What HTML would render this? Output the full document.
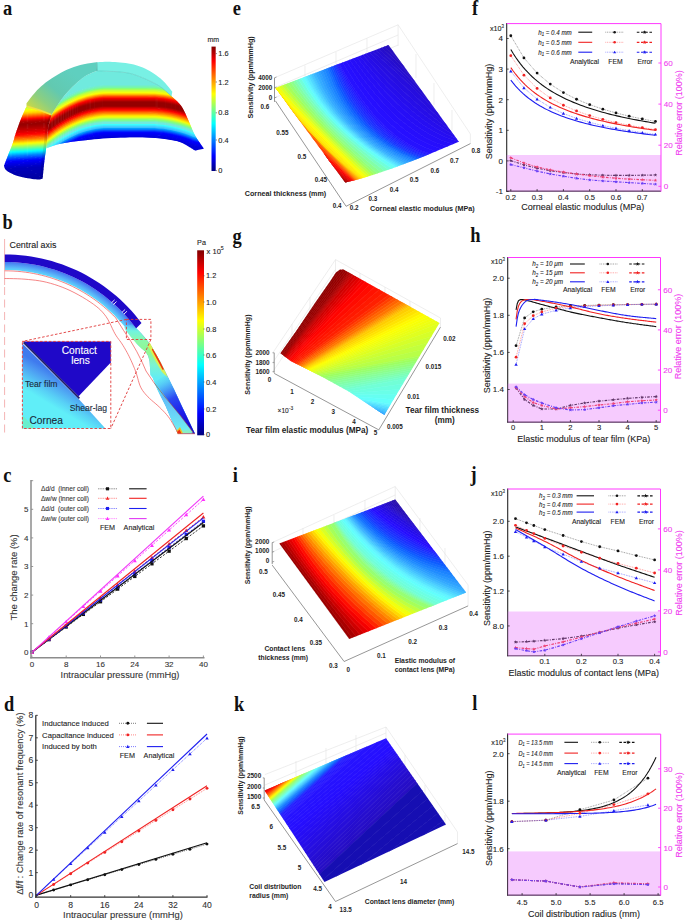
<!DOCTYPE html><html><head><meta charset="utf-8"><title>Figure</title><style>html,body{margin:0;padding:0;background:#fff;width:685px;height:922px;overflow:hidden;}svg{display:block;font-family:"Liberation Sans",sans-serif;}</style></head><body><svg width="685" height="922" viewBox="0 0 685 922" font-family='"Liberation Sans", sans-serif'><defs><linearGradient id="lg1" gradientUnits="userSpaceOnUse" x1="0" y1="46.6" x2="0" y2="171"><stop offset="0" stop-color="#800000"/><stop offset="0.12" stop-color="#ff0000"/><stop offset="0.38" stop-color="#ffff00"/><stop offset="0.62" stop-color="#00ffff"/><stop offset="0.88" stop-color="#0000ff"/><stop offset="1" stop-color="#000080"/></linearGradient><clipPath id="c2"><polygon points="51.4,115.2 52.68,113.1 54.47,110.1 56.58,106.64 58.82,103.14 61,100 63.13,97.24 65.33,94.57 67.59,92 69.92,89.51 72.3,87.1 74.78,84.72 77.36,82.37 79.97,80.14 82.57,78.09 85.1,76.3 87.73,74.77 90.5,73.45 93.14,72.35 95.4,71.46 97,70.8 100.97,70.97 106.68,71.18 113.2,71.48 119.62,71.9 125,72.5 129.19,73.28 132.8,74.2 136.07,75.26 139.26,76.46 142.6,77.8 146.19,79.31 149.86,80.99 153.47,82.78 156.9,84.64 160,86.5 162.86,88.53 165.58,90.77 168.01,92.97 170.03,94.86 171.5,96.2 172.85,97.44 174.77,99.14 176.99,101.18 179.19,103.44 181.1,105.8 182.67,108.29 184.09,111 185.42,113.86 186.74,116.81 188.1,119.8 189.47,122.89 190.81,126.12 192.17,129.39 193.58,132.58 195.1,135.6 196.89,138.6 198.91,141.66 200.93,144.53 202.67,146.96 203.9,148.7 195.1,150.5 193.45,149.47 191.07,147.98 188.44,146.38 186,145 184.07,143.93 182.33,142.99 180.33,142.13 177.6,141.3 173.84,140.48 169.36,139.69 164.6,138.98 160,138.4 155.64,137.97 151.3,137.66 146.96,137.45 142.6,137.3 138.21,137.22 133.81,137.23 129.4,137.3 125,137.4 120.62,137.53 116.24,137.71 111.87,137.93 107.5,138.2 103.14,138.53 98.78,138.92 94.41,139.35 90,139.8 85.39,140.27 80.66,140.78 76.09,141.29 72,141.8 68.61,142.25 65.71,142.66 62.96,143.14 60,143.8 56.43,144.81 52.55,146.08 49.04,147.27 46.6,148.1 48.2,127.3"/></clipPath><clipPath id="c3"><polygon points="26.5,106.4 25.74,108.11 24.65,110.5 23.39,113.32 22.1,116.31 20.9,119.2 19.76,122.12 18.6,125.24 17.46,128.38 16.4,131.36 15.5,134 14.85,136.1 14.4,137.79 14.02,139.35 13.53,141.09 12.8,143.3 11.69,146.24 10.31,149.72 8.85,153.33 7.48,156.69 6.4,159.4 5.63,161.4 5.04,162.97 4.6,164.17 4.26,165.08 4,165.8 4.23,166.44 4.48,167.33 4.88,168.38 5.51,169.47 6.5,170.5 7.88,171.49 9.58,172.53 11.54,173.55 13.7,174.53 16,175.4 18.6,176.19 21.54,176.91 24.58,177.57 27.48,178.13 30,178.6 32.12,178.95 34.01,179.21 35.68,179.37 37.17,179.47 38.5,179.5 39.67,179.44 40.65,179.26 41.47,179.04 42.11,178.84 42.6,178.7 42.86,176.1 43.21,172.39 43.63,168.11 44.08,163.8 44.5,160 44.92,156.81 45.35,153.86 45.79,151.02 46.21,148.11 46.6,145 46.93,141.54 47.2,137.85 47.47,134.11 47.79,130.52 48.2,127.3 48.79,124.33 49.52,121.48 50.27,118.9 50.94,116.76 51.4,115.2 49.88,114.52 47.76,113.54 45.26,112.42 42.6,111.29 40,110.3 37.22,109.39 34.1,108.48 31.03,107.63 28.37,106.91 26.5,106.4"/></clipPath><linearGradient id="lg4" gradientUnits="userSpaceOnUse" x1="70" y1="70" x2="35" y2="112"><stop offset="0" stop-color="#5fcfbf"/><stop offset="0.45" stop-color="#62c9b0"/><stop offset="0.75" stop-color="#8ccf80"/><stop offset="1" stop-color="#c8d848"/></linearGradient><linearGradient id="lg5" gradientUnits="userSpaceOnUse" x1="0" y1="250.3" x2="0" y2="435.3"><stop offset="0" stop-color="#800000"/><stop offset="0.12" stop-color="#ff0000"/><stop offset="0.38" stop-color="#ffff00"/><stop offset="0.62" stop-color="#00ffff"/><stop offset="0.88" stop-color="#0000ff"/><stop offset="1" stop-color="#000080"/></linearGradient><radialGradient id="rg6" gradientUnits="userSpaceOnUse" cx="4.8" cy="425" r="163.5"><stop offset="0" stop-color="#5af0ff"/><stop offset="0.94" stop-color="#5ae8fa"/><stop offset="0.96" stop-color="#5cc0fa"/><stop offset="0.99" stop-color="#4a84f2"/><stop offset="1" stop-color="#3e70ee"/></radialGradient><linearGradient id="lg7" gradientUnits="userSpaceOnUse" x1="0" y1="322" x2="0" y2="434"><stop offset="0" stop-color="#5ae8fa" stop-opacity="0"/><stop offset="0.08" stop-color="#70f4e0"/><stop offset="0.17" stop-color="#8cf8a8"/><stop offset="0.27" stop-color="#90f890"/><stop offset="0.38" stop-color="#7cf4d0"/><stop offset="0.5" stop-color="#62ecf4"/><stop offset="1" stop-color="#5ae4f8"/></linearGradient><linearGradient id="lg8" gradientUnits="userSpaceOnUse" x1="158" y1="376" x2="186" y2="428"><stop offset="0" stop-color="#5ad8f8" stop-opacity="0"/><stop offset="0.22" stop-color="#4aa8f8" stop-opacity="0.85"/><stop offset="0.45" stop-color="#2a48f2"/><stop offset="0.75" stop-color="#1c1ce8"/><stop offset="1" stop-color="#1808d0"/></linearGradient><linearGradient id="lg9" gradientUnits="userSpaceOnUse" x1="0" y1="382" x2="0" y2="434"><stop offset="0" stop-color="#5ae8fa" stop-opacity="0"/><stop offset="0.3" stop-color="#62b8f8" stop-opacity="0.9"/><stop offset="0.6" stop-color="#6ad0f8" stop-opacity="0.9"/><stop offset="0.9" stop-color="#70ecf0"/><stop offset="1" stop-color="#a0f0a0"/></linearGradient><linearGradient id="lg10" gradientUnits="userSpaceOnUse" x1="40" y1="360" x2="25" y2="385"><stop offset="0" stop-color="#4a80f0"/><stop offset="1" stop-color="#5ee8f8"/></linearGradient><linearGradient id="lg11" gradientUnits="userSpaceOnUse" x1="51" y1="371" x2="36" y2="396"><stop offset="0" stop-color="#3f7aee"/><stop offset="0.25" stop-color="#4c98f2"/><stop offset="0.7" stop-color="#58d0f6"/><stop offset="1" stop-color="#60eef8"/></linearGradient><clipPath id="c12"><polygon points="275.4,88.1 388.5,45.1 458.8,141.7 458.8,141.7 447.45,146.48 436.1,151.22 424.75,155.88 413.4,160.41 402.05,164.77 390.7,168.93 379.35,172.83 368,176.44 356.65,179.71 345.3,182.6"/></clipPath><clipPath id="c13"><polygon points="280.5,353.3 296.3,330.9 314.7,303.4 330.4,281 336,272.5 339.6,269.8 343.5,269.6 347,271.5 439.5,323.1 384.3,415 348.8,391.4 322.5,376.9 304.2,367.7 291,361.2"/></clipPath><clipPath id="c14"><polygon points="279.3,543.6 395.2,499.6 466.2,592.5 349.3,639"/></clipPath><clipPath id="c15"><polygon points="264.6,790.5 386,738.2 446,824.6 324.5,881.9"/></clipPath></defs><rect x="211.5" y="46.6" width="4.2" height="124.4" fill="url(#lg1)"/><text x="213.3" y="42" font-size="7" text-anchor="middle" fill="#222" stroke="#222" stroke-width="0.1">mm</text><line x1="215.7" y1="53.6" x2="217" y2="53.6" stroke="#444" stroke-width="0.6"/><text x="218.3" y="56.2" font-size="7.4" text-anchor="start" fill="#222" stroke="#222" stroke-width="0.1">1.6</text><line x1="215.7" y1="82" x2="217" y2="82" stroke="#444" stroke-width="0.6"/><text x="218.3" y="84.6" font-size="7.4" text-anchor="start" fill="#222" stroke="#222" stroke-width="0.1">1.2</text><line x1="215.7" y1="112.8" x2="217" y2="112.8" stroke="#444" stroke-width="0.6"/><text x="218.3" y="115.4" font-size="7.4" text-anchor="start" fill="#222" stroke="#222" stroke-width="0.1">0.8</text><line x1="215.7" y1="140" x2="217" y2="140" stroke="#444" stroke-width="0.6"/><text x="218.3" y="142.6" font-size="7.4" text-anchor="start" fill="#222" stroke="#222" stroke-width="0.1">0.4</text><line x1="215.7" y1="170.6" x2="217" y2="170.6" stroke="#444" stroke-width="0.6"/><text x="218.3" y="173.2" font-size="7.4" text-anchor="start" fill="#222" stroke="#222" stroke-width="0.1">0</text><g clip-path="url(#c2)"><polygon points="40,70.52 44.25,66.82 48.5,63.37 52.75,60.15 57,57.17 61.25,54.42 65.5,51.92 69.75,49.66 74,47.63 78.25,45.84 82.5,44.29 86.75,42.98 91,41.91 95.25,41.07 99.5,40.48 103.75,40.12 108,40 112.25,40 116.5,40 120.75,40 125,40 129.25,40 133.5,40 137.75,40 142,40 146.25,40 150.5,40 154.75,40.11 159,40.38 163.25,40.83 167.5,41.44 171.75,42.22 176,43.18 180.25,44.3 184.5,45.59 188.75,47.06 193,48.69 197.25,50 201.5,50 205.75,50 210,50 210,61.7 205.75,61.7 201.5,61.7 197.25,61.7 193,60.39 188.75,58.76 184.5,57.29 180.25,56 176,54.88 171.75,53.92 167.5,53.14 163.25,52.53 159,52.08 154.75,51.81 150.5,51.7 146.25,51.7 142,51.7 137.75,51.7 133.5,51.7 129.25,51.7 125,51.7 120.75,51.7 116.5,51.7 112.25,51.7 108,51.7 103.75,51.82 99.5,52.18 95.25,52.77 91,53.61 86.75,54.68 82.5,55.99 78.25,57.54 74,59.33 69.75,61.36 65.5,63.62 61.25,66.12 57,68.87 52.75,71.85 48.5,75.07 44.25,78.52 40,82.22" fill="#70eade"/><polygon points="40,81.52 44.25,77.82 48.5,74.37 52.75,71.15 57,68.17 61.25,65.42 65.5,62.92 69.75,60.66 74,58.63 78.25,56.84 82.5,55.29 86.75,53.98 91,52.91 95.25,52.07 99.5,51.48 103.75,51.12 108,51 112.25,51 116.5,51 120.75,51 125,51 129.25,51 133.5,51 137.75,51 142,51 146.25,51 150.5,51 154.75,51.11 159,51.38 163.25,51.83 167.5,52.44 171.75,53.22 176,54.18 180.25,55.3 184.5,56.59 188.75,58.06 193,59.69 197.25,61 201.5,61 205.75,61 210,61 210,72.7 205.75,72.7 201.5,72.7 197.25,72.7 193,71.39 188.75,69.76 184.5,68.29 180.25,67 176,65.88 171.75,64.92 167.5,64.14 163.25,63.53 159,63.08 154.75,62.81 150.5,62.7 146.25,62.7 142,62.7 137.75,62.7 133.5,62.7 129.25,62.7 125,62.7 120.75,62.7 116.5,62.7 112.25,62.7 108,62.7 103.75,62.82 99.5,63.18 95.25,63.77 91,64.61 86.75,65.68 82.5,66.99 78.25,68.54 74,70.33 69.75,72.36 65.5,74.62 61.25,77.12 57,79.87 52.75,82.85 48.5,86.07 44.25,89.52 40,93.22" fill="#70eade"/><polygon points="40,92.52 44.25,88.82 48.5,85.37 52.75,82.15 57,79.17 61.25,76.42 65.5,73.92 69.75,71.66 74,69.63 78.25,67.84 82.5,66.29 86.75,64.98 91,63.91 95.25,63.07 99.5,62.48 103.75,62.12 108,62 112.25,62 116.5,62 120.75,62 125,62 129.25,62 133.5,62 137.75,62 142,62 146.25,62 150.5,62 154.75,62.11 159,62.38 163.25,62.83 167.5,63.44 171.75,64.22 176,65.18 180.25,66.3 184.5,67.59 188.75,69.06 193,70.69 197.25,72 201.5,72 205.75,72 210,72 210,83.7 205.75,83.7 201.5,83.7 197.25,83.7 193,82.39 188.75,80.76 184.5,79.29 180.25,78 176,76.88 171.75,75.92 167.5,75.14 163.25,74.53 159,74.08 154.75,73.81 150.5,73.7 146.25,73.7 142,73.7 137.75,73.7 133.5,73.7 129.25,73.7 125,73.7 120.75,73.7 116.5,73.7 112.25,73.7 108,73.7 103.75,73.82 99.5,74.18 95.25,74.77 91,75.61 86.75,76.68 82.5,77.99 78.25,79.54 74,81.33 69.75,83.36 65.5,85.62 61.25,88.12 57,90.87 52.75,93.85 48.5,97.07 44.25,100.52 40,104.22" fill="#70eade"/><polygon points="40,103.52 44.25,99.82 48.5,96.37 52.75,93.15 57,90.17 61.25,87.42 65.5,84.92 69.75,82.66 74,80.63 78.25,78.84 82.5,77.29 86.75,75.98 91,74.91 95.25,74.07 99.5,73.48 103.75,73.12 108,73 112.25,73 116.5,73 120.75,73 125,73 129.25,73 133.5,73 137.75,73 142,73 146.25,73 150.5,73 154.75,73.11 159,73.38 163.25,73.83 167.5,74.44 171.75,75.22 176,76.18 180.25,77.3 184.5,78.59 188.75,80.06 193,81.69 197.25,83 201.5,83 205.75,83 210,83 210,94.7 205.75,94.7 201.5,94.7 197.25,94.7 193,93.39 188.75,91.76 184.5,90.29 180.25,89 176,87.88 171.75,86.92 167.5,86.14 163.25,85.53 159,85.08 154.75,84.81 150.5,84.7 146.25,84.7 142,84.7 137.75,84.7 133.5,84.7 129.25,84.7 125,84.7 120.75,84.7 116.5,84.7 112.25,84.7 108,84.7 103.75,84.82 99.5,85.18 95.25,85.77 91,86.61 86.75,87.68 82.5,88.99 78.25,90.54 74,92.33 69.75,94.36 65.5,96.62 61.25,99.12 57,101.87 52.75,104.85 48.5,108.07 44.25,111.52 40,115.22" fill="#70eade"/><polygon points="40,114.52 44.25,110.82 48.5,107.37 52.75,104.15 57,101.17 61.25,98.42 65.5,95.92 69.75,93.66 74,91.63 78.25,89.84 82.5,88.29 86.75,86.98 91,85.91 95.25,85.07 99.5,84.48 103.75,84.12 108,84 112.25,84 116.5,84 120.75,84 125,84 129.25,84 133.5,84 137.75,84 142,84 146.25,84 150.5,84 154.75,84.11 159,84.38 163.25,84.83 167.5,85.44 171.75,86.22 176,87.18 180.25,88.3 184.5,89.59 188.75,91.06 193,92.69 197.25,94 201.5,94 205.75,94 210,94 210,95.58 205.75,95.58 201.5,95.58 197.25,95.58 193,94.27 188.75,92.63 184.5,91.17 180.25,89.88 176,88.75 171.75,87.8 167.5,87.01 163.25,86.4 159,85.96 154.75,85.68 150.5,85.58 146.25,85.58 142,85.58 137.75,85.58 133.5,85.58 129.25,85.58 125,85.58 120.75,85.58 116.5,85.58 112.25,85.58 108,85.58 103.75,85.69 99.5,86.05 95.25,86.65 91,87.48 86.75,88.56 82.5,89.87 78.25,91.42 74,93.2 69.75,95.23 65.5,97.5 61.25,100 57,102.74 52.75,105.72 48.5,108.94 44.25,112.4 40,116.09" fill="#70eade"/><polygon points="40,115.39 44.25,111.7 48.5,108.24 52.75,105.02 57,102.04 61.25,99.3 65.5,96.8 69.75,94.53 74,92.5 78.25,90.72 82.5,89.17 86.75,87.86 91,86.78 95.25,85.95 99.5,85.35 103.75,84.99 108,84.88 112.25,84.88 116.5,84.88 120.75,84.88 125,84.88 129.25,84.88 133.5,84.88 137.75,84.88 142,84.88 146.25,84.88 150.5,84.88 154.75,84.98 159,85.26 163.25,85.7 167.5,86.31 171.75,87.1 176,88.05 180.25,89.18 184.5,90.47 188.75,91.93 193,93.57 197.25,94.88 201.5,94.88 205.75,94.88 210,94.88 210,96.45 205.75,96.45 201.5,96.45 197.25,96.45 193,95.14 188.75,93.51 184.5,92.04 180.25,90.75 176,89.63 171.75,88.67 167.5,87.89 163.25,87.28 159,86.83 154.75,86.56 150.5,86.45 146.25,86.45 142,86.45 137.75,86.45 133.5,86.45 129.25,86.45 125,86.45 120.75,86.45 116.5,86.45 112.25,86.45 108,86.45 103.75,86.57 99.5,86.93 95.25,87.52 91,88.36 86.75,89.43 82.5,90.74 78.25,92.29 74,94.08 69.75,96.11 65.5,98.37 61.25,100.87 57,103.62 52.75,106.6 48.5,109.82 44.25,113.27 40,116.97" fill="#72edd2"/><polygon points="40,116.27 44.25,112.57 48.5,109.12 52.75,105.9 57,102.92 61.25,100.17 65.5,97.67 69.75,95.41 74,93.38 78.25,91.59 82.5,90.04 86.75,88.73 91,87.66 95.25,86.82 99.5,86.23 103.75,85.87 108,85.75 112.25,85.75 116.5,85.75 120.75,85.75 125,85.75 129.25,85.75 133.5,85.75 137.75,85.75 142,85.75 146.25,85.75 150.5,85.75 154.75,85.86 159,86.13 163.25,86.58 167.5,87.19 171.75,87.97 176,88.93 180.25,90.05 184.5,91.34 188.75,92.81 193,94.44 197.25,95.75 201.5,95.75 205.75,95.75 210,95.75 210,97.33 205.75,97.33 201.5,97.33 197.25,97.33 193,96.02 188.75,94.38 184.5,92.92 180.25,91.63 176,90.5 171.75,89.55 167.5,88.76 163.25,88.15 159,87.71 154.75,87.43 150.5,87.33 146.25,87.33 142,87.33 137.75,87.33 133.5,87.33 129.25,87.33 125,87.33 120.75,87.33 116.5,87.33 112.25,87.33 108,87.33 103.75,87.44 99.5,87.8 95.25,88.4 91,89.23 86.75,90.31 82.5,91.62 78.25,93.17 74,94.95 69.75,96.98 65.5,99.25 61.25,101.75 57,104.49 52.75,107.47 48.5,110.69 44.25,114.15 40,117.84" fill="#75f0c1"/><polygon points="40,117.14 44.25,113.45 48.5,109.99 52.75,106.77 57,103.79 61.25,101.05 65.5,98.55 69.75,96.28 74,94.25 78.25,92.47 82.5,90.92 86.75,89.61 91,88.53 95.25,87.7 99.5,87.1 103.75,86.74 108,86.62 112.25,86.62 116.5,86.62 120.75,86.62 125,86.62 129.25,86.62 133.5,86.62 137.75,86.62 142,86.62 146.25,86.62 150.5,86.63 154.75,86.73 159,87.01 163.25,87.45 167.5,88.06 171.75,88.85 176,89.8 180.25,90.93 184.5,92.22 188.75,93.68 193,95.32 197.25,96.62 201.5,96.62 205.75,96.62 210,96.62 210,98.2 205.75,98.2 201.5,98.2 197.25,98.2 193,96.89 188.75,95.26 184.5,93.79 180.25,92.5 176,91.38 171.75,90.42 167.5,89.64 163.25,89.03 159,88.58 154.75,88.31 150.5,88.2 146.25,88.2 142,88.2 137.75,88.2 133.5,88.2 129.25,88.2 125,88.2 120.75,88.2 116.5,88.2 112.25,88.2 108,88.2 103.75,88.32 99.5,88.68 95.25,89.27 91,90.11 86.75,91.18 82.5,92.49 78.25,94.04 74,95.83 69.75,97.86 65.5,100.12 61.25,102.62 57,105.37 52.75,108.35 48.5,111.57 44.25,115.02 40,118.72" fill="#77f4b0"/><polygon points="40,118.02 44.25,114.32 48.5,110.87 52.75,107.65 57,104.67 61.25,101.92 65.5,99.42 69.75,97.16 74,95.13 78.25,93.34 82.5,91.79 86.75,90.48 91,89.41 95.25,88.57 99.5,87.98 103.75,87.62 108,87.5 112.25,87.5 116.5,87.5 120.75,87.5 125,87.5 129.25,87.5 133.5,87.5 137.75,87.5 142,87.5 146.25,87.5 150.5,87.5 154.75,87.61 159,87.88 163.25,88.33 167.5,88.94 171.75,89.72 176,90.68 180.25,91.8 184.5,93.09 188.75,94.56 193,96.19 197.25,97.5 201.5,97.5 205.75,97.5 210,97.5 210,98.83 205.75,98.83 201.5,98.83 197.25,98.83 193,97.52 188.75,95.88 184.5,94.42 180.25,93.13 176,92 171.75,91.05 167.5,90.26 163.25,89.65 159,89.21 154.75,88.93 150.5,88.83 146.25,88.83 142,88.83 137.75,88.83 133.5,88.83 129.25,88.83 125,88.83 120.75,88.83 116.5,88.83 112.25,88.83 108,88.83 103.75,88.94 99.5,89.3 95.25,89.9 91,90.73 86.75,91.81 82.5,93.12 78.25,94.67 74,96.45 69.75,98.48 65.5,100.75 61.25,103.25 57,105.99 52.75,108.97 48.5,112.19 44.25,115.65 40,119.34" fill="#7bf999"/><polygon points="40,118.64 44.25,114.95 48.5,111.49 52.75,108.27 57,105.29 61.25,102.55 65.5,100.05 69.75,97.78 74,95.75 78.25,93.97 82.5,92.42 86.75,91.11 91,90.03 95.25,89.2 99.5,88.6 103.75,88.24 108,88.12 112.25,88.12 116.5,88.12 120.75,88.12 125,88.12 129.25,88.12 133.5,88.12 137.75,88.12 142,88.12 146.25,88.12 150.5,88.13 154.75,88.23 159,88.51 163.25,88.95 167.5,89.56 171.75,90.35 176,91.3 180.25,92.43 184.5,93.72 188.75,95.18 193,96.82 197.25,98.12 201.5,98.12 205.75,98.12 210,98.12 210,99.45 205.75,99.45 201.5,99.45 197.25,99.45 193,98.14 188.75,96.51 184.5,95.04 180.25,93.75 176,92.63 171.75,91.67 167.5,90.89 163.25,90.28 159,89.83 154.75,89.56 150.5,89.45 146.25,89.45 142,89.45 137.75,89.45 133.5,89.45 129.25,89.45 125,89.45 120.75,89.45 116.5,89.45 112.25,89.45 108,89.45 103.75,89.57 99.5,89.93 95.25,90.52 91,91.36 86.75,92.43 82.5,93.74 78.25,95.29 74,97.08 69.75,99.11 65.5,101.37 61.25,103.87 57,106.62 52.75,109.6 48.5,112.82 44.25,116.27 40,119.97" fill="#83ff7c"/><polygon points="40,119.27 44.25,115.57 48.5,112.12 52.75,108.9 57,105.92 61.25,103.17 65.5,100.67 69.75,98.41 74,96.38 78.25,94.59 82.5,93.04 86.75,91.73 91,90.66 95.25,89.82 99.5,89.23 103.75,88.87 108,88.75 112.25,88.75 116.5,88.75 120.75,88.75 125,88.75 129.25,88.75 133.5,88.75 137.75,88.75 142,88.75 146.25,88.75 150.5,88.75 154.75,88.86 159,89.13 163.25,89.58 167.5,90.19 171.75,90.97 176,91.93 180.25,93.05 184.5,94.34 188.75,95.81 193,97.44 197.25,98.75 201.5,98.75 205.75,98.75 210,98.75 210,100.08 205.75,100.08 201.5,100.08 197.25,100.08 193,98.77 188.75,97.13 184.5,95.67 180.25,94.38 176,93.25 171.75,92.3 167.5,91.51 163.25,90.9 159,90.46 154.75,90.18 150.5,90.08 146.25,90.08 142,90.08 137.75,90.08 133.5,90.08 129.25,90.08 125,90.08 120.75,90.08 116.5,90.08 112.25,90.08 108,90.08 103.75,90.19 99.5,90.55 95.25,91.15 91,91.98 86.75,93.06 82.5,94.37 78.25,95.92 74,97.7 69.75,99.73 65.5,102 61.25,104.5 57,107.24 52.75,110.22 48.5,113.44 44.25,116.9 40,120.59" fill="#9aff65"/><polygon points="40,119.89 44.25,116.2 48.5,112.74 52.75,109.52 57,106.54 61.25,103.8 65.5,101.3 69.75,99.03 74,97 78.25,95.22 82.5,93.67 86.75,92.36 91,91.28 95.25,90.45 99.5,89.85 103.75,89.49 108,89.38 112.25,89.38 116.5,89.38 120.75,89.38 125,89.38 129.25,89.38 133.5,89.38 137.75,89.38 142,89.38 146.25,89.38 150.5,89.38 154.75,89.48 159,89.76 163.25,90.2 167.5,90.81 171.75,91.6 176,92.55 180.25,93.68 184.5,94.97 188.75,96.43 193,98.07 197.25,99.38 201.5,99.38 205.75,99.38 210,99.38 210,100.7 205.75,100.7 201.5,100.7 197.25,100.7 193,99.39 188.75,97.76 184.5,96.29 180.25,95 176,93.88 171.75,92.92 167.5,92.14 163.25,91.53 159,91.08 154.75,90.81 150.5,90.7 146.25,90.7 142,90.7 137.75,90.7 133.5,90.7 129.25,90.7 125,90.7 120.75,90.7 116.5,90.7 112.25,90.7 108,90.7 103.75,90.82 99.5,91.18 95.25,91.77 91,92.61 86.75,93.68 82.5,94.99 78.25,96.54 74,98.33 69.75,100.36 65.5,102.62 61.25,105.12 57,107.87 52.75,110.85 48.5,114.07 44.25,117.52 40,121.22" fill="#b1ff4e"/><polygon points="40,120.52 44.25,116.82 48.5,113.37 52.75,110.15 57,107.17 61.25,104.42 65.5,101.92 69.75,99.66 74,97.63 78.25,95.84 82.5,94.29 86.75,92.98 91,91.91 95.25,91.07 99.5,90.48 103.75,90.12 108,90 112.25,90 116.5,90 120.75,90 125,90 129.25,90 133.5,90 137.75,90 142,90 146.25,90 150.5,90 154.75,90.11 159,90.38 163.25,90.83 167.5,91.44 171.75,92.22 176,93.18 180.25,94.3 184.5,95.59 188.75,97.06 193,98.69 197.25,100 201.5,100 205.75,100 210,100 210,101.45 205.75,101.45 201.5,101.45 197.25,101.45 193,100.14 188.75,98.51 184.5,97.04 180.25,95.75 176,94.63 171.75,93.67 167.5,92.89 163.25,92.28 159,91.83 154.75,91.56 150.5,91.45 146.25,91.45 142,91.45 137.75,91.45 133.5,91.45 129.25,91.45 125,91.45 120.75,91.45 116.5,91.45 112.25,91.45 108,91.45 103.75,91.57 99.5,91.93 95.25,92.52 91,93.36 86.75,94.43 82.5,95.74 78.25,97.29 74,99.08 69.75,101.11 65.5,103.37 61.25,105.87 57,108.62 52.75,111.6 48.5,114.82 44.25,118.27 40,121.97" fill="#c5ff3a"/><polygon points="40,121.27 44.25,117.57 48.5,114.12 52.75,110.9 57,107.92 61.25,105.17 65.5,102.67 69.75,100.41 74,98.38 78.25,96.59 82.5,95.04 86.75,93.73 91,92.66 95.25,91.82 99.5,91.23 103.75,90.87 108,90.75 112.25,90.75 116.5,90.75 120.75,90.75 125,90.75 129.25,90.75 133.5,90.75 137.75,90.75 142,90.75 146.25,90.75 150.5,90.75 154.75,90.86 159,91.13 163.25,91.58 167.5,92.19 171.75,92.97 176,93.93 180.25,95.05 184.5,96.34 188.75,97.81 193,99.44 197.25,100.75 201.5,100.75 205.75,100.75 210,100.75 210,102.2 205.75,102.2 201.5,102.2 197.25,102.2 193,100.89 188.75,99.26 184.5,97.79 180.25,96.5 176,95.38 171.75,94.42 167.5,93.64 163.25,93.03 159,92.58 154.75,92.31 150.5,92.2 146.25,92.2 142,92.2 137.75,92.2 133.5,92.2 129.25,92.2 125,92.2 120.75,92.2 116.5,92.2 112.25,92.2 108,92.2 103.75,92.32 99.5,92.68 95.25,93.27 91,94.11 86.75,95.18 82.5,96.49 78.25,98.04 74,99.83 69.75,101.86 65.5,104.12 61.25,106.62 57,109.37 52.75,112.35 48.5,115.57 44.25,119.02 40,122.72" fill="#d6ff29"/><polygon points="40,122.02 44.25,118.32 48.5,114.87 52.75,111.65 57,108.67 61.25,105.92 65.5,103.42 69.75,101.16 74,99.13 78.25,97.34 82.5,95.79 86.75,94.48 91,93.41 95.25,92.57 99.5,91.98 103.75,91.62 108,91.5 112.25,91.5 116.5,91.5 120.75,91.5 125,91.5 129.25,91.5 133.5,91.5 137.75,91.5 142,91.5 146.25,91.5 150.5,91.5 154.75,91.61 159,91.88 163.25,92.33 167.5,92.94 171.75,93.72 176,94.68 180.25,95.8 184.5,97.09 188.75,98.56 193,100.19 197.25,101.5 201.5,101.5 205.75,101.5 210,101.5 210,102.95 205.75,102.95 201.5,102.95 197.25,102.95 193,101.64 188.75,100.01 184.5,98.54 180.25,97.25 176,96.13 171.75,95.17 167.5,94.39 163.25,93.78 159,93.33 154.75,93.06 150.5,92.95 146.25,92.95 142,92.95 137.75,92.95 133.5,92.95 129.25,92.95 125,92.95 120.75,92.95 116.5,92.95 112.25,92.95 108,92.95 103.75,93.07 99.5,93.43 95.25,94.02 91,94.86 86.75,95.93 82.5,97.24 78.25,98.79 74,100.58 69.75,102.61 65.5,104.87 61.25,107.37 57,110.12 52.75,113.1 48.5,116.32 44.25,119.77 40,123.47" fill="#e6ff19"/><polygon points="40,122.77 44.25,119.07 48.5,115.62 52.75,112.4 57,109.42 61.25,106.67 65.5,104.17 69.75,101.91 74,99.88 78.25,98.09 82.5,96.54 86.75,95.23 91,94.16 95.25,93.32 99.5,92.73 103.75,92.37 108,92.25 112.25,92.25 116.5,92.25 120.75,92.25 125,92.25 129.25,92.25 133.5,92.25 137.75,92.25 142,92.25 146.25,92.25 150.5,92.25 154.75,92.36 159,92.63 163.25,93.08 167.5,93.69 171.75,94.47 176,95.43 180.25,96.55 184.5,97.84 188.75,99.31 193,100.94 197.25,102.25 201.5,102.25 205.75,102.25 210,102.25 210,103.7 205.75,103.7 201.5,103.7 197.25,103.7 193,102.39 188.75,100.76 184.5,99.29 180.25,98 176,96.88 171.75,95.92 167.5,95.14 163.25,94.53 159,94.08 154.75,93.81 150.5,93.7 146.25,93.7 142,93.7 137.75,93.7 133.5,93.7 129.25,93.7 125,93.7 120.75,93.7 116.5,93.7 112.25,93.7 108,93.7 103.75,93.82 99.5,94.18 95.25,94.77 91,95.61 86.75,96.68 82.5,97.99 78.25,99.54 74,101.33 69.75,103.36 65.5,105.62 61.25,108.12 57,110.87 52.75,113.85 48.5,117.07 44.25,120.52 40,124.22" fill="#f7ff08"/><polygon points="40,123.52 44.25,119.82 48.5,116.37 52.75,113.15 57,110.17 61.25,107.42 65.5,104.92 69.75,102.66 74,100.63 78.25,98.84 82.5,97.29 86.75,95.98 91,94.91 95.25,94.07 99.5,93.48 103.75,93.12 108,93 112.25,93 116.5,93 120.75,93 125,93 129.25,93 133.5,93 137.75,93 142,93 146.25,93 150.5,93 154.75,93.11 159,93.38 163.25,93.83 167.5,94.44 171.75,95.22 176,96.18 180.25,97.3 184.5,98.59 188.75,100.06 193,101.69 197.25,103 201.5,103 205.75,103 210,103 210,104.33 205.75,104.33 201.5,104.33 197.25,104.33 193,103.02 188.75,101.38 184.5,99.92 180.25,98.63 176,97.5 171.75,96.55 167.5,95.76 163.25,95.15 159,94.71 154.75,94.43 150.5,94.33 146.25,94.33 142,94.33 137.75,94.33 133.5,94.33 129.25,94.33 125,94.33 120.75,94.33 116.5,94.33 112.25,94.33 108,94.33 103.75,94.44 99.5,94.8 95.25,95.4 91,96.23 86.75,97.31 82.5,98.62 78.25,100.17 74,101.95 69.75,103.98 65.5,106.25 61.25,108.75 57,111.49 52.75,114.47 48.5,117.69 44.25,121.15 40,124.84" fill="#ffef00"/><polygon points="40,124.14 44.25,120.45 48.5,116.99 52.75,113.77 57,110.79 61.25,108.05 65.5,105.55 69.75,103.28 74,101.25 78.25,99.47 82.5,97.92 86.75,96.61 91,95.53 95.25,94.7 99.5,94.1 103.75,93.74 108,93.62 112.25,93.62 116.5,93.62 120.75,93.62 125,93.62 129.25,93.62 133.5,93.62 137.75,93.62 142,93.62 146.25,93.62 150.5,93.63 154.75,93.73 159,94.01 163.25,94.45 167.5,95.06 171.75,95.85 176,96.8 180.25,97.93 184.5,99.22 188.75,100.68 193,102.32 197.25,103.62 201.5,103.62 205.75,103.62 210,103.62 210,104.95 205.75,104.95 201.5,104.95 197.25,104.95 193,103.64 188.75,102.01 184.5,100.54 180.25,99.25 176,98.13 171.75,97.17 167.5,96.39 163.25,95.78 159,95.33 154.75,95.06 150.5,94.95 146.25,94.95 142,94.95 137.75,94.95 133.5,94.95 129.25,94.95 125,94.95 120.75,94.95 116.5,94.95 112.25,94.95 108,94.95 103.75,95.07 99.5,95.43 95.25,96.02 91,96.86 86.75,97.93 82.5,99.24 78.25,100.79 74,102.58 69.75,104.61 65.5,106.87 61.25,109.37 57,112.12 52.75,115.1 48.5,118.32 44.25,121.77 40,125.47" fill="#ffcf00"/><polygon points="40,124.77 44.25,121.07 48.5,117.62 52.75,114.4 57,111.42 61.25,108.67 65.5,106.17 69.75,103.91 74,101.88 78.25,100.09 82.5,98.54 86.75,97.23 91,96.16 95.25,95.32 99.5,94.73 103.75,94.37 108,94.25 112.25,94.25 116.5,94.25 120.75,94.25 125,94.25 129.25,94.25 133.5,94.25 137.75,94.25 142,94.25 146.25,94.25 150.5,94.25 154.75,94.36 159,94.63 163.25,95.08 167.5,95.69 171.75,96.47 176,97.43 180.25,98.55 184.5,99.84 188.75,101.31 193,102.94 197.25,104.25 201.5,104.25 205.75,104.25 210,104.25 210,105.58 205.75,105.58 201.5,105.58 197.25,105.58 193,104.27 188.75,102.63 184.5,101.17 180.25,99.88 176,98.75 171.75,97.8 167.5,97.01 163.25,96.4 159,95.96 154.75,95.68 150.5,95.58 146.25,95.58 142,95.58 137.75,95.58 133.5,95.58 129.25,95.58 125,95.58 120.75,95.58 116.5,95.58 112.25,95.58 108,95.58 103.75,95.69 99.5,96.05 95.25,96.65 91,97.48 86.75,98.56 82.5,99.87 78.25,101.42 74,103.2 69.75,105.23 65.5,107.5 61.25,110 57,112.74 52.75,115.72 48.5,118.94 44.25,122.4 40,126.09" fill="#ffaf00"/><polygon points="40,125.39 44.25,121.7 48.5,118.24 52.75,115.02 57,112.04 61.25,109.3 65.5,106.8 69.75,104.53 74,102.5 78.25,100.72 82.5,99.17 86.75,97.86 91,96.78 95.25,95.95 99.5,95.35 103.75,94.99 108,94.88 112.25,94.88 116.5,94.88 120.75,94.88 125,94.88 129.25,94.88 133.5,94.88 137.75,94.88 142,94.88 146.25,94.88 150.5,94.88 154.75,94.98 159,95.26 163.25,95.7 167.5,96.31 171.75,97.1 176,98.05 180.25,99.18 184.5,100.47 188.75,101.93 193,103.57 197.25,104.88 201.5,104.88 205.75,104.88 210,104.88 210,106.2 205.75,106.2 201.5,106.2 197.25,106.2 193,104.89 188.75,103.26 184.5,101.79 180.25,100.5 176,99.38 171.75,98.42 167.5,97.64 163.25,97.03 159,96.58 154.75,96.31 150.5,96.2 146.25,96.2 142,96.2 137.75,96.2 133.5,96.2 129.25,96.2 125,96.2 120.75,96.2 116.5,96.2 112.25,96.2 108,96.2 103.75,96.32 99.5,96.68 95.25,97.27 91,98.11 86.75,99.18 82.5,100.49 78.25,102.04 74,103.83 69.75,105.86 65.5,108.12 61.25,110.62 57,113.37 52.75,116.35 48.5,119.57 44.25,123.02 40,126.72" fill="#ff8f00"/><polygon points="40,126.02 44.25,122.32 48.5,118.87 52.75,115.65 57,112.67 61.25,109.92 65.5,107.42 69.75,105.16 74,103.13 78.25,101.34 82.5,99.79 86.75,98.48 91,97.41 95.25,96.57 99.5,95.98 103.75,95.62 108,95.5 112.25,95.5 116.5,95.5 120.75,95.5 125,95.5 129.25,95.5 133.5,95.5 137.75,95.5 142,95.5 146.25,95.5 150.5,95.5 154.75,95.61 159,95.88 163.25,96.33 167.5,96.94 171.75,97.72 176,98.68 180.25,99.8 184.5,101.09 188.75,102.56 193,104.19 197.25,105.5 201.5,105.5 205.75,105.5 210,105.5 210,106.83 205.75,106.83 201.5,106.83 197.25,106.83 193,105.52 188.75,103.88 184.5,102.42 180.25,101.13 176,100 171.75,99.05 167.5,98.26 163.25,97.65 159,97.21 154.75,96.93 150.5,96.83 146.25,96.83 142,96.83 137.75,96.83 133.5,96.83 129.25,96.83 125,96.83 120.75,96.83 116.5,96.83 112.25,96.83 108,96.83 103.75,96.94 99.5,97.3 95.25,97.9 91,98.73 86.75,99.81 82.5,101.12 78.25,102.67 74,104.45 69.75,106.48 65.5,108.75 61.25,111.25 57,113.99 52.75,116.97 48.5,120.19 44.25,123.65 40,127.34" fill="#ff7000"/><polygon points="40,126.64 44.25,122.95 48.5,119.49 52.75,116.27 57,113.29 61.25,110.55 65.5,108.05 69.75,105.78 74,103.75 78.25,101.97 82.5,100.42 86.75,99.11 91,98.03 95.25,97.2 99.5,96.6 103.75,96.24 108,96.12 112.25,96.12 116.5,96.12 120.75,96.12 125,96.12 129.25,96.12 133.5,96.12 137.75,96.12 142,96.12 146.25,96.12 150.5,96.13 154.75,96.23 159,96.51 163.25,96.95 167.5,97.56 171.75,98.35 176,99.3 180.25,100.43 184.5,101.72 188.75,103.18 193,104.82 197.25,106.12 201.5,106.12 205.75,106.12 210,106.12 210,107.45 205.75,107.45 201.5,107.45 197.25,107.45 193,106.14 188.75,104.51 184.5,103.04 180.25,101.75 176,100.63 171.75,99.67 167.5,98.89 163.25,98.28 159,97.83 154.75,97.56 150.5,97.45 146.25,97.45 142,97.45 137.75,97.45 133.5,97.45 129.25,97.45 125,97.45 120.75,97.45 116.5,97.45 112.25,97.45 108,97.45 103.75,97.57 99.5,97.93 95.25,98.52 91,99.36 86.75,100.43 82.5,101.74 78.25,103.29 74,105.08 69.75,107.11 65.5,109.37 61.25,111.87 57,114.62 52.75,117.6 48.5,120.82 44.25,124.27 40,127.97" fill="#ff5000"/><polygon points="40,127.27 44.25,123.57 48.5,120.12 52.75,116.9 57,113.92 61.25,111.17 65.5,108.67 69.75,106.41 74,104.38 78.25,102.59 82.5,101.04 86.75,99.73 91,98.66 95.25,97.82 99.5,97.23 103.75,96.87 108,96.75 112.25,96.75 116.5,96.75 120.75,96.75 125,96.75 129.25,96.75 133.5,96.75 137.75,96.75 142,96.75 146.25,96.75 150.5,96.75 154.75,96.86 159,97.13 163.25,97.58 167.5,98.19 171.75,98.97 176,99.93 180.25,101.05 184.5,102.34 188.75,103.81 193,105.44 197.25,106.75 201.5,106.75 205.75,106.75 210,106.75 210,108.08 205.75,108.08 201.5,108.08 197.25,108.08 193,106.77 188.75,105.13 184.5,103.67 180.25,102.38 176,101.25 171.75,100.3 167.5,99.51 163.25,98.9 159,98.46 154.75,98.18 150.5,98.08 146.25,98.08 142,98.08 137.75,98.08 133.5,98.08 129.25,98.08 125,98.08 120.75,98.08 116.5,98.08 112.25,98.08 108,98.08 103.75,98.19 99.5,98.55 95.25,99.15 91,99.98 86.75,101.06 82.5,102.37 78.25,103.92 74,105.7 69.75,107.73 65.5,110 61.25,112.5 57,115.24 52.75,118.22 48.5,121.44 44.25,124.9 40,128.59" fill="#ff3000"/><polygon points="40,127.89 44.25,124.2 48.5,120.74 52.75,117.52 57,114.54 61.25,111.8 65.5,109.3 69.75,107.03 74,105 78.25,103.22 82.5,101.67 86.75,100.36 91,99.28 95.25,98.45 99.5,97.85 103.75,97.49 108,97.38 112.25,97.38 116.5,97.38 120.75,97.38 125,97.38 129.25,97.38 133.5,97.38 137.75,97.38 142,97.38 146.25,97.38 150.5,97.38 154.75,97.48 159,97.76 163.25,98.2 167.5,98.81 171.75,99.6 176,100.55 180.25,101.68 184.5,102.97 188.75,104.43 193,106.07 197.25,107.38 201.5,107.38 205.75,107.38 210,107.38 210,108.7 205.75,108.7 201.5,108.7 197.25,108.7 193,107.39 188.75,105.76 184.5,104.29 180.25,103 176,101.88 171.75,100.92 167.5,100.14 163.25,99.53 159,99.08 154.75,98.81 150.5,98.7 146.25,98.7 142,98.7 137.75,98.7 133.5,98.7 129.25,98.7 125,98.7 120.75,98.7 116.5,98.7 112.25,98.7 108,98.7 103.75,98.82 99.5,99.18 95.25,99.77 91,100.61 86.75,101.68 82.5,102.99 78.25,104.54 74,106.33 69.75,108.36 65.5,110.62 61.25,113.12 57,115.87 52.75,118.85 48.5,122.07 44.25,125.52 40,129.22" fill="#ff1000"/><polygon points="40,128.52 44.25,124.82 48.5,121.37 52.75,118.15 57,115.17 61.25,112.42 65.5,109.92 69.75,107.66 74,105.63 78.25,103.84 82.5,102.29 86.75,100.98 91,99.91 95.25,99.07 99.5,98.48 103.75,98.12 108,98 112.25,98 116.5,98 120.75,98 125,98 129.25,98 133.5,98 137.75,98 142,98 146.25,98 150.5,98 154.75,98.11 159,98.38 163.25,98.83 167.5,99.44 171.75,100.22 176,101.18 180.25,102.3 184.5,103.59 188.75,105.06 193,106.69 197.25,108 201.5,108 205.75,108 210,108 210,109.7 205.75,109.7 201.5,109.7 197.25,109.7 193,108.39 188.75,106.76 184.5,105.29 180.25,104 176,102.88 171.75,101.92 167.5,101.14 163.25,100.53 159,100.08 154.75,99.81 150.5,99.7 146.25,99.7 142,99.7 137.75,99.7 133.5,99.7 129.25,99.7 125,99.7 120.75,99.7 116.5,99.7 112.25,99.7 108,99.7 103.75,99.82 99.5,100.18 95.25,100.77 91,101.61 86.75,102.68 82.5,103.99 78.25,105.54 74,107.33 69.75,109.36 65.5,111.62 61.25,114.12 57,116.87 52.75,119.85 48.5,123.07 44.25,126.52 40,130.22" fill="#f20000"/><polygon points="40,129.52 44.25,125.82 48.5,122.37 52.75,119.15 57,116.17 61.25,113.42 65.5,110.92 69.75,108.66 74,106.63 78.25,104.84 82.5,103.29 86.75,101.98 91,100.91 95.25,100.07 99.5,99.48 103.75,99.12 108,99 112.25,99 116.5,99 120.75,99 125,99 129.25,99 133.5,99 137.75,99 142,99 146.25,99 150.5,99 154.75,99.11 159,99.38 163.25,99.83 167.5,100.44 171.75,101.22 176,102.18 180.25,103.3 184.5,104.59 188.75,106.06 193,107.69 197.25,109 201.5,109 205.75,109 210,109 210,110.7 205.75,110.7 201.5,110.7 197.25,110.7 193,109.39 188.75,107.76 184.5,106.29 180.25,105 176,103.88 171.75,102.92 167.5,102.14 163.25,101.53 159,101.08 154.75,100.81 150.5,100.7 146.25,100.7 142,100.7 137.75,100.7 133.5,100.7 129.25,100.7 125,100.7 120.75,100.7 116.5,100.7 112.25,100.7 108,100.7 103.75,100.82 99.5,101.18 95.25,101.77 91,102.61 86.75,103.68 82.5,104.99 78.25,106.54 74,108.33 69.75,110.36 65.5,112.62 61.25,115.12 57,117.87 52.75,120.85 48.5,124.07 44.25,127.52 40,131.22" fill="#d70000"/><polygon points="40,130.52 44.25,126.82 48.5,123.37 52.75,120.15 57,117.17 61.25,114.42 65.5,111.92 69.75,109.66 74,107.63 78.25,105.84 82.5,104.29 86.75,102.98 91,101.91 95.25,101.07 99.5,100.48 103.75,100.12 108,100 112.25,100 116.5,100 120.75,100 125,100 129.25,100 133.5,100 137.75,100 142,100 146.25,100 150.5,100 154.75,100.11 159,100.38 163.25,100.83 167.5,101.44 171.75,102.22 176,103.18 180.25,104.3 184.5,105.59 188.75,107.06 193,108.69 197.25,110 201.5,110 205.75,110 210,110 210,111.7 205.75,111.7 201.5,111.7 197.25,111.7 193,110.39 188.75,108.76 184.5,107.29 180.25,106 176,104.88 171.75,103.92 167.5,103.14 163.25,102.53 159,102.08 154.75,101.81 150.5,101.7 146.25,101.7 142,101.7 137.75,101.7 133.5,101.7 129.25,101.7 125,101.7 120.75,101.7 116.5,101.7 112.25,101.7 108,101.7 103.75,101.82 99.5,102.18 95.25,102.77 91,103.61 86.75,104.68 82.5,105.99 78.25,107.54 74,109.33 69.75,111.36 65.5,113.62 61.25,116.12 57,118.87 52.75,121.85 48.5,125.07 44.25,128.52 40,132.22" fill="#bc0000"/><polygon points="40,131.52 44.25,127.82 48.5,124.37 52.75,121.15 57,118.17 61.25,115.42 65.5,112.92 69.75,110.66 74,108.63 78.25,106.84 82.5,105.29 86.75,103.98 91,102.91 95.25,102.07 99.5,101.48 103.75,101.12 108,101 112.25,101 116.5,101 120.75,101 125,101 129.25,101 133.5,101 137.75,101 142,101 146.25,101 150.5,101 154.75,101.11 159,101.38 163.25,101.83 167.5,102.44 171.75,103.22 176,104.18 180.25,105.3 184.5,106.59 188.75,108.06 193,109.69 197.25,111 201.5,111 205.75,111 210,111 210,112.7 205.75,112.7 201.5,112.7 197.25,112.7 193,111.39 188.75,109.76 184.5,108.29 180.25,107 176,105.88 171.75,104.92 167.5,104.14 163.25,103.53 159,103.08 154.75,102.81 150.5,102.7 146.25,102.7 142,102.7 137.75,102.7 133.5,102.7 129.25,102.7 125,102.7 120.75,102.7 116.5,102.7 112.25,102.7 108,102.7 103.75,102.82 99.5,103.18 95.25,103.77 91,104.61 86.75,105.68 82.5,106.99 78.25,108.54 74,110.33 69.75,112.36 65.5,114.62 61.25,117.12 57,119.87 52.75,122.85 48.5,126.07 44.25,129.52 40,133.22" fill="#a10000"/><polygon points="40,132.52 44.25,128.82 48.5,125.37 52.75,122.15 57,119.17 61.25,116.42 65.5,113.92 69.75,111.66 74,109.63 78.25,107.84 82.5,106.29 86.75,104.98 91,103.91 95.25,103.07 99.5,102.48 103.75,102.12 108,102 112.25,102 116.5,102 120.75,102 125,102 129.25,102 133.5,102 137.75,102 142,102 146.25,102 150.5,102 154.75,102.11 159,102.38 163.25,102.83 167.5,103.44 171.75,104.22 176,105.18 180.25,106.3 184.5,107.59 188.75,109.06 193,110.69 197.25,112 201.5,112 205.75,112 210,112 210,113.7 205.75,113.7 201.5,113.7 197.25,113.7 193,112.39 188.75,110.76 184.5,109.29 180.25,108 176,106.88 171.75,105.92 167.5,105.14 163.25,104.53 159,104.08 154.75,103.81 150.5,103.7 146.25,103.7 142,103.7 137.75,103.7 133.5,103.7 129.25,103.7 125,103.7 120.75,103.7 116.5,103.7 112.25,103.7 108,103.7 103.75,103.82 99.5,104.18 95.25,104.77 91,105.61 86.75,106.68 82.5,107.99 78.25,109.54 74,111.33 69.75,113.36 65.5,115.62 61.25,118.12 57,120.87 52.75,123.85 48.5,127.07 44.25,130.52 40,134.22" fill="#940000"/><polygon points="40,133.52 44.25,129.82 48.5,126.37 52.75,123.15 57,120.17 61.25,117.42 65.5,114.92 69.75,112.66 74,110.63 78.25,108.84 82.5,107.29 86.75,105.98 91,104.91 95.25,104.07 99.5,103.48 103.75,103.12 108,103 112.25,103 116.5,103 120.75,103 125,103 129.25,103 133.5,103 137.75,103 142,103 146.25,103 150.5,103 154.75,103.11 159,103.38 163.25,103.83 167.5,104.44 171.75,105.22 176,106.18 180.25,107.3 184.5,108.59 188.75,110.06 193,111.69 197.25,113 201.5,113 205.75,113 210,113 210,114.7 205.75,114.7 201.5,114.7 197.25,114.7 193,113.39 188.75,111.76 184.5,110.29 180.25,109 176,107.88 171.75,106.92 167.5,106.14 163.25,105.53 159,105.08 154.75,104.81 150.5,104.7 146.25,104.7 142,104.7 137.75,104.7 133.5,104.7 129.25,104.7 125,104.7 120.75,104.7 116.5,104.7 112.25,104.7 108,104.7 103.75,104.82 99.5,105.18 95.25,105.77 91,106.61 86.75,107.68 82.5,108.99 78.25,110.54 74,112.33 69.75,114.36 65.5,116.62 61.25,119.12 57,121.87 52.75,124.85 48.5,128.07 44.25,131.52 40,135.22" fill="#940000"/><polygon points="40,134.52 44.25,130.82 48.5,127.37 52.75,124.15 57,121.17 61.25,118.42 65.5,115.92 69.75,113.66 74,111.63 78.25,109.84 82.5,108.29 86.75,106.98 91,105.91 95.25,105.07 99.5,104.48 103.75,104.12 108,104 112.25,104 116.5,104 120.75,104 125,104 129.25,104 133.5,104 137.75,104 142,104 146.25,104 150.5,104 154.75,104.11 159,104.38 163.25,104.83 167.5,105.44 171.75,106.22 176,107.18 180.25,108.3 184.5,109.59 188.75,111.06 193,112.69 197.25,114 201.5,114 205.75,114 210,114 210,115.7 205.75,115.7 201.5,115.7 197.25,115.7 193,114.39 188.75,112.76 184.5,111.29 180.25,110 176,108.88 171.75,107.92 167.5,107.14 163.25,106.53 159,106.08 154.75,105.81 150.5,105.7 146.25,105.7 142,105.7 137.75,105.7 133.5,105.7 129.25,105.7 125,105.7 120.75,105.7 116.5,105.7 112.25,105.7 108,105.7 103.75,105.82 99.5,106.18 95.25,106.77 91,107.61 86.75,108.68 82.5,109.99 78.25,111.54 74,113.33 69.75,115.36 65.5,117.62 61.25,120.12 57,122.87 52.75,125.85 48.5,129.07 44.25,132.52 40,136.22" fill="#940000"/><polygon points="40,135.52 44.25,131.82 48.5,128.37 52.75,125.15 57,122.17 61.25,119.42 65.5,116.92 69.75,114.66 74,112.63 78.25,110.84 82.5,109.29 86.75,107.98 91,106.91 95.25,106.07 99.5,105.48 103.75,105.12 108,105 112.25,105 116.5,105 120.75,105 125,105 129.25,105 133.5,105 137.75,105 142,105 146.25,105 150.5,105 154.75,105.11 159,105.38 163.25,105.83 167.5,106.44 171.75,107.22 176,108.18 180.25,109.3 184.5,110.59 188.75,112.06 193,113.69 197.25,115 201.5,115 205.75,115 210,115 210,116.7 205.75,116.7 201.5,116.7 197.25,116.7 193,115.39 188.75,113.76 184.5,112.29 180.25,111 176,109.88 171.75,108.92 167.5,108.14 163.25,107.53 159,107.08 154.75,106.81 150.5,106.7 146.25,106.7 142,106.7 137.75,106.7 133.5,106.7 129.25,106.7 125,106.7 120.75,106.7 116.5,106.7 112.25,106.7 108,106.7 103.75,106.82 99.5,107.18 95.25,107.77 91,108.61 86.75,109.68 82.5,110.99 78.25,112.54 74,114.33 69.75,116.36 65.5,118.62 61.25,121.12 57,123.87 52.75,126.85 48.5,130.07 44.25,133.52 40,137.22" fill="#940000"/><polygon points="40,136.52 44.25,132.82 48.5,129.37 52.75,126.15 57,123.17 61.25,120.42 65.5,117.92 69.75,115.66 74,113.63 78.25,111.84 82.5,110.29 86.75,108.98 91,107.91 95.25,107.07 99.5,106.48 103.75,106.12 108,106 112.25,106 116.5,106 120.75,106 125,106 129.25,106 133.5,106 137.75,106 142,106 146.25,106 150.5,106 154.75,106.11 159,106.38 163.25,106.83 167.5,107.44 171.75,108.22 176,109.18 180.25,110.3 184.5,111.59 188.75,113.06 193,114.69 197.25,116 201.5,116 205.75,116 210,116 210,117.58 205.75,117.58 201.5,117.58 197.25,117.58 193,116.27 188.75,114.63 184.5,113.17 180.25,111.88 176,110.75 171.75,109.8 167.5,109.01 163.25,108.4 159,107.96 154.75,107.68 150.5,107.58 146.25,107.58 142,107.58 137.75,107.58 133.5,107.58 129.25,107.58 125,107.58 120.75,107.58 116.5,107.58 112.25,107.58 108,107.58 103.75,107.69 99.5,108.05 95.25,108.65 91,109.48 86.75,110.56 82.5,111.87 78.25,113.42 74,115.2 69.75,117.23 65.5,119.5 61.25,122 57,124.74 52.75,127.72 48.5,130.94 44.25,134.4 40,138.09" fill="#a10000"/><polygon points="40,137.39 44.25,133.7 48.5,130.24 52.75,127.02 57,124.04 61.25,121.3 65.5,118.8 69.75,116.53 74,114.5 78.25,112.72 82.5,111.17 86.75,109.86 91,108.78 95.25,107.95 99.5,107.35 103.75,106.99 108,106.88 112.25,106.88 116.5,106.88 120.75,106.88 125,106.88 129.25,106.88 133.5,106.88 137.75,106.88 142,106.88 146.25,106.88 150.5,106.88 154.75,106.98 159,107.26 163.25,107.7 167.5,108.31 171.75,109.1 176,110.05 180.25,111.18 184.5,112.47 188.75,113.93 193,115.57 197.25,116.88 201.5,116.88 205.75,116.88 210,116.88 210,118.45 205.75,118.45 201.5,118.45 197.25,118.45 193,117.14 188.75,115.51 184.5,114.04 180.25,112.75 176,111.63 171.75,110.67 167.5,109.89 163.25,109.28 159,108.83 154.75,108.56 150.5,108.45 146.25,108.45 142,108.45 137.75,108.45 133.5,108.45 129.25,108.45 125,108.45 120.75,108.45 116.5,108.45 112.25,108.45 108,108.45 103.75,108.57 99.5,108.93 95.25,109.52 91,110.36 86.75,111.43 82.5,112.74 78.25,114.29 74,116.08 69.75,118.11 65.5,120.37 61.25,122.87 57,125.62 52.75,128.6 48.5,131.82 44.25,135.27 40,138.97" fill="#bc0000"/><polygon points="40,138.27 44.25,134.57 48.5,131.12 52.75,127.9 57,124.92 61.25,122.17 65.5,119.67 69.75,117.41 74,115.38 78.25,113.59 82.5,112.04 86.75,110.73 91,109.66 95.25,108.82 99.5,108.23 103.75,107.87 108,107.75 112.25,107.75 116.5,107.75 120.75,107.75 125,107.75 129.25,107.75 133.5,107.75 137.75,107.75 142,107.75 146.25,107.75 150.5,107.75 154.75,107.86 159,108.13 163.25,108.58 167.5,109.19 171.75,109.97 176,110.93 180.25,112.05 184.5,113.34 188.75,114.81 193,116.44 197.25,117.75 201.5,117.75 205.75,117.75 210,117.75 210,119.33 205.75,119.33 201.5,119.33 197.25,119.33 193,118.02 188.75,116.38 184.5,114.92 180.25,113.63 176,112.5 171.75,111.55 167.5,110.76 163.25,110.15 159,109.71 154.75,109.43 150.5,109.33 146.25,109.33 142,109.33 137.75,109.33 133.5,109.33 129.25,109.33 125,109.33 120.75,109.33 116.5,109.33 112.25,109.33 108,109.33 103.75,109.44 99.5,109.8 95.25,110.4 91,111.23 86.75,112.31 82.5,113.62 78.25,115.17 74,116.95 69.75,118.98 65.5,121.25 61.25,123.75 57,126.49 52.75,129.47 48.5,132.69 44.25,136.15 40,139.84" fill="#d70000"/><polygon points="40,139.14 44.25,135.45 48.5,131.99 52.75,128.77 57,125.79 61.25,123.05 65.5,120.55 69.75,118.28 74,116.25 78.25,114.47 82.5,112.92 86.75,111.61 91,110.53 95.25,109.7 99.5,109.1 103.75,108.74 108,108.62 112.25,108.62 116.5,108.62 120.75,108.62 125,108.62 129.25,108.62 133.5,108.62 137.75,108.62 142,108.62 146.25,108.62 150.5,108.63 154.75,108.73 159,109.01 163.25,109.45 167.5,110.06 171.75,110.85 176,111.8 180.25,112.93 184.5,114.22 188.75,115.68 193,117.32 197.25,118.62 201.5,118.62 205.75,118.62 210,118.62 210,120.2 205.75,120.2 201.5,120.2 197.25,120.2 193,118.89 188.75,117.26 184.5,115.79 180.25,114.5 176,113.38 171.75,112.42 167.5,111.64 163.25,111.03 159,110.58 154.75,110.31 150.5,110.2 146.25,110.2 142,110.2 137.75,110.2 133.5,110.2 129.25,110.2 125,110.2 120.75,110.2 116.5,110.2 112.25,110.2 108,110.2 103.75,110.32 99.5,110.68 95.25,111.27 91,112.11 86.75,113.18 82.5,114.49 78.25,116.04 74,117.83 69.75,119.86 65.5,122.12 61.25,124.62 57,127.37 52.75,130.35 48.5,133.57 44.25,137.02 40,140.72" fill="#f20000"/><polygon points="40,140.02 44.25,136.32 48.5,132.87 52.75,129.65 57,126.67 61.25,123.92 65.5,121.42 69.75,119.16 74,117.13 78.25,115.34 82.5,113.79 86.75,112.48 91,111.41 95.25,110.57 99.5,109.98 103.75,109.62 108,109.5 112.25,109.5 116.5,109.5 120.75,109.5 125,109.5 129.25,109.5 133.5,109.5 137.75,109.5 142,109.5 146.25,109.5 150.5,109.5 154.75,109.61 159,109.88 163.25,110.33 167.5,110.94 171.75,111.72 176,112.68 180.25,113.8 184.5,115.09 188.75,116.56 193,118.19 197.25,119.5 201.5,119.5 205.75,119.5 210,119.5 210,121.08 205.75,121.08 201.5,121.08 197.25,121.08 193,119.77 188.75,118.13 184.5,116.67 180.25,115.38 176,114.25 171.75,113.3 167.5,112.51 163.25,111.9 159,111.46 154.75,111.18 150.5,111.08 146.25,111.08 142,111.08 137.75,111.08 133.5,111.08 129.25,111.08 125,111.08 120.75,111.08 116.5,111.08 112.25,111.08 108,111.08 103.75,111.19 99.5,111.55 95.25,112.15 91,112.98 86.75,114.06 82.5,115.37 78.25,116.92 74,118.7 69.75,120.73 65.5,123 61.25,125.5 57,128.24 52.75,131.22 48.5,134.44 44.25,137.9 40,141.59" fill="#ff1000"/><polygon points="40,140.89 44.25,137.2 48.5,133.74 52.75,130.52 57,127.54 61.25,124.8 65.5,122.3 69.75,120.03 74,118 78.25,116.22 82.5,114.67 86.75,113.36 91,112.28 95.25,111.45 99.5,110.85 103.75,110.49 108,110.38 112.25,110.38 116.5,110.38 120.75,110.38 125,110.38 129.25,110.38 133.5,110.38 137.75,110.38 142,110.38 146.25,110.38 150.5,110.38 154.75,110.48 159,110.76 163.25,111.2 167.5,111.81 171.75,112.6 176,113.55 180.25,114.68 184.5,115.97 188.75,117.43 193,119.07 197.25,120.38 201.5,120.38 205.75,120.38 210,120.38 210,121.95 205.75,121.95 201.5,121.95 197.25,121.95 193,120.64 188.75,119.01 184.5,117.54 180.25,116.25 176,115.13 171.75,114.17 167.5,113.39 163.25,112.78 159,112.33 154.75,112.06 150.5,111.95 146.25,111.95 142,111.95 137.75,111.95 133.5,111.95 129.25,111.95 125,111.95 120.75,111.95 116.5,111.95 112.25,111.95 108,111.95 103.75,112.07 99.5,112.43 95.25,113.02 91,113.86 86.75,114.93 82.5,116.24 78.25,117.79 74,119.58 69.75,121.61 65.5,123.87 61.25,126.37 57,129.12 52.75,132.1 48.5,135.32 44.25,138.77 40,142.47" fill="#ff3000"/><polygon points="40,141.77 44.25,138.07 48.5,134.62 52.75,131.4 57,128.42 61.25,125.67 65.5,123.17 69.75,120.91 74,118.88 78.25,117.09 82.5,115.54 86.75,114.23 91,113.16 95.25,112.32 99.5,111.73 103.75,111.37 108,111.25 112.25,111.25 116.5,111.25 120.75,111.25 125,111.25 129.25,111.25 133.5,111.25 137.75,111.25 142,111.25 146.25,111.25 150.5,111.25 154.75,111.36 159,111.63 163.25,112.08 167.5,112.69 171.75,113.47 176,114.43 180.25,115.55 184.5,116.84 188.75,118.31 193,119.94 197.25,121.25 201.5,121.25 205.75,121.25 210,121.25 210,122.83 205.75,122.83 201.5,122.83 197.25,122.83 193,121.52 188.75,119.88 184.5,118.42 180.25,117.13 176,116 171.75,115.05 167.5,114.26 163.25,113.65 159,113.21 154.75,112.93 150.5,112.83 146.25,112.83 142,112.83 137.75,112.83 133.5,112.83 129.25,112.83 125,112.83 120.75,112.83 116.5,112.83 112.25,112.83 108,112.83 103.75,112.94 99.5,113.3 95.25,113.9 91,114.73 86.75,115.81 82.5,117.12 78.25,118.67 74,120.45 69.75,122.48 65.5,124.75 61.25,127.25 57,129.99 52.75,132.97 48.5,136.19 44.25,139.65 40,143.34" fill="#ff5000"/><polygon points="40,142.64 44.25,138.95 48.5,135.49 52.75,132.27 57,129.29 61.25,126.55 65.5,124.05 69.75,121.78 74,119.75 78.25,117.97 82.5,116.42 86.75,115.11 91,114.03 95.25,113.2 99.5,112.6 103.75,112.24 108,112.12 112.25,112.12 116.5,112.12 120.75,112.12 125,112.12 129.25,112.12 133.5,112.12 137.75,112.12 142,112.12 146.25,112.12 150.5,112.13 154.75,112.23 159,112.51 163.25,112.95 167.5,113.56 171.75,114.35 176,115.3 180.25,116.43 184.5,117.72 188.75,119.18 193,120.82 197.25,122.12 201.5,122.12 205.75,122.12 210,122.12 210,123.7 205.75,123.7 201.5,123.7 197.25,123.7 193,122.39 188.75,120.76 184.5,119.29 180.25,118 176,116.88 171.75,115.92 167.5,115.14 163.25,114.53 159,114.08 154.75,113.81 150.5,113.7 146.25,113.7 142,113.7 137.75,113.7 133.5,113.7 129.25,113.7 125,113.7 120.75,113.7 116.5,113.7 112.25,113.7 108,113.7 103.75,113.82 99.5,114.18 95.25,114.77 91,115.61 86.75,116.68 82.5,117.99 78.25,119.54 74,121.33 69.75,123.36 65.5,125.62 61.25,128.12 57,130.87 52.75,133.85 48.5,137.07 44.25,140.52 40,144.22" fill="#ff7000"/><polygon points="40,143.52 44.25,139.82 48.5,136.37 52.75,133.15 57,130.17 61.25,127.42 65.5,124.92 69.75,122.66 74,120.63 78.25,118.84 82.5,117.29 86.75,115.98 91,114.91 95.25,114.07 99.5,113.48 103.75,113.12 108,113 112.25,113 116.5,113 120.75,113 125,113 129.25,113 133.5,113 137.75,113 142,113 146.25,113 150.5,113 154.75,113.11 159,113.38 163.25,113.83 167.5,114.44 171.75,115.22 176,116.18 180.25,117.3 184.5,118.59 188.75,120.06 193,121.69 197.25,123 201.5,123 205.75,123 210,123 210,124.58 205.75,124.58 201.5,124.58 197.25,124.58 193,123.27 188.75,121.63 184.5,120.17 180.25,118.88 176,117.75 171.75,116.8 167.5,116.01 163.25,115.4 159,114.96 154.75,114.68 150.5,114.58 146.25,114.58 142,114.58 137.75,114.58 133.5,114.58 129.25,114.58 125,114.58 120.75,114.58 116.5,114.58 112.25,114.58 108,114.58 103.75,114.69 99.5,115.05 95.25,115.65 91,116.48 86.75,117.56 82.5,118.87 78.25,120.42 74,122.2 69.75,124.23 65.5,126.5 61.25,129 57,131.74 52.75,134.72 48.5,137.94 44.25,141.4 40,145.09" fill="#ff8f00"/><polygon points="40,144.39 44.25,140.7 48.5,137.24 52.75,134.02 57,131.04 61.25,128.3 65.5,125.8 69.75,123.53 74,121.5 78.25,119.72 82.5,118.17 86.75,116.86 91,115.78 95.25,114.95 99.5,114.35 103.75,113.99 108,113.88 112.25,113.88 116.5,113.88 120.75,113.88 125,113.88 129.25,113.88 133.5,113.88 137.75,113.88 142,113.88 146.25,113.88 150.5,113.88 154.75,113.98 159,114.26 163.25,114.7 167.5,115.31 171.75,116.1 176,117.05 180.25,118.18 184.5,119.47 188.75,120.93 193,122.57 197.25,123.88 201.5,123.88 205.75,123.88 210,123.88 210,125.45 205.75,125.45 201.5,125.45 197.25,125.45 193,124.14 188.75,122.51 184.5,121.04 180.25,119.75 176,118.63 171.75,117.67 167.5,116.89 163.25,116.28 159,115.83 154.75,115.56 150.5,115.45 146.25,115.45 142,115.45 137.75,115.45 133.5,115.45 129.25,115.45 125,115.45 120.75,115.45 116.5,115.45 112.25,115.45 108,115.45 103.75,115.57 99.5,115.93 95.25,116.52 91,117.36 86.75,118.43 82.5,119.74 78.25,121.29 74,123.08 69.75,125.11 65.5,127.37 61.25,129.87 57,132.62 52.75,135.6 48.5,138.82 44.25,142.27 40,145.97" fill="#ffaf00"/><polygon points="40,145.27 44.25,141.57 48.5,138.12 52.75,134.9 57,131.92 61.25,129.17 65.5,126.67 69.75,124.41 74,122.38 78.25,120.59 82.5,119.04 86.75,117.73 91,116.66 95.25,115.82 99.5,115.23 103.75,114.87 108,114.75 112.25,114.75 116.5,114.75 120.75,114.75 125,114.75 129.25,114.75 133.5,114.75 137.75,114.75 142,114.75 146.25,114.75 150.5,114.75 154.75,114.86 159,115.13 163.25,115.58 167.5,116.19 171.75,116.97 176,117.93 180.25,119.05 184.5,120.34 188.75,121.81 193,123.44 197.25,124.75 201.5,124.75 205.75,124.75 210,124.75 210,126.33 205.75,126.33 201.5,126.33 197.25,126.33 193,125.02 188.75,123.38 184.5,121.92 180.25,120.63 176,119.5 171.75,118.55 167.5,117.76 163.25,117.15 159,116.71 154.75,116.43 150.5,116.33 146.25,116.33 142,116.33 137.75,116.33 133.5,116.33 129.25,116.33 125,116.33 120.75,116.33 116.5,116.33 112.25,116.33 108,116.33 103.75,116.44 99.5,116.8 95.25,117.4 91,118.23 86.75,119.31 82.5,120.62 78.25,122.17 74,123.95 69.75,125.98 65.5,128.25 61.25,130.75 57,133.49 52.75,136.47 48.5,139.69 44.25,143.15 40,146.84" fill="#ffcf00"/><polygon points="40,146.14 44.25,142.45 48.5,138.99 52.75,135.77 57,132.79 61.25,130.05 65.5,127.55 69.75,125.28 74,123.25 78.25,121.47 82.5,119.92 86.75,118.61 91,117.53 95.25,116.7 99.5,116.1 103.75,115.74 108,115.62 112.25,115.62 116.5,115.62 120.75,115.62 125,115.62 129.25,115.62 133.5,115.62 137.75,115.62 142,115.62 146.25,115.62 150.5,115.63 154.75,115.73 159,116.01 163.25,116.45 167.5,117.06 171.75,117.85 176,118.8 180.25,119.93 184.5,121.22 188.75,122.68 193,124.32 197.25,125.62 201.5,125.62 205.75,125.62 210,125.62 210,127.2 205.75,127.2 201.5,127.2 197.25,127.2 193,125.89 188.75,124.26 184.5,122.79 180.25,121.5 176,120.38 171.75,119.42 167.5,118.64 163.25,118.03 159,117.58 154.75,117.31 150.5,117.2 146.25,117.2 142,117.2 137.75,117.2 133.5,117.2 129.25,117.2 125,117.2 120.75,117.2 116.5,117.2 112.25,117.2 108,117.2 103.75,117.32 99.5,117.68 95.25,118.27 91,119.11 86.75,120.18 82.5,121.49 78.25,123.04 74,124.83 69.75,126.86 65.5,129.12 61.25,131.62 57,134.37 52.75,137.35 48.5,140.57 44.25,144.02 40,147.72" fill="#ffef00"/><polygon points="40,147.02 44.25,143.32 48.5,139.87 52.75,136.65 57,133.67 61.25,130.92 65.5,128.42 69.75,126.16 74,124.13 78.25,122.34 82.5,120.79 86.75,119.48 91,118.41 95.25,117.57 99.5,116.98 103.75,116.62 108,116.5 112.25,116.5 116.5,116.5 120.75,116.5 125,116.5 129.25,116.5 133.5,116.5 137.75,116.5 142,116.5 146.25,116.5 150.5,116.5 154.75,116.61 159,116.88 163.25,117.33 167.5,117.94 171.75,118.72 176,119.68 180.25,120.8 184.5,122.09 188.75,123.56 193,125.19 197.25,126.5 201.5,126.5 205.75,126.5 210,126.5 210,128.07 205.75,128.07 201.5,128.07 197.25,128.07 193,126.77 188.75,125.13 184.5,123.67 180.25,122.38 176,121.25 171.75,120.3 167.5,119.51 163.25,118.9 159,118.46 154.75,118.18 150.5,118.08 146.25,118.08 142,118.08 137.75,118.08 133.5,118.08 129.25,118.08 125,118.08 120.75,118.08 116.5,118.08 112.25,118.08 108,118.08 103.75,118.19 99.5,118.55 95.25,119.15 91,119.98 86.75,121.06 82.5,122.37 78.25,123.92 74,125.7 69.75,127.73 65.5,130 61.25,132.5 57,135.24 52.75,138.22 48.5,141.44 44.25,144.9 40,148.59" fill="#efff10"/><polygon points="40,147.89 44.25,144.2 48.5,140.74 52.75,137.52 57,134.54 61.25,131.8 65.5,129.3 69.75,127.03 74,125 78.25,123.22 82.5,121.67 86.75,120.36 91,119.28 95.25,118.45 99.5,117.85 103.75,117.49 108,117.38 112.25,117.38 116.5,117.38 120.75,117.38 125,117.38 129.25,117.38 133.5,117.38 137.75,117.38 142,117.38 146.25,117.38 150.5,117.38 154.75,117.48 159,117.76 163.25,118.2 167.5,118.81 171.75,119.6 176,120.55 180.25,121.68 184.5,122.97 188.75,124.43 193,126.07 197.25,127.38 201.5,127.38 205.75,127.38 210,127.38 210,128.95 205.75,128.95 201.5,128.95 197.25,128.95 193,127.64 188.75,126.01 184.5,124.54 180.25,123.25 176,122.13 171.75,121.17 167.5,120.39 163.25,119.78 159,119.33 154.75,119.06 150.5,118.95 146.25,118.95 142,118.95 137.75,118.95 133.5,118.95 129.25,118.95 125,118.95 120.75,118.95 116.5,118.95 112.25,118.95 108,118.95 103.75,119.07 99.5,119.43 95.25,120.02 91,120.86 86.75,121.93 82.5,123.24 78.25,124.79 74,126.58 69.75,128.61 65.5,130.87 61.25,133.37 57,136.12 52.75,139.1 48.5,142.32 44.25,145.77 40,149.47" fill="#cfff30"/><polygon points="40,148.77 44.25,145.07 48.5,141.62 52.75,138.4 57,135.42 61.25,132.67 65.5,130.17 69.75,127.91 74,125.88 78.25,124.09 82.5,122.54 86.75,121.23 91,120.16 95.25,119.32 99.5,118.73 103.75,118.37 108,118.25 112.25,118.25 116.5,118.25 120.75,118.25 125,118.25 129.25,118.25 133.5,118.25 137.75,118.25 142,118.25 146.25,118.25 150.5,118.25 154.75,118.36 159,118.63 163.25,119.08 167.5,119.69 171.75,120.47 176,121.43 180.25,122.55 184.5,123.84 188.75,125.31 193,126.94 197.25,128.25 201.5,128.25 205.75,128.25 210,128.25 210,129.82 205.75,129.82 201.5,129.82 197.25,129.82 193,128.52 188.75,126.88 184.5,125.42 180.25,124.13 176,123 171.75,122.05 167.5,121.26 163.25,120.65 159,120.21 154.75,119.93 150.5,119.83 146.25,119.83 142,119.83 137.75,119.83 133.5,119.83 129.25,119.83 125,119.83 120.75,119.83 116.5,119.83 112.25,119.83 108,119.83 103.75,119.94 99.5,120.3 95.25,120.9 91,121.73 86.75,122.81 82.5,124.12 78.25,125.67 74,127.45 69.75,129.48 65.5,131.75 61.25,134.25 57,136.99 52.75,139.97 48.5,143.19 44.25,146.65 40,150.34" fill="#afff50"/><polygon points="40,149.64 44.25,145.95 48.5,142.49 52.75,139.27 57,136.29 61.25,133.55 65.5,131.05 69.75,128.78 74,126.75 78.25,124.97 82.5,123.42 86.75,122.11 91,121.03 95.25,120.2 99.5,119.6 103.75,119.24 108,119.12 112.25,119.12 116.5,119.12 120.75,119.12 125,119.12 129.25,119.12 133.5,119.12 137.75,119.12 142,119.12 146.25,119.12 150.5,119.13 154.75,119.23 159,119.51 163.25,119.95 167.5,120.56 171.75,121.35 176,122.3 180.25,123.43 184.5,124.72 188.75,126.18 193,127.82 197.25,129.12 201.5,129.12 205.75,129.12 210,129.12 210,130.7 205.75,130.7 201.5,130.7 197.25,130.7 193,129.39 188.75,127.76 184.5,126.29 180.25,125 176,123.88 171.75,122.92 167.5,122.14 163.25,121.53 159,121.08 154.75,120.81 150.5,120.7 146.25,120.7 142,120.7 137.75,120.7 133.5,120.7 129.25,120.7 125,120.7 120.75,120.7 116.5,120.7 112.25,120.7 108,120.7 103.75,120.82 99.5,121.18 95.25,121.77 91,122.61 86.75,123.68 82.5,124.99 78.25,126.54 74,128.33 69.75,130.36 65.5,132.62 61.25,135.12 57,137.87 52.75,140.85 48.5,144.07 44.25,147.52 40,151.22" fill="#8fff70"/><polygon points="40,150.52 44.25,146.82 48.5,143.37 52.75,140.15 57,137.17 61.25,134.42 65.5,131.92 69.75,129.66 74,127.63 78.25,125.84 82.5,124.29 86.75,122.98 91,121.91 95.25,121.07 99.5,120.48 103.75,120.12 108,120 112.25,120 116.5,120 120.75,120 125,120 129.25,120 133.5,120 137.75,120 142,120 146.25,120 150.5,120 154.75,120.11 159,120.38 163.25,120.83 167.5,121.44 171.75,122.22 176,123.18 180.25,124.3 184.5,125.59 188.75,127.06 193,128.69 197.25,130 201.5,130 205.75,130 210,130 210,131.7 205.75,131.7 201.5,131.7 197.25,131.7 193,130.39 188.75,128.76 184.5,127.29 180.25,126 176,124.88 171.75,123.92 167.5,123.14 163.25,122.53 159,122.08 154.75,121.81 150.5,121.7 146.25,121.7 142,121.7 137.75,121.7 133.5,121.7 129.25,121.7 125,121.7 120.75,121.7 116.5,121.7 112.25,121.7 108,121.7 103.75,121.82 99.5,122.18 95.25,122.77 91,123.61 86.75,124.68 82.5,125.99 78.25,127.54 74,129.33 69.75,131.36 65.5,133.62 61.25,136.12 57,138.87 52.75,141.85 48.5,145.07 44.25,148.52 40,152.22" fill="#7cfb93"/><polygon points="40,151.52 44.25,147.82 48.5,144.37 52.75,141.15 57,138.17 61.25,135.42 65.5,132.92 69.75,130.66 74,128.63 78.25,126.84 82.5,125.29 86.75,123.98 91,122.91 95.25,122.07 99.5,121.48 103.75,121.12 108,121 112.25,121 116.5,121 120.75,121 125,121 129.25,121 133.5,121 137.75,121 142,121 146.25,121 150.5,121 154.75,121.11 159,121.38 163.25,121.83 167.5,122.44 171.75,123.22 176,124.18 180.25,125.3 184.5,126.59 188.75,128.06 193,129.69 197.25,131 201.5,131 205.75,131 210,131 210,132.7 205.75,132.7 201.5,132.7 197.25,132.7 193,131.39 188.75,129.76 184.5,128.29 180.25,127 176,125.88 171.75,124.92 167.5,124.14 163.25,123.53 159,123.08 154.75,122.81 150.5,122.7 146.25,122.7 142,122.7 137.75,122.7 133.5,122.7 129.25,122.7 125,122.7 120.75,122.7 116.5,122.7 112.25,122.7 108,122.7 103.75,122.82 99.5,123.18 95.25,123.77 91,124.61 86.75,125.68 82.5,126.99 78.25,128.54 74,130.33 69.75,132.36 65.5,134.62 61.25,137.12 57,139.87 52.75,142.85 48.5,146.07 44.25,149.52 40,153.22" fill="#76f2ba"/><polygon points="40,152.52 44.25,148.82 48.5,145.37 52.75,142.15 57,139.17 61.25,136.42 65.5,133.92 69.75,131.66 74,129.63 78.25,127.84 82.5,126.29 86.75,124.98 91,123.91 95.25,123.07 99.5,122.48 103.75,122.12 108,122 112.25,122 116.5,122 120.75,122 125,122 129.25,122 133.5,122 137.75,122 142,122 146.25,122 150.5,122 154.75,122.11 159,122.38 163.25,122.83 167.5,123.44 171.75,124.22 176,125.18 180.25,126.3 184.5,127.59 188.75,129.06 193,130.69 197.25,132 201.5,132 205.75,132 210,132 210,133.7 205.75,133.7 201.5,133.7 197.25,133.7 193,132.39 188.75,130.76 184.5,129.29 180.25,128 176,126.88 171.75,125.92 167.5,125.14 163.25,124.53 159,124.08 154.75,123.81 150.5,123.7 146.25,123.7 142,123.7 137.75,123.7 133.5,123.7 129.25,123.7 125,123.7 120.75,123.7 116.5,123.7 112.25,123.7 108,123.7 103.75,123.82 99.5,124.18 95.25,124.77 91,125.61 86.75,126.68 82.5,127.99 78.25,129.54 74,131.33 69.75,133.36 65.5,135.62 61.25,138.12 57,140.87 52.75,143.85 48.5,147.07 44.25,150.52 40,154.22" fill="#70eade"/><polygon points="40,153.52 44.25,149.82 48.5,146.37 52.75,143.15 57,140.17 61.25,137.42 65.5,134.92 69.75,132.66 74,130.63 78.25,128.84 82.5,127.29 86.75,125.98 91,124.91 95.25,124.07 99.5,123.48 103.75,123.12 108,123 112.25,123 116.5,123 120.75,123 125,123 129.25,123 133.5,123 137.75,123 142,123 146.25,123 150.5,123 154.75,123.11 159,123.38 163.25,123.83 167.5,124.44 171.75,125.22 176,126.18 180.25,127.3 184.5,128.59 188.75,130.06 193,131.69 197.25,133 201.5,133 205.75,133 210,133 210,134.7 205.75,134.7 201.5,134.7 197.25,134.7 193,133.39 188.75,131.76 184.5,130.29 180.25,129 176,127.88 171.75,126.92 167.5,126.14 163.25,125.53 159,125.08 154.75,124.81 150.5,124.7 146.25,124.7 142,124.7 137.75,124.7 133.5,124.7 129.25,124.7 125,124.7 120.75,124.7 116.5,124.7 112.25,124.7 108,124.7 103.75,124.82 99.5,125.18 95.25,125.77 91,126.61 86.75,127.68 82.5,128.99 78.25,130.54 74,132.33 69.75,134.36 65.5,136.62 61.25,139.12 57,141.87 52.75,144.85 48.5,148.07 44.25,151.52 40,155.22" fill="#70eade"/><polygon points="40,154.52 44.25,150.82 48.5,147.37 52.75,144.15 57,141.17 61.25,138.42 65.5,135.92 69.75,133.66 74,131.63 78.25,129.84 82.5,128.29 86.75,126.98 91,125.91 95.25,125.07 99.5,124.48 103.75,124.12 108,124 112.25,124 116.5,124 120.75,124 125,124 129.25,124 133.5,124 137.75,124 142,124 146.25,124 150.5,124 154.75,124.11 159,124.38 163.25,124.83 167.5,125.44 171.75,126.22 176,127.18 180.25,128.3 184.5,129.59 188.75,131.06 193,132.69 197.25,134 201.5,134 205.75,134 210,134 210,135.7 205.75,135.7 201.5,135.7 197.25,135.7 193,134.39 188.75,132.76 184.5,131.29 180.25,130 176,128.88 171.75,127.92 167.5,127.14 163.25,126.53 159,126.08 154.75,125.81 150.5,125.7 146.25,125.7 142,125.7 137.75,125.7 133.5,125.7 129.25,125.7 125,125.7 120.75,125.7 116.5,125.7 112.25,125.7 108,125.7 103.75,125.82 99.5,126.18 95.25,126.77 91,127.61 86.75,128.68 82.5,129.99 78.25,131.54 74,133.33 69.75,135.36 65.5,137.62 61.25,140.12 57,142.87 52.75,145.85 48.5,149.07 44.25,152.52 40,156.22" fill="#3cfeff"/><polygon points="40,155.52 44.25,151.82 48.5,148.37 52.75,145.15 57,142.17 61.25,139.42 65.5,136.92 69.75,134.66 74,132.63 78.25,130.84 82.5,129.29 86.75,127.98 91,126.91 95.25,126.07 99.5,125.48 103.75,125.12 108,125 112.25,125 116.5,125 120.75,125 125,125 129.25,125 133.5,125 137.75,125 142,125 146.25,125 150.5,125 154.75,125.11 159,125.38 163.25,125.83 167.5,126.44 171.75,127.22 176,128.18 180.25,129.3 184.5,130.59 188.75,132.06 193,133.69 197.25,135 201.5,135 205.75,135 210,135 210,136.7 205.75,136.7 201.5,136.7 197.25,136.7 193,135.39 188.75,133.76 184.5,132.29 180.25,131 176,129.88 171.75,128.92 167.5,128.14 163.25,127.53 159,127.08 154.75,126.81 150.5,126.7 146.25,126.7 142,126.7 137.75,126.7 133.5,126.7 129.25,126.7 125,126.7 120.75,126.7 116.5,126.7 112.25,126.7 108,126.7 103.75,126.82 99.5,127.18 95.25,127.77 91,128.61 86.75,129.68 82.5,130.99 78.25,132.54 74,134.33 69.75,136.36 65.5,138.62 61.25,141.12 57,143.87 52.75,146.85 48.5,150.07 44.25,153.52 40,157.22" fill="#3ce9ff"/><polygon points="40,156.52 44.25,152.82 48.5,149.37 52.75,146.15 57,143.17 61.25,140.42 65.5,137.92 69.75,135.66 74,133.63 78.25,131.84 82.5,130.29 86.75,128.98 91,127.91 95.25,127.07 99.5,126.48 103.75,126.12 108,126 112.25,126 116.5,126 120.75,126 125,126 129.25,126 133.5,126 137.75,126 142,126 146.25,126 150.5,126 154.75,126.11 159,126.38 163.25,126.83 167.5,127.44 171.75,128.22 176,129.18 180.25,130.3 184.5,131.59 188.75,133.06 193,134.69 197.25,136 201.5,136 205.75,136 210,136 210,137.7 205.75,137.7 201.5,137.7 197.25,137.7 193,136.39 188.75,134.76 184.5,133.29 180.25,132 176,130.88 171.75,129.92 167.5,129.14 163.25,128.53 159,128.08 154.75,127.81 150.5,127.7 146.25,127.7 142,127.7 137.75,127.7 133.5,127.7 129.25,127.7 125,127.7 120.75,127.7 116.5,127.7 112.25,127.7 108,127.7 103.75,127.82 99.5,128.18 95.25,128.77 91,129.61 86.75,130.68 82.5,131.99 78.25,133.54 74,135.33 69.75,137.36 65.5,139.62 61.25,142.12 57,144.87 52.75,147.85 48.5,151.07 44.25,154.52 40,158.22" fill="#3cd3ff"/><polygon points="40,157.52 44.25,153.82 48.5,150.37 52.75,147.15 57,144.17 61.25,141.42 65.5,138.92 69.75,136.66 74,134.63 78.25,132.84 82.5,131.29 86.75,129.98 91,128.91 95.25,128.07 99.5,127.48 103.75,127.12 108,127 112.25,127 116.5,127 120.75,127 125,127 129.25,127 133.5,127 137.75,127 142,127 146.25,127 150.5,127 154.75,127.11 159,127.38 163.25,127.83 167.5,128.44 171.75,129.22 176,130.18 180.25,131.3 184.5,132.59 188.75,134.06 193,135.69 197.25,137 201.5,137 205.75,137 210,137 210,138.7 205.75,138.7 201.5,138.7 197.25,138.7 193,137.39 188.75,135.76 184.5,134.29 180.25,133 176,131.88 171.75,130.92 167.5,130.14 163.25,129.53 159,129.08 154.75,128.81 150.5,128.7 146.25,128.7 142,128.7 137.75,128.7 133.5,128.7 129.25,128.7 125,128.7 120.75,128.7 116.5,128.7 112.25,128.7 108,128.7 103.75,128.82 99.5,129.18 95.25,129.77 91,130.61 86.75,131.68 82.5,132.99 78.25,134.54 74,136.33 69.75,138.36 65.5,140.62 61.25,143.12 57,145.87 52.75,148.85 48.5,152.07 44.25,155.52 40,159.22" fill="#3cbdff"/><polygon points="40,158.52 44.25,154.82 48.5,151.37 52.75,148.15 57,145.17 61.25,142.42 65.5,139.92 69.75,137.66 74,135.63 78.25,133.84 82.5,132.29 86.75,130.98 91,129.91 95.25,129.07 99.5,128.48 103.75,128.12 108,128 112.25,128 116.5,128 120.75,128 125,128 129.25,128 133.5,128 137.75,128 142,128 146.25,128 150.5,128 154.75,128.11 159,128.38 163.25,128.83 167.5,129.44 171.75,130.22 176,131.18 180.25,132.3 184.5,133.59 188.75,135.06 193,136.69 197.25,138 201.5,138 205.75,138 210,138 210,139.32 205.75,139.32 201.5,139.32 197.25,139.32 193,138.02 188.75,136.38 184.5,134.92 180.25,133.63 176,132.5 171.75,131.55 167.5,130.76 163.25,130.15 159,129.71 154.75,129.43 150.5,129.33 146.25,129.32 142,129.32 137.75,129.32 133.5,129.32 129.25,129.32 125,129.32 120.75,129.32 116.5,129.32 112.25,129.32 108,129.32 103.75,129.44 99.5,129.8 95.25,130.4 91,131.23 86.75,132.31 82.5,133.62 78.25,135.17 74,136.95 69.75,138.98 65.5,141.25 61.25,143.75 57,146.49 52.75,149.47 48.5,152.69 44.25,156.15 40,159.84" fill="#00a6ff"/><polygon points="40,159.14 44.25,155.45 48.5,151.99 52.75,148.77 57,145.79 61.25,143.05 65.5,140.55 69.75,138.28 74,136.25 78.25,134.47 82.5,132.92 86.75,131.61 91,130.53 95.25,129.7 99.5,129.1 103.75,128.74 108,128.62 112.25,128.62 116.5,128.62 120.75,128.62 125,128.62 129.25,128.62 133.5,128.62 137.75,128.62 142,128.62 146.25,128.62 150.5,128.63 154.75,128.73 159,129.01 163.25,129.45 167.5,130.06 171.75,130.85 176,131.8 180.25,132.93 184.5,134.22 188.75,135.68 193,137.32 197.25,138.62 201.5,138.62 205.75,138.62 210,138.62 210,139.95 205.75,139.95 201.5,139.95 197.25,139.95 193,138.64 188.75,137.01 184.5,135.54 180.25,134.25 176,133.13 171.75,132.17 167.5,131.39 163.25,130.78 159,130.33 154.75,130.06 150.5,129.95 146.25,129.95 142,129.95 137.75,129.95 133.5,129.95 129.25,129.95 125,129.95 120.75,129.95 116.5,129.95 112.25,129.95 108,129.95 103.75,130.07 99.5,130.43 95.25,131.02 91,131.86 86.75,132.93 82.5,134.24 78.25,135.79 74,137.58 69.75,139.61 65.5,141.87 61.25,144.37 57,147.12 52.75,150.1 48.5,153.32 44.25,156.77 40,160.47" fill="#008cff"/><polygon points="40,159.77 44.25,156.07 48.5,152.62 52.75,149.4 57,146.42 61.25,143.67 65.5,141.17 69.75,138.91 74,136.88 78.25,135.09 82.5,133.54 86.75,132.23 91,131.16 95.25,130.32 99.5,129.73 103.75,129.37 108,129.25 112.25,129.25 116.5,129.25 120.75,129.25 125,129.25 129.25,129.25 133.5,129.25 137.75,129.25 142,129.25 146.25,129.25 150.5,129.25 154.75,129.36 159,129.63 163.25,130.08 167.5,130.69 171.75,131.47 176,132.43 180.25,133.55 184.5,134.84 188.75,136.31 193,137.94 197.25,139.25 201.5,139.25 205.75,139.25 210,139.25 210,140.57 205.75,140.57 201.5,140.57 197.25,140.57 193,139.27 188.75,137.63 184.5,136.17 180.25,134.88 176,133.75 171.75,132.8 167.5,132.01 163.25,131.4 159,130.96 154.75,130.68 150.5,130.58 146.25,130.57 142,130.57 137.75,130.57 133.5,130.57 129.25,130.57 125,130.57 120.75,130.57 116.5,130.57 112.25,130.57 108,130.57 103.75,130.69 99.5,131.05 95.25,131.65 91,132.48 86.75,133.56 82.5,134.87 78.25,136.42 74,138.2 69.75,140.23 65.5,142.5 61.25,145 57,147.74 52.75,150.72 48.5,153.94 44.25,157.4 40,161.09" fill="#0073ff"/><polygon points="40,160.39 44.25,156.7 48.5,153.24 52.75,150.02 57,147.04 61.25,144.3 65.5,141.8 69.75,139.53 74,137.5 78.25,135.72 82.5,134.17 86.75,132.86 91,131.78 95.25,130.95 99.5,130.35 103.75,129.99 108,129.88 112.25,129.88 116.5,129.88 120.75,129.88 125,129.88 129.25,129.88 133.5,129.88 137.75,129.88 142,129.88 146.25,129.88 150.5,129.88 154.75,129.98 159,130.26 163.25,130.7 167.5,131.31 171.75,132.1 176,133.05 180.25,134.18 184.5,135.47 188.75,136.93 193,138.57 197.25,139.88 201.5,139.88 205.75,139.88 210,139.88 210,141.2 205.75,141.2 201.5,141.2 197.25,141.2 193,139.89 188.75,138.26 184.5,136.79 180.25,135.5 176,134.38 171.75,133.42 167.5,132.64 163.25,132.03 159,131.58 154.75,131.31 150.5,131.2 146.25,131.2 142,131.2 137.75,131.2 133.5,131.2 129.25,131.2 125,131.2 120.75,131.2 116.5,131.2 112.25,131.2 108,131.2 103.75,131.32 99.5,131.68 95.25,132.27 91,133.11 86.75,134.18 82.5,135.49 78.25,137.04 74,138.83 69.75,140.86 65.5,143.12 61.25,145.62 57,148.37 52.75,151.35 48.5,154.57 44.25,158.02 40,161.72" fill="#0059ff"/><polygon points="40,161.02 44.25,157.32 48.5,153.87 52.75,150.65 57,147.67 61.25,144.92 65.5,142.42 69.75,140.16 74,138.13 78.25,136.34 82.5,134.79 86.75,133.48 91,132.41 95.25,131.57 99.5,130.98 103.75,130.62 108,130.5 112.25,130.5 116.5,130.5 120.75,130.5 125,130.5 129.25,130.5 133.5,130.5 137.75,130.5 142,130.5 146.25,130.5 150.5,130.5 154.75,130.61 159,130.88 163.25,131.33 167.5,131.94 171.75,132.72 176,133.68 180.25,134.8 184.5,136.09 188.75,137.56 193,139.19 197.25,140.5 201.5,140.5 205.75,140.5 210,140.5 210,141.7 205.75,141.7 201.5,141.7 197.25,141.7 193,140.39 188.75,138.76 184.5,137.29 180.25,136 176,134.88 171.75,133.92 167.5,133.14 163.25,132.53 159,132.08 154.75,131.81 150.5,131.7 146.25,131.7 142,131.7 137.75,131.7 133.5,131.7 129.25,131.7 125,131.7 120.75,131.7 116.5,131.7 112.25,131.7 108,131.7 103.75,131.82 99.5,132.18 95.25,132.77 91,133.61 86.75,134.68 82.5,135.99 78.25,137.54 74,139.33 69.75,141.36 65.5,143.62 61.25,146.12 57,148.87 52.75,151.85 48.5,155.07 44.25,158.52 40,162.22" fill="#0043ff"/><polygon points="40,161.52 44.25,157.82 48.5,154.37 52.75,151.15 57,148.17 61.25,145.42 65.5,142.92 69.75,140.66 74,138.63 78.25,136.84 82.5,135.29 86.75,133.98 91,132.91 95.25,132.07 99.5,131.48 103.75,131.12 108,131 112.25,131 116.5,131 120.75,131 125,131 129.25,131 133.5,131 137.75,131 142,131 146.25,131 150.5,131 154.75,131.11 159,131.38 163.25,131.83 167.5,132.44 171.75,133.22 176,134.18 180.25,135.3 184.5,136.59 188.75,138.06 193,139.69 197.25,141 201.5,141 205.75,141 210,141 210,142.2 205.75,142.2 201.5,142.2 197.25,142.2 193,140.89 188.75,139.26 184.5,137.79 180.25,136.5 176,135.38 171.75,134.42 167.5,133.64 163.25,133.03 159,132.58 154.75,132.31 150.5,132.2 146.25,132.2 142,132.2 137.75,132.2 133.5,132.2 129.25,132.2 125,132.2 120.75,132.2 116.5,132.2 112.25,132.2 108,132.2 103.75,132.32 99.5,132.68 95.25,133.27 91,134.11 86.75,135.18 82.5,136.49 78.25,138.04 74,139.83 69.75,141.86 65.5,144.12 61.25,146.62 57,149.37 52.75,152.35 48.5,155.57 44.25,159.02 40,162.72" fill="#0030ff"/><polygon points="40,162.02 44.25,158.32 48.5,154.87 52.75,151.65 57,148.67 61.25,145.92 65.5,143.42 69.75,141.16 74,139.13 78.25,137.34 82.5,135.79 86.75,134.48 91,133.41 95.25,132.57 99.5,131.98 103.75,131.62 108,131.5 112.25,131.5 116.5,131.5 120.75,131.5 125,131.5 129.25,131.5 133.5,131.5 137.75,131.5 142,131.5 146.25,131.5 150.5,131.5 154.75,131.61 159,131.88 163.25,132.33 167.5,132.94 171.75,133.72 176,134.68 180.25,135.8 184.5,137.09 188.75,138.56 193,140.19 197.25,141.5 201.5,141.5 205.75,141.5 210,141.5 210,142.7 205.75,142.7 201.5,142.7 197.25,142.7 193,141.39 188.75,139.76 184.5,138.29 180.25,137 176,135.88 171.75,134.92 167.5,134.14 163.25,133.53 159,133.08 154.75,132.81 150.5,132.7 146.25,132.7 142,132.7 137.75,132.7 133.5,132.7 129.25,132.7 125,132.7 120.75,132.7 116.5,132.7 112.25,132.7 108,132.7 103.75,132.82 99.5,133.18 95.25,133.77 91,134.61 86.75,135.68 82.5,136.99 78.25,138.54 74,140.33 69.75,142.36 65.5,144.62 61.25,147.12 57,149.87 52.75,152.85 48.5,156.07 44.25,159.52 40,163.22" fill="#001dff"/><polygon points="40,162.52 44.25,158.82 48.5,155.37 52.75,152.15 57,149.17 61.25,146.42 65.5,143.92 69.75,141.66 74,139.63 78.25,137.84 82.5,136.29 86.75,134.98 91,133.91 95.25,133.07 99.5,132.48 103.75,132.12 108,132 112.25,132 116.5,132 120.75,132 125,132 129.25,132 133.5,132 137.75,132 142,132 146.25,132 150.5,132 154.75,132.11 159,132.38 163.25,132.83 167.5,133.44 171.75,134.22 176,135.18 180.25,136.3 184.5,137.59 188.75,139.06 193,140.69 197.25,142 201.5,142 205.75,142 210,142 210,143.2 205.75,143.2 201.5,143.2 197.25,143.2 193,141.89 188.75,140.26 184.5,138.79 180.25,137.5 176,136.38 171.75,135.42 167.5,134.64 163.25,134.03 159,133.58 154.75,133.31 150.5,133.2 146.25,133.2 142,133.2 137.75,133.2 133.5,133.2 129.25,133.2 125,133.2 120.75,133.2 116.5,133.2 112.25,133.2 108,133.2 103.75,133.32 99.5,133.68 95.25,134.27 91,135.11 86.75,136.18 82.5,137.49 78.25,139.04 74,140.83 69.75,142.86 65.5,145.12 61.25,147.62 57,150.37 52.75,153.35 48.5,156.57 44.25,160.02 40,163.72" fill="#000aff"/><polygon points="40,163.02 44.25,159.32 48.5,155.87 52.75,152.65 57,149.67 61.25,146.92 65.5,144.42 69.75,142.16 74,140.13 78.25,138.34 82.5,136.79 86.75,135.48 91,134.41 95.25,133.57 99.5,132.98 103.75,132.62 108,132.5 112.25,132.5 116.5,132.5 120.75,132.5 125,132.5 129.25,132.5 133.5,132.5 137.75,132.5 142,132.5 146.25,132.5 150.5,132.5 154.75,132.61 159,132.88 163.25,133.33 167.5,133.94 171.75,134.72 176,135.68 180.25,136.8 184.5,138.09 188.75,139.56 193,141.19 197.25,142.5 201.5,142.5 205.75,142.5 210,142.5 210,144.32 205.75,144.32 201.5,144.32 197.25,144.32 193,143.02 188.75,141.38 184.5,139.92 180.25,138.63 176,137.5 171.75,136.55 167.5,135.76 163.25,135.15 159,134.71 154.75,134.43 150.5,134.33 146.25,134.32 142,134.32 137.75,134.32 133.5,134.32 129.25,134.32 125,134.32 120.75,134.32 116.5,134.32 112.25,134.32 108,134.32 103.75,134.44 99.5,134.8 95.25,135.4 91,136.23 86.75,137.31 82.5,138.62 78.25,140.17 74,141.95 69.75,143.98 65.5,146.25 61.25,148.75 57,151.49 52.75,154.47 48.5,157.69 44.25,161.15 40,164.84" fill="#0000fb"/><polygon points="40,164.14 44.25,160.45 48.5,156.99 52.75,153.77 57,150.79 61.25,148.05 65.5,145.55 69.75,143.28 74,141.25 78.25,139.47 82.5,137.92 86.75,136.61 91,135.53 95.25,134.7 99.5,134.1 103.75,133.74 108,133.62 112.25,133.62 116.5,133.62 120.75,133.62 125,133.62 129.25,133.62 133.5,133.62 137.75,133.62 142,133.62 146.25,133.62 150.5,133.63 154.75,133.73 159,134.01 163.25,134.45 167.5,135.06 171.75,135.85 176,136.8 180.25,137.93 184.5,139.22 188.75,140.68 193,142.32 197.25,143.62 201.5,143.62 205.75,143.62 210,143.62 210,145.45 205.75,145.45 201.5,145.45 197.25,145.45 193,144.14 188.75,142.51 184.5,141.04 180.25,139.75 176,138.63 171.75,137.67 167.5,136.89 163.25,136.28 159,135.83 154.75,135.56 150.5,135.45 146.25,135.45 142,135.45 137.75,135.45 133.5,135.45 129.25,135.45 125,135.45 120.75,135.45 116.5,135.45 112.25,135.45 108,135.45 103.75,135.57 99.5,135.93 95.25,136.52 91,137.36 86.75,138.43 82.5,139.74 78.25,141.29 74,143.08 69.75,145.11 65.5,147.37 61.25,149.87 57,152.62 52.75,155.6 48.5,158.82 44.25,162.27 40,165.97" fill="#0000f2"/><polygon points="40,165.27 44.25,161.57 48.5,158.12 52.75,154.9 57,151.92 61.25,149.17 65.5,146.67 69.75,144.41 74,142.38 78.25,140.59 82.5,139.04 86.75,137.73 91,136.66 95.25,135.82 99.5,135.23 103.75,134.87 108,134.75 112.25,134.75 116.5,134.75 120.75,134.75 125,134.75 129.25,134.75 133.5,134.75 137.75,134.75 142,134.75 146.25,134.75 150.5,134.75 154.75,134.86 159,135.13 163.25,135.58 167.5,136.19 171.75,136.97 176,137.93 180.25,139.05 184.5,140.34 188.75,141.81 193,143.44 197.25,144.75 201.5,144.75 205.75,144.75 210,144.75 210,146.57 205.75,146.57 201.5,146.57 197.25,146.57 193,145.27 188.75,143.63 184.5,142.17 180.25,140.88 176,139.75 171.75,138.8 167.5,138.01 163.25,137.4 159,136.96 154.75,136.68 150.5,136.58 146.25,136.57 142,136.57 137.75,136.57 133.5,136.57 129.25,136.57 125,136.57 120.75,136.57 116.5,136.57 112.25,136.57 108,136.57 103.75,136.69 99.5,137.05 95.25,137.65 91,138.48 86.75,139.56 82.5,140.87 78.25,142.42 74,144.2 69.75,146.23 65.5,148.5 61.25,151 57,153.74 52.75,156.72 48.5,159.94 44.25,163.4 40,167.09" fill="#0000e9"/><polygon points="40,166.39 44.25,162.7 48.5,159.24 52.75,156.02 57,153.04 61.25,150.3 65.5,147.8 69.75,145.53 74,143.5 78.25,141.72 82.5,140.17 86.75,138.86 91,137.78 95.25,136.95 99.5,136.35 103.75,135.99 108,135.88 112.25,135.88 116.5,135.88 120.75,135.88 125,135.88 129.25,135.88 133.5,135.88 137.75,135.88 142,135.88 146.25,135.88 150.5,135.88 154.75,135.98 159,136.26 163.25,136.7 167.5,137.31 171.75,138.1 176,139.05 180.25,140.18 184.5,141.47 188.75,142.93 193,144.57 197.25,145.88 201.5,145.88 205.75,145.88 210,145.88 210,147.7 205.75,147.7 201.5,147.7 197.25,147.7 193,146.39 188.75,144.76 184.5,143.29 180.25,142 176,140.88 171.75,139.92 167.5,139.14 163.25,138.53 159,138.08 154.75,137.81 150.5,137.7 146.25,137.7 142,137.7 137.75,137.7 133.5,137.7 129.25,137.7 125,137.7 120.75,137.7 116.5,137.7 112.25,137.7 108,137.7 103.75,137.82 99.5,138.18 95.25,138.77 91,139.61 86.75,140.68 82.5,141.99 78.25,143.54 74,145.33 69.75,147.36 65.5,149.62 61.25,152.12 57,154.87 52.75,157.85 48.5,161.07 44.25,164.52 40,168.22" fill="#0000e0"/><polygon points="40,167.52 44.25,163.82 48.5,160.37 52.75,157.15 57,154.17 61.25,151.42 65.5,148.92 69.75,146.66 74,144.63 78.25,142.84 82.5,141.29 86.75,139.98 91,138.91 95.25,138.07 99.5,137.48 103.75,137.12 108,137 112.25,137 116.5,137 120.75,137 125,137 129.25,137 133.5,137 137.75,137 142,137 146.25,137 150.5,137 154.75,137.11 159,137.38 163.25,137.83 167.5,138.44 171.75,139.22 176,140.18 180.25,141.3 184.5,142.59 188.75,144.06 193,145.69 197.25,147 201.5,147 205.75,147 210,147 210,150.95 205.75,150.95 201.5,150.95 197.25,150.95 193,149.64 188.75,148.01 184.5,146.54 180.25,145.25 176,144.13 171.75,143.17 167.5,142.39 163.25,141.78 159,141.33 154.75,141.06 150.5,140.95 146.25,140.95 142,140.95 137.75,140.95 133.5,140.95 129.25,140.95 125,140.95 120.75,140.95 116.5,140.95 112.25,140.95 108,140.95 103.75,141.07 99.5,141.43 95.25,142.02 91,142.86 86.75,143.93 82.5,145.24 78.25,146.79 74,148.58 69.75,150.61 65.5,152.87 61.25,155.37 57,158.12 52.75,161.1 48.5,164.32 44.25,167.77 40,171.47" fill="#0000d7"/><polygon points="40,170.77 44.25,167.07 48.5,163.62 52.75,160.4 57,157.42 61.25,154.67 65.5,152.17 69.75,149.91 74,147.88 78.25,146.09 82.5,144.54 86.75,143.23 91,142.16 95.25,141.32 99.5,140.73 103.75,140.37 108,140.25 112.25,140.25 116.5,140.25 120.75,140.25 125,140.25 129.25,140.25 133.5,140.25 137.75,140.25 142,140.25 146.25,140.25 150.5,140.25 154.75,140.36 159,140.63 163.25,141.08 167.5,141.69 171.75,142.47 176,143.43 180.25,144.55 184.5,145.84 188.75,147.31 193,148.94 197.25,150.25 201.5,150.25 205.75,150.25 210,150.25 210,154.2 205.75,154.2 201.5,154.2 197.25,154.2 193,152.89 188.75,151.26 184.5,149.79 180.25,148.5 176,147.38 171.75,146.42 167.5,145.64 163.25,145.03 159,144.58 154.75,144.31 150.5,144.2 146.25,144.2 142,144.2 137.75,144.2 133.5,144.2 129.25,144.2 125,144.2 120.75,144.2 116.5,144.2 112.25,144.2 108,144.2 103.75,144.32 99.5,144.68 95.25,145.27 91,146.11 86.75,147.18 82.5,148.49 78.25,150.04 74,151.83 69.75,153.86 65.5,156.12 61.25,158.62 57,161.37 52.75,164.35 48.5,167.57 44.25,171.02 40,174.72" fill="#0000d0"/><polygon points="40,174.02 44.25,170.32 48.5,166.87 52.75,163.65 57,160.67 61.25,157.92 65.5,155.42 69.75,153.16 74,151.13 78.25,149.34 82.5,147.79 86.75,146.48 91,145.41 95.25,144.57 99.5,143.98 103.75,143.62 108,143.5 112.25,143.5 116.5,143.5 120.75,143.5 125,143.5 129.25,143.5 133.5,143.5 137.75,143.5 142,143.5 146.25,143.5 150.5,143.5 154.75,143.61 159,143.88 163.25,144.33 167.5,144.94 171.75,145.72 176,146.68 180.25,147.8 184.5,149.09 188.75,150.56 193,152.19 197.25,153.5 201.5,153.5 205.75,153.5 210,153.5 210,157.45 205.75,157.45 201.5,157.45 197.25,157.45 193,156.14 188.75,154.51 184.5,153.04 180.25,151.75 176,150.63 171.75,149.67 167.5,148.89 163.25,148.28 159,147.83 154.75,147.56 150.5,147.45 146.25,147.45 142,147.45 137.75,147.45 133.5,147.45 129.25,147.45 125,147.45 120.75,147.45 116.5,147.45 112.25,147.45 108,147.45 103.75,147.57 99.5,147.93 95.25,148.52 91,149.36 86.75,150.43 82.5,151.74 78.25,153.29 74,155.08 69.75,157.11 65.5,159.37 61.25,161.87 57,164.62 52.75,167.6 48.5,170.82 44.25,174.27 40,177.97" fill="#0000c8"/><polygon points="40,177.27 44.25,173.57 48.5,170.12 52.75,166.9 57,163.92 61.25,161.17 65.5,158.67 69.75,156.41 74,154.38 78.25,152.59 82.5,151.04 86.75,149.73 91,148.66 95.25,147.82 99.5,147.23 103.75,146.87 108,146.75 112.25,146.75 116.5,146.75 120.75,146.75 125,146.75 129.25,146.75 133.5,146.75 137.75,146.75 142,146.75 146.25,146.75 150.5,146.75 154.75,146.86 159,147.13 163.25,147.58 167.5,148.19 171.75,148.97 176,149.93 180.25,151.05 184.5,152.34 188.75,153.81 193,155.44 197.25,156.75 201.5,156.75 205.75,156.75 210,156.75 210,160.7 205.75,160.7 201.5,160.7 197.25,160.7 193,159.39 188.75,157.76 184.5,156.29 180.25,155 176,153.88 171.75,152.92 167.5,152.14 163.25,151.53 159,151.08 154.75,150.81 150.5,150.7 146.25,150.7 142,150.7 137.75,150.7 133.5,150.7 129.25,150.7 125,150.7 120.75,150.7 116.5,150.7 112.25,150.7 108,150.7 103.75,150.82 99.5,151.18 95.25,151.77 91,152.61 86.75,153.68 82.5,154.99 78.25,156.54 74,158.33 69.75,160.36 65.5,162.62 61.25,165.12 57,167.87 52.75,170.85 48.5,174.07 44.25,177.52 40,181.22" fill="#0000c1"/></g><g clip-path="url(#c3)"><polygon points="0,96.8 1.38,96.72 2.75,96.64 4.12,96.55 5.5,96.47 6.88,96.39 8.25,96.31 9.62,96.22 11,96.14 12.38,96.06 13.75,95.97 15.12,95.89 16.5,95.81 17.88,95.73 19.25,95.64 20.62,95.56 22,95.48 23.38,95.4 24.75,95.31 26.12,95.23 27.5,95.15 28.88,95.07 30.25,94.98 31.62,94.9 33,94.82 34.38,94.74 35.75,94.66 37.12,94.57 38.5,94.49 39.88,94.41 41.25,94.33 42.62,94.24 44,94.16 45.38,94.08 46.75,94 48.12,93.91 49.5,93.83 50.88,93.75 52.25,93.67 53.62,93.58 55,93.5 55,97.45 53.62,97.53 52.25,97.62 50.88,97.7 49.5,97.78 48.12,97.86 46.75,97.95 45.38,98.03 44,98.11 42.62,98.19 41.25,98.28 39.88,98.36 38.5,98.44 37.12,98.52 35.75,98.61 34.38,98.69 33,98.77 31.62,98.85 30.25,98.94 28.88,99.02 27.5,99.1 26.12,99.18 24.75,99.27 23.38,99.35 22,99.43 20.62,99.51 19.25,99.59 17.88,99.68 16.5,99.76 15.12,99.84 13.75,99.92 12.38,100.01 11,100.09 9.62,100.17 8.25,100.26 6.88,100.34 5.5,100.42 4.12,100.5 2.75,100.59 1.38,100.67 0,100.75" fill="#b6ff49"/><polygon points="0,100.05 1.38,99.97 2.75,99.89 4.12,99.8 5.5,99.72 6.88,99.64 8.25,99.56 9.62,99.47 11,99.39 12.38,99.31 13.75,99.22 15.12,99.14 16.5,99.06 17.88,98.98 19.25,98.89 20.62,98.81 22,98.73 23.38,98.65 24.75,98.56 26.12,98.48 27.5,98.4 28.88,98.32 30.25,98.23 31.62,98.15 33,98.07 34.38,97.99 35.75,97.91 37.12,97.82 38.5,97.74 39.88,97.66 41.25,97.58 42.62,97.49 44,97.41 45.38,97.33 46.75,97.25 48.12,97.16 49.5,97.08 50.88,97 52.25,96.92 53.62,96.83 55,96.75 55,100.7 53.62,100.78 52.25,100.87 50.88,100.95 49.5,101.03 48.12,101.11 46.75,101.2 45.38,101.28 44,101.36 42.62,101.44 41.25,101.53 39.88,101.61 38.5,101.69 37.12,101.77 35.75,101.86 34.38,101.94 33,102.02 31.62,102.1 30.25,102.19 28.88,102.27 27.5,102.35 26.12,102.43 24.75,102.52 23.38,102.6 22,102.68 20.62,102.76 19.25,102.84 17.88,102.93 16.5,103.01 15.12,103.09 13.75,103.17 12.38,103.26 11,103.34 9.62,103.42 8.25,103.51 6.88,103.59 5.5,103.67 4.12,103.75 2.75,103.84 1.38,103.92 0,104" fill="#beff41"/><polygon points="0,103.3 1.38,103.22 2.75,103.14 4.12,103.05 5.5,102.97 6.88,102.89 8.25,102.81 9.62,102.72 11,102.64 12.38,102.56 13.75,102.47 15.12,102.39 16.5,102.31 17.88,102.23 19.25,102.14 20.62,102.06 22,101.98 23.38,101.9 24.75,101.81 26.12,101.73 27.5,101.65 28.88,101.57 30.25,101.48 31.62,101.4 33,101.32 34.38,101.24 35.75,101.16 37.12,101.07 38.5,100.99 39.88,100.91 41.25,100.83 42.62,100.74 44,100.66 45.38,100.58 46.75,100.5 48.12,100.41 49.5,100.33 50.88,100.25 52.25,100.17 53.62,100.08 55,100 55,103.95 53.62,104.03 52.25,104.12 50.88,104.2 49.5,104.28 48.12,104.36 46.75,104.45 45.38,104.53 44,104.61 42.62,104.69 41.25,104.78 39.88,104.86 38.5,104.94 37.12,105.02 35.75,105.11 34.38,105.19 33,105.27 31.62,105.35 30.25,105.44 28.88,105.52 27.5,105.6 26.12,105.68 24.75,105.77 23.38,105.85 22,105.93 20.62,106.01 19.25,106.09 17.88,106.18 16.5,106.26 15.12,106.34 13.75,106.42 12.38,106.51 11,106.59 9.62,106.67 8.25,106.76 6.88,106.84 5.5,106.92 4.12,107 2.75,107.09 1.38,107.17 0,107.25" fill="#c6ff39"/><polygon points="0,106.55 1.38,106.47 2.75,106.39 4.12,106.3 5.5,106.22 6.88,106.14 8.25,106.06 9.62,105.97 11,105.89 12.38,105.81 13.75,105.72 15.12,105.64 16.5,105.56 17.88,105.48 19.25,105.39 20.62,105.31 22,105.23 23.38,105.15 24.75,105.06 26.12,104.98 27.5,104.9 28.88,104.82 30.25,104.73 31.62,104.65 33,104.57 34.38,104.49 35.75,104.41 37.12,104.32 38.5,104.24 39.88,104.16 41.25,104.08 42.62,103.99 44,103.91 45.38,103.83 46.75,103.75 48.12,103.66 49.5,103.58 50.88,103.5 52.25,103.42 53.62,103.33 55,103.25 55,107.2 53.62,107.28 52.25,107.37 50.88,107.45 49.5,107.53 48.12,107.61 46.75,107.7 45.38,107.78 44,107.86 42.62,107.94 41.25,108.03 39.88,108.11 38.5,108.19 37.12,108.27 35.75,108.36 34.38,108.44 33,108.52 31.62,108.6 30.25,108.69 28.88,108.77 27.5,108.85 26.12,108.93 24.75,109.02 23.38,109.1 22,109.18 20.62,109.26 19.25,109.34 17.88,109.43 16.5,109.51 15.12,109.59 13.75,109.67 12.38,109.76 11,109.84 9.62,109.92 8.25,110.01 6.88,110.09 5.5,110.17 4.12,110.25 2.75,110.34 1.38,110.42 0,110.5" fill="#cdff32"/><polygon points="0,109.8 1.38,109.72 2.75,109.64 4.12,109.55 5.5,109.47 6.88,109.39 8.25,109.31 9.62,109.22 11,109.14 12.38,109.06 13.75,108.97 15.12,108.89 16.5,108.81 17.88,108.73 19.25,108.64 20.62,108.56 22,108.48 23.38,108.4 24.75,108.31 26.12,108.23 27.5,108.15 28.88,108.07 30.25,107.98 31.62,107.9 33,107.82 34.38,107.74 35.75,107.66 37.12,107.57 38.5,107.49 39.88,107.41 41.25,107.33 42.62,107.24 44,107.16 45.38,107.08 46.75,107 48.12,106.91 49.5,106.83 50.88,106.75 52.25,106.67 53.62,106.58 55,106.5 55,108.45 53.62,108.53 52.25,108.62 50.88,108.7 49.5,108.78 48.12,108.86 46.75,108.95 45.38,109.03 44,109.11 42.62,109.19 41.25,109.28 39.88,109.36 38.5,109.44 37.12,109.52 35.75,109.61 34.38,109.69 33,109.77 31.62,109.85 30.25,109.94 28.88,110.02 27.5,110.1 26.12,110.18 24.75,110.27 23.38,110.35 22,110.43 20.62,110.51 19.25,110.59 17.88,110.68 16.5,110.76 15.12,110.84 13.75,110.92 12.38,111.01 11,111.09 9.62,111.17 8.25,111.26 6.88,111.34 5.5,111.42 4.12,111.5 2.75,111.59 1.38,111.67 0,111.75" fill="#deff21"/><polygon points="0,111.05 1.38,110.97 2.75,110.89 4.12,110.8 5.5,110.72 6.88,110.64 8.25,110.56 9.62,110.47 11,110.39 12.38,110.31 13.75,110.22 15.12,110.14 16.5,110.06 17.88,109.98 19.25,109.89 20.62,109.81 22,109.73 23.38,109.65 24.75,109.56 26.12,109.48 27.5,109.4 28.88,109.32 30.25,109.23 31.62,109.15 33,109.07 34.38,108.99 35.75,108.91 37.12,108.82 38.5,108.74 39.88,108.66 41.25,108.58 42.62,108.49 44,108.41 45.38,108.33 46.75,108.25 48.12,108.16 49.5,108.08 50.88,108 52.25,107.92 53.62,107.83 55,107.75 55,109.7 53.62,109.78 52.25,109.87 50.88,109.95 49.5,110.03 48.12,110.11 46.75,110.2 45.38,110.28 44,110.36 42.62,110.44 41.25,110.53 39.88,110.61 38.5,110.69 37.12,110.77 35.75,110.86 34.38,110.94 33,111.02 31.62,111.1 30.25,111.19 28.88,111.27 27.5,111.35 26.12,111.43 24.75,111.52 23.38,111.6 22,111.68 20.62,111.76 19.25,111.84 17.88,111.93 16.5,112.01 15.12,112.09 13.75,112.17 12.38,112.26 11,112.34 9.62,112.42 8.25,112.51 6.88,112.59 5.5,112.67 4.12,112.75 2.75,112.84 1.38,112.92 0,113" fill="#f7ff08"/><polygon points="0,112.3 1.38,112.22 2.75,112.14 4.12,112.05 5.5,111.97 6.88,111.89 8.25,111.81 9.62,111.72 11,111.64 12.38,111.56 13.75,111.47 15.12,111.39 16.5,111.31 17.88,111.23 19.25,111.14 20.62,111.06 22,110.98 23.38,110.9 24.75,110.81 26.12,110.73 27.5,110.65 28.88,110.57 30.25,110.48 31.62,110.4 33,110.32 34.38,110.24 35.75,110.16 37.12,110.07 38.5,109.99 39.88,109.91 41.25,109.83 42.62,109.74 44,109.66 45.38,109.58 46.75,109.5 48.12,109.41 49.5,109.33 50.88,109.25 52.25,109.17 53.62,109.08 55,109 55,110.95 53.62,111.03 52.25,111.12 50.88,111.2 49.5,111.28 48.12,111.36 46.75,111.45 45.38,111.53 44,111.61 42.62,111.69 41.25,111.78 39.88,111.86 38.5,111.94 37.12,112.02 35.75,112.11 34.38,112.19 33,112.27 31.62,112.35 30.25,112.44 28.88,112.52 27.5,112.6 26.12,112.68 24.75,112.77 23.38,112.85 22,112.93 20.62,113.01 19.25,113.09 17.88,113.18 16.5,113.26 15.12,113.34 13.75,113.42 12.38,113.51 11,113.59 9.62,113.67 8.25,113.76 6.88,113.84 5.5,113.92 4.12,114 2.75,114.09 1.38,114.17 0,114.25" fill="#ffed00"/><polygon points="0,113.55 1.38,113.47 2.75,113.39 4.12,113.3 5.5,113.22 6.88,113.14 8.25,113.06 9.62,112.97 11,112.89 12.38,112.81 13.75,112.72 15.12,112.64 16.5,112.56 17.88,112.48 19.25,112.39 20.62,112.31 22,112.23 23.38,112.15 24.75,112.06 26.12,111.98 27.5,111.9 28.88,111.82 30.25,111.73 31.62,111.65 33,111.57 34.38,111.49 35.75,111.41 37.12,111.32 38.5,111.24 39.88,111.16 41.25,111.08 42.62,110.99 44,110.91 45.38,110.83 46.75,110.75 48.12,110.66 49.5,110.58 50.88,110.5 52.25,110.42 53.62,110.33 55,110.25 55,112.2 53.62,112.28 52.25,112.37 50.88,112.45 49.5,112.53 48.12,112.61 46.75,112.7 45.38,112.78 44,112.86 42.62,112.94 41.25,113.03 39.88,113.11 38.5,113.19 37.12,113.27 35.75,113.36 34.38,113.44 33,113.52 31.62,113.6 30.25,113.69 28.88,113.77 27.5,113.85 26.12,113.93 24.75,114.02 23.38,114.1 22,114.18 20.62,114.26 19.25,114.34 17.88,114.43 16.5,114.51 15.12,114.59 13.75,114.67 12.38,114.76 11,114.84 9.62,114.92 8.25,115.01 6.88,115.09 5.5,115.17 4.12,115.25 2.75,115.34 1.38,115.42 0,115.5" fill="#ffd400"/><polygon points="0,114.8 1.38,114.72 2.75,114.64 4.12,114.55 5.5,114.47 6.88,114.39 8.25,114.31 9.62,114.22 11,114.14 12.38,114.06 13.75,113.97 15.12,113.89 16.5,113.81 17.88,113.73 19.25,113.64 20.62,113.56 22,113.48 23.38,113.4 24.75,113.31 26.12,113.23 27.5,113.15 28.88,113.07 30.25,112.98 31.62,112.9 33,112.82 34.38,112.74 35.75,112.66 37.12,112.57 38.5,112.49 39.88,112.41 41.25,112.33 42.62,112.24 44,112.16 45.38,112.08 46.75,112 48.12,111.91 49.5,111.83 50.88,111.75 52.25,111.67 53.62,111.58 55,111.5 55,113.2 53.62,113.28 52.25,113.37 50.88,113.45 49.5,113.53 48.12,113.61 46.75,113.7 45.38,113.78 44,113.86 42.62,113.94 41.25,114.03 39.88,114.11 38.5,114.19 37.12,114.27 35.75,114.36 34.38,114.44 33,114.52 31.62,114.6 30.25,114.69 28.88,114.77 27.5,114.85 26.12,114.93 24.75,115.02 23.38,115.1 22,115.18 20.62,115.26 19.25,115.34 17.88,115.43 16.5,115.51 15.12,115.59 13.75,115.67 12.38,115.76 11,115.84 9.62,115.92 8.25,116.01 6.88,116.09 5.5,116.17 4.12,116.25 2.75,116.34 1.38,116.42 0,116.5" fill="#ffb500"/><polygon points="0,115.8 1.38,115.72 2.75,115.64 4.12,115.55 5.5,115.47 6.88,115.39 8.25,115.31 9.62,115.22 11,115.14 12.38,115.06 13.75,114.97 15.12,114.89 16.5,114.81 17.88,114.73 19.25,114.64 20.62,114.56 22,114.48 23.38,114.4 24.75,114.31 26.12,114.23 27.5,114.15 28.88,114.07 30.25,113.98 31.62,113.9 33,113.82 34.38,113.74 35.75,113.66 37.12,113.57 38.5,113.49 39.88,113.41 41.25,113.33 42.62,113.24 44,113.16 45.38,113.08 46.75,113 48.12,112.91 49.5,112.83 50.88,112.75 52.25,112.67 53.62,112.58 55,112.5 55,114.2 53.62,114.28 52.25,114.37 50.88,114.45 49.5,114.53 48.12,114.61 46.75,114.7 45.38,114.78 44,114.86 42.62,114.94 41.25,115.03 39.88,115.11 38.5,115.19 37.12,115.27 35.75,115.36 34.38,115.44 33,115.52 31.62,115.6 30.25,115.69 28.88,115.77 27.5,115.85 26.12,115.93 24.75,116.02 23.38,116.1 22,116.18 20.62,116.26 19.25,116.34 17.88,116.43 16.5,116.51 15.12,116.59 13.75,116.67 12.38,116.76 11,116.84 9.62,116.92 8.25,117.01 6.88,117.09 5.5,117.17 4.12,117.25 2.75,117.34 1.38,117.42 0,117.5" fill="#ff9100"/><polygon points="0,116.8 1.38,116.72 2.75,116.64 4.12,116.55 5.5,116.47 6.88,116.39 8.25,116.31 9.62,116.22 11,116.14 12.38,116.06 13.75,115.97 15.12,115.89 16.5,115.81 17.88,115.73 19.25,115.64 20.62,115.56 22,115.48 23.38,115.4 24.75,115.31 26.12,115.23 27.5,115.15 28.88,115.07 30.25,114.98 31.62,114.9 33,114.82 34.38,114.74 35.75,114.66 37.12,114.57 38.5,114.49 39.88,114.41 41.25,114.33 42.62,114.24 44,114.16 45.38,114.08 46.75,114 48.12,113.91 49.5,113.83 50.88,113.75 52.25,113.67 53.62,113.58 55,113.5 55,115.2 53.62,115.28 52.25,115.37 50.88,115.45 49.5,115.53 48.12,115.61 46.75,115.7 45.38,115.78 44,115.86 42.62,115.94 41.25,116.03 39.88,116.11 38.5,116.19 37.12,116.27 35.75,116.36 34.38,116.44 33,116.52 31.62,116.6 30.25,116.69 28.88,116.77 27.5,116.85 26.12,116.93 24.75,117.02 23.38,117.1 22,117.18 20.62,117.26 19.25,117.34 17.88,117.43 16.5,117.51 15.12,117.59 13.75,117.67 12.38,117.76 11,117.84 9.62,117.92 8.25,118.01 6.88,118.09 5.5,118.17 4.12,118.25 2.75,118.34 1.38,118.42 0,118.5" fill="#ff6e00"/><polygon points="0,117.8 1.38,117.72 2.75,117.64 4.12,117.55 5.5,117.47 6.88,117.39 8.25,117.31 9.62,117.22 11,117.14 12.38,117.06 13.75,116.97 15.12,116.89 16.5,116.81 17.88,116.73 19.25,116.64 20.62,116.56 22,116.48 23.38,116.4 24.75,116.31 26.12,116.23 27.5,116.15 28.88,116.07 30.25,115.98 31.62,115.9 33,115.82 34.38,115.74 35.75,115.66 37.12,115.57 38.5,115.49 39.88,115.41 41.25,115.33 42.62,115.24 44,115.16 45.38,115.08 46.75,115 48.12,114.91 49.5,114.83 50.88,114.75 52.25,114.67 53.62,114.58 55,114.5 55,116.2 53.62,116.28 52.25,116.37 50.88,116.45 49.5,116.53 48.12,116.61 46.75,116.7 45.38,116.78 44,116.86 42.62,116.94 41.25,117.03 39.88,117.11 38.5,117.19 37.12,117.27 35.75,117.36 34.38,117.44 33,117.52 31.62,117.6 30.25,117.69 28.88,117.77 27.5,117.85 26.12,117.93 24.75,118.02 23.38,118.1 22,118.18 20.62,118.26 19.25,118.34 17.88,118.43 16.5,118.51 15.12,118.59 13.75,118.67 12.38,118.76 11,118.84 9.62,118.92 8.25,119.01 6.88,119.09 5.5,119.17 4.12,119.25 2.75,119.34 1.38,119.42 0,119.5" fill="#ff4a00"/><polygon points="0,118.8 1.38,118.72 2.75,118.64 4.12,118.55 5.5,118.47 6.88,118.39 8.25,118.31 9.62,118.22 11,118.14 12.38,118.06 13.75,117.97 15.12,117.89 16.5,117.81 17.88,117.73 19.25,117.64 20.62,117.56 22,117.48 23.38,117.4 24.75,117.31 26.12,117.23 27.5,117.15 28.88,117.07 30.25,116.98 31.62,116.9 33,116.82 34.38,116.74 35.75,116.66 37.12,116.57 38.5,116.49 39.88,116.41 41.25,116.33 42.62,116.24 44,116.16 45.38,116.08 46.75,116 48.12,115.91 49.5,115.83 50.88,115.75 52.25,115.67 53.62,115.58 55,115.5 55,117.2 53.62,117.28 52.25,117.37 50.88,117.45 49.5,117.53 48.12,117.61 46.75,117.7 45.38,117.78 44,117.86 42.62,117.94 41.25,118.03 39.88,118.11 38.5,118.19 37.12,118.27 35.75,118.36 34.38,118.44 33,118.52 31.62,118.6 30.25,118.69 28.88,118.77 27.5,118.85 26.12,118.93 24.75,119.02 23.38,119.1 22,119.18 20.62,119.26 19.25,119.34 17.88,119.43 16.5,119.51 15.12,119.59 13.75,119.67 12.38,119.76 11,119.84 9.62,119.92 8.25,120.01 6.88,120.09 5.5,120.17 4.12,120.25 2.75,120.34 1.38,120.42 0,120.5" fill="#ff2800"/><polygon points="0,119.8 1.38,119.72 2.75,119.64 4.12,119.55 5.5,119.47 6.88,119.39 8.25,119.31 9.62,119.22 11,119.14 12.38,119.06 13.75,118.97 15.12,118.89 16.5,118.81 17.88,118.73 19.25,118.64 20.62,118.56 22,118.48 23.38,118.4 24.75,118.31 26.12,118.23 27.5,118.15 28.88,118.07 30.25,117.98 31.62,117.9 33,117.82 34.38,117.74 35.75,117.66 37.12,117.57 38.5,117.49 39.88,117.41 41.25,117.33 42.62,117.24 44,117.16 45.38,117.08 46.75,117 48.12,116.91 49.5,116.83 50.88,116.75 52.25,116.67 53.62,116.58 55,116.5 55,118.2 53.62,118.28 52.25,118.37 50.88,118.45 49.5,118.53 48.12,118.61 46.75,118.7 45.38,118.78 44,118.86 42.62,118.94 41.25,119.03 39.88,119.11 38.5,119.19 37.12,119.27 35.75,119.36 34.38,119.44 33,119.52 31.62,119.6 30.25,119.69 28.88,119.77 27.5,119.85 26.12,119.93 24.75,120.02 23.38,120.1 22,120.18 20.62,120.26 19.25,120.34 17.88,120.43 16.5,120.51 15.12,120.59 13.75,120.67 12.38,120.76 11,120.84 9.62,120.92 8.25,121.01 6.88,121.09 5.5,121.17 4.12,121.25 2.75,121.34 1.38,121.42 0,121.5" fill="#ff0600"/><polygon points="0,120.8 1.38,120.72 2.75,120.64 4.12,120.55 5.5,120.47 6.88,120.39 8.25,120.31 9.62,120.22 11,120.14 12.38,120.06 13.75,119.97 15.12,119.89 16.5,119.81 17.88,119.73 19.25,119.64 20.62,119.56 22,119.48 23.38,119.4 24.75,119.31 26.12,119.23 27.5,119.15 28.88,119.07 30.25,118.98 31.62,118.9 33,118.82 34.38,118.74 35.75,118.66 37.12,118.57 38.5,118.49 39.88,118.41 41.25,118.33 42.62,118.24 44,118.16 45.38,118.08 46.75,118 48.12,117.91 49.5,117.83 50.88,117.75 52.25,117.67 53.62,117.58 55,117.5 55,119.2 53.62,119.28 52.25,119.37 50.88,119.45 49.5,119.53 48.12,119.61 46.75,119.7 45.38,119.78 44,119.86 42.62,119.94 41.25,120.03 39.88,120.11 38.5,120.19 37.12,120.27 35.75,120.36 34.38,120.44 33,120.52 31.62,120.6 30.25,120.69 28.88,120.77 27.5,120.85 26.12,120.93 24.75,121.02 23.38,121.1 22,121.18 20.62,121.26 19.25,121.34 17.88,121.43 16.5,121.51 15.12,121.59 13.75,121.67 12.38,121.76 11,121.84 9.62,121.92 8.25,122.01 6.88,122.09 5.5,122.17 4.12,122.25 2.75,122.34 1.38,122.42 0,122.5" fill="#e40000"/><polygon points="0,121.8 1.38,121.72 2.75,121.64 4.12,121.55 5.5,121.47 6.88,121.39 8.25,121.31 9.62,121.22 11,121.14 12.38,121.06 13.75,120.97 15.12,120.89 16.5,120.81 17.88,120.73 19.25,120.64 20.62,120.56 22,120.48 23.38,120.4 24.75,120.31 26.12,120.23 27.5,120.15 28.88,120.07 30.25,119.98 31.62,119.9 33,119.82 34.38,119.74 35.75,119.66 37.12,119.57 38.5,119.49 39.88,119.41 41.25,119.33 42.62,119.24 44,119.16 45.38,119.08 46.75,119 48.12,118.91 49.5,118.83 50.88,118.75 52.25,118.67 53.62,118.58 55,118.5 55,120.2 53.62,120.28 52.25,120.37 50.88,120.45 49.5,120.53 48.12,120.61 46.75,120.7 45.38,120.78 44,120.86 42.62,120.94 41.25,121.03 39.88,121.11 38.5,121.19 37.12,121.27 35.75,121.36 34.38,121.44 33,121.52 31.62,121.6 30.25,121.69 28.88,121.77 27.5,121.85 26.12,121.93 24.75,122.02 23.38,122.1 22,122.18 20.62,122.26 19.25,122.34 17.88,122.43 16.5,122.51 15.12,122.59 13.75,122.67 12.38,122.76 11,122.84 9.62,122.92 8.25,123.01 6.88,123.09 5.5,123.17 4.12,123.25 2.75,123.34 1.38,123.42 0,123.5" fill="#c30000"/><polygon points="0,122.8 1.38,122.72 2.75,122.64 4.12,122.55 5.5,122.47 6.88,122.39 8.25,122.31 9.62,122.22 11,122.14 12.38,122.06 13.75,121.97 15.12,121.89 16.5,121.81 17.88,121.73 19.25,121.64 20.62,121.56 22,121.48 23.38,121.4 24.75,121.31 26.12,121.23 27.5,121.15 28.88,121.07 30.25,120.98 31.62,120.9 33,120.82 34.38,120.74 35.75,120.66 37.12,120.57 38.5,120.49 39.88,120.41 41.25,120.33 42.62,120.24 44,120.16 45.38,120.08 46.75,120 48.12,119.91 49.5,119.83 50.88,119.75 52.25,119.67 53.62,119.58 55,119.5 55,120.95 53.62,121.03 52.25,121.12 50.88,121.2 49.5,121.28 48.12,121.36 46.75,121.45 45.38,121.53 44,121.61 42.62,121.69 41.25,121.78 39.88,121.86 38.5,121.94 37.12,122.02 35.75,122.11 34.38,122.19 33,122.27 31.62,122.35 30.25,122.44 28.88,122.52 27.5,122.6 26.12,122.68 24.75,122.77 23.38,122.85 22,122.93 20.62,123.01 19.25,123.09 17.88,123.18 16.5,123.26 15.12,123.34 13.75,123.42 12.38,123.51 11,123.59 9.62,123.67 8.25,123.76 6.88,123.84 5.5,123.92 4.12,124 2.75,124.09 1.38,124.17 0,124.25" fill="#af0000"/><polygon points="0,123.55 1.38,123.47 2.75,123.39 4.12,123.3 5.5,123.22 6.88,123.14 8.25,123.06 9.62,122.97 11,122.89 12.38,122.81 13.75,122.72 15.12,122.64 16.5,122.56 17.88,122.48 19.25,122.39 20.62,122.31 22,122.23 23.38,122.15 24.75,122.06 26.12,121.98 27.5,121.9 28.88,121.82 30.25,121.73 31.62,121.65 33,121.57 34.38,121.49 35.75,121.41 37.12,121.32 38.5,121.24 39.88,121.16 41.25,121.08 42.62,120.99 44,120.91 45.38,120.83 46.75,120.75 48.12,120.66 49.5,120.58 50.88,120.5 52.25,120.42 53.62,120.33 55,120.25 55,121.7 53.62,121.78 52.25,121.87 50.88,121.95 49.5,122.03 48.12,122.11 46.75,122.2 45.38,122.28 44,122.36 42.62,122.44 41.25,122.53 39.88,122.61 38.5,122.69 37.12,122.77 35.75,122.86 34.38,122.94 33,123.02 31.62,123.1 30.25,123.19 28.88,123.27 27.5,123.35 26.12,123.43 24.75,123.52 23.38,123.6 22,123.68 20.62,123.76 19.25,123.84 17.88,123.93 16.5,124.01 15.12,124.09 13.75,124.17 12.38,124.26 11,124.34 9.62,124.42 8.25,124.51 6.88,124.59 5.5,124.67 4.12,124.75 2.75,124.84 1.38,124.92 0,125" fill="#a70000"/><polygon points="0,124.3 1.38,124.22 2.75,124.14 4.12,124.05 5.5,123.97 6.88,123.89 8.25,123.81 9.62,123.72 11,123.64 12.38,123.56 13.75,123.47 15.12,123.39 16.5,123.31 17.88,123.23 19.25,123.14 20.62,123.06 22,122.98 23.38,122.9 24.75,122.81 26.12,122.73 27.5,122.65 28.88,122.57 30.25,122.48 31.62,122.4 33,122.32 34.38,122.24 35.75,122.16 37.12,122.07 38.5,121.99 39.88,121.91 41.25,121.83 42.62,121.74 44,121.66 45.38,121.58 46.75,121.5 48.12,121.41 49.5,121.33 50.88,121.25 52.25,121.17 53.62,121.08 55,121 55,122.45 53.62,122.53 52.25,122.62 50.88,122.7 49.5,122.78 48.12,122.86 46.75,122.95 45.38,123.03 44,123.11 42.62,123.19 41.25,123.28 39.88,123.36 38.5,123.44 37.12,123.52 35.75,123.61 34.38,123.69 33,123.77 31.62,123.85 30.25,123.94 28.88,124.02 27.5,124.1 26.12,124.18 24.75,124.27 23.38,124.35 22,124.43 20.62,124.51 19.25,124.59 17.88,124.68 16.5,124.76 15.12,124.84 13.75,124.92 12.38,125.01 11,125.09 9.62,125.17 8.25,125.26 6.88,125.34 5.5,125.42 4.12,125.5 2.75,125.59 1.38,125.67 0,125.75" fill="#9f0000"/><polygon points="0,125.05 1.38,124.97 2.75,124.89 4.12,124.8 5.5,124.72 6.88,124.64 8.25,124.56 9.62,124.47 11,124.39 12.38,124.31 13.75,124.22 15.12,124.14 16.5,124.06 17.88,123.98 19.25,123.89 20.62,123.81 22,123.73 23.38,123.65 24.75,123.56 26.12,123.48 27.5,123.4 28.88,123.32 30.25,123.23 31.62,123.15 33,123.07 34.38,122.99 35.75,122.91 37.12,122.82 38.5,122.74 39.88,122.66 41.25,122.58 42.62,122.49 44,122.41 45.38,122.33 46.75,122.25 48.12,122.16 49.5,122.08 50.88,122 52.25,121.92 53.62,121.83 55,121.75 55,123.2 53.62,123.28 52.25,123.37 50.88,123.45 49.5,123.53 48.12,123.61 46.75,123.7 45.38,123.78 44,123.86 42.62,123.94 41.25,124.03 39.88,124.11 38.5,124.19 37.12,124.27 35.75,124.36 34.38,124.44 33,124.52 31.62,124.6 30.25,124.69 28.88,124.77 27.5,124.85 26.12,124.93 24.75,125.02 23.38,125.1 22,125.18 20.62,125.26 19.25,125.34 17.88,125.43 16.5,125.51 15.12,125.59 13.75,125.67 12.38,125.76 11,125.84 9.62,125.92 8.25,126.01 6.88,126.09 5.5,126.17 4.12,126.25 2.75,126.34 1.38,126.42 0,126.5" fill="#980000"/><polygon points="0,125.8 1.38,125.72 2.75,125.64 4.12,125.55 5.5,125.47 6.88,125.39 8.25,125.31 9.62,125.22 11,125.14 12.38,125.06 13.75,124.97 15.12,124.89 16.5,124.81 17.88,124.73 19.25,124.64 20.62,124.56 22,124.48 23.38,124.4 24.75,124.31 26.12,124.23 27.5,124.15 28.88,124.07 30.25,123.98 31.62,123.9 33,123.82 34.38,123.74 35.75,123.66 37.12,123.57 38.5,123.49 39.88,123.41 41.25,123.33 42.62,123.24 44,123.16 45.38,123.08 46.75,123 48.12,122.91 49.5,122.83 50.88,122.75 52.25,122.67 53.62,122.58 55,122.5 55,124.2 53.62,124.28 52.25,124.37 50.88,124.45 49.5,124.53 48.12,124.61 46.75,124.7 45.38,124.78 44,124.86 42.62,124.94 41.25,125.03 39.88,125.11 38.5,125.19 37.12,125.27 35.75,125.36 34.38,125.44 33,125.52 31.62,125.6 30.25,125.69 28.88,125.77 27.5,125.85 26.12,125.93 24.75,126.02 23.38,126.1 22,126.18 20.62,126.26 19.25,126.34 17.88,126.43 16.5,126.51 15.12,126.59 13.75,126.67 12.38,126.76 11,126.84 9.62,126.92 8.25,127.01 6.88,127.09 5.5,127.17 4.12,127.25 2.75,127.34 1.38,127.42 0,127.5" fill="#980000"/><polygon points="0,126.8 1.38,126.72 2.75,126.64 4.12,126.55 5.5,126.47 6.88,126.39 8.25,126.31 9.62,126.22 11,126.14 12.38,126.06 13.75,125.97 15.12,125.89 16.5,125.81 17.88,125.73 19.25,125.64 20.62,125.56 22,125.48 23.38,125.4 24.75,125.31 26.12,125.23 27.5,125.15 28.88,125.07 30.25,124.98 31.62,124.9 33,124.82 34.38,124.74 35.75,124.66 37.12,124.57 38.5,124.49 39.88,124.41 41.25,124.33 42.62,124.24 44,124.16 45.38,124.08 46.75,124 48.12,123.91 49.5,123.83 50.88,123.75 52.25,123.67 53.62,123.58 55,123.5 55,125.2 53.62,125.28 52.25,125.37 50.88,125.45 49.5,125.53 48.12,125.61 46.75,125.7 45.38,125.78 44,125.86 42.62,125.94 41.25,126.03 39.88,126.11 38.5,126.19 37.12,126.27 35.75,126.36 34.38,126.44 33,126.52 31.62,126.6 30.25,126.69 28.88,126.77 27.5,126.85 26.12,126.93 24.75,127.02 23.38,127.1 22,127.18 20.62,127.26 19.25,127.34 17.88,127.43 16.5,127.51 15.12,127.59 13.75,127.67 12.38,127.76 11,127.84 9.62,127.92 8.25,128 6.88,128.09 5.5,128.17 4.12,128.25 2.75,128.34 1.38,128.42 0,128.5" fill="#9f0000"/><polygon points="0,127.8 1.38,127.72 2.75,127.64 4.12,127.55 5.5,127.47 6.88,127.39 8.25,127.31 9.62,127.22 11,127.14 12.38,127.06 13.75,126.97 15.12,126.89 16.5,126.81 17.88,126.73 19.25,126.64 20.62,126.56 22,126.48 23.38,126.4 24.75,126.31 26.12,126.23 27.5,126.15 28.88,126.07 30.25,125.98 31.62,125.9 33,125.82 34.38,125.74 35.75,125.66 37.12,125.57 38.5,125.49 39.88,125.41 41.25,125.33 42.62,125.24 44,125.16 45.38,125.08 46.75,125 48.12,124.91 49.5,124.83 50.88,124.75 52.25,124.67 53.62,124.58 55,124.5 55,126.2 53.62,126.28 52.25,126.37 50.88,126.45 49.5,126.53 48.12,126.61 46.75,126.7 45.38,126.78 44,126.86 42.62,126.94 41.25,127.03 39.88,127.11 38.5,127.19 37.12,127.27 35.75,127.36 34.38,127.44 33,127.52 31.62,127.6 30.25,127.69 28.88,127.77 27.5,127.85 26.12,127.93 24.75,128.01 23.38,128.1 22,128.18 20.62,128.26 19.25,128.34 17.88,128.43 16.5,128.51 15.12,128.59 13.75,128.67 12.38,128.76 11,128.84 9.62,128.92 8.25,129 6.88,129.09 5.5,129.17 4.12,129.25 2.75,129.33 1.38,129.42 0,129.5" fill="#a70000"/><polygon points="0,128.8 1.38,128.72 2.75,128.63 4.12,128.55 5.5,128.47 6.88,128.39 8.25,128.31 9.62,128.22 11,128.14 12.38,128.06 13.75,127.97 15.12,127.89 16.5,127.81 17.88,127.73 19.25,127.64 20.62,127.56 22,127.48 23.38,127.4 24.75,127.31 26.12,127.23 27.5,127.15 28.88,127.07 30.25,126.98 31.62,126.9 33,126.82 34.38,126.74 35.75,126.66 37.12,126.57 38.5,126.49 39.88,126.41 41.25,126.33 42.62,126.24 44,126.16 45.38,126.08 46.75,126 48.12,125.91 49.5,125.83 50.88,125.75 52.25,125.67 53.62,125.58 55,125.5 55,127.2 53.62,127.28 52.25,127.37 50.88,127.45 49.5,127.53 48.12,127.61 46.75,127.7 45.38,127.78 44,127.86 42.62,127.94 41.25,128.03 39.88,128.11 38.5,128.19 37.12,128.27 35.75,128.35 34.38,128.44 33,128.52 31.62,128.6 30.25,128.69 28.88,128.77 27.5,128.85 26.12,128.93 24.75,129.01 23.38,129.1 22,129.18 20.62,129.26 19.25,129.34 17.88,129.43 16.5,129.51 15.12,129.59 13.75,129.67 12.38,129.76 11,129.84 9.62,129.92 8.25,130 6.88,130.09 5.5,130.17 4.12,130.25 2.75,130.33 1.38,130.42 0,130.5" fill="#af0000"/><polygon points="0,129.8 1.38,129.72 2.75,129.63 4.12,129.55 5.5,129.47 6.88,129.39 8.25,129.31 9.62,129.22 11,129.14 12.38,129.06 13.75,128.97 15.12,128.89 16.5,128.81 17.88,128.73 19.25,128.65 20.62,128.56 22,128.48 23.38,128.4 24.75,128.31 26.12,128.23 27.5,128.15 28.88,128.07 30.25,127.98 31.62,127.9 33,127.82 34.38,127.74 35.75,127.66 37.12,127.57 38.5,127.49 39.88,127.41 41.25,127.33 42.62,127.24 44,127.16 45.38,127.08 46.75,127 48.12,126.91 49.5,126.83 50.88,126.75 52.25,126.67 53.62,126.58 55,126.5 55,128.7 53.62,128.78 52.25,128.86 50.88,128.95 49.5,129.03 48.12,129.11 46.75,129.19 45.38,129.28 44,129.36 42.62,129.44 41.25,129.52 39.88,129.61 38.5,129.69 37.12,129.77 35.75,129.85 34.38,129.94 33,130.02 31.62,130.1 30.25,130.19 28.88,130.27 27.5,130.35 26.12,130.43 24.75,130.51 23.38,130.6 22,130.68 20.62,130.76 19.25,130.84 17.88,130.93 16.5,131.01 15.12,131.09 13.75,131.17 12.38,131.26 11,131.34 9.62,131.42 8.25,131.5 6.88,131.59 5.5,131.67 4.12,131.75 2.75,131.83 1.38,131.92 0,132" fill="#bc0000"/><polygon points="0,131.3 1.38,131.22 2.75,131.13 4.12,131.05 5.5,130.97 6.88,130.89 8.25,130.81 9.62,130.72 11,130.64 12.38,130.56 13.75,130.47 15.12,130.39 16.5,130.31 17.88,130.23 19.25,130.15 20.62,130.06 22,129.98 23.38,129.9 24.75,129.81 26.12,129.73 27.5,129.65 28.88,129.57 30.25,129.49 31.62,129.4 33,129.32 34.38,129.24 35.75,129.16 37.12,129.07 38.5,128.99 39.88,128.91 41.25,128.82 42.62,128.74 44,128.66 45.38,128.58 46.75,128.5 48.12,128.41 49.5,128.33 50.88,128.25 52.25,128.16 53.62,128.08 55,128 55,130.2 53.62,130.28 52.25,130.36 50.88,130.45 49.5,130.53 48.12,130.61 46.75,130.69 45.38,130.78 44,130.86 42.62,130.94 41.25,131.02 39.88,131.11 38.5,131.19 37.12,131.27 35.75,131.35 34.38,131.44 33,131.52 31.62,131.6 30.25,131.69 28.88,131.77 27.5,131.85 26.12,131.93 24.75,132.01 23.38,132.1 22,132.18 20.62,132.26 19.25,132.34 17.88,132.43 16.5,132.51 15.12,132.59 13.75,132.67 12.38,132.76 11,132.84 9.62,132.92 8.25,133 6.88,133.09 5.5,133.17 4.12,133.25 2.75,133.33 1.38,133.42 0,133.5" fill="#cf0000"/><polygon points="0,132.8 1.38,132.72 2.75,132.63 4.12,132.55 5.5,132.47 6.88,132.39 8.25,132.31 9.62,132.22 11,132.14 12.38,132.06 13.75,131.97 15.12,131.89 16.5,131.81 17.88,131.73 19.25,131.65 20.62,131.56 22,131.48 23.38,131.4 24.75,131.31 26.12,131.23 27.5,131.15 28.88,131.07 30.25,130.99 31.62,130.9 33,130.82 34.38,130.74 35.75,130.66 37.12,130.57 38.5,130.49 39.88,130.41 41.25,130.32 42.62,130.24 44,130.16 45.38,130.08 46.75,130 48.12,129.91 49.5,129.83 50.88,129.75 52.25,129.66 53.62,129.58 55,129.5 55,131.7 53.62,131.78 52.25,131.86 50.88,131.95 49.5,132.03 48.12,132.11 46.75,132.19 45.38,132.28 44,132.36 42.62,132.44 41.25,132.52 39.88,132.61 38.5,132.69 37.12,132.77 35.75,132.85 34.38,132.94 33,133.02 31.62,133.1 30.25,133.19 28.88,133.27 27.5,133.35 26.12,133.43 24.75,133.51 23.38,133.6 22,133.68 20.62,133.76 19.25,133.84 17.88,133.93 16.5,134.01 15.12,134.09 13.75,134.17 12.38,134.26 11,134.34 9.62,134.42 8.25,134.5 6.88,134.59 5.5,134.67 4.12,134.75 2.75,134.83 1.38,134.92 0,135" fill="#e20000"/><polygon points="0,134.3 1.38,134.22 2.75,134.13 4.12,134.05 5.5,133.97 6.88,133.89 8.25,133.81 9.62,133.72 11,133.64 12.38,133.56 13.75,133.47 15.12,133.39 16.5,133.31 17.88,133.23 19.25,133.15 20.62,133.06 22,132.98 23.38,132.9 24.75,132.81 26.12,132.73 27.5,132.65 28.88,132.57 30.25,132.49 31.62,132.4 33,132.32 34.38,132.24 35.75,132.16 37.12,132.07 38.5,131.99 39.88,131.91 41.25,131.82 42.62,131.74 44,131.66 45.38,131.58 46.75,131.5 48.12,131.41 49.5,131.33 50.88,131.25 52.25,131.16 53.62,131.08 55,131 55,133.2 53.62,133.28 52.25,133.36 50.88,133.45 49.5,133.53 48.12,133.61 46.75,133.69 45.38,133.78 44,133.86 42.62,133.94 41.25,134.02 39.88,134.11 38.5,134.19 37.12,134.27 35.75,134.35 34.38,134.44 33,134.52 31.62,134.6 30.25,134.69 28.88,134.77 27.5,134.85 26.12,134.93 24.75,135.01 23.38,135.1 22,135.18 20.62,135.26 19.25,135.34 17.88,135.43 16.5,135.51 15.12,135.59 13.75,135.67 12.38,135.76 11,135.84 9.62,135.92 8.25,136 6.88,136.09 5.5,136.17 4.12,136.25 2.75,136.33 1.38,136.42 0,136.5" fill="#f50000"/><polygon points="0,135.8 1.38,135.72 2.75,135.63 4.12,135.55 5.5,135.47 6.88,135.39 8.25,135.31 9.62,135.22 11,135.14 12.38,135.06 13.75,134.97 15.12,134.89 16.5,134.81 17.88,134.73 19.25,134.65 20.62,134.56 22,134.48 23.38,134.4 24.75,134.31 26.12,134.23 27.5,134.15 28.88,134.07 30.25,133.99 31.62,133.9 33,133.82 34.38,133.74 35.75,133.66 37.12,133.57 38.5,133.49 39.88,133.41 41.25,133.32 42.62,133.24 44,133.16 45.38,133.08 46.75,133 48.12,132.91 49.5,132.83 50.88,132.75 52.25,132.66 53.62,132.58 55,132.5 55,134.45 53.62,134.53 52.25,134.61 50.88,134.7 49.5,134.78 48.12,134.86 46.75,134.94 45.38,135.03 44,135.11 42.62,135.19 41.25,135.27 39.88,135.36 38.5,135.44 37.12,135.52 35.75,135.6 34.38,135.69 33,135.77 31.62,135.85 30.25,135.94 28.88,136.02 27.5,136.1 26.12,136.18 24.75,136.26 23.38,136.35 22,136.43 20.62,136.51 19.25,136.59 17.88,136.68 16.5,136.76 15.12,136.84 13.75,136.92 12.38,137.01 11,137.09 9.62,137.17 8.25,137.25 6.88,137.34 5.5,137.42 4.12,137.5 2.75,137.58 1.38,137.67 0,137.75" fill="#ff1000"/><polygon points="0,137.05 1.38,136.97 2.75,136.88 4.12,136.8 5.5,136.72 6.88,136.64 8.25,136.56 9.62,136.47 11,136.39 12.38,136.31 13.75,136.22 15.12,136.14 16.5,136.06 17.88,135.98 19.25,135.9 20.62,135.81 22,135.73 23.38,135.65 24.75,135.56 26.12,135.48 27.5,135.4 28.88,135.32 30.25,135.24 31.62,135.15 33,135.07 34.38,134.99 35.75,134.91 37.12,134.82 38.5,134.74 39.88,134.66 41.25,134.57 42.62,134.49 44,134.41 45.38,134.33 46.75,134.25 48.12,134.16 49.5,134.08 50.88,134 52.25,133.91 53.62,133.83 55,133.75 55,135.7 53.62,135.78 52.25,135.86 50.88,135.95 49.5,136.03 48.12,136.11 46.75,136.19 45.38,136.28 44,136.36 42.62,136.44 41.25,136.52 39.88,136.61 38.5,136.69 37.12,136.77 35.75,136.85 34.38,136.94 33,137.02 31.62,137.1 30.25,137.19 28.88,137.27 27.5,137.35 26.12,137.43 24.75,137.51 23.38,137.6 22,137.68 20.62,137.76 19.25,137.84 17.88,137.93 16.5,138.01 15.12,138.09 13.75,138.17 12.38,138.26 11,138.34 9.62,138.42 8.25,138.5 6.88,138.59 5.5,138.67 4.12,138.75 2.75,138.83 1.38,138.92 0,139" fill="#ff3000"/><polygon points="0,138.3 1.38,138.22 2.75,138.13 4.12,138.05 5.5,137.97 6.88,137.89 8.25,137.81 9.62,137.72 11,137.64 12.38,137.56 13.75,137.47 15.12,137.39 16.5,137.31 17.88,137.23 19.25,137.15 20.62,137.06 22,136.98 23.38,136.9 24.75,136.81 26.12,136.73 27.5,136.65 28.88,136.57 30.25,136.49 31.62,136.4 33,136.32 34.38,136.24 35.75,136.16 37.12,136.07 38.5,135.99 39.88,135.91 41.25,135.82 42.62,135.74 44,135.66 45.38,135.58 46.75,135.5 48.12,135.41 49.5,135.33 50.88,135.25 52.25,135.16 53.62,135.08 55,135 55,136.95 53.62,137.03 52.25,137.11 50.88,137.2 49.5,137.28 48.12,137.36 46.75,137.44 45.38,137.53 44,137.61 42.62,137.69 41.25,137.77 39.88,137.86 38.5,137.94 37.12,138.02 35.75,138.1 34.38,138.19 33,138.27 31.62,138.35 30.25,138.44 28.88,138.52 27.5,138.6 26.12,138.68 24.75,138.76 23.38,138.85 22,138.93 20.62,139.01 19.25,139.09 17.88,139.18 16.5,139.26 15.12,139.34 13.75,139.42 12.38,139.51 11,139.59 9.62,139.67 8.25,139.75 6.88,139.84 5.5,139.92 4.12,140 2.75,140.08 1.38,140.17 0,140.25" fill="#ff5000"/><polygon points="0,139.55 1.38,139.47 2.75,139.38 4.12,139.3 5.5,139.22 6.88,139.14 8.25,139.06 9.62,138.97 11,138.89 12.38,138.81 13.75,138.72 15.12,138.64 16.5,138.56 17.88,138.48 19.25,138.4 20.62,138.31 22,138.23 23.38,138.15 24.75,138.06 26.12,137.98 27.5,137.9 28.88,137.82 30.25,137.74 31.62,137.65 33,137.57 34.38,137.49 35.75,137.41 37.12,137.32 38.5,137.24 39.88,137.16 41.25,137.07 42.62,136.99 44,136.91 45.38,136.83 46.75,136.75 48.12,136.66 49.5,136.58 50.88,136.5 52.25,136.41 53.62,136.33 55,136.25 55,138.2 53.62,138.28 52.25,138.36 50.88,138.45 49.5,138.53 48.12,138.61 46.75,138.69 45.38,138.78 44,138.86 42.62,138.94 41.25,139.02 39.88,139.11 38.5,139.19 37.12,139.27 35.75,139.35 34.38,139.44 33,139.52 31.62,139.6 30.25,139.69 28.88,139.77 27.5,139.85 26.12,139.93 24.75,140.01 23.38,140.1 22,140.18 20.62,140.26 19.25,140.34 17.88,140.43 16.5,140.51 15.12,140.59 13.75,140.67 12.38,140.76 11,140.84 9.62,140.92 8.25,141 6.88,141.09 5.5,141.17 4.12,141.25 2.75,141.33 1.38,141.42 0,141.5" fill="#ff7000"/><polygon points="0,140.8 1.38,140.72 2.75,140.63 4.12,140.55 5.5,140.47 6.88,140.39 8.25,140.31 9.62,140.22 11,140.14 12.38,140.06 13.75,139.97 15.12,139.89 16.5,139.81 17.88,139.73 19.25,139.65 20.62,139.56 22,139.48 23.38,139.4 24.75,139.31 26.12,139.23 27.5,139.15 28.88,139.07 30.25,138.99 31.62,138.9 33,138.82 34.38,138.74 35.75,138.66 37.12,138.57 38.5,138.49 39.88,138.41 41.25,138.32 42.62,138.24 44,138.16 45.38,138.08 46.75,138 48.12,137.91 49.5,137.83 50.88,137.75 52.25,137.66 53.62,137.58 55,137.5 55,139.2 53.62,139.28 52.25,139.36 50.88,139.45 49.5,139.53 48.12,139.61 46.75,139.69 45.38,139.78 44,139.86 42.62,139.94 41.25,140.02 39.88,140.11 38.5,140.19 37.12,140.27 35.75,140.35 34.38,140.44 33,140.52 31.62,140.6 30.25,140.69 28.88,140.77 27.5,140.85 26.12,140.93 24.75,141.01 23.38,141.1 22,141.18 20.62,141.26 19.25,141.34 17.88,141.43 16.5,141.51 15.12,141.59 13.75,141.67 12.38,141.76 11,141.84 9.62,141.92 8.25,142 6.88,142.09 5.5,142.17 4.12,142.25 2.75,142.33 1.38,142.42 0,142.5" fill="#ff8f00"/><polygon points="0,141.8 1.38,141.72 2.75,141.63 4.12,141.55 5.5,141.47 6.88,141.39 8.25,141.31 9.62,141.22 11,141.14 12.38,141.06 13.75,140.97 15.12,140.89 16.5,140.81 17.88,140.73 19.25,140.65 20.62,140.56 22,140.48 23.38,140.4 24.75,140.31 26.12,140.23 27.5,140.15 28.88,140.07 30.25,139.99 31.62,139.9 33,139.82 34.38,139.74 35.75,139.66 37.12,139.57 38.5,139.49 39.88,139.41 41.25,139.32 42.62,139.24 44,139.16 45.38,139.08 46.75,139 48.12,138.91 49.5,138.83 50.88,138.75 52.25,138.66 53.62,138.58 55,138.5 55,140.2 53.62,140.28 52.25,140.36 50.88,140.45 49.5,140.53 48.12,140.61 46.75,140.69 45.38,140.78 44,140.86 42.62,140.94 41.25,141.02 39.88,141.11 38.5,141.19 37.12,141.27 35.75,141.35 34.38,141.44 33,141.52 31.62,141.6 30.25,141.69 28.88,141.77 27.5,141.85 26.12,141.93 24.75,142.01 23.38,142.1 22,142.18 20.62,142.26 19.25,142.34 17.88,142.43 16.5,142.51 15.12,142.59 13.75,142.67 12.38,142.76 11,142.84 9.62,142.92 8.25,143 6.88,143.09 5.5,143.17 4.12,143.25 2.75,143.33 1.38,143.42 0,143.5" fill="#ffaf00"/><polygon points="0,142.8 1.38,142.72 2.75,142.63 4.12,142.55 5.5,142.47 6.88,142.39 8.25,142.31 9.62,142.22 11,142.14 12.38,142.06 13.75,141.97 15.12,141.89 16.5,141.81 17.88,141.73 19.25,141.65 20.62,141.56 22,141.48 23.38,141.4 24.75,141.31 26.12,141.23 27.5,141.15 28.88,141.07 30.25,140.99 31.62,140.9 33,140.82 34.38,140.74 35.75,140.66 37.12,140.57 38.5,140.49 39.88,140.41 41.25,140.32 42.62,140.24 44,140.16 45.38,140.08 46.75,140 48.12,139.91 49.5,139.83 50.88,139.75 52.25,139.66 53.62,139.58 55,139.5 55,141.2 53.62,141.28 52.25,141.36 50.88,141.45 49.5,141.53 48.12,141.61 46.75,141.69 45.38,141.78 44,141.86 42.62,141.94 41.25,142.02 39.88,142.11 38.5,142.19 37.12,142.27 35.75,142.35 34.38,142.44 33,142.52 31.62,142.6 30.25,142.69 28.88,142.77 27.5,142.85 26.12,142.93 24.75,143.01 23.38,143.1 22,143.18 20.62,143.26 19.25,143.34 17.88,143.43 16.5,143.51 15.12,143.59 13.75,143.67 12.38,143.76 11,143.84 9.62,143.92 8.25,144 6.88,144.09 5.5,144.17 4.12,144.25 2.75,144.33 1.38,144.42 0,144.5" fill="#ffcf00"/><polygon points="0,143.8 1.38,143.72 2.75,143.63 4.12,143.55 5.5,143.47 6.88,143.39 8.25,143.31 9.62,143.22 11,143.14 12.38,143.06 13.75,142.97 15.12,142.89 16.5,142.81 17.88,142.73 19.25,142.65 20.62,142.56 22,142.48 23.38,142.4 24.75,142.31 26.12,142.23 27.5,142.15 28.88,142.07 30.25,141.99 31.62,141.9 33,141.82 34.38,141.74 35.75,141.66 37.12,141.57 38.5,141.49 39.88,141.41 41.25,141.32 42.62,141.24 44,141.16 45.38,141.08 46.75,141 48.12,140.91 49.5,140.83 50.88,140.75 52.25,140.66 53.62,140.58 55,140.5 55,142.2 53.62,142.28 52.25,142.36 50.88,142.45 49.5,142.53 48.12,142.61 46.75,142.69 45.38,142.78 44,142.86 42.62,142.94 41.25,143.02 39.88,143.11 38.5,143.19 37.12,143.27 35.75,143.35 34.38,143.44 33,143.52 31.62,143.6 30.25,143.69 28.88,143.77 27.5,143.85 26.12,143.93 24.75,144.01 23.38,144.1 22,144.18 20.62,144.26 19.25,144.34 17.88,144.43 16.5,144.51 15.12,144.59 13.75,144.67 12.38,144.76 11,144.84 9.62,144.92 8.25,145 6.88,145.09 5.5,145.17 4.12,145.25 2.75,145.33 1.38,145.42 0,145.5" fill="#ffef00"/><polygon points="0,144.8 1.38,144.72 2.75,144.63 4.12,144.55 5.5,144.47 6.88,144.39 8.25,144.31 9.62,144.22 11,144.14 12.38,144.06 13.75,143.97 15.12,143.89 16.5,143.81 17.88,143.73 19.25,143.65 20.62,143.56 22,143.48 23.38,143.4 24.75,143.31 26.12,143.23 27.5,143.15 28.88,143.07 30.25,142.99 31.62,142.9 33,142.82 34.38,142.74 35.75,142.66 37.12,142.57 38.5,142.49 39.88,142.41 41.25,142.32 42.62,142.24 44,142.16 45.38,142.08 46.75,142 48.12,141.91 49.5,141.83 50.88,141.75 52.25,141.66 53.62,141.58 55,141.5 55,143.2 53.62,143.28 52.25,143.36 50.88,143.45 49.5,143.53 48.12,143.61 46.75,143.69 45.38,143.78 44,143.86 42.62,143.94 41.25,144.02 39.88,144.11 38.5,144.19 37.12,144.27 35.75,144.35 34.38,144.44 33,144.52 31.62,144.6 30.25,144.69 28.88,144.77 27.5,144.85 26.12,144.93 24.75,145.01 23.38,145.1 22,145.18 20.62,145.26 19.25,145.34 17.88,145.43 16.5,145.51 15.12,145.59 13.75,145.67 12.38,145.76 11,145.84 9.62,145.92 8.25,146 6.88,146.09 5.5,146.17 4.12,146.25 2.75,146.33 1.38,146.42 0,146.5" fill="#efff10"/><polygon points="0,145.8 1.38,145.72 2.75,145.63 4.12,145.55 5.5,145.47 6.88,145.39 8.25,145.31 9.62,145.22 11,145.14 12.38,145.06 13.75,144.97 15.12,144.89 16.5,144.81 17.88,144.73 19.25,144.65 20.62,144.56 22,144.48 23.38,144.4 24.75,144.31 26.12,144.23 27.5,144.15 28.88,144.07 30.25,143.99 31.62,143.9 33,143.82 34.38,143.74 35.75,143.66 37.12,143.57 38.5,143.49 39.88,143.41 41.25,143.32 42.62,143.24 44,143.16 45.38,143.08 46.75,143 48.12,142.91 49.5,142.83 50.88,142.75 52.25,142.66 53.62,142.58 55,142.5 55,144.2 53.62,144.28 52.25,144.36 50.88,144.45 49.5,144.53 48.12,144.61 46.75,144.69 45.38,144.78 44,144.86 42.62,144.94 41.25,145.02 39.88,145.11 38.5,145.19 37.12,145.27 35.75,145.35 34.38,145.44 33,145.52 31.62,145.6 30.25,145.69 28.88,145.77 27.5,145.85 26.12,145.93 24.75,146.01 23.38,146.1 22,146.18 20.62,146.26 19.25,146.34 17.88,146.43 16.5,146.51 15.12,146.59 13.75,146.67 12.38,146.76 11,146.84 9.62,146.92 8.25,147 6.88,147.09 5.5,147.17 4.12,147.25 2.75,147.33 1.38,147.42 0,147.5" fill="#cfff30"/><polygon points="0,146.8 1.38,146.72 2.75,146.63 4.12,146.55 5.5,146.47 6.88,146.39 8.25,146.31 9.62,146.22 11,146.14 12.38,146.06 13.75,145.97 15.12,145.89 16.5,145.81 17.88,145.73 19.25,145.65 20.62,145.56 22,145.48 23.38,145.4 24.75,145.31 26.12,145.23 27.5,145.15 28.88,145.07 30.25,144.99 31.62,144.9 33,144.82 34.38,144.74 35.75,144.66 37.12,144.57 38.5,144.49 39.88,144.41 41.25,144.32 42.62,144.24 44,144.16 45.38,144.08 46.75,144 48.12,143.91 49.5,143.83 50.88,143.75 52.25,143.66 53.62,143.58 55,143.5 55,145.2 53.62,145.28 52.25,145.36 50.88,145.45 49.5,145.53 48.12,145.61 46.75,145.69 45.38,145.78 44,145.86 42.62,145.94 41.25,146.02 39.88,146.11 38.5,146.19 37.12,146.27 35.75,146.35 34.38,146.44 33,146.52 31.62,146.6 30.25,146.69 28.88,146.77 27.5,146.85 26.12,146.93 24.75,147.01 23.38,147.1 22,147.18 20.62,147.26 19.25,147.34 17.88,147.43 16.5,147.51 15.12,147.59 13.75,147.67 12.38,147.76 11,147.84 9.62,147.92 8.25,148 6.88,148.09 5.5,148.17 4.12,148.25 2.75,148.33 1.38,148.42 0,148.5" fill="#afff50"/><polygon points="0,147.8 1.38,147.72 2.75,147.63 4.12,147.55 5.5,147.47 6.88,147.39 8.25,147.31 9.62,147.22 11,147.14 12.38,147.06 13.75,146.97 15.12,146.89 16.5,146.81 17.88,146.73 19.25,146.65 20.62,146.56 22,146.48 23.38,146.4 24.75,146.31 26.12,146.23 27.5,146.15 28.88,146.07 30.25,145.99 31.62,145.9 33,145.82 34.38,145.74 35.75,145.66 37.12,145.57 38.5,145.49 39.88,145.41 41.25,145.32 42.62,145.24 44,145.16 45.38,145.08 46.75,145 48.12,144.91 49.5,144.83 50.88,144.75 52.25,144.66 53.62,144.58 55,144.5 55,146.2 53.62,146.28 52.25,146.36 50.88,146.45 49.5,146.53 48.12,146.61 46.75,146.69 45.38,146.78 44,146.86 42.62,146.94 41.25,147.02 39.88,147.11 38.5,147.19 37.12,147.27 35.75,147.35 34.38,147.44 33,147.52 31.62,147.6 30.25,147.69 28.88,147.77 27.5,147.85 26.12,147.93 24.75,148.01 23.38,148.1 22,148.18 20.62,148.26 19.25,148.34 17.88,148.43 16.5,148.51 15.12,148.59 13.75,148.67 12.38,148.76 11,148.84 9.62,148.92 8.25,149 6.88,149.09 5.5,149.17 4.12,149.25 2.75,149.33 1.38,149.42 0,149.5" fill="#8fff70"/><polygon points="0,148.8 1.38,148.72 2.75,148.63 4.12,148.55 5.5,148.47 6.88,148.39 8.25,148.31 9.62,148.22 11,148.14 12.38,148.06 13.75,147.97 15.12,147.89 16.5,147.81 17.88,147.73 19.25,147.65 20.62,147.56 22,147.48 23.38,147.4 24.75,147.31 26.12,147.23 27.5,147.15 28.88,147.07 30.25,146.99 31.62,146.9 33,146.82 34.38,146.74 35.75,146.66 37.12,146.57 38.5,146.49 39.88,146.41 41.25,146.32 42.62,146.24 44,146.16 45.38,146.08 46.75,146 48.12,145.91 49.5,145.83 50.88,145.75 52.25,145.66 53.62,145.58 55,145.5 55,147.2 53.62,147.28 52.25,147.36 50.88,147.45 49.5,147.53 48.12,147.61 46.75,147.69 45.38,147.78 44,147.86 42.62,147.94 41.25,148.02 39.88,148.11 38.5,148.19 37.12,148.27 35.75,148.35 34.38,148.44 33,148.52 31.62,148.6 30.25,148.69 28.88,148.77 27.5,148.85 26.12,148.93 24.75,149.01 23.38,149.1 22,149.18 20.62,149.26 19.25,149.34 17.88,149.43 16.5,149.51 15.12,149.59 13.75,149.67 12.38,149.76 11,149.84 9.62,149.92 8.25,150 6.88,150.09 5.5,150.17 4.12,150.25 2.75,150.33 1.38,150.42 0,150.5" fill="#70ff8f"/><polygon points="0,149.8 1.38,149.72 2.75,149.63 4.12,149.55 5.5,149.47 6.88,149.39 8.25,149.31 9.62,149.22 11,149.14 12.38,149.06 13.75,148.97 15.12,148.89 16.5,148.81 17.88,148.73 19.25,148.65 20.62,148.56 22,148.48 23.38,148.4 24.75,148.31 26.12,148.23 27.5,148.15 28.88,148.07 30.25,147.99 31.62,147.9 33,147.82 34.38,147.74 35.75,147.66 37.12,147.57 38.5,147.49 39.88,147.41 41.25,147.32 42.62,147.24 44,147.16 45.38,147.08 46.75,147 48.12,146.91 49.5,146.83 50.88,146.75 52.25,146.66 53.62,146.58 55,146.5 55,148.2 53.62,148.28 52.25,148.36 50.88,148.45 49.5,148.53 48.12,148.61 46.75,148.69 45.38,148.78 44,148.86 42.62,148.94 41.25,149.02 39.88,149.11 38.5,149.19 37.12,149.27 35.75,149.35 34.38,149.44 33,149.52 31.62,149.6 30.25,149.69 28.88,149.77 27.5,149.85 26.12,149.93 24.75,150.01 23.38,150.1 22,150.18 20.62,150.26 19.25,150.34 17.88,150.43 16.5,150.51 15.12,150.59 13.75,150.67 12.38,150.76 11,150.84 9.62,150.92 8.25,151 6.88,151.09 5.5,151.17 4.12,151.25 2.75,151.33 1.38,151.42 0,151.5" fill="#50ffaf"/><polygon points="0,150.8 1.38,150.72 2.75,150.63 4.12,150.55 5.5,150.47 6.88,150.39 8.25,150.31 9.62,150.22 11,150.14 12.38,150.06 13.75,149.97 15.12,149.89 16.5,149.81 17.88,149.73 19.25,149.65 20.62,149.56 22,149.48 23.38,149.4 24.75,149.31 26.12,149.23 27.5,149.15 28.88,149.07 30.25,148.99 31.62,148.9 33,148.82 34.38,148.74 35.75,148.66 37.12,148.57 38.5,148.49 39.88,148.41 41.25,148.32 42.62,148.24 44,148.16 45.38,148.08 46.75,148 48.12,147.91 49.5,147.83 50.88,147.75 52.25,147.66 53.62,147.58 55,147.5 55,149.2 53.62,149.28 52.25,149.36 50.88,149.45 49.5,149.53 48.12,149.61 46.75,149.69 45.38,149.78 44,149.86 42.62,149.94 41.25,150.02 39.88,150.11 38.5,150.19 37.12,150.27 35.75,150.35 34.38,150.44 33,150.52 31.62,150.6 30.25,150.69 28.88,150.77 27.5,150.85 26.12,150.93 24.75,151.01 23.38,151.1 22,151.18 20.62,151.26 19.25,151.34 17.88,151.43 16.5,151.51 15.12,151.59 13.75,151.67 12.38,151.76 11,151.84 9.62,151.92 8.25,152 6.88,152.09 5.5,152.17 4.12,152.25 2.75,152.33 1.38,152.42 0,152.5" fill="#30ffcf"/><polygon points="0,151.8 1.38,151.72 2.75,151.63 4.12,151.55 5.5,151.47 6.88,151.39 8.25,151.31 9.62,151.22 11,151.14 12.38,151.06 13.75,150.97 15.12,150.89 16.5,150.81 17.88,150.73 19.25,150.65 20.62,150.56 22,150.48 23.38,150.4 24.75,150.31 26.12,150.23 27.5,150.15 28.88,150.07 30.25,149.99 31.62,149.9 33,149.82 34.38,149.74 35.75,149.66 37.12,149.57 38.5,149.49 39.88,149.41 41.25,149.32 42.62,149.24 44,149.16 45.38,149.08 46.75,149 48.12,148.91 49.5,148.83 50.88,148.75 52.25,148.66 53.62,148.58 55,148.5 55,150.2 53.62,150.28 52.25,150.36 50.88,150.45 49.5,150.53 48.12,150.61 46.75,150.69 45.38,150.78 44,150.86 42.62,150.94 41.25,151.02 39.88,151.11 38.5,151.19 37.12,151.27 35.75,151.35 34.38,151.44 33,151.52 31.62,151.6 30.25,151.69 28.88,151.77 27.5,151.85 26.12,151.93 24.75,152.01 23.38,152.1 22,152.18 20.62,152.26 19.25,152.34 17.88,152.43 16.5,152.51 15.12,152.59 13.75,152.67 12.38,152.76 11,152.84 9.62,152.92 8.25,153 6.88,153.09 5.5,153.17 4.12,153.25 2.75,153.33 1.38,153.42 0,153.5" fill="#10ffef"/><polygon points="0,152.8 1.38,152.72 2.75,152.63 4.12,152.55 5.5,152.47 6.88,152.39 8.25,152.31 9.62,152.22 11,152.14 12.38,152.06 13.75,151.97 15.12,151.89 16.5,151.81 17.88,151.73 19.25,151.65 20.62,151.56 22,151.48 23.38,151.4 24.75,151.31 26.12,151.23 27.5,151.15 28.88,151.07 30.25,150.99 31.62,150.9 33,150.82 34.38,150.74 35.75,150.66 37.12,150.57 38.5,150.49 39.88,150.41 41.25,150.32 42.62,150.24 44,150.16 45.38,150.08 46.75,150 48.12,149.91 49.5,149.83 50.88,149.75 52.25,149.66 53.62,149.58 55,149.5 55,151.2 53.62,151.28 52.25,151.36 50.88,151.45 49.5,151.53 48.12,151.61 46.75,151.69 45.38,151.78 44,151.86 42.62,151.94 41.25,152.02 39.88,152.11 38.5,152.19 37.12,152.27 35.75,152.35 34.38,152.44 33,152.52 31.62,152.6 30.25,152.69 28.88,152.77 27.5,152.85 26.12,152.93 24.75,153.01 23.38,153.1 22,153.18 20.62,153.26 19.25,153.34 17.88,153.43 16.5,153.51 15.12,153.59 13.75,153.67 12.38,153.76 11,153.84 9.62,153.92 8.25,154 6.88,154.09 5.5,154.17 4.12,154.25 2.75,154.33 1.38,154.42 0,154.5" fill="#00efff"/><polygon points="0,153.8 1.38,153.72 2.75,153.63 4.12,153.55 5.5,153.47 6.88,153.39 8.25,153.31 9.62,153.22 11,153.14 12.38,153.06 13.75,152.97 15.12,152.89 16.5,152.81 17.88,152.73 19.25,152.65 20.62,152.56 22,152.48 23.38,152.4 24.75,152.31 26.12,152.23 27.5,152.15 28.88,152.07 30.25,151.99 31.62,151.9 33,151.82 34.38,151.74 35.75,151.66 37.12,151.57 38.5,151.49 39.88,151.41 41.25,151.32 42.62,151.24 44,151.16 45.38,151.08 46.75,151 48.12,150.91 49.5,150.83 50.88,150.75 52.25,150.66 53.62,150.58 55,150.5 55,152.2 53.62,152.28 52.25,152.36 50.88,152.45 49.5,152.53 48.12,152.61 46.75,152.69 45.38,152.78 44,152.86 42.62,152.94 41.25,153.02 39.88,153.11 38.5,153.19 37.12,153.27 35.75,153.35 34.38,153.44 33,153.52 31.62,153.6 30.25,153.69 28.88,153.77 27.5,153.85 26.12,153.93 24.75,154.01 23.38,154.1 22,154.18 20.62,154.26 19.25,154.34 17.88,154.43 16.5,154.51 15.12,154.59 13.75,154.67 12.38,154.76 11,154.84 9.62,154.92 8.25,155 6.88,155.09 5.5,155.17 4.12,155.25 2.75,155.33 1.38,155.42 0,155.5" fill="#00cfff"/><polygon points="0,154.8 1.38,154.72 2.75,154.63 4.12,154.55 5.5,154.47 6.88,154.39 8.25,154.31 9.62,154.22 11,154.14 12.38,154.06 13.75,153.97 15.12,153.89 16.5,153.81 17.88,153.73 19.25,153.65 20.62,153.56 22,153.48 23.38,153.4 24.75,153.31 26.12,153.23 27.5,153.15 28.88,153.07 30.25,152.99 31.62,152.9 33,152.82 34.38,152.74 35.75,152.66 37.12,152.57 38.5,152.49 39.88,152.41 41.25,152.32 42.62,152.24 44,152.16 45.38,152.08 46.75,152 48.12,151.91 49.5,151.83 50.88,151.75 52.25,151.66 53.62,151.58 55,151.5 55,153.2 53.62,153.28 52.25,153.36 50.88,153.45 49.5,153.53 48.12,153.61 46.75,153.69 45.38,153.78 44,153.86 42.62,153.94 41.25,154.02 39.88,154.11 38.5,154.19 37.12,154.27 35.75,154.35 34.38,154.44 33,154.52 31.62,154.6 30.25,154.69 28.88,154.77 27.5,154.85 26.12,154.93 24.75,155.01 23.38,155.1 22,155.18 20.62,155.26 19.25,155.34 17.88,155.43 16.5,155.51 15.12,155.59 13.75,155.67 12.38,155.76 11,155.84 9.62,155.92 8.25,156 6.88,156.09 5.5,156.17 4.12,156.25 2.75,156.33 1.38,156.42 0,156.5" fill="#00afff"/><polygon points="0,155.8 1.38,155.72 2.75,155.63 4.12,155.55 5.5,155.47 6.88,155.39 8.25,155.31 9.62,155.22 11,155.14 12.38,155.06 13.75,154.97 15.12,154.89 16.5,154.81 17.88,154.73 19.25,154.65 20.62,154.56 22,154.48 23.38,154.4 24.75,154.31 26.12,154.23 27.5,154.15 28.88,154.07 30.25,153.99 31.62,153.9 33,153.82 34.38,153.74 35.75,153.66 37.12,153.57 38.5,153.49 39.88,153.41 41.25,153.32 42.62,153.24 44,153.16 45.38,153.08 46.75,153 48.12,152.91 49.5,152.83 50.88,152.75 52.25,152.66 53.62,152.58 55,152.5 55,154.2 53.62,154.28 52.25,154.36 50.88,154.45 49.5,154.53 48.12,154.61 46.75,154.69 45.38,154.78 44,154.86 42.62,154.94 41.25,155.02 39.88,155.11 38.5,155.19 37.12,155.27 35.75,155.35 34.38,155.44 33,155.52 31.62,155.6 30.25,155.69 28.88,155.77 27.5,155.85 26.12,155.93 24.75,156.01 23.38,156.1 22,156.18 20.62,156.26 19.25,156.34 17.88,156.43 16.5,156.51 15.12,156.59 13.75,156.67 12.38,156.76 11,156.84 9.62,156.92 8.25,157 6.88,157.09 5.5,157.17 4.12,157.25 2.75,157.33 1.38,157.42 0,157.5" fill="#008fff"/><polygon points="0,156.8 1.38,156.72 2.75,156.63 4.12,156.55 5.5,156.47 6.88,156.39 8.25,156.31 9.62,156.22 11,156.14 12.38,156.06 13.75,155.97 15.12,155.89 16.5,155.81 17.88,155.73 19.25,155.65 20.62,155.56 22,155.48 23.38,155.4 24.75,155.31 26.12,155.23 27.5,155.15 28.88,155.07 30.25,154.99 31.62,154.9 33,154.82 34.38,154.74 35.75,154.66 37.12,154.57 38.5,154.49 39.88,154.41 41.25,154.32 42.62,154.24 44,154.16 45.38,154.08 46.75,154 48.12,153.91 49.5,153.83 50.88,153.75 52.25,153.66 53.62,153.58 55,153.5 55,155.45 53.62,155.53 52.25,155.61 50.88,155.7 49.5,155.78 48.12,155.86 46.75,155.94 45.38,156.03 44,156.11 42.62,156.19 41.25,156.27 39.88,156.36 38.5,156.44 37.12,156.52 35.75,156.6 34.38,156.69 33,156.77 31.62,156.85 30.25,156.94 28.88,157.02 27.5,157.1 26.12,157.18 24.75,157.26 23.38,157.35 22,157.43 20.62,157.51 19.25,157.59 17.88,157.68 16.5,157.76 15.12,157.84 13.75,157.92 12.38,158.01 11,158.09 9.62,158.17 8.25,158.25 6.88,158.34 5.5,158.42 4.12,158.5 2.75,158.58 1.38,158.67 0,158.75" fill="#0070ff"/><polygon points="0,158.05 1.38,157.97 2.75,157.88 4.12,157.8 5.5,157.72 6.88,157.64 8.25,157.56 9.62,157.47 11,157.39 12.38,157.31 13.75,157.22 15.12,157.14 16.5,157.06 17.88,156.98 19.25,156.9 20.62,156.81 22,156.73 23.38,156.65 24.75,156.56 26.12,156.48 27.5,156.4 28.88,156.32 30.25,156.24 31.62,156.15 33,156.07 34.38,155.99 35.75,155.91 37.12,155.82 38.5,155.74 39.88,155.66 41.25,155.57 42.62,155.49 44,155.41 45.38,155.33 46.75,155.25 48.12,155.16 49.5,155.08 50.88,155 52.25,154.91 53.62,154.83 55,154.75 55,156.7 53.62,156.78 52.25,156.86 50.88,156.95 49.5,157.03 48.12,157.11 46.75,157.19 45.38,157.28 44,157.36 42.62,157.44 41.25,157.52 39.88,157.61 38.5,157.69 37.12,157.77 35.75,157.85 34.38,157.94 33,158.02 31.62,158.1 30.25,158.19 28.88,158.27 27.5,158.35 26.12,158.43 24.75,158.51 23.38,158.6 22,158.68 20.62,158.76 19.25,158.84 17.88,158.93 16.5,159.01 15.12,159.09 13.75,159.17 12.38,159.26 11,159.34 9.62,159.42 8.25,159.5 6.88,159.59 5.5,159.67 4.12,159.75 2.75,159.83 1.38,159.92 0,160" fill="#0050ff"/><polygon points="0,159.3 1.38,159.22 2.75,159.13 4.12,159.05 5.5,158.97 6.88,158.89 8.25,158.81 9.62,158.72 11,158.64 12.38,158.56 13.75,158.47 15.12,158.39 16.5,158.31 17.88,158.23 19.25,158.15 20.62,158.06 22,157.98 23.38,157.9 24.75,157.81 26.12,157.73 27.5,157.65 28.88,157.57 30.25,157.49 31.62,157.4 33,157.32 34.38,157.24 35.75,157.16 37.12,157.07 38.5,156.99 39.88,156.91 41.25,156.82 42.62,156.74 44,156.66 45.38,156.58 46.75,156.5 48.12,156.41 49.5,156.33 50.88,156.25 52.25,156.16 53.62,156.08 55,156 55,157.95 53.62,158.03 52.25,158.11 50.88,158.2 49.5,158.28 48.12,158.36 46.75,158.44 45.38,158.53 44,158.61 42.62,158.69 41.25,158.77 39.88,158.86 38.5,158.94 37.12,159.02 35.75,159.1 34.38,159.19 33,159.27 31.62,159.35 30.25,159.44 28.88,159.52 27.5,159.6 26.12,159.68 24.75,159.76 23.38,159.85 22,159.93 20.62,160.01 19.25,160.09 17.88,160.18 16.5,160.26 15.12,160.34 13.75,160.42 12.38,160.51 11,160.59 9.62,160.67 8.25,160.75 6.88,160.84 5.5,160.92 4.12,161 2.75,161.08 1.38,161.17 0,161.25" fill="#0030ff"/><polygon points="0,160.55 1.38,160.47 2.75,160.38 4.12,160.3 5.5,160.22 6.88,160.14 8.25,160.06 9.62,159.97 11,159.89 12.38,159.81 13.75,159.72 15.12,159.64 16.5,159.56 17.88,159.48 19.25,159.4 20.62,159.31 22,159.23 23.38,159.15 24.75,159.06 26.12,158.98 27.5,158.9 28.88,158.82 30.25,158.74 31.62,158.65 33,158.57 34.38,158.49 35.75,158.41 37.12,158.32 38.5,158.24 39.88,158.16 41.25,158.07 42.62,157.99 44,157.91 45.38,157.83 46.75,157.75 48.12,157.66 49.5,157.58 50.88,157.5 52.25,157.41 53.62,157.33 55,157.25 55,159.2 53.62,159.28 52.25,159.36 50.88,159.45 49.5,159.53 48.12,159.61 46.75,159.69 45.38,159.78 44,159.86 42.62,159.94 41.25,160.02 39.88,160.11 38.5,160.19 37.12,160.27 35.75,160.35 34.38,160.44 33,160.52 31.62,160.6 30.25,160.69 28.88,160.77 27.5,160.85 26.12,160.93 24.75,161.01 23.38,161.1 22,161.18 20.62,161.26 19.25,161.34 17.88,161.43 16.5,161.51 15.12,161.59 13.75,161.67 12.38,161.76 11,161.84 9.62,161.92 8.25,162 6.88,162.09 5.5,162.17 4.12,162.25 2.75,162.33 1.38,162.42 0,162.5" fill="#0010ff"/><polygon points="0,161.8 1.38,161.72 2.75,161.63 4.12,161.55 5.5,161.47 6.88,161.39 8.25,161.31 9.62,161.22 11,161.14 12.38,161.06 13.75,160.97 15.12,160.89 16.5,160.81 17.88,160.73 19.25,160.65 20.62,160.56 22,160.48 23.38,160.4 24.75,160.31 26.12,160.23 27.5,160.15 28.88,160.07 30.25,159.99 31.62,159.9 33,159.82 34.38,159.74 35.75,159.66 37.12,159.57 38.5,159.49 39.88,159.41 41.25,159.32 42.62,159.24 44,159.16 45.38,159.08 46.75,159 48.12,158.91 49.5,158.83 50.88,158.75 52.25,158.66 53.62,158.58 55,158.5 55,160.95 53.62,161.03 52.25,161.11 50.88,161.2 49.5,161.28 48.12,161.36 46.75,161.44 45.38,161.53 44,161.61 42.62,161.69 41.25,161.77 39.88,161.86 38.5,161.94 37.12,162.02 35.75,162.1 34.38,162.19 33,162.27 31.62,162.35 30.25,162.44 28.88,162.52 27.5,162.6 26.12,162.68 24.75,162.76 23.38,162.85 22,162.93 20.62,163.01 19.25,163.09 17.88,163.18 16.5,163.26 15.12,163.34 13.75,163.42 12.38,163.51 11,163.59 9.62,163.67 8.25,163.75 6.88,163.84 5.5,163.92 4.12,164 2.75,164.08 1.38,164.17 0,164.25" fill="#0000f7"/><polygon points="0,163.55 1.38,163.47 2.75,163.38 4.12,163.3 5.5,163.22 6.88,163.14 8.25,163.06 9.62,162.97 11,162.89 12.38,162.81 13.75,162.72 15.12,162.64 16.5,162.56 17.88,162.48 19.25,162.4 20.62,162.31 22,162.23 23.38,162.15 24.75,162.06 26.12,161.98 27.5,161.9 28.88,161.82 30.25,161.74 31.62,161.65 33,161.57 34.38,161.49 35.75,161.41 37.12,161.32 38.5,161.24 39.88,161.16 41.25,161.07 42.62,160.99 44,160.91 45.38,160.83 46.75,160.75 48.12,160.66 49.5,160.58 50.88,160.5 52.25,160.41 53.62,160.33 55,160.25 55,162.7 53.62,162.78 52.25,162.86 50.88,162.95 49.5,163.03 48.12,163.11 46.75,163.19 45.38,163.28 44,163.36 42.62,163.44 41.25,163.52 39.88,163.61 38.5,163.69 37.12,163.77 35.75,163.85 34.38,163.94 33,164.02 31.62,164.1 30.25,164.19 28.88,164.27 27.5,164.35 26.12,164.43 24.75,164.51 23.38,164.6 22,164.68 20.62,164.76 19.25,164.84 17.88,164.93 16.5,165.01 15.12,165.09 13.75,165.17 12.38,165.26 11,165.34 9.62,165.42 8.25,165.5 6.88,165.59 5.5,165.67 4.12,165.75 2.75,165.83 1.38,165.92 0,166" fill="#0000e6"/><polygon points="0,165.3 1.38,165.22 2.75,165.13 4.12,165.05 5.5,164.97 6.88,164.89 8.25,164.81 9.62,164.72 11,164.64 12.38,164.56 13.75,164.47 15.12,164.39 16.5,164.31 17.88,164.23 19.25,164.15 20.62,164.06 22,163.98 23.38,163.9 24.75,163.81 26.12,163.73 27.5,163.65 28.88,163.57 30.25,163.49 31.62,163.4 33,163.32 34.38,163.24 35.75,163.16 37.12,163.07 38.5,162.99 39.88,162.91 41.25,162.82 42.62,162.74 44,162.66 45.38,162.58 46.75,162.5 48.12,162.41 49.5,162.33 50.88,162.25 52.25,162.16 53.62,162.08 55,162 55,164.45 53.62,164.53 52.25,164.61 50.88,164.7 49.5,164.78 48.12,164.86 46.75,164.94 45.38,165.03 44,165.11 42.62,165.19 41.25,165.27 39.88,165.36 38.5,165.44 37.12,165.52 35.75,165.6 34.38,165.69 33,165.77 31.62,165.85 30.25,165.94 28.88,166.02 27.5,166.1 26.12,166.18 24.75,166.26 23.38,166.35 22,166.43 20.62,166.51 19.25,166.59 17.88,166.68 16.5,166.76 15.12,166.84 13.75,166.92 12.38,167.01 11,167.09 9.62,167.17 8.25,167.25 6.88,167.34 5.5,167.42 4.12,167.5 2.75,167.58 1.38,167.67 0,167.75" fill="#0000d6"/><polygon points="0,167.05 1.38,166.97 2.75,166.88 4.12,166.8 5.5,166.72 6.88,166.64 8.25,166.56 9.62,166.47 11,166.39 12.38,166.31 13.75,166.22 15.12,166.14 16.5,166.06 17.88,165.98 19.25,165.9 20.62,165.81 22,165.73 23.38,165.65 24.75,165.56 26.12,165.48 27.5,165.4 28.88,165.32 30.25,165.24 31.62,165.15 33,165.07 34.38,164.99 35.75,164.91 37.12,164.82 38.5,164.74 39.88,164.66 41.25,164.57 42.62,164.49 44,164.41 45.38,164.33 46.75,164.25 48.12,164.16 49.5,164.08 50.88,164 52.25,163.91 53.62,163.83 55,163.75 55,166.2 53.62,166.28 52.25,166.36 50.88,166.45 49.5,166.53 48.12,166.61 46.75,166.69 45.38,166.78 44,166.86 42.62,166.94 41.25,167.02 39.88,167.11 38.5,167.19 37.12,167.27 35.75,167.35 34.38,167.44 33,167.52 31.62,167.6 30.25,167.69 28.88,167.77 27.5,167.85 26.12,167.93 24.75,168.01 23.38,168.1 22,168.18 20.62,168.26 19.25,168.34 17.88,168.43 16.5,168.51 15.12,168.59 13.75,168.67 12.38,168.76 11,168.84 9.62,168.92 8.25,169 6.88,169.09 5.5,169.17 4.12,169.25 2.75,169.33 1.38,169.42 0,169.5" fill="#0000c5"/><polygon points="0,168.8 1.38,168.72 2.75,168.63 4.12,168.55 5.5,168.47 6.88,168.39 8.25,168.31 9.62,168.22 11,168.14 12.38,168.06 13.75,167.97 15.12,167.89 16.5,167.81 17.88,167.73 19.25,167.65 20.62,167.56 22,167.48 23.38,167.4 24.75,167.31 26.12,167.23 27.5,167.15 28.88,167.07 30.25,166.99 31.62,166.9 33,166.82 34.38,166.74 35.75,166.66 37.12,166.57 38.5,166.49 39.88,166.41 41.25,166.32 42.62,166.24 44,166.16 45.38,166.08 46.75,166 48.12,165.91 49.5,165.83 50.88,165.75 52.25,165.66 53.62,165.58 55,165.5 55,169.45 53.62,169.53 52.25,169.61 50.88,169.7 49.5,169.78 48.12,169.86 46.75,169.94 45.38,170.03 44,170.11 42.62,170.19 41.25,170.27 39.88,170.36 38.5,170.44 37.12,170.52 35.75,170.6 34.38,170.69 33,170.77 31.62,170.85 30.25,170.94 28.88,171.02 27.5,171.1 26.12,171.18 24.75,171.26 23.38,171.35 22,171.43 20.62,171.51 19.25,171.59 17.88,171.68 16.5,171.76 15.12,171.84 13.75,171.92 12.38,172.01 11,172.09 9.62,172.17 8.25,172.25 6.88,172.34 5.5,172.42 4.12,172.5 2.75,172.58 1.38,172.67 0,172.75" fill="#0000b9"/><polygon points="0,172.05 1.38,171.97 2.75,171.88 4.12,171.8 5.5,171.72 6.88,171.64 8.25,171.56 9.62,171.47 11,171.39 12.38,171.31 13.75,171.22 15.12,171.14 16.5,171.06 17.88,170.98 19.25,170.9 20.62,170.81 22,170.73 23.38,170.65 24.75,170.56 26.12,170.48 27.5,170.4 28.88,170.32 30.25,170.24 31.62,170.15 33,170.07 34.38,169.99 35.75,169.91 37.12,169.82 38.5,169.74 39.88,169.66 41.25,169.57 42.62,169.49 44,169.41 45.38,169.33 46.75,169.25 48.12,169.16 49.5,169.08 50.88,169 52.25,168.91 53.62,168.83 55,168.75 55,172.7 53.62,172.78 52.25,172.86 50.88,172.95 49.5,173.03 48.12,173.11 46.75,173.19 45.38,173.28 44,173.36 42.62,173.44 41.25,173.52 39.88,173.61 38.5,173.69 37.12,173.77 35.75,173.85 34.38,173.94 33,174.02 31.62,174.1 30.25,174.19 28.88,174.27 27.5,174.35 26.12,174.43 24.75,174.51 23.38,174.6 22,174.68 20.62,174.76 19.25,174.84 17.88,174.93 16.5,175.01 15.12,175.09 13.75,175.17 12.38,175.26 11,175.34 9.62,175.42 8.25,175.5 6.88,175.59 5.5,175.67 4.12,175.75 2.75,175.83 1.38,175.92 0,176" fill="#0000b1"/><polygon points="0,175.3 1.38,175.22 2.75,175.13 4.12,175.05 5.5,174.97 6.88,174.89 8.25,174.81 9.62,174.72 11,174.64 12.38,174.56 13.75,174.47 15.12,174.39 16.5,174.31 17.88,174.23 19.25,174.15 20.62,174.06 22,173.98 23.38,173.9 24.75,173.81 26.12,173.73 27.5,173.65 28.88,173.57 30.25,173.49 31.62,173.4 33,173.32 34.38,173.24 35.75,173.16 37.12,173.07 38.5,172.99 39.88,172.91 41.25,172.82 42.62,172.74 44,172.66 45.38,172.58 46.75,172.5 48.12,172.41 49.5,172.33 50.88,172.25 52.25,172.16 53.62,172.08 55,172 55,175.95 53.62,176.03 52.25,176.11 50.88,176.2 49.5,176.28 48.12,176.36 46.75,176.44 45.38,176.53 44,176.61 42.62,176.69 41.25,176.77 39.88,176.86 38.5,176.94 37.12,177.02 35.75,177.1 34.38,177.19 33,177.27 31.62,177.35 30.25,177.44 28.88,177.52 27.5,177.6 26.12,177.68 24.75,177.76 23.38,177.85 22,177.93 20.62,178.01 19.25,178.09 17.88,178.18 16.5,178.26 15.12,178.34 13.75,178.42 12.38,178.51 11,178.59 9.62,178.67 8.25,178.75 6.88,178.84 5.5,178.92 4.12,179 2.75,179.08 1.38,179.17 0,179.25" fill="#0000aa"/><polygon points="0,178.55 1.38,178.47 2.75,178.38 4.12,178.3 5.5,178.22 6.88,178.14 8.25,178.06 9.62,177.97 11,177.89 12.38,177.81 13.75,177.72 15.12,177.64 16.5,177.56 17.88,177.48 19.25,177.4 20.62,177.31 22,177.23 23.38,177.15 24.75,177.06 26.12,176.98 27.5,176.9 28.88,176.82 30.25,176.74 31.62,176.65 33,176.57 34.38,176.49 35.75,176.41 37.12,176.32 38.5,176.24 39.88,176.16 41.25,176.07 42.62,175.99 44,175.91 45.38,175.83 46.75,175.75 48.12,175.66 49.5,175.58 50.88,175.5 52.25,175.41 53.62,175.33 55,175.25 55,179.2 53.62,179.28 52.25,179.36 50.88,179.45 49.5,179.53 48.12,179.61 46.75,179.69 45.38,179.78 44,179.86 42.62,179.94 41.25,180.02 39.88,180.11 38.5,180.19 37.12,180.27 35.75,180.35 34.38,180.44 33,180.52 31.62,180.6 30.25,180.69 28.88,180.77 27.5,180.85 26.12,180.93 24.75,181.01 23.38,181.1 22,181.18 20.62,181.26 19.25,181.34 17.88,181.43 16.5,181.51 15.12,181.59 13.75,181.67 12.38,181.76 11,181.84 9.62,181.92 8.25,182 6.88,182.09 5.5,182.17 4.12,182.25 2.75,182.33 1.38,182.42 0,182.5" fill="#0000a2"/></g><polygon points="42.6,178.7 44.5,160 46.6,145 48.2,127.3 51.4,115.2 49,116 45.5,128 43.5,146 41.5,162 40,178.8" fill="#000" fill-opacity="0.12"/><polygon points="26.5,103.2 27.92,101.39 29.91,98.81 32.25,95.84 34.69,92.88 37,90.3 39.12,88.17 41.2,86.22 43.34,84.38 45.64,82.57 48.2,80.7 51.09,78.72 54.25,76.69 57.56,74.69 60.92,72.8 64.2,71.1 67.41,69.6 70.63,68.25 73.86,67.03 77.08,65.95 80.3,65 83.78,64.18 87.51,63.51 91.12,62.96 94.21,62.53 96.4,62.2 97,70.8 95.4,71.46 93.14,72.35 90.5,73.45 87.73,74.77 85.1,76.3 82.57,78.09 79.97,80.14 77.36,82.37 74.78,84.72 72.3,87.1 69.92,89.51 67.59,92 65.33,94.57 63.13,97.24 61,100 58.82,103.14 56.58,106.64 54.47,110.1 52.68,113.1 51.4,115.2 49.88,114.52 47.76,113.54 45.26,112.42 42.6,111.29 40,110.3 37.22,109.39 34.1,108.48 31.03,107.63 28.37,106.91 26.5,106.4" fill="url(#lg4)"/><polyline points="27,106.2 40,110.3 51,114.6" fill="none" stroke="#f0e040" stroke-width="1.6"/><polygon points="96.4,62.2 97.89,62.13 99.97,62.02 102.43,61.91 105.01,61.82 107.5,61.8 109.89,61.83 112.34,61.89 114.84,62 117.39,62.16 120,62.4 122.72,62.71 125.55,63.08 128.4,63.52 131.19,64.03 133.8,64.6 136.2,65.22 138.45,65.89 140.62,66.64 142.78,67.49 145,68.5 147.35,69.7 149.76,71.06 152.17,72.53 154.48,74.03 156.6,75.5 158.5,76.91 160.24,78.32 161.87,79.74 163.44,81.23 165,82.8 166.65,84.64 168.35,86.71 169.96,88.77 171.32,90.55 172.3,91.8 171.5,96.2 170.03,94.86 168.01,92.97 165.58,90.77 162.86,88.53 160,86.5 156.9,84.64 153.47,82.78 149.86,80.99 146.19,79.31 142.6,77.8 139.26,76.46 136.07,75.26 132.8,74.2 129.19,73.28 125,72.5 119.62,71.9 113.2,71.48 106.68,71.18 100.97,70.97 97,70.8" fill="#78f0e4"/><polyline points="97,70.8 100.97,70.97 106.68,71.18 113.2,71.48 119.62,71.9 125,72.5 129.19,73.28 132.8,74.2 136.07,75.26 139.26,76.46 142.6,77.8 146.19,79.31 149.86,80.99 153.47,82.78 156.9,84.64 160,86.5 162.86,88.53 165.58,90.77 168.01,92.97 170.03,94.86 171.5,96.2" fill="none" stroke="#5cc8be" stroke-width="0.6"/><line x1="96.8" y1="62.3" x2="97" y2="70.8" stroke="#4aa89c" stroke-width="0.8"/><rect x="197.2" y="250.3" width="6.8" height="185" fill="url(#lg5)"/><text x="201.5" y="244.5" font-size="7.2" text-anchor="middle" fill="#222" stroke="#222" stroke-width="0.1">Pa</text><text x="206.5" y="253.8" font-size="7.6" text-anchor="start" fill="#222" stroke="#222" stroke-width="0.1">x 10<tspan font-size="5.2" dy="-3.4">5</tspan></text><line x1="203.4" y1="275.8" x2="204.6" y2="275.8" stroke="#444" stroke-width="0.6"/><text x="206" y="278.4" font-size="7.4" text-anchor="start" fill="#222" stroke="#222" stroke-width="0.1">1.2</text><line x1="203.4" y1="302" x2="204.6" y2="302" stroke="#444" stroke-width="0.6"/><text x="206" y="304.6" font-size="7.4" text-anchor="start" fill="#222" stroke="#222" stroke-width="0.1">1.0</text><line x1="203.4" y1="329" x2="204.6" y2="329" stroke="#444" stroke-width="0.6"/><text x="206" y="331.6" font-size="7.4" text-anchor="start" fill="#222" stroke="#222" stroke-width="0.1">0.8</text><line x1="203.4" y1="355" x2="204.6" y2="355" stroke="#444" stroke-width="0.6"/><text x="206" y="357.6" font-size="7.4" text-anchor="start" fill="#222" stroke="#222" stroke-width="0.1">0.6</text><line x1="203.4" y1="382" x2="204.6" y2="382" stroke="#444" stroke-width="0.6"/><text x="206" y="384.6" font-size="7.4" text-anchor="start" fill="#222" stroke="#222" stroke-width="0.1">0.4</text><line x1="203.4" y1="409" x2="204.6" y2="409" stroke="#444" stroke-width="0.6"/><text x="206" y="411.6" font-size="7.4" text-anchor="start" fill="#222" stroke="#222" stroke-width="0.1">0.2</text><line x1="203.4" y1="434.6" x2="204.6" y2="434.6" stroke="#444" stroke-width="0.6"/><text x="206" y="437.2" font-size="7.4" text-anchor="start" fill="#222" stroke="#222" stroke-width="0.1">0</text><line x1="4.6" y1="239" x2="4.6" y2="285" stroke="#f0a0a0" stroke-width="0.8"/><line x1="4.6" y1="287" x2="4.6" y2="436" stroke="#f0a0a0" stroke-width="0.8" stroke-dasharray="8,4.5"/><text x="9.5" y="247.6" font-size="8.9" text-anchor="start" fill="#222" stroke="#222" stroke-width="0.1">Central axis</text><polygon points="4.8,262 9.88,262.08 14.96,262.32 20.03,262.71 25.08,263.27 30.11,263.98 35.12,264.84 40.1,265.87 45.04,267.05 49.95,268.38 54.81,269.86 59.62,271.5 64.38,273.28 69.08,275.21 73.72,277.29 78.29,279.51 82.79,281.87 87.22,284.37 91.56,287.01 95.82,289.78 99.99,292.69 104.07,295.72 108.06,298.88 111.94,302.16 115.72,305.56 119.39,309.07 122.94,312.7 126.39,316.44 129.71,320.28 132.92,324.23 136,328.27 141.3,333.4 145.7,338.6 150,343.9 152.7,348.3 156.2,354.4 160.5,362.3 165.8,372.8 174.1,389.6 182.5,407.5 195,433.7 177.7,433.5 165.8,406.3 157.4,389.6 152.7,377.7 150.5,375 150,367.6 149.6,361.4 148.3,356.2 145.7,351.8 141.3,348.3 136.96,344.01 134.13,339.56 131.14,335.21 128.02,330.96 124.75,326.83 121.34,322.8 117.79,318.9 114.11,315.11 110.31,311.46 106.39,307.93 102.34,304.54 98.19,301.29 93.93,298.19 89.56,295.23 85.09,292.42 80.54,289.76 75.89,287.26 71.16,284.93 66.36,282.75 61.48,280.74 56.54,278.89 51.54,277.21 46.48,275.71 41.38,274.38 36.23,273.22 31.05,272.24 25.84,271.43 20.6,270.81 15.34,270.36 10.07,270.09 4.8,270" fill="url(#rg6)"/><polygon points="132,324 136.5,328.1 141.3,333.4 145.7,338.6 150,343.9 152.7,348.3 156.2,354.4 160.5,362.3 165.8,372.8 174.1,389.6 182.5,407.5 195,433.7 177.7,433.5 165.8,406.3 157.4,389.6 152.7,377.7 150.5,375 150,367.6 149.6,361.4 148.3,356.2 145.7,351.8 141.3,348.3 136,343 130.8,336.9 125.5,329.9 124,327" fill="url(#lg7)"/><polygon points="149.5,342 152.7,348.3 156.2,354.4 160.5,362.3 165.8,372.8 168,378 162,372 156,362 151.5,353 148,346" fill="#e8f040" fill-opacity="0.85"/><polygon points="152.5,348.5 156.2,354.4 160.5,362.3 164,369.5 162.5,369.8 158.2,361.6 154.4,354.6 151.8,349.5" fill="#f03010"/><polygon points="154.5,382 160,378.5 166.5,374.5 170,381.5 174.1,389.6 182.5,407.5 195,433.7 192.5,433.6" fill="url(#lg8)"/><polygon points="153.8,382.5 165,397 180,415 193.2,432.6 177.7,433.5 171,419 165.8,406.3 160,395 157.4,389.6" fill="url(#lg9)"/><polygon points="176.5,431 180,427 183,433.6 177.7,433.6" fill="#f0c020"/><polygon points="177,432 179.5,429.5 181.5,433.6 177.7,433.6" fill="#f03010"/><polyline points="153.8,382.5 165,397 180,415 193.2,432.6" fill="none" stroke="#a03838" stroke-width="0.6"/><polygon points="4.8,254.5 10.09,254.58 15.37,254.83 20.64,255.24 25.89,255.81 31.13,256.55 36.34,257.44 41.52,258.5 46.66,259.72 51.77,261.1 56.83,262.63 61.84,264.32 66.79,266.17 71.68,268.17 76.51,270.32 81.28,272.61 85.96,275.06 90.57,277.65 95.1,280.38 99.54,283.25 103.89,286.25 108.14,289.39 112.3,292.66 116.35,296.06 120.29,299.58 124.13,303.22 127.85,306.98 131.45,310.85 134.92,314.83 138.28,318.92 141.5,323.1 136.5,328.1 136,328.27 132.92,324.23 129.71,320.28 126.39,316.44 122.94,312.7 119.39,309.07 115.72,305.56 111.94,302.16 108.06,298.88 104.07,295.72 99.99,292.69 95.82,289.78 91.56,287.01 87.22,284.37 82.79,281.87 78.29,279.51 73.72,277.29 69.08,275.21 64.38,273.28 59.62,271.5 54.81,269.86 49.95,268.38 45.04,267.05 40.1,265.87 35.12,264.84 30.11,263.98 25.08,263.27 20.03,262.71 14.96,262.32 9.88,262.08 4.8,262" fill="#1f08c8"/><line x1="111.44" y1="302.83" x2="114.64" y2="299.83" stroke="#ffffff" stroke-width="0.9"/><line x1="113.36" y1="304.57" x2="116.56" y2="301.57" stroke="#ffffff" stroke-width="0.9"/><line x1="121.94" y1="312.43" x2="125.14" y2="309.43" stroke="#ffffff" stroke-width="0.9"/><line x1="123.86" y1="314.17" x2="127.06" y2="311.17" stroke="#ffffff" stroke-width="0.9"/><polyline points="4.8,270.8 8.93,270.86 13.05,271.02 17.17,271.3 21.28,271.68 25.37,272.18 29.45,272.78 33.52,273.5 37.56,274.32 41.58,275.25 45.58,276.29 49.54,277.43 53.47,278.68 57.37,280.04 61.23,281.5 65.05,283.06 68.83,284.72 72.56,286.48 76.24,288.35 79.87,290.31 83.45,292.37 86.97,294.52 90.43,296.76 93.83,299.1 97.17,301.53 100.44,304.04 103.64,306.65 106.77,309.33 109.83,312.1 112.82,314.95 115.72,317.88 123.8,330.8 130.8,341.3 136.9,351.8 142.2,362.3 146,371 153.8,382.5" fill="none" stroke="#f05050" stroke-width="0.7"/><polyline points="4.6,278.5 6.8,278.55 9.84,278.59 13.44,278.66 17.35,278.76 21.29,278.94 25,279.2 28.52,279.52 32.08,279.87 35.67,280.28 39.3,280.8 42.98,281.46 46.7,282.3 50.49,283.31 54.34,284.45 58.24,285.74 62.17,287.17 66.09,288.76 70,290.5 74.02,292.48 78.19,294.71 82.37,297.09 86.4,299.53 90.12,301.93 93.4,304.2 96.17,306.27 98.53,308.22 100.6,310.12 102.47,312.08 104.23,314.18 106,316.5 107.73,319.18 109.34,322.16 110.85,325.29 112.28,328.38 113.66,331.28 115,333.8 116.29,335.9 117.51,337.69 118.68,339.27 119.81,340.77 120.91,342.28 122,343.9 123.08,345.62 124.13,347.34 125.16,349.07 126.16,350.82 127.14,352.59 128.1,354.4 129.06,356.28 130.01,358.25 130.94,360.24 131.83,362.2 132.65,364.07 133.4,365.8 134.03,367.29 134.56,368.59 135.02,369.79 135.47,371.01 135.95,372.38 136.5,374 137.1,375.95 137.71,378.16 138.34,380.51 139.04,382.88 139.81,385.15 140.7,387.2 141.67,389 142.7,390.63 143.82,392.16 145.04,393.65 146.39,395.18 147.9,396.8 149.64,398.52 151.6,400.29 153.7,402.08 155.83,403.89 157.9,405.7 159.8,407.5 161.55,409.24 163.22,410.93 164.83,412.62 166.38,414.37 167.9,416.21 169.4,418.2 170.95,420.54 172.57,423.23 174.15,426.02 175.6,428.66 176.81,430.9 177.7,432.5" fill="none" stroke="#f05050" stroke-width="0.7"/><line x1="177.7" y1="433.7" x2="195" y2="433.7" stroke="#e04040" stroke-width="0.7"/><polygon points="126.4,319.4 150.9,319.4 150.9,339.5 126.4,339.5" fill="none" stroke="#e03838" stroke-width="0.9" stroke-dasharray="2.6,1.8"/><line x1="126.4" y1="319.4" x2="22.4" y2="341.4" stroke="#e03838" stroke-width="0.9" stroke-dasharray="2.6,1.8"/><line x1="150.9" y1="339.5" x2="110.8" y2="428.5" stroke="#e03838" stroke-width="0.9" stroke-dasharray="2.6,1.8"/><polygon points="22.4,343.5 79.4,399.8 105.4,428.5 22.4,428.5" fill="url(#lg11)"/><polygon points="22.4,415 35,428.5 22.4,428.5" fill="#70f0b0" fill-opacity="0.6"/><polygon points="23.4,341.4 110.8,341.4 110.8,362.6 78.6,396.3 23.4,341.4" fill="#1f08c8"/><line x1="23.6" y1="342.3" x2="79.4" y2="398.4" stroke="#1c1c70" stroke-width="1.8"/><polygon points="22.4,341.4 110.8,341.4 110.8,428.5 22.4,428.5" fill="none" stroke="#e03838" stroke-width="0.9" stroke-dasharray="2.6,1.8"/><text x="79.3" y="354.4" font-size="10.2" text-anchor="middle" fill="#ffffff" stroke="#ffffff" stroke-width="0.1">Contact</text><text x="80.5" y="364.4" font-size="10.2" text-anchor="middle" fill="#ffffff" stroke="#ffffff" stroke-width="0.1">lens</text><text x="25" y="387.2" font-size="8.6" text-anchor="start" fill="#1a2a3a" stroke="#1a2a3a" stroke-width="0.1">Tear film</text><text x="69.8" y="410.5" font-size="8.6" text-anchor="start" fill="#1a2a3a" stroke="#1a2a3a" stroke-width="0.1">Shear-lag</text><text x="29.5" y="423.8" font-size="10.2" text-anchor="start" fill="#1a2a3a" stroke="#1a2a3a" stroke-width="0.1">Cornea</text><line x1="274.5" y1="77.8" x2="398.1" y2="24.8" stroke="#e2e2e2" stroke-width="0.6"/><line x1="398.1" y1="24.8" x2="398.1" y2="46" stroke="#e2e2e2" stroke-width="0.6"/><line x1="398.1" y1="24.8" x2="470.4" y2="134" stroke="#e2e2e2" stroke-width="0.6"/><line x1="470.4" y1="134" x2="470.4" y2="143.6" stroke="#e2e2e2" stroke-width="0.6"/><line x1="274.5" y1="87.8" x2="398.1" y2="35" stroke="#e2e2e2" stroke-width="0.6"/><line x1="274.5" y1="97.9" x2="398.1" y2="45" stroke="#e2e2e2" stroke-width="0.6"/><line x1="305" y1="65.5" x2="305" y2="91" stroke="#e2e2e2" stroke-width="0.6"/><line x1="336" y1="52" x2="336" y2="78" stroke="#e2e2e2" stroke-width="0.6"/><line x1="367" y1="38.5" x2="367" y2="64" stroke="#e2e2e2" stroke-width="0.6"/><line x1="416" y1="54" x2="416" y2="78" stroke="#e2e2e2" stroke-width="0.6"/><line x1="434" y1="83" x2="434" y2="105" stroke="#e2e2e2" stroke-width="0.6"/><line x1="452" y1="110" x2="452" y2="130" stroke="#e2e2e2" stroke-width="0.6"/><g clip-path="url(#c12)"><polygon points="327.81,165.44 337,176 338.25,177.44 339.5,178.75 340.75,179.94 342,181 343.25,181.94 344.5,182.75 345.75,183.44 347,184 359.77,189.75 359.98,189.52 347.3,183.6 345.85,182.91 344.41,182.07 343,181.11 341.6,180 340.22,178.76 338.86,177.38 337.52,175.86 336.2,174.2 327.35,163.39" fill="#8e0000" stroke="#8e0000" stroke-width="0.6"/><polygon points="327.35,163.39 336.2,174.2 337.52,175.86 338.86,177.38 340.22,178.76 341.6,180 343,181.11 344.41,182.07 345.85,182.91 347.3,183.6 359.98,189.52 360.19,189.3 347.6,183.2 345.94,182.38 344.32,181.4 342.74,180.28 341.2,179 339.69,177.57 338.23,176 336.79,174.28 335.4,172.4 326.88,161.34" fill="#960000" stroke="#960000" stroke-width="0.6"/><polygon points="326.88,161.34 335.4,172.4 336.79,174.28 338.23,176 339.69,177.57 341.2,179 342.74,180.28 344.32,181.4 345.94,182.38 347.6,183.2 360.19,189.3 360.4,189.08 347.9,182.8 346.04,181.84 344.24,180.72 342.49,179.44 340.8,178 339.17,176.39 337.59,174.62 336.07,172.69 334.6,170.6 326.42,159.29" fill="#9e0000" stroke="#9e0000" stroke-width="0.6"/><polygon points="326.42,159.29 334.6,170.6 336.07,172.69 337.59,174.62 339.17,176.39 340.8,178 342.49,179.44 344.24,180.72 346.04,181.84 347.9,182.8 360.4,189.08 360.62,188.85 348.2,182.4 346.14,181.31 344.15,180.05 342.24,178.61 340.4,177 338.64,175.21 336.95,173.25 335.34,171.11 333.8,168.8 325.95,157.24" fill="#a60000" stroke="#a60000" stroke-width="0.6"/><polygon points="325.95,157.24 333.8,168.8 335.34,171.11 336.95,173.25 338.64,175.21 340.4,177 342.24,178.61 344.15,180.05 346.14,181.31 348.2,182.4 360.62,188.85 360.83,188.63 348.5,182 346.23,180.78 344.06,179.38 341.98,177.78 340,176 338.11,174.03 336.31,171.88 334.61,169.53 333,167 325.49,155.19" fill="#ae0000" stroke="#ae0000" stroke-width="0.6"/><polygon points="325.49,155.19 333,167 334.61,169.53 336.31,171.88 338.11,174.03 340,176 341.98,177.78 344.06,179.38 346.23,180.78 348.5,182 360.83,188.63 361.32,188.81 349.32,181.7 346.88,180.2 344.52,178.55 342.23,176.75 340,174.8 337.85,172.7 335.76,170.46 333.75,168.06 331.8,165.52 323.59,154.34" fill="#ba0000" stroke="#ba0000" stroke-width="0.6"/><polygon points="323.59,154.34 331.8,165.52 333.75,168.06 335.76,170.46 337.85,172.7 340,174.8 342.23,176.75 344.52,178.55 346.88,180.2 349.32,181.7 361.32,188.81 361.81,189 350.14,181.4 347.54,179.62 344.98,177.72 342.47,175.72 340,173.6 337.58,171.38 335.21,169.04 332.88,166.59 330.6,164.04 321.69,153.49" fill="#c90000" stroke="#c90000" stroke-width="0.6"/><polygon points="321.69,153.49 330.6,164.04 332.88,166.59 335.21,169.04 337.58,171.38 340,173.6 342.47,175.72 344.98,177.72 347.54,179.62 350.14,181.4 361.81,189 362.3,189.18 350.96,181.1 348.19,179.03 345.44,176.89 342.71,174.68 340,172.4 337.32,170.05 334.66,167.62 332.02,165.13 329.4,162.56 319.8,152.64" fill="#d90000" stroke="#d90000" stroke-width="0.6"/><polygon points="319.8,152.64 329.4,162.56 332.02,165.13 334.66,167.62 337.32,170.05 340,172.4 342.71,174.68 345.44,176.89 348.19,179.03 350.96,181.1 362.3,189.18 362.79,189.36 351.78,180.8 348.84,178.45 345.89,176.06 342.95,173.65 340,171.2 337.05,168.72 334.1,166.2 331.15,163.66 328.2,161.08 317.9,151.78" fill="#e80000" stroke="#e80000" stroke-width="0.6"/><polygon points="317.9,151.78 328.2,161.08 331.15,163.66 334.1,166.2 337.05,168.72 340,171.2 342.95,173.65 345.89,176.06 348.84,178.45 351.78,180.8 362.79,189.36 363.29,189.54 352.6,180.5 349.49,177.87 346.35,175.24 343.19,172.62 340,170 336.79,167.39 333.55,164.79 330.29,162.19 327,159.6 316,150.93" fill="#f70000" stroke="#f70000" stroke-width="0.6"/><polygon points="316,150.93 327,159.6 330.29,162.19 333.55,164.79 336.79,167.39 340,170 343.19,172.62 346.35,175.24 349.49,177.87 352.6,180.5 363.29,189.54 363.81,189.52 353.28,180.3 349.49,176.89 345.68,173.47 341.85,170.04 338,166.6 334.13,163.15 330.24,159.7 326.33,156.23 322.4,152.76 311.7,143.78" fill="#ff0d00" stroke="#ff0d00" stroke-width="0.6"/><polygon points="311.7,143.78 322.4,152.76 326.33,156.23 330.24,159.7 334.13,163.15 338,166.6 341.85,170.04 345.68,173.47 349.49,176.89 353.28,180.3 363.81,189.52 364.32,189.49 353.96,180.1 349.49,175.91 345.01,171.7 340.51,167.46 336,163.2 331.47,158.92 326.93,154.61 322.37,150.28 317.8,145.92 307.39,136.62" fill="#ff2600" stroke="#ff2600" stroke-width="0.6"/><polygon points="307.39,136.62 317.8,145.92 322.37,150.28 326.93,154.61 331.47,158.92 336,163.2 340.51,167.46 345.01,171.7 349.49,175.91 353.96,180.1 364.32,189.49 364.84,189.47 354.64,179.9 349.5,174.93 344.34,169.93 339.18,164.88 334,159.8 328.81,154.68 323.62,149.52 318.41,144.32 313.2,139.08 303.09,129.46" fill="#ff4000" stroke="#ff4000" stroke-width="0.6"/><polygon points="303.09,129.46 313.2,139.08 318.41,144.32 323.62,149.52 328.81,154.68 334,159.8 339.18,164.88 344.34,169.93 349.5,174.93 354.64,179.9 364.84,189.47 365.36,189.44 355.32,179.7 349.5,173.96 343.67,168.16 337.84,162.31 332,156.4 326.16,150.44 320.31,144.43 314.46,138.36 308.6,132.24 298.78,122.3" fill="#ff5900" stroke="#ff5900" stroke-width="0.6"/><polygon points="298.78,122.3 308.6,132.24 314.46,138.36 320.31,144.43 326.16,150.44 332,156.4 337.84,162.31 343.67,168.16 349.5,173.96 355.32,179.7 365.36,189.44 365.88,189.42 356,179.5 349.5,172.98 343,166.39 336.5,159.73 330,153 323.5,146.2 317,139.34 310.5,132.4 304,125.4 294.48,115.14" fill="#ff7300" stroke="#ff7300" stroke-width="0.6"/><polygon points="294.48,115.14 304,125.4 310.5,132.4 317,139.34 323.5,146.2 330,153 336.5,159.73 343,166.39 349.5,172.98 356,179.5 365.88,189.42 367.08,188.96 357,179.26 349.43,172.1 342,164.91 334.73,157.67 327.6,150.4 320.62,143.09 313.8,135.74 307.12,128.35 300.6,120.92 291.34,110.44" fill="#ff8900" stroke="#ff8900" stroke-width="0.6"/><polygon points="291.34,110.44 300.6,120.92 307.12,128.35 313.8,135.74 320.62,143.09 327.6,150.4 334.73,157.67 342,164.91 349.43,172.1 357,179.26 367.08,188.96 368.27,188.51 358,179.02 349.35,171.23 341,163.43 332.95,155.62 325.2,147.8 317.75,139.97 310.6,132.14 303.75,124.29 297.2,116.44 288.2,105.75" fill="#ff9b00" stroke="#ff9b00" stroke-width="0.6"/><polygon points="288.2,105.75 297.2,116.44 303.75,124.29 310.6,132.14 317.75,139.97 325.2,147.8 332.95,155.62 341,163.43 349.35,171.23 358,179.02 368.27,188.51 369.46,188.06 359,178.78 349.27,170.35 340,161.95 331.18,153.56 322.8,145.2 314.88,136.86 307.4,128.54 300.38,120.24 293.8,111.96 285.06,101.06" fill="#ffad00" stroke="#ffad00" stroke-width="0.6"/><polygon points="285.06,101.06 293.8,111.96 300.38,120.24 307.4,128.54 314.88,136.86 322.8,145.2 331.18,153.56 340,161.95 349.27,170.35 359,178.78 369.46,188.06 370.65,187.61 360,178.54 349.2,169.48 339,160.47 329.4,151.51 320.4,142.6 312,133.74 304.2,124.94 297,116.18 290.4,107.48 281.92,96.36" fill="#ffc000" stroke="#ffc000" stroke-width="0.6"/><polygon points="281.92,96.36 290.4,107.48 297,116.18 304.2,124.94 312,133.74 320.4,142.6 329.4,151.51 339,160.47 349.2,169.48 360,178.54 370.65,187.61 371.84,187.15 361,178.3 349.12,168.6 338,158.99 327.62,149.45 318,140 309.12,130.63 301,121.34 293.62,112.13 287,103 278.78,91.67" fill="#ffd200" stroke="#ffd200" stroke-width="0.6"/><polygon points="278.78,91.67 287,103 293.62,112.13 301,121.34 309.12,130.63 318,140 327.62,149.45 338,158.99 349.12,168.6 361,178.3 371.84,187.15 372.49,187.17 361.8,178.14 349.33,167.51 337.68,157.12 326.83,146.98 316.8,137.08 307.58,127.43 299.18,118.03 291.58,108.87 284.8,99.96 276.32,88.84" fill="#ffdf00" stroke="#ffdf00" stroke-width="0.6"/><polygon points="276.32,88.84 284.8,99.96 291.58,108.87 299.18,118.03 307.58,127.43 316.8,137.08 326.83,146.98 337.68,157.12 349.33,167.51 361.8,178.14 372.49,187.17 373.13,187.19 362.6,177.98 349.54,166.41 337.35,155.25 326.04,144.5 315.6,134.16 306.04,124.23 297.35,114.72 289.54,105.61 282.6,96.92 273.87,86" fill="#ffe600" stroke="#ffe600" stroke-width="0.6"/><polygon points="273.87,86 282.6,96.92 289.54,105.61 297.35,114.72 306.04,124.23 315.6,134.16 326.04,144.5 337.35,155.25 349.54,166.41 362.6,177.98 373.13,187.19 373.77,187.21 363.4,177.82 349.74,165.31 337.02,153.38 325.24,142.02 314.4,131.24 304.49,121.04 295.52,111.41 287.49,102.36 280.4,93.88 271.42,83.17" fill="#ffed00" stroke="#ffed00" stroke-width="0.6"/><polygon points="271.42,83.17 280.4,93.88 287.49,102.36 295.52,111.41 304.49,121.04 314.4,131.24 325.24,142.02 337.02,153.38 349.74,165.31 363.4,177.82 373.77,187.21 374.41,187.23 364.2,177.66 349.95,164.21 336.7,151.51 324.45,139.54 313.2,128.32 302.95,117.84 293.7,108.1 285.45,99.1 278.2,90.84 268.97,80.34" fill="#fff400" stroke="#fff400" stroke-width="0.6"/><polygon points="268.97,80.34 278.2,90.84 285.45,99.1 293.7,108.1 302.95,117.84 313.2,128.32 324.45,139.54 336.7,151.51 349.95,164.21 364.2,177.66 374.41,187.23 375.05,187.24 365,177.5 350.16,163.12 336.38,149.64 323.66,137.07 312,125.4 301.41,114.64 291.88,104.79 283.41,95.84 276,87.8 266.52,77.5" fill="#fffb00" stroke="#fffb00" stroke-width="0.6"/><polygon points="266.52,77.5 276,87.8 283.41,95.84 291.88,104.79 301.41,114.64 312,125.4 323.66,137.07 336.38,149.64 350.16,163.12 365,177.5 375.05,187.24 377.76,186.43 367.6,176.8 352.82,162.78 339.1,149.54 326.43,137.08 314.8,125.4 304.23,114.5 294.7,104.39 286.23,95.05 278.8,86.5 269.6,75.98" fill="#f2ff0d" stroke="#f2ff0d" stroke-width="0.6"/><polygon points="269.6,75.98 278.8,86.5 286.23,95.05 294.7,104.39 304.23,114.5 314.8,125.4 326.43,137.08 339.1,149.54 352.82,162.78 367.6,176.8 377.76,186.43 380.46,185.61 370.2,176.1 355.49,162.44 341.82,149.44 329.19,137.09 317.6,125.4 307.04,114.37 297.52,103.99 289.04,94.27 281.6,85.2 272.68,74.45" fill="#d9ff26" stroke="#d9ff26" stroke-width="0.6"/><polygon points="272.68,74.45 281.6,85.2 289.04,94.27 297.52,103.99 307.04,114.37 317.6,125.4 329.19,137.09 341.82,149.44 355.49,162.44 370.2,176.1 380.46,185.61 383.17,184.8 372.8,175.4 358.16,162.1 344.55,149.34 331.96,137.1 320.4,125.4 309.86,114.23 300.35,103.59 291.86,93.48 284.4,83.9 275.76,72.92" fill="#bfff40" stroke="#bfff40" stroke-width="0.6"/><polygon points="275.76,72.92 284.4,83.9 291.86,93.48 300.35,103.59 309.86,114.23 320.4,125.4 331.96,137.1 344.55,149.34 358.16,162.1 372.8,175.4 383.17,184.8 385.87,183.99 375.4,174.7 360.83,161.77 347.27,149.24 334.73,137.12 323.2,125.4 312.68,114.09 303.18,103.19 294.68,92.69 287.2,82.6 278.84,71.4" fill="#a6ff59" stroke="#a6ff59" stroke-width="0.6"/><polygon points="278.84,71.4 287.2,82.6 294.68,92.69 303.18,103.19 312.68,114.09 323.2,125.4 334.73,137.12 347.27,149.24 360.83,161.77 375.4,174.7 385.87,183.99 388.58,183.17 378,174 363.5,161.43 350,149.14 337.5,137.13 326,125.4 315.5,113.95 306,102.79 297.5,91.9 290,81.3 281.92,69.87" fill="#97ff73" stroke="#97ff73" stroke-width="0.6"/><polygon points="281.92,69.87 290,81.3 297.5,91.9 306,102.79 315.5,113.95 326,125.4 337.5,137.13 350,149.14 363.5,161.43 378,174 388.58,183.17 392.43,181.53 381.6,172.7 366.82,160.64 353.1,148.74 340.43,136.99 328.8,125.4 318.23,113.97 308.7,102.69 300.23,91.57 292.8,80.6 284.94,69.03" fill="#8dff8c" stroke="#8dff8c" stroke-width="0.6"/><polygon points="284.94,69.03 292.8,80.6 300.23,91.57 308.7,102.69 318.23,113.97 328.8,125.4 340.43,136.99 353.1,148.74 366.82,160.64 381.6,172.7 392.43,181.53 396.28,179.89 385.2,171.4 370.15,159.85 356.2,148.34 343.35,136.85 331.6,125.4 320.95,113.98 311.4,102.59 302.95,91.23 295.6,79.9 287.96,68.19" fill="#83ffa6" stroke="#83ffa6" stroke-width="0.6"/><polygon points="287.96,68.19 295.6,79.9 302.95,91.23 311.4,102.59 320.95,113.98 331.6,125.4 343.35,136.85 356.2,148.34 370.15,159.85 385.2,171.4 396.28,179.89 400.14,178.25 388.8,170.1 373.48,159.07 359.3,147.94 346.27,136.72 334.4,125.4 323.68,113.99 314.1,102.49 305.68,90.89 298.4,79.2 290.99,67.34" fill="#7affbf" stroke="#7affbf" stroke-width="0.6"/><polygon points="290.99,67.34 298.4,79.2 305.68,90.89 314.1,102.49 323.68,113.99 334.4,125.4 346.27,136.72 359.3,147.94 373.48,159.07 388.8,170.1 400.14,178.25 403.99,176.61 392.4,168.8 376.8,158.28 362.4,147.54 349.2,136.58 337.2,125.4 326.4,114 316.8,102.39 308.4,90.55 301.2,78.5 294.01,66.5" fill="#70ffd9" stroke="#70ffd9" stroke-width="0.6"/><polygon points="294.01,66.5 301.2,78.5 308.4,90.55 316.8,102.39 326.4,114 337.2,125.4 349.2,136.58 362.4,147.54 376.8,158.28 392.4,168.8 403.99,176.61 407.84,174.97 396,167.5 380.12,157.49 365.5,147.14 352.12,136.44 340,125.4 329.12,114.02 319.5,102.29 311.12,90.22 304,77.8 297.03,65.66" fill="#66fff2" stroke="#66fff2" stroke-width="0.6"/><polygon points="297.03,65.66 304,77.8 311.12,90.22 319.5,102.29 329.12,114.02 340,125.4 352.12,136.44 365.5,147.14 380.12,157.49 396,167.5 407.84,174.97 409.95,174.08 398,166.8 382.09,157.09 367.45,146.96 354.09,136.39 342,125.4 331.19,113.98 321.65,102.13 313.39,89.85 306.4,77.14 299.65,64.89" fill="#62f7ff" stroke="#62f7ff" stroke-width="0.6"/><polygon points="299.65,64.89 306.4,77.14 313.39,89.85 321.65,102.13 331.19,113.98 342,125.4 354.09,136.39 367.45,146.96 382.09,157.09 398,166.8 409.95,174.08 412.06,173.2 400,166.1 384.05,156.7 369.4,146.78 356.05,136.35 344,125.4 333.25,113.94 323.8,101.97 315.65,89.48 308.8,76.48 302.26,64.11" fill="#59e8ff" stroke="#59e8ff" stroke-width="0.6"/><polygon points="302.26,64.11 308.8,76.48 315.65,89.48 323.8,101.97 333.25,113.94 344,125.4 356.05,136.35 369.4,146.78 384.05,156.7 400,166.1 412.06,173.2 414.16,172.31 402,165.4 386.01,156.3 371.35,146.6 358.01,136.3 346,125.4 335.31,113.9 325.95,101.81 317.91,89.11 311.2,75.82 304.88,63.34" fill="#50d9ff" stroke="#50d9ff" stroke-width="0.6"/><polygon points="304.88,63.34 311.2,75.82 317.91,89.11 325.95,101.81 335.31,113.9 346,125.4 358.01,136.3 371.35,146.6 386.01,156.3 402,165.4 414.16,172.31 416.27,171.43 404,164.7 387.98,155.9 373.3,146.42 359.98,136.25 348,125.4 337.38,113.87 328.1,101.65 320.18,88.75 313.6,75.16 307.49,62.57" fill="#46c9ff" stroke="#46c9ff" stroke-width="0.6"/><polygon points="307.49,62.57 313.6,75.16 320.18,88.75 328.1,101.65 337.38,113.87 348,125.4 359.98,136.25 373.3,146.42 387.98,155.9 404,164.7 416.27,171.43 418.38,170.55 406,164 389.94,155.5 375.25,146.24 361.94,136.2 350,125.4 339.44,113.83 330.25,101.49 322.44,88.38 316,74.5 310.11,61.8" fill="#3dbaff" stroke="#3dbaff" stroke-width="0.6"/><polygon points="310.11,61.8 316,74.5 322.44,88.38 330.25,101.49 339.44,113.83 350,125.4 361.94,136.2 375.25,146.24 389.94,155.5 406,164 418.38,170.55 420.47,169.64 408,163.3 391.9,155.1 377.2,146.06 363.9,136.15 352,125.4 341.5,113.79 332.4,101.34 324.7,88.02 318.4,73.86 312.7,61.08" fill="#35adff" stroke="#35adff" stroke-width="0.6"/><polygon points="312.7,61.08 318.4,73.86 324.7,88.02 332.4,101.34 341.5,113.79 352,125.4 363.9,136.15 377.2,146.06 391.9,155.1 408,163.3 420.47,169.64 422.57,168.74 410,162.6 393.86,154.7 379.15,145.87 365.86,136.1 354,125.4 343.56,113.76 334.55,101.18 326.96,87.67 320.8,73.22 315.3,60.36" fill="#2fa3ff" stroke="#2fa3ff" stroke-width="0.6"/><polygon points="315.3,60.36 320.8,73.22 326.96,87.67 334.55,101.18 343.56,113.76 354,125.4 365.86,136.1 379.15,145.87 393.86,154.7 410,162.6 422.57,168.74 424.67,167.84 412,161.9 395.82,154.31 381.1,145.69 367.82,136.06 356,125.4 345.62,113.72 336.7,101.03 329.23,87.32 323.2,72.58 317.89,59.64" fill="#2999ff" stroke="#2999ff" stroke-width="0.6"/><polygon points="317.89,59.64 323.2,72.58 329.23,87.32 336.7,101.03 345.62,113.72 356,125.4 367.82,136.06 381.1,145.69 395.82,154.31 412,161.9 424.67,167.84 426.76,166.94 414,161.2 397.79,153.91 383.05,145.51 369.79,136.01 358,125.4 347.69,113.69 338.85,100.88 331.49,86.96 325.6,71.94 320.48,58.92" fill="#228fff" stroke="#228fff" stroke-width="0.6"/><polygon points="320.48,58.92 325.6,71.94 331.49,86.96 338.85,100.88 347.69,113.69 358,125.4 369.79,136.01 383.05,145.51 397.79,153.91 414,161.2 426.76,166.94 428.86,166.03 416,160.5 399.75,153.51 385,145.32 371.75,135.96 360,125.4 349.75,113.66 341,100.72 333.75,86.61 328,71.3 323.08,58.19" fill="#1c85ff" stroke="#1c85ff" stroke-width="0.6"/><polygon points="323.08,58.19 328,71.3 333.75,86.61 341,100.72 349.75,113.66 360,125.4 371.75,135.96 385,145.32 399.75,153.51 416,160.5 428.86,166.03 430.49,165.35 417.6,159.9 401.7,153.16 387.2,145.17 374.1,135.92 362.4,125.4 352.1,113.62 343.2,100.59 335.7,86.3 329.6,70.74 324.51,57.71" fill="#1778ff" stroke="#1778ff" stroke-width="0.6"/><polygon points="324.51,57.71 329.6,70.74 335.7,86.3 343.2,100.59 352.1,113.62 362.4,125.4 374.1,135.92 387.2,145.17 401.7,153.16 417.6,159.9 430.49,165.35 432.13,164.67 419.2,159.3 403.65,152.82 389.4,145.01 376.45,135.87 364.8,125.4 354.45,113.59 345.4,100.45 337.65,85.98 331.2,70.18 325.93,57.22" fill="#126aff" stroke="#126aff" stroke-width="0.6"/><polygon points="325.93,57.22 331.2,70.18 337.65,85.98 345.4,100.45 354.45,113.59 364.8,125.4 376.45,135.87 389.4,145.01 403.65,152.82 419.2,159.3 432.13,164.67 433.76,163.99 420.8,158.7 405.6,152.48 391.6,144.86 378.8,135.83 367.2,125.4 356.8,113.56 347.6,100.32 339.6,85.67 332.8,69.62 327.36,56.73" fill="#0d5bff" stroke="#0d5bff" stroke-width="0.6"/><polygon points="327.36,56.73 332.8,69.62 339.6,85.67 347.6,100.32 356.8,113.56 367.2,125.4 378.8,135.83 391.6,144.86 405.6,152.48 420.8,158.7 433.76,163.99 435.4,163.3 422.4,158.1 407.55,152.14 393.8,144.71 381.15,135.79 369.6,125.4 359.15,113.53 349.8,100.19 341.55,85.36 334.4,69.06 328.79,56.24" fill="#124dff" stroke="#124dff" stroke-width="0.6"/><polygon points="328.79,56.24 334.4,69.06 341.55,85.36 349.8,100.19 359.15,113.53 369.6,125.4 381.15,135.79 393.8,144.71 407.55,152.14 422.4,158.1 435.4,163.3 437.03,162.62 424,157.5 409.5,151.8 396,144.55 383.5,135.75 372,125.4 361.5,113.5 352,100.05 343.5,85.05 336,68.5 330.22,55.75" fill="#173eff" stroke="#173eff" stroke-width="0.6"/><polygon points="330.22,55.75 336,68.5 343.5,85.05 352,100.05 361.5,113.5 372,125.4 383.5,135.75 396,144.55 409.5,151.8 424,157.5 437.03,162.62 438.66,161.95 425.6,156.9 411.51,151.43 398.27,144.36 385.91,135.68 374.4,125.4 363.76,113.51 353.98,100.01 345.06,84.91 337,68.2 330.95,55.59" fill="#1b34ff" stroke="#1b34ff" stroke-width="0.6"/><polygon points="330.95,55.59 337,68.2 345.06,84.91 353.98,100.01 363.76,113.51 374.4,125.4 385.91,135.68 398.27,144.36 411.51,151.43 425.6,156.9 438.66,161.95 440.28,161.28 427.2,156.3 413.51,151.07 400.55,144.18 388.31,135.62 376.8,125.4 366.01,113.52 355.95,99.98 346.61,84.77 338,67.9 331.68,55.43" fill="#1d2cff" stroke="#1d2cff" stroke-width="0.6"/><polygon points="331.68,55.43 338,67.9 346.61,84.77 355.95,99.98 366.01,113.52 376.8,125.4 388.31,135.62 400.55,144.18 413.51,151.07 427.2,156.3 440.28,161.28 441.91,160.62 428.8,155.7 415.52,150.7 402.82,143.99 390.72,135.55 379.2,125.4 368.27,113.53 357.93,99.94 348.17,84.63 339,67.6 332.41,55.27" fill="#2025ff" stroke="#2025ff" stroke-width="0.6"/><polygon points="332.41,55.27 339,67.6 348.17,84.63 357.93,99.94 368.27,113.53 379.2,125.4 390.72,135.55 402.82,143.99 415.52,150.7 428.8,155.7 441.91,160.62 443.53,159.95 430.4,155.1 417.52,150.34 405.1,143.8 393.12,135.49 381.6,125.4 370.52,113.54 359.9,99.9 349.73,84.49 340,67.3 333.13,55.11" fill="#221eff" stroke="#221eff" stroke-width="0.6"/><polygon points="333.13,55.11 340,67.3 349.73,84.49 359.9,99.9 370.52,113.54 381.6,125.4 393.12,135.49 405.1,143.8 417.52,150.34 430.4,155.1 443.53,159.95 445.16,159.28 432,154.5 419.53,149.97 407.38,143.61 395.53,135.42 384,125.4 372.78,113.55 361.88,99.86 351.28,84.35 341,67 333.86,54.96" fill="#2517ff" stroke="#2517ff" stroke-width="0.6"/><polygon points="333.86,54.96 341,67 351.28,84.35 361.88,99.86 372.78,113.55 384,125.4 395.53,135.42 407.38,143.61 419.53,149.97 432,154.5 445.16,159.28 450.55,156.64 437.36,151.94 425,147.53 412.86,141.29 400.93,133.22 389.2,123.32 377.69,111.59 366.38,98.02 355.29,82.63 344.4,65.4 336.95,53.57" fill="#2612ff" stroke="#2612ff" stroke-width="0.6"/><polygon points="336.95,53.57 344.4,65.4 355.29,82.63 366.38,98.02 377.69,111.59 389.2,123.32 400.93,133.22 412.86,141.29 425,147.53 437.36,151.94 450.55,156.64 455.93,154 442.72,149.38 430.48,145.09 418.35,138.97 406.32,131.02 394.4,121.24 382.59,109.63 370.88,96.18 359.29,80.91 347.8,63.8 340.03,52.19" fill="#260fff" stroke="#260fff" stroke-width="0.6"/><polygon points="340.03,52.19 347.8,63.8 359.29,80.91 370.88,96.18 382.59,109.63 394.4,121.24 406.32,131.02 418.35,138.97 430.48,145.09 442.72,149.38 455.93,154 461.32,151.36 448.08,146.82 435.95,142.65 423.83,136.65 411.71,128.82 399.6,119.16 387.49,107.67 375.39,94.34 363.29,79.19 351.2,62.2 343.12,50.8" fill="#260efc" stroke="#260efc" stroke-width="0.6"/><polygon points="343.12,50.8 351.2,62.2 363.29,79.19 375.39,94.34 387.49,107.67 399.6,119.16 411.71,128.82 423.83,136.65 435.95,142.65 448.08,146.82 461.32,151.36 466.71,148.73 453.44,144.26 441.43,140.21 429.31,134.33 417.11,126.62 404.8,117.08 392.4,105.71 379.9,92.5 367.3,77.47 354.6,60.6 346.21,49.42" fill="#260ef9" stroke="#260ef9" stroke-width="0.6"/><polygon points="346.21,49.42 354.6,60.6 367.3,77.47 379.9,92.5 392.4,105.71 404.8,117.08 417.11,126.62 429.31,134.33 441.43,140.21 453.44,144.26 466.71,148.73 472.09,146.09 458.8,141.7 446.9,137.77 434.8,132.01 422.5,124.42 410,115 397.3,103.75 384.4,90.66 371.3,75.75 358,59 349.29,48.04" fill="#260ef6" stroke="#260ef6" stroke-width="0.6"/><polygon points="349.29,48.04 358,59 371.3,75.75 384.4,90.66 397.3,103.75 410,115 422.5,124.42 434.8,132.01 446.9,137.77 458.8,141.7 472.09,146.09 469.98,144.53 457.44,138.96 446.18,133.94 434.69,127.43 422.96,119.46 411,110 398.8,99.07 386.37,86.66 373.7,72.77 360.8,57.4 351.72,46.79" fill="#260ef2" stroke="#260ef2" stroke-width="0.6"/><polygon points="351.72,46.79 360.8,57.4 373.7,72.77 386.37,86.66 398.8,99.07 411,110 422.96,119.46 434.69,127.43 446.18,133.94 457.44,138.96 469.98,144.53 467.86,142.97 456.08,136.22 445.47,130.1 434.58,122.86 423.43,114.49 412,105 400.31,94.39 388.34,82.65 376.11,69.79 363.6,55.8 354.15,45.55" fill="#260eed" stroke="#260eed" stroke-width="0.6"/><polygon points="354.15,45.55 363.6,55.8 376.11,69.79 388.34,82.65 400.31,94.39 412,105 423.43,114.49 434.58,122.86 445.47,130.1 456.08,136.22 467.86,142.97 465.74,141.41 454.72,133.48 444.75,126.27 434.47,118.28 423.89,109.53 413,100 401.81,89.7 390.31,78.64 378.51,66.81 366.4,54.2 356.58,44.3" fill="#260ee8" stroke="#260ee8" stroke-width="0.6"/><polygon points="356.58,44.3 366.4,54.2 378.51,66.81 390.31,78.64 401.81,89.7 413,100 423.89,109.53 434.47,118.28 444.75,126.27 454.72,133.48 465.74,141.41 463.62,139.85 453.36,130.74 444.03,122.43 434.36,113.7 424.35,104.56 414,95 403.31,85.02 392.28,74.63 380.91,63.82 369.2,52.6 359.01,43.06" fill="#260ee3" stroke="#260ee3" stroke-width="0.6"/><polygon points="359.01,43.06 369.2,52.6 380.91,63.82 392.28,74.63 403.31,85.02 414,95 424.35,104.56 434.36,113.7 444.03,122.43 453.36,130.74 463.62,139.85 461.5,138.28 452,128 443.31,118.59 434.25,109.12 424.81,99.59 415,90 404.81,80.34 394.25,70.62 383.31,60.84 372,51 361.44,41.81" fill="#260ede" stroke="#260ede" stroke-width="0.6"/><polygon points="361.44,41.81 372,51 383.31,60.84 394.25,70.62 404.81,80.34 415,90 424.81,99.59 434.25,109.12 443.31,118.59 452,128 461.5,138.28 456.92,131.84 447.6,121.4 439.29,112.12 430.75,102.92 421.99,93.82 413,84.8 403.79,75.87 394.35,67.03 384.69,58.27 374.8,49.6 364.32,40.32" fill="#260ed8" stroke="#260ed8" stroke-width="0.6"/><polygon points="364.32,40.32 374.8,49.6 384.69,58.27 394.35,67.03 403.79,75.87 413,84.8 421.99,93.82 430.75,102.92 439.29,112.12 447.6,121.4 456.92,131.84 452.33,125.4 443.2,114.8 435.26,105.64 427.25,96.72 419.16,88.04 411,79.6 402.76,71.39 394.45,63.42 386.06,55.69 377.6,48.2 367.2,38.83" fill="#260ed2" stroke="#260ed2" stroke-width="0.6"/><polygon points="367.2,38.83 377.6,48.2 386.06,55.69 394.45,63.42 402.76,71.39 411,79.6 419.16,88.04 427.25,96.72 435.26,105.64 443.2,114.8 452.33,125.4 447.75,118.95 438.8,108.2 431.24,99.17 423.75,90.53 416.34,82.27 409,74.4 401.74,66.92 394.55,59.83 387.44,53.12 380.4,46.8 370.08,37.35" fill="#260ecc" stroke="#260ecc" stroke-width="0.6"/><polygon points="370.08,37.35 380.4,46.8 387.44,53.12 394.55,59.83 401.74,66.92 409,74.4 416.34,82.27 423.75,90.53 431.24,99.17 438.8,108.2 447.75,118.95 443.16,112.51 434.4,101.6 427.21,92.69 420.25,84.33 413.51,76.49 407,69.2 400.71,62.44 394.65,56.23 388.81,50.54 383.2,45.4 372.96,35.86" fill="#260ec6" stroke="#260ec6" stroke-width="0.6"/><polygon points="372.96,35.86 383.2,45.4 388.81,50.54 394.65,56.23 400.71,62.44 407,69.2 413.51,76.49 420.25,84.33 427.21,92.69 434.4,101.6 443.16,112.51 438.58,106.06 430,95 423.19,86.22 416.75,78.12 410.69,70.72 405,64 399.69,57.97 394.75,52.62 390.19,47.97 386,44 375.84,34.37" fill="#260ec0" stroke="#260ec0" stroke-width="0.6"/><polygon points="375.84,34.37 386,44 390.19,47.97 394.75,52.62 399.69,57.97 405,64 410.69,70.72 416.75,78.12 423.19,86.22 430,95 438.58,106.06 437.57,101.07 429,90 422.8,82 416.9,74.6 411.3,67.8 406,61.6 401,56 396.3,51 391.9,46.6 387.8,42.8 377.52,33.3" fill="#260ebb" stroke="#260ebb" stroke-width="0.6"/><polygon points="377.52,33.3 387.8,42.8 391.9,46.6 396.3,51 401,56 406,61.6 411.3,67.8 416.9,74.6 422.8,82 429,90 437.57,101.07 436.56,96.08 428,85 422.41,77.78 417.05,71.08 411.91,64.88 407,59.2 402.31,54.03 397.85,49.38 393.61,45.23 389.6,41.6 379.2,32.24" fill="#260eb7" stroke="#260eb7" stroke-width="0.6"/><polygon points="379.2,32.24 389.6,41.6 393.61,45.23 397.85,49.38 402.31,54.03 407,59.2 411.91,64.88 417.05,71.08 422.41,77.78 428,85 436.56,96.08 435.55,91.08 427,80 422.02,73.56 417.2,67.55 412.52,61.96 408,56.8 403.62,52.06 399.4,47.75 395.32,43.86 391.4,40.4 380.88,31.17" fill="#260eb2" stroke="#260eb2" stroke-width="0.6"/><polygon points="380.88,31.17 391.4,40.4 395.32,43.86 399.4,47.75 403.62,52.06 408,56.8 412.52,61.96 417.2,67.55 422.02,73.56 427,80 435.55,91.08 434.55,86.09 426,75 421.64,69.34 417.35,64.03 413.14,59.04 409,54.4 404.94,50.09 400.95,46.12 397.04,42.49 393.2,39.2 382.56,30.1" fill="#260eae" stroke="#260eae" stroke-width="0.6"/><polygon points="382.56,30.1 393.2,39.2 397.04,42.49 400.95,46.12 404.94,50.09 409,54.4 413.14,59.04 417.35,64.03 421.64,69.34 426,75 434.55,86.09 433.54,81.1 425,70 421.25,65.12 417.5,60.5 413.75,56.12 410,52 406.25,48.12 402.5,44.5 398.75,41.12 395,38 384.24,29.04" fill="#260eaa" stroke="#260eaa" stroke-width="0.6"/></g><line x1="274.5" y1="77.8" x2="274.5" y2="101.9" stroke="#6a6a6a" stroke-width="0.7"/><line x1="274.5" y1="77.8" x2="276.5" y2="77" stroke="#6a6a6a" stroke-width="0.6"/><line x1="274.5" y1="87.8" x2="276.5" y2="87" stroke="#6a6a6a" stroke-width="0.6"/><line x1="274.5" y1="97.9" x2="276.5" y2="97.1" stroke="#6a6a6a" stroke-width="0.6"/><line x1="275.4" y1="100.8" x2="346.1" y2="206.3" stroke="#6a6a6a" stroke-width="0.7"/><line x1="346.1" y1="206.3" x2="470.4" y2="143.6" stroke="#6a6a6a" stroke-width="0.7"/><text x="272.3" y="79.6" font-size="6.3" text-anchor="end" fill="#1e1e1e" font-weight="bold">4000</text><text x="272.3" y="90" font-size="6.3" text-anchor="end" fill="#1e1e1e" font-weight="bold">2000</text><text x="272.3" y="100.1" font-size="6.3" text-anchor="end" fill="#1e1e1e" font-weight="bold">0</text><text x="264.8" y="108.9" font-size="6.3" text-anchor="middle" fill="#1e1e1e" font-weight="bold">0.6</text><text x="282.5" y="134.6" font-size="6.3" text-anchor="middle" fill="#1e1e1e" font-weight="bold">0.55</text><text x="301.8" y="159.3" font-size="6.3" text-anchor="middle" fill="#1e1e1e" font-weight="bold">0.5</text><text x="321" y="181.8" font-size="6.3" text-anchor="middle" fill="#1e1e1e" font-weight="bold">0.45</text><text x="337.1" y="207.8" font-size="6.3" text-anchor="middle" fill="#1e1e1e" font-weight="bold">0.4</text><text x="354.1" y="210.1" font-size="6.3" text-anchor="middle" fill="#1e1e1e" font-weight="bold">0.2</text><text x="373" y="201.1" font-size="6.3" text-anchor="middle" fill="#1e1e1e" font-weight="bold">0.3</text><text x="394.2" y="191.5" font-size="6.3" text-anchor="middle" fill="#1e1e1e" font-weight="bold">0.4</text><text x="414.2" y="181.8" font-size="6.3" text-anchor="middle" fill="#1e1e1e" font-weight="bold">0.5</text><text x="435" y="172.5" font-size="6.3" text-anchor="middle" fill="#1e1e1e" font-weight="bold">0.6</text><text x="454.3" y="162.6" font-size="6.3" text-anchor="middle" fill="#1e1e1e" font-weight="bold">0.7</text><text x="475.8" y="152.9" font-size="6.3" text-anchor="middle" fill="#1e1e1e" font-weight="bold">0.8</text><text x="285.5" y="196" font-size="7.2" text-anchor="middle" fill="#1e1e1e" font-weight="bold">Corneal thickness (mm)</text><text x="370" y="210.5" font-size="7.2" text-anchor="start" fill="#1e1e1e" font-weight="bold">Corneal elastic modulus (MPa)</text><text x="253.2" y="77.4" font-size="7.2" text-anchor="middle" fill="#1e1e1e" font-weight="bold" transform="rotate(-90 253.2 77.4)">Sensitivity (ppm/mmHg)</text><line x1="272.8" y1="352.8" x2="335.5" y2="259.6" stroke="#e2e2e2" stroke-width="0.6"/><line x1="335.5" y1="259.6" x2="440.5" y2="318" stroke="#e2e2e2" stroke-width="0.6"/><line x1="440.5" y1="318" x2="440.5" y2="327" stroke="#e2e2e2" stroke-width="0.6"/><line x1="272.8" y1="362.6" x2="335.5" y2="269.4" stroke="#e2e2e2" stroke-width="0.6"/><line x1="272.8" y1="371.7" x2="335.5" y2="279" stroke="#e2e2e2" stroke-width="0.6"/><line x1="335.5" y1="259.6" x2="335.5" y2="272" stroke="#e2e2e2" stroke-width="0.6"/><line x1="360" y1="273" x2="360" y2="285" stroke="#e2e2e2" stroke-width="0.6"/><line x1="385" y1="287" x2="385" y2="300" stroke="#e2e2e2" stroke-width="0.6"/><line x1="410" y1="301" x2="410" y2="314" stroke="#e2e2e2" stroke-width="0.6"/><line x1="292" y1="324" x2="292" y2="340" stroke="#e2e2e2" stroke-width="0.6"/><line x1="310" y1="297" x2="310" y2="313" stroke="#e2e2e2" stroke-width="0.6"/><g clip-path="url(#c13)"><polygon points="254.26,376.66 342.74,243.34 343.6,245.98 257.5,374.42" fill="#8a0000" stroke="#8a0000" stroke-width="0.6"/><polygon points="257.5,374.42 343.6,245.98 344.47,248.62 260.73,372.18" fill="#8a0000" stroke="#8a0000" stroke-width="0.6"/><polygon points="260.73,372.18 344.47,248.62 345.33,251.26 263.97,369.94" fill="#8a0000" stroke="#8a0000" stroke-width="0.6"/><polygon points="263.97,369.94 345.33,251.26 346.19,253.91 267.21,367.69" fill="#8a0000" stroke="#8a0000" stroke-width="0.6"/><polygon points="267.21,367.69 346.19,253.91 347.06,256.55 270.44,365.45" fill="#8a0000" stroke="#8a0000" stroke-width="0.6"/><polygon points="270.44,365.45 347.06,256.55 349.16,257.22 271.24,365.88" fill="#8c0000" stroke="#8c0000" stroke-width="0.6"/><polygon points="271.24,365.88 349.16,257.22 351.26,257.9 272.04,366.3" fill="#900000" stroke="#900000" stroke-width="0.6"/><polygon points="272.04,366.3 351.26,257.9 353.35,258.57 272.85,366.73" fill="#940000" stroke="#940000" stroke-width="0.6"/><polygon points="272.85,366.73 353.35,258.57 355.45,259.24 273.65,367.16" fill="#980000" stroke="#980000" stroke-width="0.6"/><polygon points="273.65,367.16 355.45,259.24 357.55,259.92 274.45,367.58" fill="#9c0000" stroke="#9c0000" stroke-width="0.6"/><polygon points="274.45,367.58 357.55,259.92 358.62,260.57 274.78,367.83" fill="#a20000" stroke="#a20000" stroke-width="0.6"/><polygon points="274.78,367.83 358.62,260.57 359.69,261.22 275.11,368.08" fill="#aa0000" stroke="#aa0000" stroke-width="0.6"/><polygon points="275.11,368.08 359.69,261.22 360.75,261.88 275.45,368.32" fill="#b30000" stroke="#b30000" stroke-width="0.6"/><polygon points="275.45,368.32 360.75,261.88 361.82,262.53 275.78,368.57" fill="#bb0000" stroke="#bb0000" stroke-width="0.6"/><polygon points="275.78,368.57 361.82,262.53 362.89,263.18 276.11,368.82" fill="#c30000" stroke="#c30000" stroke-width="0.6"/><polygon points="276.11,368.82 362.89,263.18 365.45,264.73 276.75,369.31" fill="#cd0000" stroke="#cd0000" stroke-width="0.6"/><polygon points="276.75,369.31 365.45,264.73 368.01,266.27 277.39,369.81" fill="#d80000" stroke="#d80000" stroke-width="0.6"/><polygon points="277.39,369.81 368.01,266.27 370.57,267.81 278.03,370.31" fill="#e30000" stroke="#e30000" stroke-width="0.6"/><polygon points="278.03,370.31 370.57,267.81 373.13,269.36 278.67,370.8" fill="#ee0000" stroke="#ee0000" stroke-width="0.6"/><polygon points="278.67,370.8 373.13,269.36 375.7,270.9 279.3,371.3" fill="#f90000" stroke="#f90000" stroke-width="0.6"/><polygon points="279.3,371.3 375.7,270.9 380.81,273.86 279.99,371.6" fill="#ff0400" stroke="#ff0400" stroke-width="0.6"/><polygon points="279.99,371.6 380.81,273.86 385.93,276.83 280.67,371.89" fill="#ff0b00" stroke="#ff0b00" stroke-width="0.6"/><polygon points="280.67,371.89 385.93,276.83 391.05,279.79 281.35,372.19" fill="#ff1200" stroke="#ff1200" stroke-width="0.6"/><polygon points="281.35,372.19 391.05,279.79 396.17,282.75 282.03,372.49" fill="#ff1900" stroke="#ff1900" stroke-width="0.6"/><polygon points="282.03,372.49 396.17,282.75 401.28,285.71 282.72,372.79" fill="#ff2000" stroke="#ff2000" stroke-width="0.6"/><polygon points="282.72,372.79 401.28,285.71 404.2,287.48 283.7,373.22" fill="#ff2d00" stroke="#ff2d00" stroke-width="0.6"/><polygon points="283.7,373.22 404.2,287.48 407.12,289.25 284.68,373.65" fill="#ff3f00" stroke="#ff3f00" stroke-width="0.6"/><polygon points="284.68,373.65 407.12,289.25 410.03,291.02 285.67,374.08" fill="#ff5200" stroke="#ff5200" stroke-width="0.6"/><polygon points="285.67,374.08 410.03,291.02 412.95,292.79 286.65,374.51" fill="#ff6400" stroke="#ff6400" stroke-width="0.6"/><polygon points="286.65,374.51 412.95,292.79 415.86,294.56 287.64,374.94" fill="#ff7600" stroke="#ff7600" stroke-width="0.6"/><polygon points="287.64,374.94 415.86,294.56 417.34,295.35 288.3,375.27" fill="#ff8700" stroke="#ff8700" stroke-width="0.6"/><polygon points="288.3,375.27 417.34,295.35 418.82,296.13 288.96,375.61" fill="#ff9500" stroke="#ff9500" stroke-width="0.6"/><polygon points="288.96,375.61 418.82,296.13 420.3,296.91 289.62,375.95" fill="#ffa300" stroke="#ffa300" stroke-width="0.6"/><polygon points="289.62,375.95 420.3,296.91 421.78,297.7 290.28,376.28" fill="#ffb100" stroke="#ffb100" stroke-width="0.6"/><polygon points="290.28,376.28 421.78,297.7 423.25,298.48 290.95,376.62" fill="#ffc000" stroke="#ffc000" stroke-width="0.6"/><polygon points="290.95,376.62 423.25,298.48 426.3,300.53 291.52,376.69" fill="#ffcd00" stroke="#ffcd00" stroke-width="0.6"/><polygon points="291.52,376.69 426.3,300.53 429.34,302.58 292.1,376.76" fill="#ffd800" stroke="#ffd800" stroke-width="0.6"/><polygon points="292.1,376.76 429.34,302.58 432.38,304.63 292.68,376.83" fill="#ffe300" stroke="#ffe300" stroke-width="0.6"/><polygon points="292.68,376.83 432.38,304.63 435.42,306.68 293.26,376.9" fill="#ffee00" stroke="#ffee00" stroke-width="0.6"/><polygon points="293.26,376.9 435.42,306.68 438.46,308.73 293.84,376.97" fill="#fff900" stroke="#fff900" stroke-width="0.6"/><polygon points="293.84,376.97 438.46,308.73 441.28,310.6 294.46,377.08" fill="#fcff03" stroke="#fcff03" stroke-width="0.6"/><polygon points="294.46,377.08 441.28,310.6 444.11,312.48 295.07,377.18" fill="#f7ff08" stroke="#f7ff08" stroke-width="0.6"/><polygon points="295.07,377.18 444.11,312.48 446.93,314.36 295.69,377.28" fill="#f2ff0d" stroke="#f2ff0d" stroke-width="0.6"/><polygon points="295.69,377.28 446.93,314.36 449.76,316.23 296.3,377.39" fill="#edff12" stroke="#edff12" stroke-width="0.6"/><polygon points="296.3,377.39 449.76,316.23 452.58,318.11 296.92,377.49" fill="#e8ff17" stroke="#e8ff17" stroke-width="0.6"/><polygon points="296.92,377.49 452.58,318.11 448.76,325.17 298.12,377.61" fill="#e0ff1f" stroke="#e0ff1f" stroke-width="0.6"/><polygon points="298.12,377.61 448.76,325.17 444.93,332.22 299.33,377.74" fill="#d6ff29" stroke="#d6ff29" stroke-width="0.6"/><polygon points="299.33,377.74 444.93,332.22 441.11,339.28 300.53,377.86" fill="#ccff33" stroke="#ccff33" stroke-width="0.6"/><polygon points="300.53,377.86 441.11,339.28 437.28,346.34 301.74,377.98" fill="#c2ff3d" stroke="#c2ff3d" stroke-width="0.6"/><polygon points="301.74,377.98 437.28,346.34 433.46,353.4 302.94,378.1" fill="#b8ff47" stroke="#b8ff47" stroke-width="0.6"/><polygon points="302.94,378.1 433.46,353.4 431.92,355.85 305.6,379.35" fill="#abff54" stroke="#abff54" stroke-width="0.6"/><polygon points="305.6,379.35 431.92,355.85 430.39,358.3 308.25,380.6" fill="#9eff62" stroke="#9eff62" stroke-width="0.6"/><polygon points="308.25,380.6 430.39,358.3 428.86,360.74 310.9,381.86" fill="#98ff70" stroke="#98ff70" stroke-width="0.6"/><polygon points="310.9,381.86 428.86,360.74 427.33,363.19 313.55,383.11" fill="#93ff7e" stroke="#93ff7e" stroke-width="0.6"/><polygon points="313.55,383.11 427.33,363.19 425.8,365.64 316.2,384.36" fill="#8dff8d" stroke="#8dff8d" stroke-width="0.6"/><polygon points="316.2,384.36 425.8,365.64 424.63,367.7 319.21,386" fill="#88ff9a" stroke="#88ff9a" stroke-width="0.6"/><polygon points="319.21,386 424.63,367.7 423.46,369.75 322.22,387.65" fill="#83ffa6" stroke="#83ffa6" stroke-width="0.6"/><polygon points="322.22,387.65 423.46,369.75 422.3,371.81 325.22,389.29" fill="#7effb3" stroke="#7effb3" stroke-width="0.6"/><polygon points="325.22,389.29 422.3,371.81 421.13,373.86 328.23,390.94" fill="#7affbf" stroke="#7affbf" stroke-width="0.6"/><polygon points="328.23,390.94 421.13,373.86 419.96,375.91 331.24,392.59" fill="#75ffcb" stroke="#75ffcb" stroke-width="0.6"/><polygon points="331.24,392.59 419.96,375.91 416.89,382.04 334.23,393.4" fill="#71ffd6" stroke="#71ffd6" stroke-width="0.6"/><polygon points="334.23,393.4 416.89,382.04 413.82,388.16 337.22,394.22" fill="#6dffdf" stroke="#6dffdf" stroke-width="0.6"/><polygon points="337.22,394.22 413.82,388.16 410.75,394.28 340.21,395.04" fill="#6affe8" stroke="#6affe8" stroke-width="0.6"/><polygon points="340.21,395.04 410.75,394.28 407.68,400.41 343.2,395.85" fill="#66fff1" stroke="#66fff1" stroke-width="0.6"/><polygon points="343.2,395.85 407.68,400.41 404.6,406.53 346.2,396.67" fill="#63fffa" stroke="#63fffa" stroke-width="0.6"/><polygon points="346.2,396.67 404.6,406.53 403.68,408.17 348.66,397.99" fill="#64f9ff" stroke="#64f9ff" stroke-width="0.6"/><polygon points="348.66,397.99 403.68,408.17 402.76,409.81 351.12,399.31" fill="#5deeff" stroke="#5deeff" stroke-width="0.6"/><polygon points="351.12,399.31 402.76,409.81 401.84,411.45 353.58,400.63" fill="#56e3ff" stroke="#56e3ff" stroke-width="0.6"/><polygon points="353.58,400.63 401.84,411.45 400.92,413.08 356.04,401.96" fill="#4fd8ff" stroke="#4fd8ff" stroke-width="0.6"/><polygon points="356.04,401.96 400.92,413.08 400,414.72 358.5,403.28" fill="#48cdff" stroke="#48cdff" stroke-width="0.6"/><polygon points="358.5,403.28 400,414.72 400.47,416.68 361.19,404.32" fill="#42c3ff" stroke="#42c3ff" stroke-width="0.6"/><polygon points="361.19,404.32 400.47,416.68 400.95,418.64 363.87,405.36" fill="#3dbbff" stroke="#3dbbff" stroke-width="0.6"/><polygon points="363.87,405.36 400.95,418.64 401.43,420.6 366.55,406.4" fill="#38b3ff" stroke="#38b3ff" stroke-width="0.6"/><polygon points="366.55,406.4 401.43,420.6 401.91,422.56 369.23,407.44" fill="#33aaff" stroke="#33aaff" stroke-width="0.6"/><polygon points="369.23,407.44 401.91,422.56 402.39,424.52 371.91,408.48" fill="#2ea2ff" stroke="#2ea2ff" stroke-width="0.6"/></g><line x1="274.2" y1="352.8" x2="274.2" y2="372.8" stroke="#6a6a6a" stroke-width="0.7"/><line x1="274.2" y1="352.8" x2="272.6" y2="352.8" stroke="#6a6a6a" stroke-width="0.6"/><line x1="274.2" y1="362.6" x2="272.6" y2="362.6" stroke="#6a6a6a" stroke-width="0.6"/><line x1="274.2" y1="371.7" x2="272.6" y2="371.7" stroke="#6a6a6a" stroke-width="0.6"/><line x1="274.2" y1="373.4" x2="378.8" y2="429.9" stroke="#6a6a6a" stroke-width="0.7"/><line x1="378.8" y1="429.9" x2="440.5" y2="327.1" stroke="#6a6a6a" stroke-width="0.7"/><text x="269.6" y="355.4" font-size="6.4" text-anchor="end" fill="#1e1e1e" font-weight="bold">2000</text><text x="269.6" y="364.8" font-size="6.4" text-anchor="end" fill="#1e1e1e" font-weight="bold">1800</text><text x="269.6" y="373.9" font-size="6.4" text-anchor="end" fill="#1e1e1e" font-weight="bold">1600</text><text x="269.6" y="382.3" font-size="6.3" text-anchor="middle" fill="#1e1e1e" font-weight="bold">0</text><text x="292.1" y="393.5" font-size="6.3" text-anchor="middle" fill="#1e1e1e" font-weight="bold">1</text><text x="312.4" y="403.8" font-size="6.3" text-anchor="middle" fill="#1e1e1e" font-weight="bold">2</text><text x="333.2" y="414.4" font-size="6.3" text-anchor="middle" fill="#1e1e1e" font-weight="bold">3</text><text x="354.1" y="424" font-size="6.3" text-anchor="middle" fill="#1e1e1e" font-weight="bold">4</text><text x="375.6" y="434.6" font-size="6.3" text-anchor="middle" fill="#1e1e1e" font-weight="bold">5</text><text x="394.9" y="428.8" font-size="6.3" text-anchor="middle" fill="#1e1e1e" font-weight="bold">0.005</text><text x="413.5" y="399.3" font-size="6.3" text-anchor="middle" fill="#1e1e1e" font-weight="bold">0.01</text><text x="433.4" y="369.4" font-size="6.3" text-anchor="middle" fill="#1e1e1e" font-weight="bold">0.015</text><text x="449.5" y="340.5" font-size="6.3" text-anchor="middle" fill="#1e1e1e" font-weight="bold">0.02</text><text x="277.6" y="413.2" font-size="6.6" text-anchor="start" fill="#1e1e1e" stroke="#1e1e1e" stroke-width="0.1">×10<tspan font-size="4.8" dy="-2.8">-3</tspan></text><text x="246" y="433.2" font-size="8.2" text-anchor="start" fill="#1e1e1e" font-weight="bold">Tear film elastic modulus (MPa)</text><text x="405.5" y="413.1" font-size="8.2" text-anchor="start" fill="#1e1e1e" font-weight="bold">Tear film thickness</text><text x="444.8" y="422.5" font-size="8.2" text-anchor="middle" fill="#1e1e1e" font-weight="bold">(mm)</text><text x="250" y="354.6" font-size="7" text-anchor="middle" fill="#1e1e1e" font-weight="bold" transform="rotate(-90 250 354.6)">Sensitivity (ppm/mmHg)</text><line x1="272.2" y1="542.6" x2="395.2" y2="486.5" stroke="#e2e2e2" stroke-width="0.6"/><line x1="395.2" y1="486.5" x2="395.2" y2="500" stroke="#e2e2e2" stroke-width="0.6"/><line x1="395.2" y1="486.5" x2="468.1" y2="585" stroke="#e2e2e2" stroke-width="0.6"/><line x1="468.1" y1="585" x2="468.1" y2="605.9" stroke="#e2e2e2" stroke-width="0.6"/><line x1="272.2" y1="552.1" x2="395.2" y2="495" stroke="#e2e2e2" stroke-width="0.6"/><line x1="303" y1="528" x2="303" y2="553" stroke="#e2e2e2" stroke-width="0.6"/><line x1="334" y1="515" x2="334" y2="541" stroke="#e2e2e2" stroke-width="0.6"/><line x1="365" y1="500" x2="365" y2="527" stroke="#e2e2e2" stroke-width="0.6"/><line x1="420" y1="518" x2="420" y2="535" stroke="#e2e2e2" stroke-width="0.6"/><line x1="445" y1="548" x2="445" y2="565" stroke="#e2e2e2" stroke-width="0.6"/><g clip-path="url(#c14)"><polygon points="256.22,531.84 262,540 271.75,553.75 281.5,567.5 291.25,581.25 301,595 310.75,608.75 320.5,622.5 330.25,636.25 340,650 345.78,658.16 348.81,656.47 342.5,647.7 332.9,634.3 323.3,620.9 313.7,607.5 304.1,594.1 294.5,580.7 284.9,567.3 275.3,553.9 265.7,540.5 259.39,531.73" fill="#830000" stroke="#830000" stroke-width="0.6"/><polygon points="259.39,531.73 265.7,540.5 275.3,553.9 284.9,567.3 294.5,580.7 304.1,594.1 313.7,607.5 323.3,620.9 332.9,634.3 342.5,647.7 348.81,656.47 351.83,654.77 345,645.4 335.55,632.35 326.1,619.3 316.65,606.25 307.2,593.2 297.75,580.15 288.3,567.1 278.85,554.05 269.4,541 262.57,531.63" fill="#890000" stroke="#890000" stroke-width="0.6"/><polygon points="262.57,531.63 269.4,541 278.85,554.05 288.3,567.1 297.75,580.15 307.2,593.2 316.65,606.25 326.1,619.3 335.55,632.35 345,645.4 351.83,654.77 354.85,653.08 347.5,643.1 338.2,630.4 328.9,617.7 319.6,605 310.3,592.3 301,579.6 291.7,566.9 282.4,554.2 273.1,541.5 265.75,531.52" fill="#8f0000" stroke="#8f0000" stroke-width="0.6"/><polygon points="265.75,531.52 273.1,541.5 282.4,554.2 291.7,566.9 301,579.6 310.3,592.3 319.6,605 328.9,617.7 338.2,630.4 347.5,643.1 354.85,653.08 357.88,651.39 350,640.8 340.85,628.45 331.7,616.1 322.55,603.75 313.4,591.4 304.25,579.05 295.1,566.7 285.95,554.35 276.8,542 268.92,531.41" fill="#950000" stroke="#950000" stroke-width="0.6"/><polygon points="268.92,531.41 276.8,542 285.95,554.35 295.1,566.7 304.25,579.05 313.4,591.4 322.55,603.75 331.7,616.1 340.85,628.45 350,640.8 357.88,651.39 360.9,649.7 352.5,638.5 343.5,626.5 334.5,614.5 325.5,602.5 316.5,590.5 307.5,578.5 298.5,566.5 289.5,554.5 280.5,542.5 272.1,531.3" fill="#9b0000" stroke="#9b0000" stroke-width="0.6"/><polygon points="272.1,531.3 280.5,542.5 289.5,554.5 298.5,566.5 307.5,578.5 316.5,590.5 325.5,602.5 334.5,614.5 343.5,626.5 352.5,638.5 360.9,649.7 365.22,647.51 356.4,636.7 346.81,625 337.35,613.25 328.01,601.45 318.8,589.6 309.71,577.7 300.75,565.74 291.91,553.74 283.2,541.68 275.01,530.34" fill="#a80000" stroke="#a80000" stroke-width="0.6"/><polygon points="275.01,530.34 283.2,541.68 291.91,553.74 300.75,565.74 309.71,577.7 318.8,589.6 328.01,601.45 337.35,613.25 346.81,625 356.4,636.7 365.22,647.51 369.55,645.32 360.3,634.9 350.12,623.5 340.2,612 330.52,600.4 321.1,588.7 311.93,576.89 303,564.99 294.32,552.97 285.9,540.86 277.92,529.37" fill="#bb0000" stroke="#bb0000" stroke-width="0.6"/><polygon points="277.92,529.37 285.9,540.86 294.32,552.97 303,564.99 311.93,576.89 321.1,588.7 330.52,600.4 340.2,612 350.12,623.5 360.3,634.9 369.55,645.32 373.87,643.12 364.2,633.1 353.44,622.01 343.05,610.76 333.04,599.36 323.4,587.8 314.14,576.09 305.25,564.23 296.74,552.21 288.6,540.04 280.84,528.41" fill="#cf0000" stroke="#cf0000" stroke-width="0.6"/><polygon points="280.84,528.41 288.6,540.04 296.74,552.21 305.25,564.23 314.14,576.09 323.4,587.8 333.04,599.36 343.05,610.76 353.44,622.01 364.2,633.1 373.87,643.12 378.19,640.93 368.1,631.3 356.75,620.51 345.9,609.51 335.55,598.31 325.7,586.9 316.35,575.29 307.5,563.47 299.15,551.45 291.3,539.22 283.75,527.44" fill="#e20000" stroke="#e20000" stroke-width="0.6"/><polygon points="283.75,527.44 291.3,539.22 299.15,551.45 307.5,563.47 316.35,575.29 325.7,586.9 335.55,598.31 345.9,609.51 356.75,620.51 368.1,631.3 378.19,640.93 382.52,638.74 372,629.5 360.06,619.01 348.75,608.26 338.06,597.26 328,586 318.56,574.48 309.75,562.71 301.56,550.68 294,538.4 286.66,526.48" fill="#f50000" stroke="#f50000" stroke-width="0.6"/><polygon points="286.66,526.48 294,538.4 301.56,550.68 309.75,562.71 318.56,574.48 328,586 338.06,597.26 348.75,608.26 360.06,619.01 372,629.5 382.52,638.74 386.43,637.1 375.84,627.94 363.85,617.57 352.44,606.93 341.6,596.04 331.34,584.88 321.65,573.46 312.54,561.78 304,549.84 296.04,537.64 288.41,525.92" fill="#ff0d00" stroke="#ff0d00" stroke-width="0.6"/><polygon points="288.41,525.92 296.04,537.64 304,549.84 312.54,561.78 321.65,573.46 331.34,584.88 341.6,596.04 352.44,606.93 363.85,617.57 375.84,627.94 386.43,637.1 390.34,635.46 379.68,626.38 367.64,616.12 356.13,605.6 345.14,594.81 334.68,583.76 324.74,572.44 315.33,560.85 306.44,549 298.08,536.88 290.16,525.37" fill="#ff2600" stroke="#ff2600" stroke-width="0.6"/><polygon points="290.16,525.37 298.08,536.88 306.44,549 315.33,560.85 324.74,572.44 334.68,583.76 345.14,594.81 356.13,605.6 367.64,616.12 379.68,626.38 390.34,635.46 394.25,633.81 383.52,624.82 371.43,614.68 359.82,604.27 348.68,593.59 338.02,582.64 327.83,571.42 318.12,559.92 308.88,548.16 300.12,536.12 291.91,524.81" fill="#ff4000" stroke="#ff4000" stroke-width="0.6"/><polygon points="291.91,524.81 300.12,536.12 308.88,548.16 318.12,559.92 327.83,571.42 338.02,582.64 348.68,593.59 359.82,604.27 371.43,614.68 383.52,624.82 394.25,633.81 398.16,632.17 387.36,623.26 375.22,613.24 363.51,602.94 352.22,592.37 341.36,581.52 330.92,570.39 320.91,558.99 311.32,547.31 302.16,535.36 293.67,524.25" fill="#ff5900" stroke="#ff5900" stroke-width="0.6"/><polygon points="293.67,524.25 302.16,535.36 311.32,547.31 320.91,558.99 330.92,570.39 341.36,581.52 352.22,592.37 363.51,602.94 375.22,613.24 387.36,623.26 398.16,632.17 402.07,630.53 391.2,621.7 379.01,611.8 367.2,601.61 355.76,591.15 344.7,580.4 334.01,569.37 323.7,558.06 313.76,546.47 304.2,534.6 295.42,523.7" fill="#ff7300" stroke="#ff7300" stroke-width="0.6"/><polygon points="295.42,523.7 304.2,534.6 313.76,546.47 323.7,558.06 334.01,569.37 344.7,580.4 355.76,591.15 367.2,601.61 379.01,611.8 391.2,621.7 402.07,630.53 405.17,628.89 394.16,620.26 382.34,610.94 370.78,601.19 359.46,591.01 348.4,580.4 337.59,569.36 327.03,557.89 316.72,545.99 306.66,533.66 297.82,522.8" fill="#ff8c00" stroke="#ff8c00" stroke-width="0.6"/><polygon points="297.82,522.8 306.66,533.66 316.72,545.99 327.03,557.89 337.59,569.36 348.4,580.4 359.46,591.01 370.78,601.19 382.34,610.94 394.16,620.26 405.17,628.89 408.28,627.25 397.12,618.82 385.67,610.08 374.35,600.77 363.16,590.87 352.1,580.4 341.16,569.35 330.35,557.72 319.67,545.51 309.12,532.72 300.22,521.91" fill="#ffa600" stroke="#ffa600" stroke-width="0.6"/><polygon points="300.22,521.91 309.12,532.72 319.67,545.51 330.35,557.72 341.16,569.35 352.1,580.4 363.16,590.87 374.35,600.77 385.67,610.08 397.12,618.82 408.28,627.25 411.38,625.62 400.08,617.38 389,609.23 377.93,600.35 366.86,590.74 355.8,580.4 344.74,569.34 333.68,557.54 322.63,545.03 311.58,531.78 302.63,521.02" fill="#ffbf00" stroke="#ffbf00" stroke-width="0.6"/><polygon points="302.63,521.02 311.58,531.78 322.63,545.03 333.68,557.54 344.74,569.34 355.8,580.4 366.86,590.74 377.93,600.35 389,609.23 400.08,617.38 411.38,625.62 414.49,623.98 403.04,615.94 392.33,608.37 381.51,599.92 370.56,590.6 359.5,580.4 348.31,569.32 337.01,557.37 325.58,544.54 314.04,530.84 305.03,520.13" fill="#ffd900" stroke="#ffd900" stroke-width="0.6"/><polygon points="305.03,520.13 314.04,530.84 325.58,544.54 337.01,557.37 348.31,569.32 359.5,580.4 370.56,590.6 381.51,599.92 392.33,608.37 403.04,615.94 414.49,623.98 417.6,622.34 406,614.5 395.67,607.51 385.09,599.5 374.27,590.46 363.2,580.4 351.89,569.31 340.34,557.2 328.54,544.06 316.5,529.9 307.43,519.23" fill="#fff200" stroke="#fff200" stroke-width="0.6"/><polygon points="307.43,519.23 316.5,529.9 328.54,544.06 340.34,557.2 351.89,569.31 363.2,580.4 374.27,590.46 385.09,599.5 395.67,607.51 406,614.5 417.6,622.34 422.47,620.14 410.64,612.72 399.41,605.8 388.15,597.87 376.87,588.9 365.56,578.92 354.23,567.91 342.88,555.88 331.5,542.83 320.1,528.76 311.33,517.87" fill="#f2ff0d" stroke="#f2ff0d" stroke-width="0.6"/><polygon points="311.33,517.87 320.1,528.76 331.5,542.83 342.88,555.88 354.23,567.91 365.56,578.92 376.87,588.9 388.15,597.87 399.41,605.8 410.64,612.72 422.47,620.14 427.35,617.93 415.28,610.94 403.15,604.09 391.21,596.23 379.47,587.34 367.92,577.44 356.57,566.51 345.42,554.57 334.46,541.61 323.7,527.62 315.23,516.51" fill="#d9ff26" stroke="#d9ff26" stroke-width="0.6"/><polygon points="315.23,516.51 323.7,527.62 334.46,541.61 345.42,554.57 356.57,566.51 367.92,577.44 379.47,587.34 391.21,596.23 403.15,604.09 415.28,610.94 427.35,617.93 432.23,615.72 419.92,609.16 406.89,602.39 394.27,594.6 382.07,585.79 370.28,575.96 358.91,565.12 347.96,553.25 337.42,540.38 327.3,526.48 319.12,515.15" fill="#bfff40" stroke="#bfff40" stroke-width="0.6"/><polygon points="319.12,515.15 327.3,526.48 337.42,540.38 347.96,553.25 358.91,565.12 370.28,575.96 382.07,585.79 394.27,594.6 406.89,602.39 419.92,609.16 432.23,615.72 437.1,613.52 424.56,607.38 410.63,600.68 397.33,592.96 384.67,584.23 372.64,574.48 361.25,563.72 350.5,551.94 340.38,539.15 330.9,525.34 323.02,513.79" fill="#a6ff59" stroke="#a6ff59" stroke-width="0.6"/><polygon points="323.02,513.79 330.9,525.34 340.38,539.15 350.5,551.94 361.25,563.72 372.64,574.48 384.67,584.23 397.33,592.96 410.63,600.68 424.56,607.38 437.1,613.52 441.98,611.31 429.2,605.6 414.37,598.97 400.39,591.33 387.27,582.67 375,573 363.59,562.32 353.04,550.62 343.34,537.92 334.5,524.2 326.92,512.43" fill="#97ff73" stroke="#97ff73" stroke-width="0.6"/><polygon points="326.92,512.43 334.5,524.2 343.34,537.92 353.04,550.62 363.59,562.32 375,573 387.27,582.67 400.39,591.33 414.37,598.97 429.2,605.6 441.98,611.31 442.67,610.94 429.96,605.08 415.24,598.3 401.33,590.56 388.26,581.86 376,572.2 364.57,561.58 353.95,550 344.17,537.46 335.2,523.96 327.45,512.31" fill="#8fff88" stroke="#8fff88" stroke-width="0.6"/><polygon points="327.45,512.31 335.2,523.96 344.17,537.46 353.95,550 364.57,561.58 376,572.2 388.26,581.86 401.33,590.56 415.24,598.3 429.96,605.08 442.67,610.94 443.36,610.56 430.72,604.56 416.11,597.63 402.28,589.8 389.25,581.05 377,571.4 365.54,560.84 354.87,549.38 344.99,537 335.9,523.72 327.99,512.18" fill="#89ff98" stroke="#89ff98" stroke-width="0.6"/><polygon points="327.99,512.18 335.9,523.72 344.99,537 354.87,549.38 365.54,560.84 377,571.4 389.25,581.05 402.28,589.8 416.11,597.63 430.72,604.56 443.36,610.56 444.06,610.18 431.48,604.04 416.98,596.96 403.23,589.03 390.24,580.24 378,570.6 366.52,560.1 355.79,548.75 345.82,536.54 336.6,523.48 328.53,512.05" fill="#82ffa8" stroke="#82ffa8" stroke-width="0.6"/><polygon points="328.53,512.05 336.6,523.48 345.82,536.54 355.79,548.75 366.52,560.1 378,570.6 390.24,580.24 403.23,589.03 416.98,596.96 431.48,604.04 444.06,610.18 444.75,609.8 432.24,603.52 417.85,596.29 404.18,588.26 391.23,579.43 379,569.8 367.49,559.36 356.71,548.12 346.64,536.08 337.3,523.24 329.06,511.93" fill="#7cffb9" stroke="#7cffb9" stroke-width="0.6"/><polygon points="329.06,511.93 337.3,523.24 346.64,536.08 356.71,548.12 367.49,559.36 379,569.8 391.23,579.43 404.18,588.26 417.85,596.29 432.24,603.52 444.75,609.8 445.44,609.42 433,603 418.72,595.62 405.12,587.5 392.22,578.62 380,569 368.47,558.62 357.62,547.5 347.47,535.62 338,523 329.6,511.8" fill="#76ffc9" stroke="#76ffc9" stroke-width="0.6"/><polygon points="329.6,511.8 338,523 347.47,535.62 357.62,547.5 368.47,558.62 380,569 392.22,578.62 405.12,587.5 418.72,595.62 433,603 445.44,609.42 449.34,608 436.8,601.8 422.32,594.65 408.51,586.71 395.38,577.97 382.92,568.44 371.13,558.12 360.01,547 349.57,535.1 339.8,522.4 331.27,511.3" fill="#70ffd7" stroke="#70ffd7" stroke-width="0.6"/><polygon points="331.27,511.3 339.8,522.4 349.57,535.1 360.01,547 371.13,558.12 382.92,568.44 395.38,577.97 408.51,586.71 422.32,594.65 436.8,601.8 449.34,608 453.25,606.58 440.6,600.6 425.92,593.67 411.91,585.91 398.54,577.31 385.84,567.88 373.79,557.61 362.41,546.51 351.67,534.57 341.6,521.8 332.95,510.8" fill="#6cffe3" stroke="#6cffe3" stroke-width="0.6"/><polygon points="332.95,510.8 341.6,521.8 351.67,534.57 362.41,546.51 373.79,557.61 385.84,567.88 398.54,577.31 411.91,585.91 425.92,593.67 440.6,600.6 453.25,606.58 457.15,605.15 444.4,599.4 429.53,592.7 415.3,585.12 401.71,576.66 388.76,567.32 376.46,557.11 364.8,546.02 353.78,534.05 343.4,521.2 334.62,510.3" fill="#67fff0" stroke="#67fff0" stroke-width="0.6"/><polygon points="334.62,510.3 343.4,521.2 353.78,534.05 364.8,546.02 376.46,557.11 388.76,567.32 401.71,576.66 415.3,585.12 429.53,592.7 444.4,599.4 457.15,605.15 461.05,603.73 448.2,598.2 433.13,591.72 418.69,584.32 404.87,576 391.68,566.76 379.12,556.6 367.19,545.52 355.88,533.52 345.2,520.6 336.29,509.81" fill="#62fffc" stroke="#62fffc" stroke-width="0.6"/><polygon points="336.29,509.81 345.2,520.6 355.88,533.52 367.19,545.52 379.12,556.6 391.68,566.76 404.87,576 418.69,584.32 433.13,591.72 448.2,598.2 461.05,603.73 464.95,602.31 452,597 436.73,590.74 422.08,583.53 408.03,575.34 394.6,566.2 381.78,556.09 369.58,545.03 357.98,532.99 347,520 337.96,509.31" fill="#62f6ff" stroke="#62f6ff" stroke-width="0.6"/><polygon points="337.96,509.31 347,520 357.98,532.99 369.58,545.03 381.78,556.09 394.6,566.2 408.03,575.34 422.08,583.53 436.73,590.74 452,597 464.95,602.31 467.82,601.35 454.84,596.1 438.89,589.65 423.68,582.31 409.21,574.08 395.48,564.96 382.5,554.95 370.26,544.04 358.76,532.25 348,519.56 338.94,508.88" fill="#5aeaff" stroke="#5aeaff" stroke-width="0.6"/><polygon points="338.94,508.88 348,519.56 358.76,532.25 370.26,544.04 382.5,554.95 395.48,564.96 409.21,574.08 423.68,582.31 438.89,589.65 454.84,596.1 467.82,601.35 470.68,600.4 457.68,595.2 441.04,588.56 425.28,581.1 410.38,572.82 396.36,563.72 383.21,553.8 370.94,543.06 359.53,531.5 349,519.12 339.93,508.46" fill="#52ddff" stroke="#52ddff" stroke-width="0.6"/><polygon points="339.93,508.46 349,519.12 359.53,531.5 370.94,543.06 383.21,553.8 396.36,563.72 410.38,572.82 425.28,581.1 441.04,588.56 457.68,595.2 470.68,600.4 473.54,599.45 460.52,594.3 443.2,587.47 426.88,579.89 411.56,571.56 397.24,562.48 383.93,552.65 371.62,542.08 360.31,530.75 350,518.68 340.91,508.03" fill="#4bd1ff" stroke="#4bd1ff" stroke-width="0.6"/><polygon points="340.91,508.03 350,518.68 360.31,530.75 371.62,542.08 383.93,552.65 397.24,562.48 411.56,571.56 426.88,579.89 443.2,587.47 460.52,594.3 473.54,599.45 476.4,598.49 463.36,593.4 445.35,586.38 428.48,578.68 412.73,570.3 398.12,561.24 384.64,551.51 372.29,541.1 361.08,530.01 351,518.24 341.89,507.61" fill="#44c5ff" stroke="#44c5ff" stroke-width="0.6"/><polygon points="341.89,507.61 351,518.24 361.08,530.01 372.29,541.1 384.64,551.51 398.12,561.24 412.73,570.3 428.48,578.68 445.35,586.38 463.36,593.4 476.4,598.49 479.26,597.54 466.2,592.5 447.51,585.28 430.07,577.46 413.91,569.03 399,560 385.36,550.36 372.97,540.11 361.86,529.26 352,517.8 342.87,507.19" fill="#3cb9ff" stroke="#3cb9ff" stroke-width="0.6"/><polygon points="342.87,507.19 352,517.8 361.86,529.26 372.97,540.11 385.36,550.36 399,560 413.91,569.03 430.07,577.46 447.51,585.28 466.2,592.5 479.26,597.54 475.5,593.19 462.36,588.4 444.91,581.93 428.53,574.77 413.23,566.93 399,558.4 385.84,549.19 373.75,539.29 362.74,528.71 352.8,517.44 343.54,506.95" fill="#35adff" stroke="#35adff" stroke-width="0.6"/><polygon points="343.54,506.95 352.8,517.44 362.74,528.71 373.75,539.29 385.84,549.19 399,558.4 413.23,566.93 428.53,574.77 444.91,581.93 462.36,588.4 475.5,593.19 471.75,588.84 458.52,584.3 442.32,578.57 427,572.08 412.56,564.82 399,556.8 386.33,548.02 374.53,538.47 363.63,528.16 353.6,517.08 344.2,506.71" fill="#2fa3ff" stroke="#2fa3ff" stroke-width="0.6"/><polygon points="344.2,506.71 353.6,517.08 363.63,528.16 374.53,538.47 386.33,548.02 399,556.8 412.56,564.82 427,572.08 442.32,578.57 458.52,584.3 471.75,588.84 467.99,584.49 454.68,580.2 439.72,575.21 425.45,569.38 411.88,562.71 399,555.2 386.81,546.84 375.31,537.64 364.51,527.6 354.4,516.72 344.87,506.47" fill="#2999ff" stroke="#2999ff" stroke-width="0.6"/><polygon points="344.87,506.47 354.4,516.72 364.51,527.6 375.31,537.64 386.81,546.84 399,555.2 411.88,562.71 425.45,569.38 439.72,575.21 454.68,580.2 467.99,584.49 464.24,580.14 450.84,576.1 437.13,571.86 423.92,566.69 411.21,560.61 399,553.6 387.3,545.67 376.09,536.82 365.4,527.05 355.2,516.36 345.54,506.23" fill="#228fff" stroke="#228fff" stroke-width="0.6"/><polygon points="345.54,506.23 355.2,516.36 365.4,527.05 376.09,536.82 387.3,545.67 399,553.6 411.21,560.61 423.92,566.69 437.13,571.86 450.84,576.1 464.24,580.14 460.48,575.78 447,572 434.53,568.5 422.38,564 410.53,558.5 399,552 387.78,544.5 376.88,536 366.28,526.5 356,516 346.21,506" fill="#1c85ff" stroke="#1c85ff" stroke-width="0.6"/><polygon points="346.21,506 356,516 366.28,526.5 376.88,536 387.78,544.5 399,552 410.53,558.5 422.38,564 434.53,568.5 447,572 460.48,575.78 458.45,573.07 445,569.2 432.98,565.76 421.27,561.38 409.88,556.06 398.8,549.8 388.03,542.61 377.57,534.48 367.43,525.41 357.6,515.4 347.78,505.42" fill="#1779ff" stroke="#1779ff" stroke-width="0.6"/><polygon points="347.78,505.42 357.6,515.4 367.43,525.41 377.57,534.48 388.03,542.61 398.8,549.8 409.88,556.06 421.27,561.38 432.98,565.76 445,569.2 458.45,573.07 456.43,570.35 443,566.4 431.43,563.01 420.18,558.75 409.23,553.61 398.6,547.6 388.28,540.71 378.27,532.95 368.58,524.31 359.2,514.8 349.36,504.84" fill="#136dff" stroke="#136dff" stroke-width="0.6"/><polygon points="349.36,504.84 359.2,514.8 368.58,524.31 378.27,532.95 388.28,540.71 398.6,547.6 409.23,553.61 420.18,558.75 431.43,563.01 443,566.4 456.43,570.35 454.4,567.64 441,563.6 429.88,560.27 419.07,556.12 408.58,551.17 398.4,545.4 388.53,538.82 378.98,531.42 369.73,523.22 360.8,514.2 350.94,504.26" fill="#0e60ff" stroke="#0e60ff" stroke-width="0.6"/><polygon points="350.94,504.26 360.8,514.2 369.73,523.22 378.98,531.42 388.53,538.82 398.4,545.4 408.58,551.17 419.07,556.12 429.88,560.27 441,563.6 454.4,567.64 452.38,564.92 439,560.8 428.33,557.52 417.98,553.5 407.93,548.73 398.2,543.2 388.78,536.92 379.68,529.9 370.88,522.12 362.4,513.6 352.52,503.68" fill="#1053ff" stroke="#1053ff" stroke-width="0.6"/><polygon points="352.52,503.68 362.4,513.6 370.88,522.12 379.68,529.9 388.78,536.92 398.2,543.2 407.93,548.73 417.98,553.5 428.33,557.52 439,560.8 452.38,564.92 450.35,562.21 437,558 426.78,554.78 416.88,550.88 407.28,546.28 398,541 389.03,535.03 380.38,528.38 372.03,521.03 364,513 354.1,503.1" fill="#1447ff" stroke="#1447ff" stroke-width="0.6"/><polygon points="354.1,503.1 364,513 372.03,521.03 380.38,528.38 389.03,535.03 398,541 407.28,546.28 416.88,550.88 426.78,554.78 437,558 450.35,562.21 448.04,560.41 434.9,555.7 425.34,552.37 416.04,548.44 406.99,543.92 398.2,538.8 389.67,533.09 381.39,526.79 373.37,519.89 365.6,512.4 355.49,502.74" fill="#183cff" stroke="#183cff" stroke-width="0.6"/><polygon points="355.49,502.74 365.6,512.4 373.37,519.89 381.39,526.79 389.67,533.09 398.2,538.8 406.99,543.92 416.04,548.44 425.34,552.37 434.9,555.7 448.04,560.41 445.72,558.62 432.8,553.4 423.9,549.95 415.2,546 406.7,541.55 398.4,536.6 390.3,531.15 382.4,525.2 374.7,518.75 367.2,511.8 356.88,502.38" fill="#1b33ff" stroke="#1b33ff" stroke-width="0.6"/><polygon points="356.88,502.38 367.2,511.8 374.7,518.75 382.4,525.2 390.3,531.15 398.4,536.6 406.7,541.55 415.2,546 423.9,549.95 432.8,553.4 445.72,558.62 443.41,556.82 430.7,551.1 422.46,547.53 414.36,543.56 406.41,539.18 398.6,534.4 390.93,529.21 383.41,523.61 376.03,517.61 368.8,511.2 358.26,502.01" fill="#1e2aff" stroke="#1e2aff" stroke-width="0.6"/><polygon points="358.26,502.01 368.8,511.2 376.03,517.61 383.41,523.61 390.93,529.21 398.6,534.4 406.41,539.18 414.36,543.56 422.46,547.53 430.7,551.1 443.41,556.82 441.09,555.03 428.6,548.8 421.02,545.12 413.52,541.12 406.12,536.82 398.8,532.2 391.57,527.27 384.43,522.02 377.37,516.47 370.4,510.6 359.65,501.65" fill="#2121ff" stroke="#2121ff" stroke-width="0.6"/><polygon points="359.65,501.65 370.4,510.6 377.37,516.47 384.43,522.02 391.57,527.27 398.8,532.2 406.12,536.82 413.52,541.12 421.02,545.12 428.6,548.8 441.09,555.03 438.77,553.23 426.5,546.5 419.58,542.7 412.69,538.69 405.83,534.45 399,530 392.2,525.33 385.44,520.44 378.7,515.33 372,510 361.04,501.29" fill="#2418ff" stroke="#2418ff" stroke-width="0.6"/><polygon points="361.04,501.29 372,510 378.7,515.33 385.44,520.44 392.2,525.33 399,530 405.83,534.45 412.69,538.69 419.58,542.7 426.5,546.5 438.77,553.23 436.64,550.29 424.6,543.2 418.41,539.66 412.18,535.91 405.91,531.96 399.6,527.8 393.26,523.43 386.88,518.86 380.46,514.08 374,509.1 362.9,500.59" fill="#260fff" stroke="#260fff" stroke-width="0.6"/><polygon points="362.9,500.59 374,509.1 380.46,514.08 386.88,518.86 393.26,523.43 399.6,527.8 405.91,531.96 412.18,535.91 418.41,539.66 424.6,543.2 436.64,550.29 434.51,547.35 422.7,539.9 417.23,536.62 411.66,533.14 405.98,529.47 400.2,525.6 394.31,521.54 388.31,517.29 382.21,512.84 376,508.2 364.75,499.89" fill="#260ef8" stroke="#260ef8" stroke-width="0.6"/><polygon points="364.75,499.89 376,508.2 382.21,512.84 388.31,517.29 394.31,521.54 400.2,525.6 405.98,529.47 411.66,533.14 417.23,536.62 422.7,539.9 434.51,547.35 432.38,544.4 420.8,536.6 416.06,533.57 411.15,530.36 406.06,526.97 400.8,523.4 395.36,519.65 389.75,515.71 383.96,511.6 378,507.3 366.61,499.19" fill="#260ef0" stroke="#260ef0" stroke-width="0.6"/><polygon points="366.61,499.19 378,507.3 383.96,511.6 389.75,515.71 395.36,519.65 400.8,523.4 406.06,526.97 411.15,530.36 416.06,533.57 420.8,536.6 432.38,544.4 430.24,541.46 418.9,533.3 414.89,530.53 410.64,527.59 406.14,524.48 401.4,521.2 396.42,517.75 391.19,514.14 385.72,510.35 380,506.4 368.46,498.49" fill="#260ee8" stroke="#260ee8" stroke-width="0.6"/><polygon points="368.46,498.49 380,506.4 385.72,510.35 391.19,514.14 396.42,517.75 401.4,521.2 406.14,524.48 410.64,527.59 414.89,530.53 418.9,533.3 430.24,541.46 428.11,538.52 417,530 413.72,527.48 410.12,524.81 406.22,521.98 402,519 397.47,515.86 392.62,512.56 387.47,509.11 382,505.5 370.32,497.79" fill="#260edf" stroke="#260edf" stroke-width="0.6"/><polygon points="370.32,497.79 382,505.5 387.47,509.11 392.62,512.56 397.47,515.86 402,519 406.22,521.98 410.12,524.81 413.72,527.48 417,530 428.11,538.52 426.7,535.73 415.36,527.56 412.36,525.34 409.08,522.95 405.51,520.37 401.66,517.62 397.52,514.69 393.09,511.58 388.38,508.29 383.38,504.82 371.98,496.74" fill="#260ed8" stroke="#260ed8" stroke-width="0.6"/><polygon points="371.98,496.74 383.38,504.82 388.38,508.29 393.09,511.58 397.52,514.69 401.66,517.62 405.51,520.37 409.08,522.95 412.36,525.34 415.36,527.56 426.7,535.73 425.29,532.93 413.72,525.12 411.01,523.2 408.04,521.08 404.81,518.76 401.32,516.24 397.57,513.52 393.56,510.59 389.29,507.47 384.76,504.14 373.65,495.7" fill="#260ed2" stroke="#260ed2" stroke-width="0.6"/><polygon points="373.65,495.7 384.76,504.14 389.29,507.47 393.56,510.59 397.57,513.52 401.32,516.24 404.81,518.76 408.04,521.08 411.01,523.2 413.72,525.12 425.29,532.93 423.88,530.14 412.08,522.68 409.66,521.06 407,519.22 404.11,517.15 400.98,514.86 397.62,512.35 394.03,509.61 390.2,506.65 386.14,503.46 375.31,494.66" fill="#260ecc" stroke="#260ecc" stroke-width="0.6"/><polygon points="375.31,494.66 386.14,503.46 390.2,506.65 394.03,509.61 397.62,512.35 400.98,514.86 404.11,517.15 407,519.22 409.66,521.06 412.08,522.68 423.88,530.14 422.47,527.35 410.44,520.24 408.3,518.92 405.96,517.35 403.4,515.54 400.64,513.48 397.67,511.17 394.5,508.62 391.11,505.82 387.52,502.78 376.98,493.61" fill="#260ec6" stroke="#260ec6" stroke-width="0.6"/><polygon points="376.98,493.61 387.52,502.78 391.11,505.82 394.5,508.62 397.67,511.17 400.64,513.48 403.4,515.54 405.96,517.35 408.3,518.92 410.44,520.24 422.47,527.35 421.06,524.56 408.8,517.8 406.95,516.78 404.91,515.49 402.7,513.93 400.3,512.1 397.72,510 394.96,507.64 392.02,505 388.9,502.1 378.65,492.57" fill="#260ec0" stroke="#260ec0" stroke-width="0.6"/><polygon points="378.65,492.57 388.9,502.1 392.02,505 394.96,507.64 397.72,510 400.3,512.1 402.7,513.93 404.91,515.49 406.95,516.78 408.8,517.8 421.06,524.56 419.86,522.57 407.84,515.44 406.17,514.48 404.35,513.3 402.37,511.9 400.24,510.28 397.95,508.44 395.51,506.39 392.91,504.11 390.16,501.62 379.63,492.44" fill="#260ebb" stroke="#260ebb" stroke-width="0.6"/><polygon points="379.63,492.44 390.16,501.62 392.91,504.11 395.51,506.39 397.95,508.44 400.24,510.28 402.37,511.9 404.35,513.3 406.17,514.48 407.84,515.44 419.86,522.57 418.65,520.58 406.88,513.08 405.4,512.18 403.79,511.11 402.05,509.87 400.18,508.46 398.18,506.88 396.06,505.14 393.8,503.22 391.42,501.14 380.61,492.31" fill="#260eb7" stroke="#260eb7" stroke-width="0.6"/><polygon points="380.61,492.31 391.42,501.14 393.8,503.22 396.06,505.14 398.18,506.88 400.18,508.46 402.05,509.87 403.79,511.11 405.4,512.18 406.88,513.08 418.65,520.58 417.45,518.59 405.92,510.72 404.62,509.88 403.22,508.92 401.72,507.84 400.12,506.64 398.41,505.32 396.6,503.89 394.69,502.33 392.68,500.66 381.6,492.18" fill="#260eb2" stroke="#260eb2" stroke-width="0.6"/><polygon points="381.6,492.18 392.68,500.66 394.69,502.33 396.6,503.89 398.41,505.32 400.12,506.64 401.72,507.84 403.22,508.92 404.62,509.88 405.92,510.72 417.45,518.59 416.24,516.6 404.96,508.36 403.85,507.58 402.66,506.73 401.4,505.81 400.06,504.82 398.64,503.76 397.15,502.64 395.58,501.44 393.94,500.18 382.58,492.04" fill="#260eae" stroke="#260eae" stroke-width="0.6"/><polygon points="382.58,492.04 393.94,500.18 395.58,501.44 397.15,502.64 398.64,503.76 400.06,504.82 401.4,505.81 402.66,506.73 403.85,507.58 404.96,508.36 416.24,516.6 415.04,514.61 404,506 403.07,505.28 402.1,504.54 401.07,503.78 400,503 398.88,502.2 397.7,501.39 396.47,500.55 395.2,499.7 383.56,491.91" fill="#260eaa" stroke="#260eaa" stroke-width="0.6"/><polygon points="383.56,491.91 395.2,499.7 396.47,500.55 397.7,501.39 398.88,502.2 400,503 401.07,503.78 402.1,504.54 403.07,505.28 404,506 415.04,514.61 416.51,513.19 405.2,505 404.21,504.29 403.18,503.55 402.11,502.79 401,502 399.85,501.18 398.66,500.33 397.43,499.46 396.16,498.56 384.74,490.49" fill="#260ea7" stroke="#260ea7" stroke-width="0.6"/><polygon points="384.74,490.49 396.16,498.56 397.43,499.46 398.66,500.33 399.85,501.18 401,502 402.11,502.79 403.18,503.55 404.21,504.29 405.2,505 416.51,513.19 417.98,511.77 406.4,504 405.34,503.3 404.26,502.57 403.14,501.8 402,501 400.82,500.16 399.62,499.28 398.38,498.37 397.12,497.42 385.92,489.06" fill="#260ea5" stroke="#260ea5" stroke-width="0.6"/><polygon points="385.92,489.06 397.12,497.42 398.38,498.37 399.62,499.28 400.82,500.16 402,501 403.14,501.8 404.26,502.57 405.34,503.3 406.4,504 417.98,511.77 419.45,510.35 407.6,503 406.48,502.32 405.34,501.59 404.18,500.82 403,500 401.8,499.14 400.58,498.23 399.34,497.28 398.08,496.28 387.1,487.63" fill="#260ea3" stroke="#260ea3" stroke-width="0.6"/><polygon points="387.1,487.63 398.08,496.28 399.34,497.28 400.58,498.23 401.8,499.14 403,500 404.18,500.82 405.34,501.59 406.48,502.32 407.6,503 419.45,510.35 420.92,508.93 408.8,502 407.62,501.33 406.42,500.61 405.21,499.83 404,499 402.77,498.12 401.54,497.18 400.3,496.19 399.04,495.14 388.28,486.21" fill="#260ea1" stroke="#260ea1" stroke-width="0.6"/><polygon points="388.28,486.21 399.04,495.14 400.3,496.19 401.54,497.18 402.77,498.12 404,499 405.21,499.83 406.42,500.61 407.62,501.33 408.8,502 420.92,508.93 422.4,507.51 410,501 408.75,500.34 407.5,499.62 406.25,498.84 405,498 403.75,497.09 402.5,496.12 401.25,495.09 400,494 389.46,484.78" fill="#260e9f" stroke="#260e9f" stroke-width="0.6"/></g><line x1="272.2" y1="542.6" x2="272.2" y2="564.1" stroke="#6a6a6a" stroke-width="0.7"/><line x1="272.2" y1="542.6" x2="274.2" y2="542" stroke="#6a6a6a" stroke-width="0.6"/><line x1="272.2" y1="552.1" x2="274.2" y2="551.5" stroke="#6a6a6a" stroke-width="0.6"/><line x1="272.2" y1="562" x2="274.2" y2="561.4" stroke="#6a6a6a" stroke-width="0.6"/><line x1="272.2" y1="565.1" x2="344.1" y2="661.5" stroke="#6a6a6a" stroke-width="0.7"/><line x1="344.1" y1="661.5" x2="468.1" y2="605.9" stroke="#6a6a6a" stroke-width="0.7"/><text x="269.3" y="543.9" font-size="6.4" text-anchor="end" fill="#1e1e1e" font-weight="bold">2000</text><text x="269.3" y="553.4" font-size="6.4" text-anchor="end" fill="#1e1e1e" font-weight="bold">1000</text><text x="269.2" y="563.1" font-size="6.4" text-anchor="end" fill="#1e1e1e" font-weight="bold">0</text><text x="263.3" y="573.6" font-size="6.3" text-anchor="middle" fill="#1e1e1e" font-weight="bold">0.5</text><text x="279" y="597.4" font-size="6.3" text-anchor="middle" fill="#1e1e1e" font-weight="bold">0.45</text><text x="298.3" y="621.6" font-size="6.3" text-anchor="middle" fill="#1e1e1e" font-weight="bold">0.4</text><text x="315.8" y="644.7" font-size="6.3" text-anchor="middle" fill="#1e1e1e" font-weight="bold">0.35</text><text x="333.4" y="668.2" font-size="6.3" text-anchor="middle" fill="#1e1e1e" font-weight="bold">0.3</text><text x="348.3" y="671.7" font-size="6.3" text-anchor="middle" fill="#1e1e1e" font-weight="bold">0</text><text x="381.4" y="658.2" font-size="6.3" text-anchor="middle" fill="#1e1e1e" font-weight="bold">0.1</text><text x="412.6" y="643.7" font-size="6.3" text-anchor="middle" fill="#1e1e1e" font-weight="bold">0.2</text><text x="443.1" y="629.9" font-size="6.3" text-anchor="middle" fill="#1e1e1e" font-weight="bold">0.3</text><text x="473.6" y="615.5" font-size="6.3" text-anchor="middle" fill="#1e1e1e" font-weight="bold">0.4</text><text x="284.8" y="651.3" font-size="6.8" text-anchor="middle" fill="#1e1e1e" font-weight="bold">Contact lens</text><text x="283.2" y="660.2" font-size="6.8" text-anchor="middle" fill="#1e1e1e" font-weight="bold">thickness (mm)</text><text x="394.7" y="662.5" font-size="6.8" text-anchor="start" fill="#1e1e1e" font-weight="bold">Elastic modulus of</text><text x="394.7" y="672" font-size="6.8" text-anchor="start" fill="#1e1e1e" font-weight="bold">contact lens (MPa)</text><text x="250" y="545.3" font-size="6.8" text-anchor="middle" fill="#1e1e1e" font-weight="bold" transform="rotate(-90 250 545.3)">Sensitivity (ppm/mmHg)</text><line x1="264.8" y1="774.6" x2="386" y2="727" stroke="#e2e2e2" stroke-width="0.6"/><line x1="386" y1="727" x2="386" y2="740" stroke="#e2e2e2" stroke-width="0.6"/><line x1="386" y1="727" x2="457.5" y2="832" stroke="#e2e2e2" stroke-width="0.6"/><line x1="457.5" y1="832" x2="457.5" y2="843.6" stroke="#e2e2e2" stroke-width="0.6"/><line x1="264.8" y1="785.1" x2="386" y2="733" stroke="#e2e2e2" stroke-width="0.6"/><line x1="296" y1="761" x2="296" y2="779" stroke="#e2e2e2" stroke-width="0.6"/><line x1="326" y1="748" x2="326" y2="766" stroke="#e2e2e2" stroke-width="0.6"/><line x1="356" y1="735" x2="356" y2="752" stroke="#e2e2e2" stroke-width="0.6"/><line x1="405" y1="755" x2="405" y2="770" stroke="#e2e2e2" stroke-width="0.6"/><line x1="425" y1="785" x2="425" y2="798" stroke="#e2e2e2" stroke-width="0.6"/><line x1="445" y1="815" x2="445" y2="826" stroke="#e2e2e2" stroke-width="0.6"/><g clip-path="url(#c15)"><polygon points="256.84,795.16 269.66,782.34 272.66,781.91 257.34,795.51" fill="#a80000" stroke="#a80000" stroke-width="0.6"/><polygon points="257.34,795.51 272.66,781.91 275.67,781.49 257.83,795.85" fill="#bb0000" stroke="#bb0000" stroke-width="0.6"/><polygon points="257.83,795.85 275.67,781.49 278.67,781.06 258.33,796.2" fill="#cf0000" stroke="#cf0000" stroke-width="0.6"/><polygon points="258.33,796.2 278.67,781.06 281.68,780.63 258.82,796.55" fill="#e20000" stroke="#e20000" stroke-width="0.6"/><polygon points="258.82,796.55 281.68,780.63 284.68,780.2 259.32,796.9" fill="#f50000" stroke="#f50000" stroke-width="0.6"/><polygon points="259.32,796.9 284.68,780.2 286.06,779.52 259.86,797.76" fill="#ff0d00" stroke="#ff0d00" stroke-width="0.6"/><polygon points="259.86,797.76 286.06,779.52 287.44,778.84 260.4,798.62" fill="#ff2600" stroke="#ff2600" stroke-width="0.6"/><polygon points="260.4,798.62 287.44,778.84 288.81,778.16 260.95,799.48" fill="#ff4000" stroke="#ff4000" stroke-width="0.6"/><polygon points="260.95,799.48 288.81,778.16 290.19,777.49 261.49,800.33" fill="#ff5900" stroke="#ff5900" stroke-width="0.6"/><polygon points="261.49,800.33 290.19,777.49 291.57,776.81 262.03,801.19" fill="#ff7300" stroke="#ff7300" stroke-width="0.6"/><polygon points="262.03,801.19 291.57,776.81 293.38,776.05 262.38,801.79" fill="#ff8c00" stroke="#ff8c00" stroke-width="0.6"/><polygon points="262.38,801.79 293.38,776.05 295.19,775.3 262.73,802.38" fill="#ffa600" stroke="#ffa600" stroke-width="0.6"/><polygon points="262.73,802.38 295.19,775.3 296.99,774.54 263.09,802.98" fill="#ffbf00" stroke="#ffbf00" stroke-width="0.6"/><polygon points="263.09,802.98 296.99,774.54 298.8,773.79 263.44,803.57" fill="#ffd900" stroke="#ffd900" stroke-width="0.6"/><polygon points="263.44,803.57 298.8,773.79 300.61,773.03 263.79,804.17" fill="#fff200" stroke="#fff200" stroke-width="0.6"/><polygon points="263.79,804.17 300.61,773.03 302.5,772.18 264.16,804.78" fill="#f2ff0d" stroke="#f2ff0d" stroke-width="0.6"/><polygon points="264.16,804.78 302.5,772.18 304.38,771.32 264.54,805.4" fill="#d9ff26" stroke="#d9ff26" stroke-width="0.6"/><polygon points="264.54,805.4 304.38,771.32 306.27,770.47 264.91,806.01" fill="#bfff40" stroke="#bfff40" stroke-width="0.6"/><polygon points="264.91,806.01 306.27,770.47 308.16,769.61 265.28,806.63" fill="#a6ff59" stroke="#a6ff59" stroke-width="0.6"/><polygon points="265.28,806.63 308.16,769.61 310.04,768.76 265.66,807.24" fill="#97ff73" stroke="#97ff73" stroke-width="0.6"/><polygon points="265.66,807.24 310.04,768.76 312.44,767.76 266.12,807.94" fill="#8dff8c" stroke="#8dff8c" stroke-width="0.6"/><polygon points="266.12,807.94 312.44,767.76 314.84,766.76 266.58,808.64" fill="#83ffa6" stroke="#83ffa6" stroke-width="0.6"/><polygon points="266.58,808.64 314.84,766.76 317.24,765.76 267.04,809.34" fill="#7affbf" stroke="#7affbf" stroke-width="0.6"/><polygon points="267.04,809.34 317.24,765.76 319.64,764.75 267.5,810.05" fill="#70ffd9" stroke="#70ffd9" stroke-width="0.6"/><polygon points="267.5,810.05 319.64,764.75 322.04,763.75 267.96,810.75" fill="#66fff2" stroke="#66fff2" stroke-width="0.6"/><polygon points="267.96,810.75 322.04,763.75 324.32,762.82 268.36,811.34" fill="#62f7ff" stroke="#62f7ff" stroke-width="0.6"/><polygon points="268.36,811.34 324.32,762.82 326.61,761.88 268.75,811.94" fill="#59e8ff" stroke="#59e8ff" stroke-width="0.6"/><polygon points="268.75,811.94 326.61,761.88 328.89,760.95 269.15,812.53" fill="#50d9ff" stroke="#50d9ff" stroke-width="0.6"/><polygon points="269.15,812.53 328.89,760.95 331.18,760.02 269.54,813.12" fill="#46c9ff" stroke="#46c9ff" stroke-width="0.6"/><polygon points="269.54,813.12 331.18,760.02 333.47,759.08 269.93,813.72" fill="#3dbaff" stroke="#3dbaff" stroke-width="0.6"/><polygon points="269.93,813.72 333.47,759.08 334.86,758.5 270.24,814.16" fill="#35adff" stroke="#35adff" stroke-width="0.6"/><polygon points="270.24,814.16 334.86,758.5 336.26,757.91 270.54,814.61" fill="#2fa3ff" stroke="#2fa3ff" stroke-width="0.6"/><polygon points="270.54,814.61 336.26,757.91 337.65,757.33 270.85,815.05" fill="#2999ff" stroke="#2999ff" stroke-width="0.6"/><polygon points="270.85,815.05 337.65,757.33 339.05,756.75 271.15,815.49" fill="#228fff" stroke="#228fff" stroke-width="0.6"/><polygon points="271.15,815.49 339.05,756.75 340.45,756.16 271.45,815.94" fill="#1c85ff" stroke="#1c85ff" stroke-width="0.6"/><polygon points="271.45,815.94 340.45,756.16 342.54,755.26 272.06,816.9" fill="#1676ff" stroke="#1676ff" stroke-width="0.6"/><polygon points="272.06,816.9 342.54,755.26 344.64,754.35 272.66,817.87" fill="#0f62ff" stroke="#0f62ff" stroke-width="0.6"/><polygon points="272.66,817.87 344.64,754.35 346.74,753.45 273.26,818.83" fill="#114eff" stroke="#114eff" stroke-width="0.6"/><polygon points="273.26,818.83 346.74,753.45 348.84,752.54 273.86,819.8" fill="#183aff" stroke="#183aff" stroke-width="0.6"/><polygon points="273.86,819.8 348.84,752.54 350.93,751.64 274.47,820.76" fill="#1f26ff" stroke="#1f26ff" stroke-width="0.6"/><polygon points="274.47,820.76 350.93,751.64 357.23,747.72 275.06,821.67" fill="#231bff" stroke="#231bff" stroke-width="0.6"/><polygon points="275.06,821.67 357.23,747.72 363.53,743.81 275.65,822.58" fill="#2419ff" stroke="#2419ff" stroke-width="0.6"/><polygon points="275.65,822.58 363.53,743.81 369.83,739.9 276.24,823.49" fill="#2418ff" stroke="#2418ff" stroke-width="0.6"/><polygon points="276.24,823.49 369.83,739.9 376.14,735.99 276.83,824.4" fill="#2516ff" stroke="#2516ff" stroke-width="0.6"/><polygon points="276.83,824.4 376.14,735.99 382.44,732.08 277.42,825.31" fill="#2614ff" stroke="#2614ff" stroke-width="0.6"/><polygon points="277.42,825.31 382.44,732.08 392.45,728.77 277.28,828.74" fill="#2613ff" stroke="#2613ff" stroke-width="0.6"/><polygon points="277.28,828.74 392.45,728.77 402.46,725.45 277.15,832.17" fill="#2612ff" stroke="#2612ff" stroke-width="0.6"/><polygon points="277.15,832.17 402.46,725.45 412.48,722.13 277.01,835.6" fill="#2611ff" stroke="#2611ff" stroke-width="0.6"/><polygon points="277.01,835.6 412.48,722.13 422.49,718.81 276.88,839.03" fill="#2610ff" stroke="#2610ff" stroke-width="0.6"/><polygon points="276.88,839.03 422.49,718.81 432.51,715.49 276.75,842.45" fill="#260fff" stroke="#260fff" stroke-width="0.6"/><polygon points="276.75,842.45 432.51,715.49 432.59,717.26 276.98,847.39" fill="#260efd" stroke="#260efd" stroke-width="0.6"/><polygon points="276.98,847.39 432.59,717.26 432.68,719.03 277.22,852.32" fill="#260ef9" stroke="#260ef9" stroke-width="0.6"/><polygon points="277.22,852.32 432.68,719.03 432.76,720.81 277.46,857.26" fill="#260ef5" stroke="#260ef5" stroke-width="0.6"/><polygon points="277.46,857.26 432.76,720.81 432.85,722.58 277.7,862.19" fill="#260ef1" stroke="#260ef1" stroke-width="0.6"/><polygon points="277.7,862.19 432.85,722.58 432.93,724.35 277.93,867.13" fill="#260eed" stroke="#260eed" stroke-width="0.6"/><polygon points="277.93,867.13 432.93,724.35 434.57,726.94 280.84,870.04" fill="#260ee8" stroke="#260ee8" stroke-width="0.6"/><polygon points="280.84,870.04 434.57,726.94 436.21,729.53 283.75,872.96" fill="#260ee3" stroke="#260ee3" stroke-width="0.6"/><polygon points="283.75,872.96 436.21,729.53 437.85,732.11 286.66,875.87" fill="#260ede" stroke="#260ede" stroke-width="0.6"/><polygon points="286.66,875.87 437.85,732.11 439.49,734.7 289.57,878.79" fill="#260ed9" stroke="#260ed9" stroke-width="0.6"/><polygon points="289.57,878.79 439.49,734.7 441.14,737.29 292.48,881.7" fill="#260ed4" stroke="#260ed4" stroke-width="0.6"/><polygon points="292.48,881.7 441.14,737.29 443.69,739.65 294,883.85" fill="#260ecf" stroke="#260ecf" stroke-width="0.6"/><polygon points="294,883.85 443.69,739.65 446.24,742.01 295.51,886" fill="#260ecc" stroke="#260ecc" stroke-width="0.6"/><polygon points="295.51,886 446.24,742.01 448.79,744.37 297.02,888.15" fill="#260ec9" stroke="#260ec9" stroke-width="0.6"/><polygon points="297.02,888.15 448.79,744.37 451.34,746.74 298.54,890.3" fill="#260ec6" stroke="#260ec6" stroke-width="0.6"/><polygon points="298.54,890.3 451.34,746.74 453.9,749.1 300.05,892.45" fill="#260ec2" stroke="#260ec2" stroke-width="0.6"/><polygon points="300.05,892.45 453.9,749.1 461.89,755.65 304.26,896.59" fill="#160eb2" stroke="#160eb2" stroke-width="0.6"/><polygon points="304.26,896.59 461.89,755.65 469.89,762.2 308.48,900.73" fill="#160eb2" stroke="#160eb2" stroke-width="0.6"/><polygon points="308.48,900.73 469.89,762.2 477.89,768.75 312.69,904.87" fill="#160eb2" stroke="#160eb2" stroke-width="0.6"/><polygon points="312.69,904.87 477.89,768.75 485.89,775.3 316.9,909.01" fill="#160eb2" stroke="#160eb2" stroke-width="0.6"/><polygon points="316.9,909.01 485.89,775.3 493.88,781.85 321.12,913.15" fill="#160eb2" stroke="#160eb2" stroke-width="0.6"/><polygon points="321.12,913.15 493.88,781.85 500.34,792.45 335.66,919.55" fill="#160eb2" stroke="#160eb2" stroke-width="0.6"/><polygon points="335.66,919.55 500.34,792.45 506.79,803.06 350.21,925.94" fill="#160eb2" stroke="#160eb2" stroke-width="0.6"/><polygon points="350.21,925.94 506.79,803.06 513.24,813.67 364.76,932.33" fill="#160eb2" stroke="#160eb2" stroke-width="0.6"/><polygon points="364.76,932.33 513.24,813.67 519.69,824.27 379.31,938.73" fill="#160eb2" stroke="#160eb2" stroke-width="0.6"/><polygon points="379.31,938.73 519.69,824.27 526.15,834.88 393.85,945.12" fill="#160eb2" stroke="#160eb2" stroke-width="0.6"/></g><line x1="264.2" y1="777.9" x2="264.2" y2="800" stroke="#6a6a6a" stroke-width="0.7"/><line x1="264.2" y1="777.9" x2="262.8" y2="777.9" stroke="#6a6a6a" stroke-width="0.6"/><line x1="264.2" y1="788" x2="262.8" y2="788" stroke="#6a6a6a" stroke-width="0.6"/><line x1="264.2" y1="798" x2="262.8" y2="798" stroke="#6a6a6a" stroke-width="0.6"/><line x1="264.2" y1="800" x2="335.5" y2="901.5" stroke="#6a6a6a" stroke-width="0.7"/><line x1="335.5" y1="901.5" x2="457.5" y2="843.6" stroke="#6a6a6a" stroke-width="0.7"/><text x="261.2" y="778.4" font-size="6.4" text-anchor="end" fill="#1e1e1e" font-weight="bold">2500</text><text x="261.2" y="788.9" font-size="6.4" text-anchor="end" fill="#1e1e1e" font-weight="bold">2000</text><text x="261.2" y="798.9" font-size="6.4" text-anchor="end" fill="#1e1e1e" font-weight="bold">1500</text><text x="255.6" y="809.3" font-size="6.3" text-anchor="middle" fill="#1e1e1e" font-weight="bold">6.5</text><text x="271.3" y="829.4" font-size="6.3" text-anchor="middle" fill="#1e1e1e" font-weight="bold">6</text><text x="281.9" y="849.7" font-size="6.3" text-anchor="middle" fill="#1e1e1e" font-weight="bold">5.5</text><text x="299.4" y="869.7" font-size="6.3" text-anchor="middle" fill="#1e1e1e" font-weight="bold">5</text><text x="317.6" y="890.7" font-size="6.3" text-anchor="middle" fill="#1e1e1e" font-weight="bold">4.5</text><text x="329.9" y="909.2" font-size="6.3" text-anchor="middle" fill="#1e1e1e" font-weight="bold">4</text><text x="345.6" y="911.7" font-size="6.3" text-anchor="middle" fill="#1e1e1e" font-weight="bold">13.5</text><text x="403.4" y="883.7" font-size="6.3" text-anchor="middle" fill="#1e1e1e" font-weight="bold">14</text><text x="468.3" y="853.9" font-size="6.3" text-anchor="middle" fill="#1e1e1e" font-weight="bold">14.5</text><text x="249.3" y="888.5" font-size="6.8" text-anchor="start" fill="#1e1e1e" font-weight="bold">Coil distribution</text><text x="249.3" y="898" font-size="6.8" text-anchor="start" fill="#1e1e1e" font-weight="bold">radius (mm)</text><text x="409.5" y="904.3" font-size="6.8" text-anchor="middle" fill="#1e1e1e" font-weight="bold">Contact lens diameter (mm)</text><text x="243.4" y="775.5" font-size="6.85" text-anchor="middle" fill="#1e1e1e" font-weight="bold" transform="rotate(-90 243.4 775.5)">Sensitivity (ppm/mmHg)</text><polyline points="31.9,652.3 49.05,639.66 66.2,627.02 83.35,614.38 100.5,601.74 117.65,589.09 134.8,576.45 151.95,563.81 169.1,551.17 186.25,538.53 203.4,525.89" fill="none" stroke="#111111" stroke-width="0.85" stroke-dasharray="2.2,1.5"/><rect x="30.25" y="650.65" width="3.3" height="3.3" fill="#111111"/><rect x="47.4" y="638.01" width="3.3" height="3.3" fill="#111111"/><rect x="64.55" y="625.37" width="3.3" height="3.3" fill="#111111"/><rect x="81.7" y="612.73" width="3.3" height="3.3" fill="#111111"/><rect x="98.85" y="600.09" width="3.3" height="3.3" fill="#111111"/><rect x="116" y="587.44" width="3.3" height="3.3" fill="#111111"/><rect x="133.15" y="574.8" width="3.3" height="3.3" fill="#111111"/><rect x="150.3" y="562.16" width="3.3" height="3.3" fill="#111111"/><rect x="167.45" y="549.52" width="3.3" height="3.3" fill="#111111"/><rect x="184.6" y="536.88" width="3.3" height="3.3" fill="#111111"/><rect x="201.75" y="524.24" width="3.3" height="3.3" fill="#111111"/><polyline points="31.9,652.3 49.05,639.2 66.2,626.1 83.35,613 100.5,599.9 117.65,586.81 134.8,573.71 151.95,560.61 169.1,547.51 186.25,534.41 203.4,521.31" fill="none" stroke="#1e1ef0" stroke-width="0.85" stroke-dasharray="2.2,1.5"/><rect x="30.25" y="650.65" width="3.3" height="3.3" fill="#1e1ef0"/><rect x="47.4" y="637.55" width="3.3" height="3.3" fill="#1e1ef0"/><rect x="64.55" y="624.45" width="3.3" height="3.3" fill="#1e1ef0"/><rect x="81.7" y="611.35" width="3.3" height="3.3" fill="#1e1ef0"/><rect x="98.85" y="598.25" width="3.3" height="3.3" fill="#1e1ef0"/><rect x="116" y="585.16" width="3.3" height="3.3" fill="#1e1ef0"/><rect x="133.15" y="572.06" width="3.3" height="3.3" fill="#1e1ef0"/><rect x="150.3" y="558.96" width="3.3" height="3.3" fill="#1e1ef0"/><rect x="167.45" y="545.86" width="3.3" height="3.3" fill="#1e1ef0"/><rect x="184.6" y="532.76" width="3.3" height="3.3" fill="#1e1ef0"/><rect x="201.75" y="519.66" width="3.3" height="3.3" fill="#1e1ef0"/><polyline points="31.9,652.3 49.05,638.77 66.2,625.24 83.35,611.72 100.5,598.19 117.65,584.66 134.8,571.13 151.95,557.61 169.1,544.08 186.25,530.55 203.4,517.02" fill="none" stroke="#f02222" stroke-width="0.85" stroke-dasharray="2.2,1.5"/><polygon points="31.9,650.32 29.92,653.78 33.88,653.78" fill="#f02222"/><polygon points="49.05,636.79 47.07,640.26 51.03,640.26" fill="#f02222"/><polygon points="66.2,623.26 64.22,626.73 68.18,626.73" fill="#f02222"/><polygon points="83.35,609.74 81.37,613.2 85.33,613.2" fill="#f02222"/><polygon points="100.5,596.21 98.52,599.67 102.48,599.67" fill="#f02222"/><polygon points="117.65,582.68 115.67,586.15 119.63,586.15" fill="#f02222"/><polygon points="134.8,569.15 132.82,572.62 136.78,572.62" fill="#f02222"/><polygon points="151.95,555.63 149.97,559.09 153.93,559.09" fill="#f02222"/><polygon points="169.1,542.1 167.12,545.56 171.08,545.56" fill="#f02222"/><polygon points="186.25,528.57 184.27,532.03 188.23,532.03" fill="#f02222"/><polygon points="203.4,515.04 201.42,518.51 205.38,518.51" fill="#f02222"/><polyline points="31.9,652.3 49.05,637.03 66.2,621.76 83.35,606.48 100.5,591.21 117.65,575.94 134.8,560.67 151.95,545.39 169.1,530.12 186.25,514.85 203.4,499.58" fill="none" stroke="#ff30ff" stroke-width="0.85" stroke-dasharray="2.2,1.5"/><polygon points="31.9,650.32 29.92,653.78 33.88,653.78" fill="#ff30ff"/><polygon points="49.05,635.05 47.07,638.51 51.03,638.51" fill="#ff30ff"/><polygon points="66.2,619.78 64.22,623.24 68.18,623.24" fill="#ff30ff"/><polygon points="83.35,604.5 81.37,607.97 85.33,607.97" fill="#ff30ff"/><polygon points="100.5,589.23 98.52,592.7 102.48,592.7" fill="#ff30ff"/><polygon points="117.65,573.96 115.67,577.42 119.63,577.42" fill="#ff30ff"/><polygon points="134.8,558.69 132.82,562.15 136.78,562.15" fill="#ff30ff"/><polygon points="151.95,543.41 149.97,546.88 153.93,546.88" fill="#ff30ff"/><polygon points="169.1,528.14 167.12,531.61 171.08,531.61" fill="#ff30ff"/><polygon points="186.25,512.87 184.27,516.33 188.23,516.33" fill="#ff30ff"/><polygon points="203.4,497.6 201.42,501.06 205.38,501.06" fill="#ff30ff"/><line x1="31.9" y1="652.3" x2="203.4" y2="522.46" stroke="#111111" stroke-width="1.1"/><line x1="31.9" y1="652.3" x2="203.4" y2="517.88" stroke="#1e1ef0" stroke-width="1.1"/><line x1="31.9" y1="652.3" x2="203.4" y2="513.02" stroke="#f02222" stroke-width="1.1"/><line x1="31.9" y1="652.3" x2="203.4" y2="496.14" stroke="#f038f8" stroke-width="1.1"/><line x1="31" y1="480" x2="31" y2="658.4" stroke="#8c8c8c" stroke-width="1.5"/><line x1="30.3" y1="657.7" x2="204.5" y2="657.7" stroke="#8c8c8c" stroke-width="1.5"/><line x1="31" y1="652.3" x2="33.2" y2="652.3" stroke="#8c8c8c" stroke-width="0.9"/><text x="28.4" y="655.2" font-size="8" text-anchor="end" fill="#333" stroke="#333" stroke-width="0.1">0</text><line x1="31" y1="623.7" x2="33.2" y2="623.7" stroke="#8c8c8c" stroke-width="0.9"/><text x="28.4" y="626.6" font-size="8" text-anchor="end" fill="#333" stroke="#333" stroke-width="0.1">1</text><line x1="31" y1="595.1" x2="33.2" y2="595.1" stroke="#8c8c8c" stroke-width="0.9"/><text x="28.4" y="598" font-size="8" text-anchor="end" fill="#333" stroke="#333" stroke-width="0.1">2</text><line x1="31" y1="566.5" x2="33.2" y2="566.5" stroke="#8c8c8c" stroke-width="0.9"/><text x="28.4" y="569.4" font-size="8" text-anchor="end" fill="#333" stroke="#333" stroke-width="0.1">3</text><line x1="31" y1="537.9" x2="33.2" y2="537.9" stroke="#8c8c8c" stroke-width="0.9"/><text x="28.4" y="540.8" font-size="8" text-anchor="end" fill="#333" stroke="#333" stroke-width="0.1">4</text><line x1="31" y1="509.3" x2="33.2" y2="509.3" stroke="#8c8c8c" stroke-width="0.9"/><text x="28.4" y="512.2" font-size="8" text-anchor="end" fill="#333" stroke="#333" stroke-width="0.1">5</text><line x1="31" y1="480.7" x2="33.2" y2="480.7" stroke="#8c8c8c" stroke-width="0.9"/><line x1="31.9" y1="657.7" x2="31.9" y2="655.5" stroke="#8c8c8c" stroke-width="0.9"/><text x="31.9" y="666.5" font-size="8" text-anchor="middle" fill="#333" stroke="#333" stroke-width="0.1">0</text><line x1="66.2" y1="657.7" x2="66.2" y2="655.5" stroke="#8c8c8c" stroke-width="0.9"/><text x="66.2" y="666.5" font-size="8" text-anchor="middle" fill="#333" stroke="#333" stroke-width="0.1">8</text><line x1="100.5" y1="657.7" x2="100.5" y2="655.5" stroke="#8c8c8c" stroke-width="0.9"/><text x="100.5" y="666.5" font-size="8" text-anchor="middle" fill="#333" stroke="#333" stroke-width="0.1">16</text><line x1="134.8" y1="657.7" x2="134.8" y2="655.5" stroke="#8c8c8c" stroke-width="0.9"/><text x="134.8" y="666.5" font-size="8" text-anchor="middle" fill="#333" stroke="#333" stroke-width="0.1">24</text><line x1="169.1" y1="657.7" x2="169.1" y2="655.5" stroke="#8c8c8c" stroke-width="0.9"/><text x="169.1" y="666.5" font-size="8" text-anchor="middle" fill="#333" stroke="#333" stroke-width="0.1">32</text><line x1="203.4" y1="657.7" x2="203.4" y2="655.5" stroke="#8c8c8c" stroke-width="0.9"/><text x="203.4" y="666.5" font-size="8" text-anchor="middle" fill="#333" stroke="#333" stroke-width="0.1">40</text><text x="120" y="678.2" font-size="9.3" text-anchor="middle" fill="#333" stroke="#333" stroke-width="0.1">Intraocular pressure (mmHg)</text><text x="17.4" y="577.4" font-size="9.45" text-anchor="middle" fill="#333" stroke="#333" stroke-width="0.1" transform="rotate(-90 17.4 577.4)">The change rate (%)</text><text x="41" y="491.2" font-size="6.7" text-anchor="start" fill="#333" stroke="#333" stroke-width="0.1" xml:space="preserve" textLength="48" lengthAdjust="spacingAndGlyphs">Δd/d  (inner coil)</text><line x1="98.2" y1="488.8" x2="116.9" y2="488.8" stroke="#444" stroke-width="0.7" stroke-dasharray="1.2,1"/><rect x="105.95" y="487.25" width="3.1" height="3.1" fill="#111111"/><line x1="129.1" y1="488.8" x2="146.6" y2="488.8" stroke="#111111" stroke-width="1.1"/><text x="41" y="500.7" font-size="6.7" text-anchor="start" fill="#333" stroke="#333" stroke-width="0.1" xml:space="preserve" textLength="48" lengthAdjust="spacingAndGlyphs">Δw/w (inner coil)</text><line x1="98.2" y1="498.3" x2="116.9" y2="498.3" stroke="#f55" stroke-width="0.7" stroke-dasharray="1.2,1"/><polygon points="107.5,496.44 105.64,499.69 109.36,499.69" fill="#f02222"/><line x1="129.1" y1="498.3" x2="146.6" y2="498.3" stroke="#f02222" stroke-width="1.1"/><text x="41" y="510.9" font-size="6.7" text-anchor="start" fill="#333" stroke="#333" stroke-width="0.1" xml:space="preserve" textLength="48" lengthAdjust="spacingAndGlyphs">Δd/d  (outer coil)</text><line x1="98.2" y1="508.5" x2="116.9" y2="508.5" stroke="#44f" stroke-width="0.7" stroke-dasharray="1.2,1"/><rect x="105.95" y="506.95" width="3.1" height="3.1" fill="#1e1ef0"/><line x1="129.1" y1="508.5" x2="146.6" y2="508.5" stroke="#1e1ef0" stroke-width="1.1"/><text x="41" y="521" font-size="6.7" text-anchor="start" fill="#333" stroke="#333" stroke-width="0.1" xml:space="preserve" textLength="48" lengthAdjust="spacingAndGlyphs">Δw/w (outer coil)</text><line x1="98.2" y1="518.6" x2="116.9" y2="518.6" stroke="#ff50ff" stroke-width="0.7" stroke-dasharray="1.2,1"/><polygon points="107.5,516.74 105.64,520 109.36,520" fill="#ff30ff"/><line x1="129.1" y1="518.6" x2="146.6" y2="518.6" stroke="#e038f4" stroke-width="1.1"/><text x="107.5" y="530" font-size="7.2" text-anchor="middle" fill="#222" stroke="#222" stroke-width="0.1">FEM</text><text x="139" y="530" font-size="7.2" text-anchor="middle" fill="#222" stroke="#222" stroke-width="0.1">Analytical</text><polyline points="36.6,895.1 53.64,890 70.68,884.9 87.72,879.8 104.76,874.7 121.8,869.6 138.84,864.5 155.88,859.4 172.92,854.29 189.96,849.19 207,844.09" fill="none" stroke="#333" stroke-width="0.7" stroke-dasharray="1,1"/><circle cx="53.64" cy="890" r="1.45" fill="#111111"/><circle cx="70.68" cy="884.9" r="1.45" fill="#111111"/><circle cx="87.72" cy="879.8" r="1.45" fill="#111111"/><circle cx="104.76" cy="874.7" r="1.45" fill="#111111"/><circle cx="121.8" cy="869.6" r="1.45" fill="#111111"/><circle cx="138.84" cy="864.5" r="1.45" fill="#111111"/><circle cx="155.88" cy="859.4" r="1.45" fill="#111111"/><circle cx="172.92" cy="854.29" r="1.45" fill="#111111"/><circle cx="189.96" cy="849.19" r="1.45" fill="#111111"/><circle cx="207" cy="844.09" r="1.45" fill="#111111"/><line x1="36.6" y1="895.1" x2="207" y2="842.74" stroke="#111111" stroke-width="1.1"/><polyline points="36.6,895.1 53.64,884.43 70.68,873.75 87.72,863.08 104.76,852.41 121.8,841.73 138.84,831.06 155.88,820.39 172.92,809.71 189.96,799.04 207,788.37" fill="none" stroke="#f55" stroke-width="0.7" stroke-dasharray="1,1"/><circle cx="53.64" cy="884.43" r="1.45" fill="#f02222"/><circle cx="70.68" cy="873.75" r="1.45" fill="#f02222"/><circle cx="87.72" cy="863.08" r="1.45" fill="#f02222"/><circle cx="104.76" cy="852.41" r="1.45" fill="#f02222"/><circle cx="121.8" cy="841.73" r="1.45" fill="#f02222"/><circle cx="138.84" cy="831.06" r="1.45" fill="#f02222"/><circle cx="155.88" cy="820.39" r="1.45" fill="#f02222"/><circle cx="172.92" cy="809.71" r="1.45" fill="#f02222"/><circle cx="189.96" cy="799.04" r="1.45" fill="#f02222"/><circle cx="207" cy="788.37" r="1.45" fill="#f02222"/><line x1="36.6" y1="895.1" x2="207" y2="785.67" stroke="#f02222" stroke-width="1.1"/><polyline points="36.6,895.1 53.64,879.42 70.68,863.73 87.72,848.05 104.76,832.36 121.8,816.68 138.84,801 155.88,785.31 172.92,769.63 189.96,753.94 207,738.26" fill="none" stroke="#44f" stroke-width="0.7" stroke-dasharray="1,1"/><polygon points="53.64,877.68 51.9,880.72 55.38,880.72" fill="#1e1ef0"/><polygon points="70.68,861.99 68.94,865.04 72.42,865.04" fill="#1e1ef0"/><polygon points="87.72,846.31 85.98,849.35 89.46,849.35" fill="#1e1ef0"/><polygon points="104.76,830.62 103.02,833.67 106.5,833.67" fill="#1e1ef0"/><polygon points="121.8,814.94 120.06,817.98 123.54,817.98" fill="#1e1ef0"/><polygon points="138.84,799.26 137.1,802.3 140.58,802.3" fill="#1e1ef0"/><polygon points="155.88,783.57 154.14,786.62 157.62,786.62" fill="#1e1ef0"/><polygon points="172.92,767.89 171.18,770.93 174.66,770.93" fill="#1e1ef0"/><polygon points="189.96,752.2 188.22,755.25 191.7,755.25" fill="#1e1ef0"/><polygon points="207,736.52 205.26,739.56 208.74,739.56" fill="#1e1ef0"/><line x1="36.6" y1="895.1" x2="207" y2="733.99" stroke="#1e1ef0" stroke-width="1.1"/><circle cx="36.6" cy="895.1" r="1.15" fill="#22f"/><line x1="35.8" y1="715.3" x2="35.8" y2="897.8" stroke="#333" stroke-width="1.3"/><line x1="35.2" y1="897.1" x2="207.5" y2="897.1" stroke="#333" stroke-width="1.3"/><line x1="35.8" y1="895.1" x2="37.8" y2="895.1" stroke="#333" stroke-width="0.9"/><text x="33.3" y="898.2" font-size="8.6" text-anchor="end" fill="#333" stroke="#333" stroke-width="0.1">0</text><line x1="35.8" y1="872.63" x2="37.8" y2="872.63" stroke="#333" stroke-width="0.9"/><text x="33.3" y="875.73" font-size="8.6" text-anchor="end" fill="#333" stroke="#333" stroke-width="0.1">1</text><line x1="35.8" y1="850.16" x2="37.8" y2="850.16" stroke="#333" stroke-width="0.9"/><text x="33.3" y="853.26" font-size="8.6" text-anchor="end" fill="#333" stroke="#333" stroke-width="0.1">2</text><line x1="35.8" y1="827.69" x2="37.8" y2="827.69" stroke="#333" stroke-width="0.9"/><text x="33.3" y="830.79" font-size="8.6" text-anchor="end" fill="#333" stroke="#333" stroke-width="0.1">3</text><line x1="35.8" y1="805.22" x2="37.8" y2="805.22" stroke="#333" stroke-width="0.9"/><text x="33.3" y="808.32" font-size="8.6" text-anchor="end" fill="#333" stroke="#333" stroke-width="0.1">4</text><line x1="35.8" y1="782.75" x2="37.8" y2="782.75" stroke="#333" stroke-width="0.9"/><text x="33.3" y="785.85" font-size="8.6" text-anchor="end" fill="#333" stroke="#333" stroke-width="0.1">5</text><line x1="35.8" y1="760.28" x2="37.8" y2="760.28" stroke="#333" stroke-width="0.9"/><text x="33.3" y="763.38" font-size="8.6" text-anchor="end" fill="#333" stroke="#333" stroke-width="0.1">6</text><line x1="35.8" y1="737.81" x2="37.8" y2="737.81" stroke="#333" stroke-width="0.9"/><text x="33.3" y="740.91" font-size="8.6" text-anchor="end" fill="#333" stroke="#333" stroke-width="0.1">7</text><line x1="35.8" y1="715.34" x2="37.8" y2="715.34" stroke="#333" stroke-width="0.9"/><text x="33.3" y="718.44" font-size="8.6" text-anchor="end" fill="#333" stroke="#333" stroke-width="0.1">8</text><line x1="36.6" y1="897.1" x2="36.6" y2="895.1" stroke="#333" stroke-width="0.9"/><text x="36.6" y="907.5" font-size="8.6" text-anchor="middle" fill="#333" stroke="#333" stroke-width="0.1">0</text><line x1="70.68" y1="897.1" x2="70.68" y2="895.1" stroke="#333" stroke-width="0.9"/><text x="70.68" y="907.5" font-size="8.6" text-anchor="middle" fill="#333" stroke="#333" stroke-width="0.1">8</text><line x1="104.76" y1="897.1" x2="104.76" y2="895.1" stroke="#333" stroke-width="0.9"/><text x="104.76" y="907.5" font-size="8.6" text-anchor="middle" fill="#333" stroke="#333" stroke-width="0.1">16</text><line x1="138.84" y1="897.1" x2="138.84" y2="895.1" stroke="#333" stroke-width="0.9"/><text x="138.84" y="907.5" font-size="8.6" text-anchor="middle" fill="#333" stroke="#333" stroke-width="0.1">24</text><line x1="172.92" y1="897.1" x2="172.92" y2="895.1" stroke="#333" stroke-width="0.9"/><text x="172.92" y="907.5" font-size="8.6" text-anchor="middle" fill="#333" stroke="#333" stroke-width="0.1">32</text><line x1="207" y1="897.1" x2="207" y2="895.1" stroke="#333" stroke-width="0.9"/><text x="207" y="907.5" font-size="8.6" text-anchor="middle" fill="#333" stroke="#333" stroke-width="0.1">40</text><text x="123" y="918.4" font-size="9.4" text-anchor="middle" fill="#333" stroke="#333" stroke-width="0.1">Intraocular pressure (mmHg)</text><text x="23.4" y="803.5" font-size="9.3" text-anchor="middle" fill="#333" stroke="#333" stroke-width="0.1" transform="rotate(-90 23.4 803.5)">Δf/f : Change rate of resonant frequency (%)</text><text x="42.1" y="726" font-size="7.7" text-anchor="start" fill="#222" stroke="#222" stroke-width="0.1">Inductance induced</text><line x1="119" y1="723.3" x2="136.9" y2="723.3" stroke="#444" stroke-width="0.7" stroke-dasharray="1,1"/><circle cx="127.8" cy="723.3" r="1.45" fill="#111111"/><line x1="146.9" y1="723.3" x2="163" y2="723.3" stroke="#111111" stroke-width="1.1"/><text x="42.1" y="737.6" font-size="7.7" text-anchor="start" fill="#222" stroke="#222" stroke-width="0.1">Capacitance induced</text><line x1="119" y1="734.9" x2="136.9" y2="734.9" stroke="#f55" stroke-width="0.7" stroke-dasharray="1,1"/><circle cx="127.8" cy="734.9" r="1.45" fill="#f02222"/><line x1="146.9" y1="734.9" x2="163" y2="734.9" stroke="#f02222" stroke-width="1.1"/><text x="42.1" y="749.3" font-size="7.7" text-anchor="start" fill="#222" stroke="#222" stroke-width="0.1">Induced by both</text><line x1="119" y1="746.6" x2="136.9" y2="746.6" stroke="#44f" stroke-width="0.7" stroke-dasharray="1,1"/><polygon points="127.8,744.86 126.06,747.9 129.54,747.9" fill="#1e1ef0"/><line x1="146.9" y1="746.6" x2="163" y2="746.6" stroke="#1e1ef0" stroke-width="1.1"/><text x="127.3" y="758" font-size="7.2" text-anchor="middle" fill="#222" stroke="#222" stroke-width="0.1">FEM</text><text x="159" y="758" font-size="7.2" text-anchor="middle" fill="#222" stroke="#222" stroke-width="0.1">Analytical</text><line x1="506.7" y1="23.1" x2="506.7" y2="191.6" stroke="#262626" stroke-width="1.1"/><line x1="506.2" y1="191.1" x2="661" y2="191.1" stroke="#262626" stroke-width="1.1"/><polyline points="510.8,160.61 523.95,164.93 537.1,168.22 550.25,170.68 563.4,172.53 576.55,173.97 589.7,174.79 602.85,175.2 616,175.41 629.15,175.41 642.3,175.2 655.45,175" fill="none" stroke="#111111" stroke-width="1.15" stroke-dasharray="2.6,1.3,0.9,1.3"/><polygon points="510.8,158.81 511.31,159.91 512.51,160.06 511.63,160.88 511.86,162.07 510.8,161.48 509.74,162.07 509.97,160.88 509.09,160.06 510.29,159.91" fill="#111111"/><polygon points="523.95,163.13 524.46,164.22 525.66,164.37 524.78,165.2 525.01,166.38 523.95,165.8 522.89,166.38 523.12,165.2 522.24,164.37 523.44,164.22" fill="#111111"/><polygon points="537.1,166.42 537.61,167.51 538.81,167.66 537.93,168.48 538.16,169.67 537.1,169.09 536.04,169.67 536.27,168.48 535.39,167.66 536.59,167.51" fill="#111111"/><polygon points="550.25,168.88 550.76,169.98 551.96,170.13 551.08,170.95 551.31,172.14 550.25,171.55 549.19,172.14 549.42,170.95 548.54,170.13 549.74,169.98" fill="#111111"/><polygon points="563.4,170.73 563.91,171.83 565.11,171.98 564.23,172.8 564.46,173.99 563.4,173.4 562.34,173.99 562.57,172.8 561.69,171.98 562.89,171.83" fill="#111111"/><polygon points="576.55,172.17 577.06,173.27 578.26,173.41 577.38,174.24 577.61,175.42 576.55,174.84 575.49,175.42 575.72,174.24 574.84,173.41 576.04,173.27" fill="#111111"/><polygon points="589.7,172.99 590.21,174.09 591.41,174.24 590.53,175.06 590.76,176.25 589.7,175.66 588.64,176.25 588.87,175.06 587.99,174.24 589.19,174.09" fill="#111111"/><polygon points="602.85,173.41 603.36,174.5 604.56,174.65 603.68,175.47 603.91,176.66 602.85,176.07 601.79,176.66 602.02,175.47 601.14,174.65 602.34,174.5" fill="#111111"/><polygon points="616,173.61 616.51,174.7 617.71,174.85 616.83,175.68 617.06,176.86 616,176.28 614.94,176.86 615.17,175.68 614.29,174.85 615.49,174.7" fill="#111111"/><polygon points="629.15,173.61 629.66,174.7 630.86,174.85 629.98,175.68 630.21,176.86 629.15,176.28 628.09,176.86 628.32,175.68 627.44,174.85 628.64,174.7" fill="#111111"/><polygon points="642.3,173.41 642.81,174.5 644.01,174.65 643.13,175.47 643.36,176.66 642.3,176.07 641.24,176.66 641.47,175.47 640.59,174.65 641.79,174.5" fill="#111111"/><polygon points="655.45,173.2 655.96,174.29 657.16,174.44 656.28,175.27 656.51,176.45 655.45,175.87 654.39,176.45 654.62,175.27 653.74,174.44 654.94,174.29" fill="#111111"/><polyline points="510.8,157.74 523.95,163.08 537.1,166.98 550.25,169.86 563.4,172.12 576.55,173.97 589.7,175.61 602.85,177.05 616,178.29 629.15,179.11 642.3,179.72 655.45,180.34" fill="none" stroke="#f02222" stroke-width="1.15" stroke-dasharray="2.6,1.3,0.9,1.3"/><polygon points="510.8,155.94 511.31,157.03 512.51,157.18 511.63,158 511.86,159.19 510.8,158.61 509.74,159.19 509.97,158 509.09,157.18 510.29,157.03" fill="#f02222"/><polygon points="523.95,161.28 524.46,162.37 525.66,162.52 524.78,163.35 525.01,164.53 523.95,163.95 522.89,164.53 523.12,163.35 522.24,162.52 523.44,162.37" fill="#f02222"/><polygon points="537.1,165.19 537.61,166.28 538.81,166.43 537.93,167.25 538.16,168.44 537.1,167.85 536.04,168.44 536.27,167.25 535.39,166.43 536.59,166.28" fill="#f02222"/><polygon points="550.25,168.06 550.76,169.16 551.96,169.3 551.08,170.13 551.31,171.31 550.25,170.73 549.19,171.31 549.42,170.13 548.54,169.3 549.74,169.16" fill="#f02222"/><polygon points="563.4,170.32 563.91,171.42 565.11,171.56 564.23,172.39 564.46,173.58 563.4,172.99 562.34,173.58 562.57,172.39 561.69,171.56 562.89,171.42" fill="#f02222"/><polygon points="576.55,172.17 577.06,173.27 578.26,173.41 577.38,174.24 577.61,175.42 576.55,174.84 575.49,175.42 575.72,174.24 574.84,173.41 576.04,173.27" fill="#f02222"/><polygon points="589.7,173.82 590.21,174.91 591.41,175.06 590.53,175.88 590.76,177.07 589.7,176.48 588.64,177.07 588.87,175.88 587.99,175.06 589.19,174.91" fill="#f02222"/><polygon points="602.85,175.25 603.36,176.35 604.56,176.5 603.68,177.32 603.91,178.51 602.85,177.92 601.79,178.51 602.02,177.32 601.14,176.5 602.34,176.35" fill="#f02222"/><polygon points="616,176.49 616.51,177.58 617.71,177.73 616.83,178.55 617.06,179.74 616,179.16 614.94,179.74 615.17,178.55 614.29,177.73 615.49,177.58" fill="#f02222"/><polygon points="629.15,177.31 629.66,178.4 630.86,178.55 629.98,179.38 630.21,180.56 629.15,179.98 628.09,180.56 628.32,179.38 627.44,178.55 628.64,178.4" fill="#f02222"/><polygon points="642.3,177.93 642.81,179.02 644.01,179.17 643.13,179.99 643.36,181.18 642.3,180.59 641.24,181.18 641.47,179.99 640.59,179.17 641.79,179.02" fill="#f02222"/><polygon points="655.45,178.54 655.96,179.64 657.16,179.78 656.28,180.61 656.51,181.8 655.45,181.21 654.39,181.8 654.62,180.61 653.74,179.78 654.94,179.64" fill="#f02222"/><polyline points="510.8,164.52 523.95,167.81 537.1,171.09 550.25,173.97 563.4,176.23 576.55,178.29 589.7,179.93 602.85,180.96 616,181.78 629.15,182.6 642.3,183.42 655.45,184.25" fill="none" stroke="#1e1ef0" stroke-width="1.15" stroke-dasharray="2.6,1.3,0.9,1.3"/><polygon points="510.8,162.72 511.31,163.81 512.51,163.96 511.63,164.79 511.86,165.97 510.8,165.39 509.74,165.97 509.97,164.79 509.09,163.96 510.29,163.81" fill="#1e1ef0"/><polygon points="523.95,166.01 524.46,167.1 525.66,167.25 524.78,168.07 525.01,169.26 523.95,168.68 522.89,169.26 523.12,168.07 522.24,167.25 523.44,167.1" fill="#1e1ef0"/><polygon points="537.1,169.3 537.61,170.39 538.81,170.54 537.93,171.36 538.16,172.55 537.1,171.96 536.04,172.55 536.27,171.36 535.39,170.54 536.59,170.39" fill="#1e1ef0"/><polygon points="550.25,172.17 550.76,173.27 551.96,173.41 551.08,174.24 551.31,175.42 550.25,174.84 549.19,175.42 549.42,174.24 548.54,173.41 549.74,173.27" fill="#1e1ef0"/><polygon points="563.4,174.43 563.91,175.53 565.11,175.67 564.23,176.5 564.46,177.69 563.4,177.1 562.34,177.69 562.57,176.5 561.69,175.67 562.89,175.53" fill="#1e1ef0"/><polygon points="576.55,176.49 577.06,177.58 578.26,177.73 577.38,178.55 577.61,179.74 576.55,179.16 575.49,179.74 575.72,178.55 574.84,177.73 576.04,177.58" fill="#1e1ef0"/><polygon points="589.7,178.13 590.21,179.23 591.41,179.37 590.53,180.2 590.76,181.38 589.7,180.8 588.64,181.38 588.87,180.2 587.99,179.37 589.19,179.23" fill="#1e1ef0"/><polygon points="602.85,179.16 603.36,180.25 604.56,180.4 603.68,181.23 603.91,182.41 602.85,181.83 601.79,182.41 602.02,181.23 601.14,180.4 602.34,180.25" fill="#1e1ef0"/><polygon points="616,179.98 616.51,181.08 617.71,181.22 616.83,182.05 617.06,183.23 616,182.65 614.94,183.23 615.17,182.05 614.29,181.22 615.49,181.08" fill="#1e1ef0"/><polygon points="629.15,180.8 629.66,181.9 630.86,182.05 629.98,182.87 630.21,184.06 629.15,183.47 628.09,184.06 628.32,182.87 627.44,182.05 628.64,181.9" fill="#1e1ef0"/><polygon points="642.3,181.62 642.81,182.72 644.01,182.87 643.13,183.69 643.36,184.88 642.3,184.29 641.24,184.88 641.47,183.69 640.59,182.87 641.79,182.72" fill="#1e1ef0"/><polygon points="655.45,182.45 655.96,183.54 657.16,183.69 656.28,184.51 656.51,185.7 655.45,185.12 654.39,185.7 654.62,184.51 653.74,183.69 654.94,183.54" fill="#1e1ef0"/><polyline points="510.8,35.75 523.95,57.9 537.1,73.05 550.25,84.12 563.4,92.56 576.55,99.24 589.7,104.66 602.85,109.15 616,112.94 629.15,116.17 642.3,118.97 655.45,121.43" fill="none" stroke="#444" stroke-width="0.6" stroke-dasharray="0.8,0.9"/><polyline points="510.8,55.64 523.95,75.15 537.1,88.38 550.25,97.96 563.4,105.23 576.55,110.94 589.7,115.55 602.85,119.35 616,122.55 629.15,125.27 642.3,127.61 655.45,129.66" fill="none" stroke="#f44" stroke-width="0.6" stroke-dasharray="0.8,0.9"/><polyline points="510.8,71.24 523.95,87.9 537.1,99.18 550.25,107.35 563.4,113.55 576.55,118.42 589.7,122.34 602.85,125.58 616,128.3 629.15,130.62 642.3,132.62 655.45,134.36" fill="none" stroke="#44f" stroke-width="0.6" stroke-dasharray="0.8,0.9"/><polyline points="510.8,49.52 513.21,53.53 515.62,57.25 518.03,60.68 520.44,63.88 522.85,66.85 525.26,69.63 527.68,72.24 530.09,74.69 532.5,76.99 534.91,79.16 537.32,81.2 539.73,83.14 542.14,84.98 544.55,86.72 546.96,88.38 549.37,89.95 551.78,91.45 554.2,92.89 556.61,94.26 559.02,95.57 561.43,96.82 563.84,98.02 566.25,99.17 568.66,100.28 571.07,101.35 573.48,102.37 575.89,103.35 578.3,104.3 580.71,105.22 583.12,106.1 585.54,106.95 587.95,107.78 590.36,108.57 592.77,109.34 595.18,110.09 597.59,110.81 600,111.51 602.41,112.19 604.82,112.84 607.23,113.48 609.64,114.1 612.05,114.7 614.47,115.29 616.88,115.86 619.29,116.41 621.7,116.95 624.11,117.48 626.52,117.99 628.93,118.48 631.34,118.97 633.75,119.44 636.16,119.9 638.57,120.35 640.99,120.79 643.4,121.22 645.81,121.64 648.22,122.05 650.63,122.45 653.04,122.84 655.45,123.22" fill="none" stroke="#111111" stroke-width="1.1"/><polyline points="510.8,67.57 513.21,71.03 515.62,74.22 518.03,77.18 520.44,79.92 522.85,82.47 525.26,84.85 527.68,87.08 530.09,89.18 532.5,91.14 534.91,93 537.32,94.75 539.73,96.4 542.14,97.96 544.55,99.45 546.96,100.86 549.37,102.2 551.78,103.48 554.2,104.69 556.61,105.86 559.02,106.97 561.43,108.03 563.84,109.05 566.25,110.03 568.66,110.97 571.07,111.87 573.48,112.73 575.89,113.57 578.3,114.37 580.71,115.14 583.12,115.89 585.54,116.61 587.95,117.3 590.36,117.97 592.77,118.62 595.18,119.25 597.59,119.86 600,120.45 602.41,121.02 604.82,121.57 607.23,122.11 609.64,122.63 612.05,123.14 614.47,123.63 616.88,124.11 619.29,124.57 621.7,125.02 624.11,125.46 626.52,125.89 628.93,126.31 631.34,126.71 633.75,127.11 636.16,127.5 638.57,127.87 640.99,128.24 643.4,128.6 645.81,128.95 648.22,129.29 650.63,129.63 653.04,129.95 655.45,130.27" fill="none" stroke="#f02222" stroke-width="1.1"/><polyline points="510.8,80.12 513.21,83.2 515.62,86.04 518.03,88.67 520.44,91.11 522.85,93.38 525.26,95.49 527.68,97.47 530.09,99.32 532.5,101.06 534.91,102.7 537.32,104.24 539.73,105.7 542.14,107.08 544.55,108.39 546.96,109.63 549.37,110.81 551.78,111.93 554.2,113.01 556.61,114.03 559.02,115 561.43,115.94 563.84,116.83 566.25,117.68 568.66,118.5 571.07,119.29 573.48,120.05 575.89,120.78 578.3,121.48 580.71,122.15 583.12,122.8 585.54,123.43 587.95,124.04 590.36,124.62 592.77,125.19 595.18,125.74 597.59,126.26 600,126.78 602.41,127.27 604.82,127.75 607.23,128.22 609.64,128.67 612.05,129.11 614.47,129.54 616.88,129.95 619.29,130.36 621.7,130.75 624.11,131.13 626.52,131.5 628.93,131.86 631.34,132.21 633.75,132.56 636.16,132.89 638.57,133.21 640.99,133.53 643.4,133.84 645.81,134.14 648.22,134.44 650.63,134.73 653.04,135.01 655.45,135.29" fill="none" stroke="#1e1ef0" stroke-width="1.1"/><circle cx="510.8" cy="35.75" r="1.4" fill="#111111"/><circle cx="523.95" cy="57.9" r="1.4" fill="#111111"/><circle cx="537.1" cy="73.05" r="1.4" fill="#111111"/><circle cx="550.25" cy="84.12" r="1.4" fill="#111111"/><circle cx="563.4" cy="92.56" r="1.4" fill="#111111"/><circle cx="576.55" cy="99.24" r="1.4" fill="#111111"/><circle cx="589.7" cy="104.66" r="1.4" fill="#111111"/><circle cx="602.85" cy="109.15" r="1.4" fill="#111111"/><circle cx="616" cy="112.94" r="1.4" fill="#111111"/><circle cx="629.15" cy="116.17" r="1.4" fill="#111111"/><circle cx="642.3" cy="118.97" r="1.4" fill="#111111"/><circle cx="655.45" cy="121.43" r="1.4" fill="#111111"/><circle cx="510.8" cy="55.64" r="1.4" fill="#f02222"/><circle cx="523.95" cy="75.15" r="1.4" fill="#f02222"/><circle cx="537.1" cy="88.38" r="1.4" fill="#f02222"/><circle cx="550.25" cy="97.96" r="1.4" fill="#f02222"/><circle cx="563.4" cy="105.23" r="1.4" fill="#f02222"/><circle cx="576.55" cy="110.94" r="1.4" fill="#f02222"/><circle cx="589.7" cy="115.55" r="1.4" fill="#f02222"/><circle cx="602.85" cy="119.35" r="1.4" fill="#f02222"/><circle cx="616" cy="122.55" r="1.4" fill="#f02222"/><circle cx="629.15" cy="125.27" r="1.4" fill="#f02222"/><circle cx="642.3" cy="127.61" r="1.4" fill="#f02222"/><circle cx="655.45" cy="129.66" r="1.4" fill="#f02222"/><polygon points="510.8,69.56 509.12,72.5 512.48,72.5" fill="#1e1ef0"/><polygon points="523.95,86.22 522.27,89.16 525.63,89.16" fill="#1e1ef0"/><polygon points="537.1,97.5 535.42,100.44 538.78,100.44" fill="#1e1ef0"/><polygon points="550.25,105.67 548.57,108.61 551.93,108.61" fill="#1e1ef0"/><polygon points="563.4,111.87 561.72,114.81 565.08,114.81" fill="#1e1ef0"/><polygon points="576.55,116.74 574.87,119.68 578.23,119.68" fill="#1e1ef0"/><polygon points="589.7,120.66 588.02,123.6 591.38,123.6" fill="#1e1ef0"/><polygon points="602.85,123.9 601.17,126.84 604.53,126.84" fill="#1e1ef0"/><polygon points="616,126.62 614.32,129.56 617.68,129.56" fill="#1e1ef0"/><polygon points="629.15,128.94 627.47,131.88 630.83,131.88" fill="#1e1ef0"/><polygon points="642.3,130.94 640.62,133.88 643.98,133.88" fill="#1e1ef0"/><polygon points="655.45,132.68 653.77,135.62 657.13,135.62" fill="#1e1ef0"/><rect x="506.7" y="155" width="154.3" height="36.7" fill="#e776fc" fill-opacity="0.38"/><line x1="506.7" y1="23.6" x2="661" y2="23.6" stroke="#ff38ff" stroke-width="1"/><line x1="661" y1="23.6" x2="661" y2="191.6" stroke="#ff38ff" stroke-width="1"/><line x1="506.7" y1="191.5" x2="508.7" y2="191.5" stroke="#262626" stroke-width="0.8"/><text x="502.9" y="194.4" font-size="8" text-anchor="end" fill="#222" stroke="#222" stroke-width="0.1">-1</text><line x1="506.7" y1="160.9" x2="508.7" y2="160.9" stroke="#262626" stroke-width="0.8"/><text x="502.9" y="163.8" font-size="8" text-anchor="end" fill="#222" stroke="#222" stroke-width="0.1">0</text><line x1="506.7" y1="130.3" x2="508.7" y2="130.3" stroke="#262626" stroke-width="0.8"/><text x="502.9" y="133.2" font-size="8" text-anchor="end" fill="#222" stroke="#222" stroke-width="0.1">1</text><line x1="506.7" y1="99.7" x2="508.7" y2="99.7" stroke="#262626" stroke-width="0.8"/><text x="502.9" y="102.6" font-size="8" text-anchor="end" fill="#222" stroke="#222" stroke-width="0.1">2</text><line x1="506.7" y1="69.1" x2="508.7" y2="69.1" stroke="#262626" stroke-width="0.8"/><text x="502.9" y="72" font-size="8" text-anchor="end" fill="#222" stroke="#222" stroke-width="0.1">3</text><line x1="506.7" y1="38.5" x2="508.7" y2="38.5" stroke="#262626" stroke-width="0.8"/><text x="502.9" y="41.4" font-size="8" text-anchor="end" fill="#222" stroke="#222" stroke-width="0.1">4</text><line x1="510.8" y1="191.1" x2="510.8" y2="189.1" stroke="#262626" stroke-width="0.8"/><text x="510.8" y="199.6" font-size="7.6" text-anchor="middle" fill="#222" stroke="#222" stroke-width="0.1">0.2</text><line x1="537.1" y1="191.1" x2="537.1" y2="189.1" stroke="#262626" stroke-width="0.8"/><text x="537.1" y="199.6" font-size="7.6" text-anchor="middle" fill="#222" stroke="#222" stroke-width="0.1">0.3</text><line x1="563.4" y1="191.1" x2="563.4" y2="189.1" stroke="#262626" stroke-width="0.8"/><text x="563.4" y="199.6" font-size="7.6" text-anchor="middle" fill="#222" stroke="#222" stroke-width="0.1">0.4</text><line x1="589.7" y1="191.1" x2="589.7" y2="189.1" stroke="#262626" stroke-width="0.8"/><text x="589.7" y="199.6" font-size="7.6" text-anchor="middle" fill="#222" stroke="#222" stroke-width="0.1">0.5</text><line x1="616" y1="191.1" x2="616" y2="189.1" stroke="#262626" stroke-width="0.8"/><text x="616" y="199.6" font-size="7.6" text-anchor="middle" fill="#222" stroke="#222" stroke-width="0.1">0.6</text><line x1="642.3" y1="191.1" x2="642.3" y2="189.1" stroke="#262626" stroke-width="0.8"/><text x="642.3" y="199.6" font-size="7.6" text-anchor="middle" fill="#222" stroke="#222" stroke-width="0.1">0.7</text><line x1="661" y1="186.3" x2="658.4" y2="186.3" stroke="#ff38ff" stroke-width="0.9"/><text x="663.8" y="189.2" font-size="8.1" text-anchor="start" fill="#f040f0" stroke="#f040f0" stroke-width="0.1">0</text><line x1="661" y1="145.2" x2="658.4" y2="145.2" stroke="#ff38ff" stroke-width="0.9"/><text x="663.8" y="148.1" font-size="8.1" text-anchor="start" fill="#f040f0" stroke="#f040f0" stroke-width="0.1">20</text><line x1="661" y1="104.1" x2="658.4" y2="104.1" stroke="#ff38ff" stroke-width="0.9"/><text x="663.8" y="107" font-size="8.1" text-anchor="start" fill="#f040f0" stroke="#f040f0" stroke-width="0.1">40</text><line x1="661" y1="63" x2="658.4" y2="63" stroke="#ff38ff" stroke-width="0.9"/><text x="663.8" y="65.9" font-size="8.1" text-anchor="start" fill="#f040f0" stroke="#f040f0" stroke-width="0.1">60</text><text x="490" y="31.2" font-size="7.2" text-anchor="start" fill="#222" stroke="#222" stroke-width="0.1">x10<tspan font-size="4.5" dy="-3">3</tspan></text><text x="582.7" y="210.2" font-size="9" text-anchor="middle" fill="#222" stroke="#222" stroke-width="0.1">Corneal elastic modulus (MPa)</text><text x="491.6" y="111.4" font-size="9" text-anchor="middle" fill="#222" stroke="#222" stroke-width="0.1" transform="rotate(-90 491.6 111.4)">Sensitivity (ppm/mmHg)</text><text x="681.5" y="113" font-size="9" text-anchor="middle" fill="#f040f0" stroke="#f040f0" stroke-width="0.1" transform="rotate(-90 681.5 113)">Relative error (100%)</text><text x="538.2" y="34.6" font-size="6.6" text-anchor="start" fill="#222" stroke="#222" stroke-width="0.1" font-style="italic" textLength="33.5" lengthAdjust="spacingAndGlyphs">h<tspan font-size="4.5" dy="1.5">1</tspan><tspan dy="-1.5"> = 0.4 mm</tspan></text><line x1="578.3" y1="32.2" x2="592.2" y2="32.2" stroke="#111111" stroke-width="1.1"/><line x1="605.4" y1="32.2" x2="623.2" y2="32.2" stroke="#444" stroke-width="0.6" stroke-dasharray="0.8,0.9"/><circle cx="614.6" cy="32.2" r="1.3" fill="#111111"/><line x1="636.8" y1="32.2" x2="652.4" y2="32.2" stroke="#111111" stroke-width="1.15" stroke-dasharray="2.6,1.6"/><polygon points="644.6,30.22 645.16,31.42 646.49,31.59 645.51,32.5 645.77,33.81 644.6,33.16 643.43,33.81 643.69,32.5 642.71,31.59 644.04,31.42" fill="#111111"/><text x="538.2" y="44.7" font-size="6.6" text-anchor="start" fill="#222" stroke="#222" stroke-width="0.1" font-style="italic" textLength="33.5" lengthAdjust="spacingAndGlyphs">h<tspan font-size="4.5" dy="1.5">1</tspan><tspan dy="-1.5"> = 0.5 mm</tspan></text><line x1="578.3" y1="42.3" x2="592.2" y2="42.3" stroke="#f02222" stroke-width="1.1"/><line x1="605.4" y1="42.3" x2="623.2" y2="42.3" stroke="#f55" stroke-width="0.6" stroke-dasharray="0.8,0.9"/><circle cx="614.6" cy="42.3" r="1.3" fill="#f02222"/><line x1="636.8" y1="42.3" x2="652.4" y2="42.3" stroke="#f02222" stroke-width="1.15" stroke-dasharray="2.6,1.6"/><polygon points="644.6,40.32 645.16,41.52 646.49,41.69 645.51,42.6 645.77,43.91 644.6,43.26 643.43,43.91 643.69,42.6 642.71,41.69 644.04,41.52" fill="#f02222"/><text x="538.2" y="54.6" font-size="6.6" text-anchor="start" fill="#222" stroke="#222" stroke-width="0.1" font-style="italic" textLength="33.5" lengthAdjust="spacingAndGlyphs">h<tspan font-size="4.5" dy="1.5">1</tspan><tspan dy="-1.5"> = 0.6 mm</tspan></text><line x1="578.3" y1="52.2" x2="592.2" y2="52.2" stroke="#1e1ef0" stroke-width="1.1"/><line x1="605.4" y1="52.2" x2="623.2" y2="52.2" stroke="#55f" stroke-width="0.6" stroke-dasharray="0.8,0.9"/><polygon points="614.6,50.64 613.04,53.37 616.16,53.37" fill="#1e1ef0"/><line x1="636.8" y1="52.2" x2="652.4" y2="52.2" stroke="#1e1ef0" stroke-width="1.15" stroke-dasharray="2.6,1.6"/><polygon points="644.6,50.22 645.16,51.42 646.49,51.59 645.51,52.5 645.77,53.81 644.6,53.16 643.43,53.81 643.69,52.5 642.71,51.59 644.04,51.42" fill="#1e1ef0"/><text x="584.5" y="63.8" font-size="6.8" text-anchor="middle" fill="#222" stroke="#222" stroke-width="0.1">Analytical</text><text x="615.5" y="63.8" font-size="6.8" text-anchor="middle" fill="#222" stroke="#222" stroke-width="0.1">FEM</text><text x="645" y="63.8" font-size="6.8" text-anchor="middle" fill="#222" stroke="#222" stroke-width="0.1">Error</text><line x1="507.7" y1="257" x2="507.7" y2="422.6" stroke="#262626" stroke-width="1.1"/><line x1="507.2" y1="422.1" x2="660.5" y2="422.1" stroke="#262626" stroke-width="1.1"/><polyline points="516.06,388.12 524.64,399.56 533.22,405.38 541.8,409 556.1,409 570.4,405.38 584.7,402.97 599,401.17 613.3,399.76 627.6,398.36 641.9,397.36 656.2,396.55" fill="none" stroke="#111111" stroke-width="1.15" stroke-dasharray="2.6,1.3,0.9,1.3"/><polygon points="516.06,386.32 516.57,387.42 517.77,387.57 516.89,388.39 517.12,389.58 516.06,388.99 515,389.58 515.23,388.39 514.35,387.57 515.55,387.42" fill="#111111"/><polygon points="524.64,397.76 525.15,398.86 526.35,399.01 525.47,399.83 525.7,401.02 524.64,400.43 523.58,401.02 523.81,399.83 522.93,399.01 524.13,398.86" fill="#111111"/><polygon points="533.22,403.59 533.73,404.68 534.93,404.83 534.05,405.65 534.28,406.84 533.22,406.25 532.16,406.84 532.39,405.65 531.51,404.83 532.71,404.68" fill="#111111"/><polygon points="541.8,407.2 542.31,408.29 543.51,408.44 542.63,409.26 542.86,410.45 541.8,409.87 540.74,410.45 540.97,409.26 540.09,408.44 541.29,408.29" fill="#111111"/><polygon points="556.1,407.2 556.61,408.29 557.81,408.44 556.93,409.26 557.16,410.45 556.1,409.87 555.04,410.45 555.27,409.26 554.39,408.44 555.59,408.29" fill="#111111"/><polygon points="570.4,403.59 570.91,404.68 572.11,404.83 571.23,405.65 571.46,406.84 570.4,406.25 569.34,406.84 569.57,405.65 568.69,404.83 569.89,404.68" fill="#111111"/><polygon points="584.7,401.18 585.21,402.27 586.41,402.42 585.53,403.24 585.76,404.43 584.7,403.84 583.64,404.43 583.87,403.24 582.99,402.42 584.19,402.27" fill="#111111"/><polygon points="599,399.37 599.51,400.46 600.71,400.61 599.83,401.44 600.06,402.62 599,402.04 597.94,402.62 598.17,401.44 597.29,400.61 598.49,400.46" fill="#111111"/><polygon points="613.3,397.97 613.81,399.06 615.01,399.21 614.13,400.03 614.36,401.22 613.3,400.63 612.24,401.22 612.47,400.03 611.59,399.21 612.79,399.06" fill="#111111"/><polygon points="627.6,396.56 628.11,397.65 629.31,397.8 628.43,398.63 628.66,399.81 627.6,399.23 626.54,399.81 626.77,398.63 625.89,397.8 627.09,397.65" fill="#111111"/><polygon points="641.9,395.56 642.41,396.65 643.61,396.8 642.73,397.62 642.96,398.81 641.9,398.23 640.84,398.81 641.07,397.62 640.19,396.8 641.39,396.65" fill="#111111"/><polygon points="656.2,394.75 656.71,395.85 657.91,396 657.03,396.82 657.26,398.01 656.2,397.42 655.14,398.01 655.37,396.82 654.49,396 655.69,395.85" fill="#111111"/><polyline points="516.06,387.52 524.64,396.55 533.22,402.57 541.8,405.38 556.1,409 570.4,407.79 584.7,406.59 599,404.98 613.3,403.58 627.6,401.77 641.9,400.77 656.2,399.96" fill="none" stroke="#f02222" stroke-width="1.15" stroke-dasharray="2.6,1.3,0.9,1.3"/><polygon points="516.06,385.72 516.57,386.82 517.77,386.97 516.89,387.79 517.12,388.98 516.06,388.39 515,388.98 515.23,387.79 514.35,386.97 515.55,386.82" fill="#f02222"/><polygon points="524.64,394.75 525.15,395.85 526.35,396 525.47,396.82 525.7,398.01 524.64,397.42 523.58,398.01 523.81,396.82 522.93,396 524.13,395.85" fill="#f02222"/><polygon points="533.22,400.78 533.73,401.87 534.93,402.02 534.05,402.84 534.28,404.03 533.22,403.44 532.16,404.03 532.39,402.84 531.51,402.02 532.71,401.87" fill="#f02222"/><polygon points="541.8,403.59 542.31,404.68 543.51,404.83 542.63,405.65 542.86,406.84 541.8,406.25 540.74,406.84 540.97,405.65 540.09,404.83 541.29,404.68" fill="#f02222"/><polygon points="556.1,407.2 556.61,408.29 557.81,408.44 556.93,409.26 557.16,410.45 556.1,409.87 555.04,410.45 555.27,409.26 554.39,408.44 555.59,408.29" fill="#f02222"/><polygon points="570.4,405.99 570.91,407.09 572.11,407.24 571.23,408.06 571.46,409.25 570.4,408.66 569.34,409.25 569.57,408.06 568.69,407.24 569.89,407.09" fill="#f02222"/><polygon points="584.7,404.79 585.21,405.88 586.41,406.03 585.53,406.86 585.76,408.04 584.7,407.46 583.64,408.04 583.87,406.86 582.99,406.03 584.19,405.88" fill="#f02222"/><polygon points="599,403.18 599.51,404.28 600.71,404.43 599.83,405.25 600.06,406.44 599,405.85 597.94,406.44 598.17,405.25 597.29,404.43 598.49,404.28" fill="#f02222"/><polygon points="613.3,401.78 613.81,402.87 615.01,403.02 614.13,403.85 614.36,405.03 613.3,404.45 612.24,405.03 612.47,403.85 611.59,403.02 612.79,402.87" fill="#f02222"/><polygon points="627.6,399.97 628.11,401.07 629.31,401.21 628.43,402.04 628.66,403.23 627.6,402.64 626.54,403.23 626.77,402.04 625.89,401.21 627.09,401.07" fill="#f02222"/><polygon points="641.9,398.97 642.41,400.06 643.61,400.21 642.73,401.04 642.96,402.22 641.9,401.64 640.84,402.22 641.07,401.04 640.19,400.21 641.39,400.06" fill="#f02222"/><polygon points="656.2,398.17 656.71,399.26 657.91,399.41 657.03,400.23 657.26,401.42 656.2,400.83 655.14,401.42 655.37,400.23 654.49,399.41 655.69,399.26" fill="#f02222"/><polyline points="516.06,386.92 524.64,394.75 533.22,399.56 541.8,402.97 556.1,407.79 570.4,410 584.7,409.6 599,407.79 613.3,405.78 627.6,404.38 641.9,402.97 656.2,402.17" fill="none" stroke="#1e1ef0" stroke-width="1.15" stroke-dasharray="2.6,1.3,0.9,1.3"/><polygon points="516.06,385.12 516.57,386.21 517.77,386.36 516.89,387.19 517.12,388.37 516.06,387.79 515,388.37 515.23,387.19 514.35,386.36 515.55,386.21" fill="#1e1ef0"/><polygon points="524.64,392.95 525.15,394.04 526.35,394.19 525.47,395.01 525.7,396.2 524.64,395.62 523.58,396.2 523.81,395.01 522.93,394.19 524.13,394.04" fill="#1e1ef0"/><polygon points="533.22,397.76 533.73,398.86 534.93,399.01 534.05,399.83 534.28,401.02 533.22,400.43 532.16,401.02 532.39,399.83 531.51,399.01 532.71,398.86" fill="#1e1ef0"/><polygon points="541.8,401.18 542.31,402.27 543.51,402.42 542.63,403.24 542.86,404.43 541.8,403.84 540.74,404.43 540.97,403.24 540.09,402.42 541.29,402.27" fill="#1e1ef0"/><polygon points="556.1,405.99 556.61,407.09 557.81,407.24 556.93,408.06 557.16,409.25 556.1,408.66 555.04,409.25 555.27,408.06 554.39,407.24 555.59,407.09" fill="#1e1ef0"/><polygon points="570.4,408.2 570.91,409.3 572.11,409.44 571.23,410.27 571.46,411.45 570.4,410.87 569.34,411.45 569.57,410.27 568.69,409.44 569.89,409.3" fill="#1e1ef0"/><polygon points="584.7,407.8 585.21,408.89 586.41,409.04 585.53,409.87 585.76,411.05 584.7,410.47 583.64,411.05 583.87,409.87 582.99,409.04 584.19,408.89" fill="#1e1ef0"/><polygon points="599,405.99 599.51,407.09 600.71,407.24 599.83,408.06 600.06,409.25 599,408.66 597.94,409.25 598.17,408.06 597.29,407.24 598.49,407.09" fill="#1e1ef0"/><polygon points="613.3,403.99 613.81,405.08 615.01,405.23 614.13,406.05 614.36,407.24 613.3,406.65 612.24,407.24 612.47,406.05 611.59,405.23 612.79,405.08" fill="#1e1ef0"/><polygon points="627.6,402.58 628.11,403.68 629.31,403.82 628.43,404.65 628.66,405.83 627.6,405.25 626.54,405.83 626.77,404.65 625.89,403.82 627.09,403.68" fill="#1e1ef0"/><polygon points="641.9,401.18 642.41,402.27 643.61,402.42 642.73,403.24 642.96,404.43 641.9,403.84 640.84,404.43 641.07,403.24 640.19,402.42 641.39,402.27" fill="#1e1ef0"/><polygon points="656.2,400.37 656.71,401.47 657.91,401.62 657.03,402.44 657.26,403.63 656.2,403.04 655.14,403.63 655.37,402.44 654.49,401.62 655.69,401.47" fill="#1e1ef0"/><polyline points="516.06,345.72 524.64,317.9 533.22,311.78 541.8,309.18 556.1,306.95 570.4,306.02 584.7,305.47 599,305.1 613.3,304.73 627.6,304.54 641.9,304.36 656.2,304.17" fill="none" stroke="#444" stroke-width="0.6" stroke-dasharray="0.8,0.9"/><polyline points="516.06,357.22 524.64,323.65 533.22,315.67 541.8,311.96 556.1,308.07 570.4,306.58 584.7,305.84 599,305.28 613.3,304.91 627.6,304.54 641.9,304.36 656.2,304.17" fill="none" stroke="#f44" stroke-width="0.6" stroke-dasharray="0.8,0.9"/><polyline points="516.06,364.46 524.64,328.84 533.22,318.82 541.8,314.19 556.1,310.29 570.4,308.07 584.7,306.77 599,305.84 613.3,305.28 627.6,304.73 641.9,304.36 656.2,304.17" fill="none" stroke="#44f" stroke-width="0.6" stroke-dasharray="0.8,0.9"/><polyline points="516.06,309.92 517.23,303.71 518.4,300.94 519.56,299.98 520.73,299.61 521.9,299.51 523.07,299.58 524.23,299.79 525.4,300.09 526.57,300.41 527.74,300.7 528.91,300.98 530.07,301.27 531.24,301.58 532.41,301.9 533.58,302.22 534.75,302.55 535.91,302.89 537.08,303.22 538.25,303.56 539.42,303.89 540.58,304.21 541.75,304.53 542.92,304.84 544.09,305.15 545.26,305.45 546.42,305.75 547.59,306.06 548.76,306.36 549.93,306.66 551.1,306.96 552.26,307.26 553.43,307.56 554.6,307.86 555.77,308.16 556.93,308.47 558.1,308.78 559.27,309.09 560.44,309.4 561.61,309.72 562.77,310.03 563.94,310.34 565.11,310.65 566.28,310.95 567.44,311.25 568.61,311.54 569.78,311.82 570.95,312.09 572.12,312.35 573.28,312.61 574.45,312.87 575.62,313.12 576.79,313.37 577.96,313.62 579.12,313.86 580.29,314.1 581.46,314.34 582.63,314.58 583.79,314.81 584.96,315.04 586.13,315.27 587.3,315.49 588.47,315.72 589.63,315.94 590.8,316.17 591.97,316.39 593.14,316.61 594.3,316.83 595.47,317.05 596.64,317.27 597.81,317.49 598.98,317.71 600.14,317.93 601.31,318.15 602.48,318.36 603.65,318.58 604.82,318.8 605.98,319.01 607.15,319.23 608.32,319.44 609.49,319.65 610.65,319.86 611.82,320.07 612.99,320.28 614.16,320.48 615.33,320.69 616.49,320.89 617.66,321.09 618.83,321.29 620,321.49 621.17,321.68 622.33,321.88 623.5,322.07 624.67,322.26 625.84,322.44 627,322.63 628.17,322.81 629.34,322.99 630.51,323.16 631.68,323.33 632.84,323.5 634.01,323.67 635.18,323.83 636.35,323.99 637.51,324.15 638.68,324.31 639.85,324.47 641.02,324.62 642.19,324.77 643.35,324.93 644.52,325.08 645.69,325.23 646.86,325.38 648.03,325.53 649.19,325.69 650.36,325.84 651.53,325.99 652.7,326.15 653.86,326.3 655.03,326.46 656.2,326.62" fill="none" stroke="#111111" stroke-width="1.1"/><polyline points="516.06,319.38 517.23,311.2 518.4,306.39 519.56,303.79 520.73,302.16 521.9,301.11 523.07,300.39 524.23,299.95 525.4,299.72 526.57,299.62 527.74,299.55 528.91,299.49 530.07,299.49 531.24,299.54 532.41,299.63 533.58,299.77 534.75,299.94 535.91,300.13 537.08,300.34 538.25,300.56 539.42,300.78 540.58,301 541.75,301.19 542.92,301.39 544.09,301.58 545.26,301.78 546.42,301.99 547.59,302.2 548.76,302.42 549.93,302.64 551.1,302.86 552.26,303.09 553.43,303.32 554.6,303.56 555.77,303.8 556.93,304.04 558.1,304.28 559.27,304.53 560.44,304.78 561.61,305.03 562.77,305.28 563.94,305.53 565.11,305.79 566.28,306.04 567.44,306.3 568.61,306.56 569.78,306.82 570.95,307.07 572.12,307.34 573.28,307.61 574.45,307.88 575.62,308.16 576.79,308.45 577.96,308.74 579.12,309.03 580.29,309.32 581.46,309.62 582.63,309.92 583.79,310.21 584.96,310.51 586.13,310.8 587.3,311.1 588.47,311.39 589.63,311.68 590.8,311.96 591.97,312.25 593.14,312.52 594.3,312.79 595.47,313.06 596.64,313.32 597.81,313.57 598.98,313.81 600.14,314.05 601.31,314.28 602.48,314.51 603.65,314.73 604.82,314.95 605.98,315.17 607.15,315.38 608.32,315.59 609.49,315.79 610.65,315.99 611.82,316.19 612.99,316.38 614.16,316.58 615.33,316.77 616.49,316.95 617.66,317.14 618.83,317.32 620,317.5 621.17,317.68 622.33,317.86 623.5,318.03 624.67,318.21 625.84,318.38 627,318.55 628.17,318.72 629.34,318.89 630.51,319.05 631.68,319.21 632.84,319.36 634.01,319.52 635.18,319.67 636.35,319.81 637.51,319.96 638.68,320.1 639.85,320.24 641.02,320.38 642.19,320.52 643.35,320.65 644.52,320.79 645.69,320.92 646.86,321.06 648.03,321.19 649.19,321.33 650.36,321.47 651.53,321.6 652.7,321.74 653.86,321.88 655.03,322.02 656.2,322.16" fill="none" stroke="#f02222" stroke-width="1.1"/><polyline points="516.06,326.62 517.23,318.65 518.4,313.23 519.56,309.93 520.73,307.44 521.9,305.51 523.07,303.98 524.23,302.72 525.4,301.64 526.57,300.86 527.74,300.34 528.91,300.01 530.07,299.82 531.24,299.69 532.41,299.56 533.58,299.44 534.75,299.42 535.91,299.48 537.08,299.6 538.25,299.76 539.42,299.94 540.58,300.11 541.75,300.27 542.92,300.41 544.09,300.54 545.26,300.69 546.42,300.84 547.59,300.99 548.76,301.14 549.93,301.3 551.1,301.46 552.26,301.62 553.43,301.79 554.6,301.96 555.77,302.13 556.93,302.31 558.1,302.49 559.27,302.67 560.44,302.85 561.61,303.04 562.77,303.23 563.94,303.43 565.11,303.62 566.28,303.82 567.44,304.02 568.61,304.22 569.78,304.43 570.95,304.64 572.12,304.85 573.28,305.07 574.45,305.3 575.62,305.53 576.79,305.77 577.96,306.01 579.12,306.25 580.29,306.5 581.46,306.75 582.63,307 583.79,307.25 584.96,307.51 586.13,307.76 587.3,308.02 588.47,308.27 589.63,308.53 590.8,308.78 591.97,309.03 593.14,309.28 594.3,309.53 595.47,309.77 596.64,310.01 597.81,310.24 598.98,310.47 600.14,310.7 601.31,310.93 602.48,311.16 603.65,311.39 604.82,311.62 605.98,311.85 607.15,312.08 608.32,312.3 609.49,312.53 610.65,312.76 611.82,312.98 612.99,313.2 614.16,313.42 615.33,313.64 616.49,313.85 617.66,314.06 618.83,314.27 620,314.47 621.17,314.67 622.33,314.86 623.5,315.05 624.67,315.23 625.84,315.41 627,315.59 628.17,315.75 629.34,315.91 630.51,316.06 631.68,316.21 632.84,316.35 634.01,316.49 635.18,316.62 636.35,316.74 637.51,316.86 638.68,316.98 639.85,317.1 641.02,317.21 642.19,317.32 643.35,317.43 644.52,317.54 645.69,317.64 646.86,317.75 648.03,317.86 649.19,317.96 650.36,318.07 651.53,318.18 652.7,318.29 653.86,318.4 655.03,318.52 656.2,318.64" fill="none" stroke="#1e1ef0" stroke-width="1.1"/><circle cx="516.06" cy="345.72" r="1.4" fill="#111111"/><circle cx="524.64" cy="317.9" r="1.4" fill="#111111"/><circle cx="533.22" cy="311.78" r="1.4" fill="#111111"/><circle cx="541.8" cy="309.18" r="1.4" fill="#111111"/><circle cx="556.1" cy="306.95" r="1.4" fill="#111111"/><circle cx="570.4" cy="306.02" r="1.4" fill="#111111"/><circle cx="584.7" cy="305.47" r="1.4" fill="#111111"/><circle cx="599" cy="305.1" r="1.4" fill="#111111"/><circle cx="613.3" cy="304.73" r="1.4" fill="#111111"/><circle cx="627.6" cy="304.54" r="1.4" fill="#111111"/><circle cx="641.9" cy="304.36" r="1.4" fill="#111111"/><circle cx="656.2" cy="304.17" r="1.4" fill="#111111"/><circle cx="516.06" cy="357.22" r="1.4" fill="#f02222"/><circle cx="524.64" cy="323.65" r="1.4" fill="#f02222"/><circle cx="533.22" cy="315.67" r="1.4" fill="#f02222"/><circle cx="541.8" cy="311.96" r="1.4" fill="#f02222"/><circle cx="556.1" cy="308.07" r="1.4" fill="#f02222"/><circle cx="570.4" cy="306.58" r="1.4" fill="#f02222"/><circle cx="584.7" cy="305.84" r="1.4" fill="#f02222"/><circle cx="599" cy="305.28" r="1.4" fill="#f02222"/><circle cx="613.3" cy="304.91" r="1.4" fill="#f02222"/><circle cx="627.6" cy="304.54" r="1.4" fill="#f02222"/><circle cx="641.9" cy="304.36" r="1.4" fill="#f02222"/><circle cx="656.2" cy="304.17" r="1.4" fill="#f02222"/><polygon points="516.06,362.78 514.38,365.72 517.74,365.72" fill="#1e1ef0"/><polygon points="524.64,327.16 522.96,330.1 526.32,330.1" fill="#1e1ef0"/><polygon points="533.22,317.14 531.54,320.08 534.9,320.08" fill="#1e1ef0"/><polygon points="541.8,312.51 540.12,315.45 543.48,315.45" fill="#1e1ef0"/><polygon points="556.1,308.61 554.42,311.55 557.78,311.55" fill="#1e1ef0"/><polygon points="570.4,306.39 568.72,309.33 572.08,309.33" fill="#1e1ef0"/><polygon points="584.7,305.09 583.02,308.03 586.38,308.03" fill="#1e1ef0"/><polygon points="599,304.16 597.32,307.1 600.68,307.1" fill="#1e1ef0"/><polygon points="613.3,303.6 611.62,306.54 614.98,306.54" fill="#1e1ef0"/><polygon points="627.6,303.05 625.92,305.99 629.28,305.99" fill="#1e1ef0"/><polygon points="641.9,302.68 640.22,305.62 643.58,305.62" fill="#1e1ef0"/><polygon points="656.2,302.49 654.52,305.43 657.88,305.43" fill="#1e1ef0"/><rect x="507.7" y="383.6" width="152.8" height="39.1" fill="#e776fc" fill-opacity="0.38"/><line x1="507.7" y1="257.5" x2="660.5" y2="257.5" stroke="#ff38ff" stroke-width="1"/><line x1="660.5" y1="257.5" x2="660.5" y2="422.6" stroke="#ff38ff" stroke-width="1"/><line x1="507.7" y1="389.5" x2="509.7" y2="389.5" stroke="#262626" stroke-width="0.8"/><text x="503.9" y="392.4" font-size="8" text-anchor="end" fill="#222" stroke="#222" stroke-width="0.1">1.4</text><line x1="507.7" y1="352.4" x2="509.7" y2="352.4" stroke="#262626" stroke-width="0.8"/><text x="503.9" y="355.3" font-size="8" text-anchor="end" fill="#222" stroke="#222" stroke-width="0.1">1.6</text><line x1="507.7" y1="315.3" x2="509.7" y2="315.3" stroke="#262626" stroke-width="0.8"/><text x="503.9" y="318.2" font-size="8" text-anchor="end" fill="#222" stroke="#222" stroke-width="0.1">1.8</text><line x1="507.7" y1="278.2" x2="509.7" y2="278.2" stroke="#262626" stroke-width="0.8"/><text x="503.9" y="281.1" font-size="8" text-anchor="end" fill="#222" stroke="#222" stroke-width="0.1">2.0</text><line x1="513.2" y1="422.1" x2="513.2" y2="420.1" stroke="#262626" stroke-width="0.8"/><text x="513.2" y="430.4" font-size="7.6" text-anchor="middle" fill="#222" stroke="#222" stroke-width="0.1">0</text><line x1="541.8" y1="422.1" x2="541.8" y2="420.1" stroke="#262626" stroke-width="0.8"/><text x="541.8" y="430.4" font-size="7.6" text-anchor="middle" fill="#222" stroke="#222" stroke-width="0.1">1</text><line x1="570.4" y1="422.1" x2="570.4" y2="420.1" stroke="#262626" stroke-width="0.8"/><text x="570.4" y="430.4" font-size="7.6" text-anchor="middle" fill="#222" stroke="#222" stroke-width="0.1">2</text><line x1="599" y1="422.1" x2="599" y2="420.1" stroke="#262626" stroke-width="0.8"/><text x="599" y="430.4" font-size="7.6" text-anchor="middle" fill="#222" stroke="#222" stroke-width="0.1">3</text><line x1="627.6" y1="422.1" x2="627.6" y2="420.1" stroke="#262626" stroke-width="0.8"/><text x="627.6" y="430.4" font-size="7.6" text-anchor="middle" fill="#222" stroke="#222" stroke-width="0.1">4</text><line x1="656.2" y1="422.1" x2="656.2" y2="420.1" stroke="#262626" stroke-width="0.8"/><text x="656.2" y="430.4" font-size="7.6" text-anchor="middle" fill="#222" stroke="#222" stroke-width="0.1">5</text><line x1="660.5" y1="410.2" x2="657.9" y2="410.2" stroke="#ff38ff" stroke-width="0.9"/><text x="663.3" y="413.1" font-size="8.1" text-anchor="start" fill="#f040f0" stroke="#f040f0" stroke-width="0.1">0</text><line x1="660.5" y1="370.06" x2="657.9" y2="370.06" stroke="#ff38ff" stroke-width="0.9"/><text x="663.3" y="372.96" font-size="8.1" text-anchor="start" fill="#f040f0" stroke="#f040f0" stroke-width="0.1">20</text><line x1="660.5" y1="329.92" x2="657.9" y2="329.92" stroke="#ff38ff" stroke-width="0.9"/><text x="663.3" y="332.82" font-size="8.1" text-anchor="start" fill="#f040f0" stroke="#f040f0" stroke-width="0.1">40</text><line x1="660.5" y1="289.78" x2="657.9" y2="289.78" stroke="#ff38ff" stroke-width="0.9"/><text x="663.3" y="292.68" font-size="8.1" text-anchor="start" fill="#f040f0" stroke="#f040f0" stroke-width="0.1">60</text><text x="491" y="264.4" font-size="7.2" text-anchor="start" fill="#222" stroke="#222" stroke-width="0.1">x10<tspan font-size="4.5" dy="-3">3</tspan></text><text x="583.7" y="441.5" font-size="9" text-anchor="middle" fill="#222" stroke="#222" stroke-width="0.1">Elastic modulus of tear film (KPa)</text><text x="489.6" y="345.4" font-size="9" text-anchor="middle" fill="#222" stroke="#222" stroke-width="0.1" transform="rotate(-90 489.6 345.4)">Sensitivity (ppm/mmHg)</text><text x="681.5" y="336.6" font-size="9" text-anchor="middle" fill="#f040f0" stroke="#f040f0" stroke-width="0.1" transform="rotate(-90 681.5 336.6)">Relative error (100%)</text><text x="532.3" y="266.4" font-size="6.6" text-anchor="start" fill="#222" stroke="#222" stroke-width="0.1" font-style="italic" textLength="30.6" lengthAdjust="spacingAndGlyphs">h<tspan font-size="4.5" dy="1.5">2</tspan><tspan dy="-1.5"> = 10 μm</tspan></text><line x1="570" y1="264" x2="584.8" y2="264" stroke="#111111" stroke-width="1.1"/><line x1="599.6" y1="264" x2="617.7" y2="264" stroke="#444" stroke-width="0.6" stroke-dasharray="0.8,0.9"/><circle cx="607.8" cy="264" r="1.3" fill="#111111"/><line x1="629.2" y1="264" x2="645.6" y2="264" stroke="#111111" stroke-width="1.15" stroke-dasharray="2.6,1.6"/><polygon points="637.4,262.02 637.96,263.22 639.29,263.39 638.31,264.3 638.57,265.61 637.4,264.96 636.23,265.61 636.49,264.3 635.51,263.39 636.84,263.22" fill="#111111"/><text x="532.3" y="275.2" font-size="6.6" text-anchor="start" fill="#222" stroke="#222" stroke-width="0.1" font-style="italic" textLength="30.6" lengthAdjust="spacingAndGlyphs">h<tspan font-size="4.5" dy="1.5">2</tspan><tspan dy="-1.5"> = 15 μm</tspan></text><line x1="570" y1="272.8" x2="584.8" y2="272.8" stroke="#f02222" stroke-width="1.1"/><line x1="599.6" y1="272.8" x2="617.7" y2="272.8" stroke="#f55" stroke-width="0.6" stroke-dasharray="0.8,0.9"/><circle cx="607.8" cy="272.8" r="1.3" fill="#f02222"/><line x1="629.2" y1="272.8" x2="645.6" y2="272.8" stroke="#f02222" stroke-width="1.15" stroke-dasharray="2.6,1.6"/><polygon points="637.4,270.82 637.96,272.02 639.29,272.19 638.31,273.1 638.57,274.41 637.4,273.76 636.23,274.41 636.49,273.1 635.51,272.19 636.84,272.02" fill="#f02222"/><text x="532.3" y="284.2" font-size="6.6" text-anchor="start" fill="#222" stroke="#222" stroke-width="0.1" font-style="italic" textLength="30.6" lengthAdjust="spacingAndGlyphs">h<tspan font-size="4.5" dy="1.5">2</tspan><tspan dy="-1.5"> = 20 μm</tspan></text><line x1="570" y1="281.8" x2="584.8" y2="281.8" stroke="#1e1ef0" stroke-width="1.1"/><line x1="599.6" y1="281.8" x2="617.7" y2="281.8" stroke="#55f" stroke-width="0.6" stroke-dasharray="0.8,0.9"/><polygon points="607.8,280.24 606.24,282.97 609.36,282.97" fill="#1e1ef0"/><line x1="629.2" y1="281.8" x2="645.6" y2="281.8" stroke="#1e1ef0" stroke-width="1.15" stroke-dasharray="2.6,1.6"/><polygon points="637.4,279.82 637.96,281.02 639.29,281.19 638.31,282.1 638.57,283.41 637.4,282.76 636.23,283.41 636.49,282.1 635.51,281.19 636.84,281.02" fill="#1e1ef0"/><text x="577.6" y="292" font-size="6.8" text-anchor="middle" fill="#222" stroke="#222" stroke-width="0.1">Analytical</text><text x="608.5" y="292" font-size="6.8" text-anchor="middle" fill="#222" stroke="#222" stroke-width="0.1">FEM</text><text x="637.7" y="292" font-size="6.8" text-anchor="middle" fill="#222" stroke="#222" stroke-width="0.1">Error</text><line x1="507.7" y1="488.5" x2="507.7" y2="656.3" stroke="#262626" stroke-width="1.1"/><line x1="507.2" y1="655.8" x2="660.5" y2="655.8" stroke="#262626" stroke-width="1.1"/><polyline points="515.52,642.06 526.5,641.65 533.82,641.24 544.8,640.42 563.1,638.57 581.4,636.12 599.7,632.42 618,628.12 636.3,624.84 654.6,621.76" fill="none" stroke="#111111" stroke-width="1.15" stroke-dasharray="2.6,1.3,0.9,1.3"/><polygon points="515.52,640.26 516.03,641.36 517.23,641.5 516.35,642.33 516.58,643.51 515.52,642.93 514.46,643.51 514.69,642.33 513.81,641.5 515.01,641.36" fill="#111111"/><polygon points="526.5,639.85 527.01,640.95 528.21,641.09 527.33,641.92 527.56,643.1 526.5,642.52 525.44,643.1 525.67,641.92 524.79,641.09 525.99,640.95" fill="#111111"/><polygon points="533.82,639.44 534.33,640.54 535.53,640.68 534.65,641.51 534.88,642.69 533.82,642.11 532.76,642.69 532.99,641.51 532.11,640.68 533.31,640.54" fill="#111111"/><polygon points="544.8,638.62 545.31,639.72 546.51,639.86 545.63,640.69 545.86,641.87 544.8,641.29 543.74,641.87 543.97,640.69 543.09,639.86 544.29,639.72" fill="#111111"/><polygon points="563.1,636.78 563.61,637.87 564.81,638.02 563.93,638.84 564.16,640.03 563.1,639.44 562.04,640.03 562.27,638.84 561.39,638.02 562.59,637.87" fill="#111111"/><polygon points="581.4,634.32 581.91,635.41 583.11,635.56 582.23,636.38 582.46,637.57 581.4,636.99 580.34,637.57 580.57,636.38 579.69,635.56 580.89,635.41" fill="#111111"/><polygon points="599.7,630.63 600.21,631.72 601.41,631.87 600.53,632.69 600.76,633.88 599.7,633.29 598.64,633.88 598.87,632.69 597.99,631.87 599.19,631.72" fill="#111111"/><polygon points="618,626.32 618.51,627.42 619.71,627.56 618.83,628.39 619.06,629.57 618,628.99 616.94,629.57 617.17,628.39 616.29,627.56 617.49,627.42" fill="#111111"/><polygon points="636.3,623.04 636.81,624.14 638.01,624.28 637.13,625.11 637.36,626.29 636.3,625.71 635.24,626.29 635.47,625.11 634.59,624.28 635.79,624.14" fill="#111111"/><polygon points="654.6,619.97 655.11,621.06 656.31,621.21 655.43,622.03 655.66,623.22 654.6,622.63 653.54,623.22 653.77,622.03 652.89,621.21 654.09,621.06" fill="#111111"/><polyline points="515.52,647.6 526.5,648.62 533.82,649.24 544.8,645.95 563.1,641.86 581.4,637.14 599.7,632.22 618,627.3 636.3,623.2 654.6,619.1" fill="none" stroke="#f02222" stroke-width="1.15" stroke-dasharray="2.6,1.3,0.9,1.3"/><polygon points="515.52,645.8 516.03,646.89 517.23,647.04 516.35,647.86 516.58,649.05 515.52,648.47 514.46,649.05 514.69,647.86 513.81,647.04 515.01,646.89" fill="#f02222"/><polygon points="526.5,646.82 527.01,647.92 528.21,648.06 527.33,648.89 527.56,650.07 526.5,649.49 525.44,650.07 525.67,648.89 524.79,648.06 525.99,647.92" fill="#f02222"/><polygon points="533.82,647.44 534.33,648.53 535.53,648.68 534.65,649.5 534.88,650.69 533.82,650.11 532.76,650.69 532.99,649.5 532.11,648.68 533.31,648.53" fill="#f02222"/><polygon points="544.8,644.16 545.31,645.25 546.51,645.4 545.63,646.22 545.86,647.41 544.8,646.82 543.74,647.41 543.97,646.22 543.09,645.4 544.29,645.25" fill="#f02222"/><polygon points="563.1,640.06 563.61,641.15 564.81,641.3 563.93,642.12 564.16,643.31 563.1,642.73 562.04,643.31 562.27,642.12 561.39,641.3 562.59,641.15" fill="#f02222"/><polygon points="581.4,635.34 581.91,636.44 583.11,636.58 582.23,637.41 582.46,638.59 581.4,638.01 580.34,638.59 580.57,637.41 579.69,636.58 580.89,636.44" fill="#f02222"/><polygon points="599.7,630.42 600.21,631.52 601.41,631.66 600.53,632.49 600.76,633.67 599.7,633.09 598.64,633.67 598.87,632.49 597.99,631.66 599.19,631.52" fill="#f02222"/><polygon points="618,625.5 618.51,626.6 619.71,626.74 618.83,627.57 619.06,628.75 618,628.17 616.94,628.75 617.17,627.57 616.29,626.74 617.49,626.6" fill="#f02222"/><polygon points="636.3,621.4 636.81,622.5 638.01,622.64 637.13,623.47 637.36,624.65 636.3,624.07 635.24,624.65 635.47,623.47 634.59,622.64 635.79,622.5" fill="#f02222"/><polygon points="654.6,617.3 655.11,618.4 656.31,618.54 655.43,619.37 655.66,620.55 654.6,619.97 653.54,620.55 653.77,619.37 652.89,618.54 654.09,618.4" fill="#f02222"/><polyline points="515.52,648.62 526.5,650.67 533.82,651.9 544.8,650.26 563.1,644.93 581.4,638.78 599.7,632.83 618,626.68 636.3,621.15 654.6,615.82" fill="none" stroke="#1e1ef0" stroke-width="1.15" stroke-dasharray="2.6,1.3,0.9,1.3"/><polygon points="515.52,646.82 516.03,647.92 517.23,648.06 516.35,648.89 516.58,650.07 515.52,649.49 514.46,650.07 514.69,648.89 513.81,648.06 515.01,647.92" fill="#1e1ef0"/><polygon points="526.5,648.87 527.01,649.97 528.21,650.11 527.33,650.94 527.56,652.12 526.5,651.54 525.44,652.12 525.67,650.94 524.79,650.11 525.99,649.97" fill="#1e1ef0"/><polygon points="533.82,650.1 534.33,651.2 535.53,651.34 534.65,652.17 534.88,653.35 533.82,652.77 532.76,653.35 532.99,652.17 532.11,651.34 533.31,651.2" fill="#1e1ef0"/><polygon points="544.8,648.46 545.31,649.56 546.51,649.7 545.63,650.53 545.86,651.71 544.8,651.13 543.74,651.71 543.97,650.53 543.09,649.7 544.29,649.56" fill="#1e1ef0"/><polygon points="563.1,643.13 563.61,644.23 564.81,644.37 563.93,645.2 564.16,646.38 563.1,645.8 562.04,646.38 562.27,645.2 561.39,644.37 562.59,644.23" fill="#1e1ef0"/><polygon points="581.4,636.98 581.91,638.08 583.11,638.22 582.23,639.05 582.46,640.23 581.4,639.65 580.34,640.23 580.57,639.05 579.69,638.22 580.89,638.08" fill="#1e1ef0"/><polygon points="599.7,631.04 600.21,632.13 601.41,632.28 600.53,633.1 600.76,634.29 599.7,633.7 598.64,634.29 598.87,633.1 597.99,632.28 599.19,632.13" fill="#1e1ef0"/><polygon points="618,624.89 618.51,625.98 619.71,626.13 618.83,626.95 619.06,628.14 618,627.55 616.94,628.14 617.17,626.95 616.29,626.13 617.49,625.98" fill="#1e1ef0"/><polygon points="636.3,619.35 636.81,620.45 638.01,620.59 637.13,621.42 637.36,622.6 636.3,622.02 635.24,622.6 635.47,621.42 634.59,620.59 635.79,620.45" fill="#1e1ef0"/><polygon points="654.6,614.02 655.11,615.12 656.31,615.26 655.43,616.09 655.66,617.27 654.6,616.69 653.54,617.27 653.77,616.09 652.89,615.26 654.09,615.12" fill="#1e1ef0"/><polyline points="515.52,518.68 526.5,522.78 533.82,525.49 544.8,529.58 563.1,535.51 581.4,541.53 599.7,546.76 618,550.95 636.3,555.57 654.6,559.93" fill="none" stroke="#444" stroke-width="0.6" stroke-dasharray="0.8,0.9"/><polyline points="515.52,525.31 526.5,530.37 533.82,533.6 544.8,538.39 563.1,545.98 581.4,552.26 599.7,558.27 618,563.5 636.3,568.13 654.6,573.01" fill="none" stroke="#f44" stroke-width="0.6" stroke-dasharray="0.8,0.9"/><polyline points="515.52,531.76 526.5,537.17 533.82,541.01 544.8,546.94 563.1,554.17 581.4,561.59 599.7,568.13 618,573.01 636.3,577.98 654.6,582.86" fill="none" stroke="#44f" stroke-width="0.6" stroke-dasharray="0.8,0.9"/><polyline points="515.52,526.97 517.26,527.6 519,528.24 520.74,528.88 522.47,529.51 524.21,530.15 525.95,530.78 527.69,531.41 529.43,532.05 531.17,532.68 532.9,533.32 534.64,533.96 536.38,534.59 538.12,535.23 539.86,535.87 541.6,536.51 543.34,537.15 545.07,537.8 546.81,538.44 548.55,539.09 550.29,539.73 552.03,540.38 553.77,541.03 555.51,541.68 557.24,542.33 558.98,542.99 560.72,543.64 562.46,544.29 564.2,544.94 565.94,545.6 567.67,546.25 569.41,546.9 571.15,547.56 572.89,548.21 574.63,548.86 576.37,549.51 578.11,550.16 579.84,550.81 581.58,551.45 583.32,552.1 585.06,552.75 586.8,553.4 588.54,554.05 590.28,554.7 592.01,555.35 593.75,556 595.49,556.65 597.23,557.3 598.97,557.95 600.71,558.6 602.44,559.24 604.18,559.89 605.92,560.53 607.66,561.17 609.4,561.81 611.14,562.44 612.88,563.07 614.61,563.69 616.35,564.32 618.09,564.93 619.83,565.54 621.57,566.15 623.31,566.76 625.05,567.35 626.78,567.95 628.52,568.54 630.26,569.13 632,569.72 633.74,570.3 635.48,570.89 637.22,571.47 638.95,572.05 640.69,572.63 642.43,573.21 644.17,573.79 645.91,574.37 647.65,574.95 649.38,575.53 651.12,576.11 652.86,576.7 654.6,577.28" fill="none" stroke="#111111" stroke-width="1.1"/><polyline points="515.52,527.93 517.26,528.72 519,529.51 520.74,530.29 522.47,531.08 524.21,531.85 525.95,532.63 527.69,533.41 529.43,534.19 531.17,534.98 532.9,535.76 534.64,536.56 536.38,537.36 538.12,538.16 539.86,538.98 541.6,539.8 543.34,540.64 545.07,541.49 546.81,542.36 548.55,543.24 550.29,544.13 552.03,545.04 553.77,545.96 555.51,546.88 557.24,547.82 558.98,548.76 560.72,549.7 562.46,550.64 564.2,551.58 565.94,552.53 567.67,553.46 569.41,554.4 571.15,555.32 572.89,556.24 574.63,557.15 576.37,558.04 578.11,558.92 579.84,559.78 581.58,560.63 583.32,561.46 585.06,562.29 586.8,563.1 588.54,563.91 590.28,564.71 592.01,565.51 593.75,566.3 595.49,567.08 597.23,567.85 598.97,568.62 600.71,569.38 602.44,570.13 604.18,570.88 605.92,571.63 607.66,572.37 609.4,573.1 611.14,573.83 612.88,574.56 614.61,575.28 616.35,576 618.09,576.71 619.83,577.42 621.57,578.11 623.31,578.8 625.05,579.48 626.78,580.16 628.52,580.82 630.26,581.48 632,582.14 633.74,582.79 635.48,583.44 637.22,584.09 638.95,584.73 640.69,585.37 642.43,586.01 644.17,586.65 645.91,587.29 647.65,587.94 649.38,588.58 651.12,589.23 652.86,589.88 654.6,590.54" fill="none" stroke="#f02222" stroke-width="1.1"/><polyline points="515.52,529.58 517.26,530.58 519,531.58 520.74,532.57 522.47,533.56 524.21,534.56 525.95,535.55 527.69,536.54 529.43,537.53 531.17,538.53 532.9,539.52 534.64,540.52 536.38,541.52 538.12,542.52 539.86,543.53 541.6,544.54 543.34,545.56 545.07,546.58 546.81,547.61 548.55,548.65 550.29,549.7 552.03,550.76 553.77,551.82 555.51,552.9 557.24,553.97 558.98,555.05 560.72,556.13 562.46,557.2 564.2,558.28 565.94,559.34 567.67,560.41 569.41,561.46 571.15,562.51 572.89,563.54 574.63,564.56 576.37,565.57 578.11,566.56 579.84,567.53 581.58,568.49 583.32,569.43 585.06,570.36 586.8,571.27 588.54,572.18 590.28,573.08 592.01,573.97 593.75,574.84 595.49,575.71 597.23,576.57 598.97,577.42 600.71,578.27 602.44,579.1 604.18,579.93 605.92,580.75 607.66,581.56 609.4,582.37 611.14,583.17 612.88,583.96 614.61,584.75 616.35,585.53 618.09,586.3 619.83,587.07 621.57,587.83 623.31,588.57 625.05,589.3 626.78,590.02 628.52,590.73 630.26,591.43 632,592.13 633.74,592.82 635.48,593.51 637.22,594.19 638.95,594.87 640.69,595.54 642.43,596.22 644.17,596.89 645.91,597.57 647.65,598.25 649.38,598.93 651.12,599.61 652.86,600.3 654.6,601" fill="none" stroke="#1e1ef0" stroke-width="1.1"/><circle cx="515.52" cy="518.68" r="1.4" fill="#111111"/><circle cx="526.5" cy="522.78" r="1.4" fill="#111111"/><circle cx="533.82" cy="525.49" r="1.4" fill="#111111"/><circle cx="544.8" cy="529.58" r="1.4" fill="#111111"/><circle cx="563.1" cy="535.51" r="1.4" fill="#111111"/><circle cx="581.4" cy="541.53" r="1.4" fill="#111111"/><circle cx="599.7" cy="546.76" r="1.4" fill="#111111"/><circle cx="618" cy="550.95" r="1.4" fill="#111111"/><circle cx="636.3" cy="555.57" r="1.4" fill="#111111"/><circle cx="654.6" cy="559.93" r="1.4" fill="#111111"/><circle cx="515.52" cy="525.31" r="1.4" fill="#f02222"/><circle cx="526.5" cy="530.37" r="1.4" fill="#f02222"/><circle cx="533.82" cy="533.6" r="1.4" fill="#f02222"/><circle cx="544.8" cy="538.39" r="1.4" fill="#f02222"/><circle cx="563.1" cy="545.98" r="1.4" fill="#f02222"/><circle cx="581.4" cy="552.26" r="1.4" fill="#f02222"/><circle cx="599.7" cy="558.27" r="1.4" fill="#f02222"/><circle cx="618" cy="563.5" r="1.4" fill="#f02222"/><circle cx="636.3" cy="568.13" r="1.4" fill="#f02222"/><circle cx="654.6" cy="573.01" r="1.4" fill="#f02222"/><polygon points="515.52,530.08 513.84,533.02 517.2,533.02" fill="#1e1ef0"/><polygon points="526.5,535.49 524.82,538.43 528.18,538.43" fill="#1e1ef0"/><polygon points="533.82,539.33 532.14,542.27 535.5,542.27" fill="#1e1ef0"/><polygon points="544.8,545.26 543.12,548.2 546.48,548.2" fill="#1e1ef0"/><polygon points="563.1,552.49 561.42,555.43 564.78,555.43" fill="#1e1ef0"/><polygon points="581.4,559.91 579.72,562.85 583.08,562.85" fill="#1e1ef0"/><polygon points="599.7,566.45 598.02,569.39 601.38,569.39" fill="#1e1ef0"/><polygon points="618,571.33 616.32,574.27 619.68,574.27" fill="#1e1ef0"/><polygon points="636.3,576.3 634.62,579.24 637.98,579.24" fill="#1e1ef0"/><polygon points="654.6,581.18 652.92,584.12 656.28,584.12" fill="#1e1ef0"/><rect x="507.7" y="611.5" width="152.8" height="44.9" fill="#e776fc" fill-opacity="0.38"/><line x1="507.7" y1="489" x2="660.5" y2="489" stroke="#ff38ff" stroke-width="1"/><line x1="660.5" y1="489" x2="660.5" y2="656.3" stroke="#ff38ff" stroke-width="1"/><line x1="507.7" y1="625.94" x2="509.7" y2="625.94" stroke="#262626" stroke-width="0.8"/><text x="503.9" y="628.84" font-size="8" text-anchor="end" fill="#222" stroke="#222" stroke-width="0.1">8.0</text><line x1="507.7" y1="591.06" x2="509.7" y2="591.06" stroke="#262626" stroke-width="0.8"/><text x="503.9" y="593.96" font-size="8" text-anchor="end" fill="#222" stroke="#222" stroke-width="0.1">1.2</text><line x1="507.7" y1="556.18" x2="509.7" y2="556.18" stroke="#262626" stroke-width="0.8"/><text x="503.9" y="559.08" font-size="8" text-anchor="end" fill="#222" stroke="#222" stroke-width="0.1">1.6</text><line x1="507.7" y1="521.3" x2="509.7" y2="521.3" stroke="#262626" stroke-width="0.8"/><text x="503.9" y="524.2" font-size="8" text-anchor="end" fill="#222" stroke="#222" stroke-width="0.1">2.0</text><line x1="544.8" y1="655.8" x2="544.8" y2="653.8" stroke="#262626" stroke-width="0.8"/><text x="544.8" y="664.2" font-size="7.6" text-anchor="middle" fill="#222" stroke="#222" stroke-width="0.1">0.1</text><line x1="581.4" y1="655.8" x2="581.4" y2="653.8" stroke="#262626" stroke-width="0.8"/><text x="581.4" y="664.2" font-size="7.6" text-anchor="middle" fill="#222" stroke="#222" stroke-width="0.1">0.2</text><line x1="618" y1="655.8" x2="618" y2="653.8" stroke="#262626" stroke-width="0.8"/><text x="618" y="664.2" font-size="7.6" text-anchor="middle" fill="#222" stroke="#222" stroke-width="0.1">0.3</text><line x1="654.6" y1="655.8" x2="654.6" y2="653.8" stroke="#262626" stroke-width="0.8"/><text x="654.6" y="664.2" font-size="7.6" text-anchor="middle" fill="#222" stroke="#222" stroke-width="0.1">0.4</text><line x1="660.5" y1="651.9" x2="657.9" y2="651.9" stroke="#ff38ff" stroke-width="0.9"/><text x="663.3" y="654.8" font-size="8.1" text-anchor="start" fill="#f040f0" stroke="#f040f0" stroke-width="0.1">0</text><line x1="660.5" y1="610.9" x2="657.9" y2="610.9" stroke="#ff38ff" stroke-width="0.9"/><text x="663.3" y="613.8" font-size="8.1" text-anchor="start" fill="#f040f0" stroke="#f040f0" stroke-width="0.1">20</text><line x1="660.5" y1="569.9" x2="657.9" y2="569.9" stroke="#ff38ff" stroke-width="0.9"/><text x="663.3" y="572.8" font-size="8.1" text-anchor="start" fill="#f040f0" stroke="#f040f0" stroke-width="0.1">40</text><line x1="660.5" y1="528.9" x2="657.9" y2="528.9" stroke="#ff38ff" stroke-width="0.9"/><text x="663.3" y="531.8" font-size="8.1" text-anchor="start" fill="#f040f0" stroke="#f040f0" stroke-width="0.1">60</text><text x="491" y="496.2" font-size="7.2" text-anchor="start" fill="#222" stroke="#222" stroke-width="0.1">x10<tspan font-size="4.5" dy="-3">3</tspan></text><text x="583.7" y="676.3" font-size="9" text-anchor="middle" fill="#222" stroke="#222" stroke-width="0.1">Elastic modulus of contact lens (MPa)</text><text x="489.6" y="578.3" font-size="9" text-anchor="middle" fill="#222" stroke="#222" stroke-width="0.1" transform="rotate(-90 489.6 578.3)">Sensitivity (ppm/mmHg)</text><text x="681.5" y="573" font-size="9" text-anchor="middle" fill="#f040f0" stroke="#f040f0" stroke-width="0.1" transform="rotate(-90 681.5 573)">Relative error (100%)</text><text x="539.1" y="498.2" font-size="6.6" text-anchor="start" fill="#222" stroke="#222" stroke-width="0.1" font-style="italic" textLength="33.6" lengthAdjust="spacingAndGlyphs">h<tspan font-size="4.5" dy="1.5">3</tspan><tspan dy="-1.5"> = 0.3 mm</tspan></text><line x1="576.6" y1="495.8" x2="594" y2="495.8" stroke="#111111" stroke-width="1.1"/><line x1="608.5" y1="495.8" x2="626" y2="495.8" stroke="#444" stroke-width="0.6" stroke-dasharray="0.8,0.9"/><circle cx="617" cy="495.8" r="1.3" fill="#111111"/><line x1="637.4" y1="495.8" x2="653.8" y2="495.8" stroke="#111111" stroke-width="1.15" stroke-dasharray="2.6,1.6"/><polygon points="645.6,493.82 646.16,495.02 647.49,495.19 646.51,496.1 646.77,497.41 645.6,496.76 644.43,497.41 644.69,496.1 643.71,495.19 645.04,495.02" fill="#111111"/><text x="539.1" y="506.5" font-size="6.6" text-anchor="start" fill="#222" stroke="#222" stroke-width="0.1" font-style="italic" textLength="33.6" lengthAdjust="spacingAndGlyphs">h<tspan font-size="4.5" dy="1.5">3</tspan><tspan dy="-1.5"> = 0.4 mm</tspan></text><line x1="576.6" y1="504.1" x2="594" y2="504.1" stroke="#f02222" stroke-width="1.1"/><line x1="608.5" y1="504.1" x2="626" y2="504.1" stroke="#f55" stroke-width="0.6" stroke-dasharray="0.8,0.9"/><circle cx="617" cy="504.1" r="1.3" fill="#f02222"/><line x1="637.4" y1="504.1" x2="653.8" y2="504.1" stroke="#f02222" stroke-width="1.15" stroke-dasharray="2.6,1.6"/><polygon points="645.6,502.12 646.16,503.32 647.49,503.49 646.51,504.4 646.77,505.71 645.6,505.06 644.43,505.71 644.69,504.4 643.71,503.49 645.04,503.32" fill="#f02222"/><text x="539.1" y="514.5" font-size="6.6" text-anchor="start" fill="#222" stroke="#222" stroke-width="0.1" font-style="italic" textLength="33.6" lengthAdjust="spacingAndGlyphs">h<tspan font-size="4.5" dy="1.5">3</tspan><tspan dy="-1.5"> = 0.5 mm</tspan></text><line x1="576.6" y1="512.1" x2="594" y2="512.1" stroke="#1e1ef0" stroke-width="1.1"/><line x1="608.5" y1="512.1" x2="626" y2="512.1" stroke="#55f" stroke-width="0.6" stroke-dasharray="0.8,0.9"/><polygon points="617,510.54 615.44,513.27 618.56,513.27" fill="#1e1ef0"/><line x1="637.4" y1="512.1" x2="653.8" y2="512.1" stroke="#1e1ef0" stroke-width="1.15" stroke-dasharray="2.6,1.6"/><polygon points="645.6,510.12 646.16,511.32 647.49,511.49 646.51,512.4 646.77,513.71 645.6,513.06 644.43,513.71 644.69,512.4 643.71,511.49 645.04,511.32" fill="#1e1ef0"/><text x="586.5" y="523.9" font-size="6.8" text-anchor="middle" fill="#222" stroke="#222" stroke-width="0.1">Analytical</text><text x="617.7" y="523.9" font-size="6.8" text-anchor="middle" fill="#222" stroke="#222" stroke-width="0.1">FEM</text><text x="646.6" y="523.9" font-size="6.8" text-anchor="middle" fill="#222" stroke="#222" stroke-width="0.1">Error</text><line x1="507.6" y1="733.6" x2="507.6" y2="895.6" stroke="#262626" stroke-width="1.1"/><line x1="507.1" y1="895.1" x2="660.7" y2="895.1" stroke="#262626" stroke-width="1.1"/><polyline points="511.9,879.71 545.9,881.09 579.9,887 613.9,883.45 647.9,884.24" fill="none" stroke="#111111" stroke-width="1.15" stroke-dasharray="2.6,1.3,0.9,1.3"/><polygon points="511.9,877.91 512.41,879.01 513.61,879.16 512.73,879.98 512.96,881.17 511.9,880.58 510.84,881.17 511.07,879.98 510.19,879.16 511.39,879.01" fill="#111111"/><polygon points="545.9,879.29 546.41,880.39 547.61,880.53 546.73,881.36 546.96,882.54 545.9,881.96 544.84,882.54 545.07,881.36 544.19,880.53 545.39,880.39" fill="#111111"/><polygon points="579.9,885.2 580.41,886.3 581.61,886.44 580.73,887.27 580.96,888.45 579.9,887.87 578.84,888.45 579.07,887.27 578.19,886.44 579.39,886.3" fill="#111111"/><polygon points="613.9,881.66 614.41,882.75 615.61,882.9 614.73,883.72 614.96,884.91 613.9,884.32 612.84,884.91 613.07,883.72 612.19,882.9 613.39,882.75" fill="#111111"/><polygon points="647.9,882.44 648.41,883.54 649.61,883.69 648.73,884.51 648.96,885.7 647.9,885.11 646.84,885.7 647.07,884.51 646.19,883.69 647.39,883.54" fill="#111111"/><polyline points="511.9,879.71 545.9,881.09 579.9,887 613.9,882.67 647.9,883.85" fill="none" stroke="#f02222" stroke-width="1.15" stroke-dasharray="2.6,1.3,0.9,1.3"/><polygon points="511.9,877.91 512.41,879.01 513.61,879.16 512.73,879.98 512.96,881.17 511.9,880.58 510.84,881.17 511.07,879.98 510.19,879.16 511.39,879.01" fill="#f02222"/><polygon points="545.9,879.29 546.41,880.39 547.61,880.53 546.73,881.36 546.96,882.54 545.9,881.96 544.84,882.54 545.07,881.36 544.19,880.53 545.39,880.39" fill="#f02222"/><polygon points="579.9,885.2 580.41,886.3 581.61,886.44 580.73,887.27 580.96,888.45 579.9,887.87 578.84,888.45 579.07,887.27 578.19,886.44 579.39,886.3" fill="#f02222"/><polygon points="613.9,880.87 614.41,881.96 615.61,882.11 614.73,882.93 614.96,884.12 613.9,883.54 612.84,884.12 613.07,882.93 612.19,882.11 613.39,881.96" fill="#f02222"/><polygon points="647.9,882.05 648.41,883.14 649.61,883.29 648.73,884.12 648.96,885.3 647.9,884.72 646.84,885.3 647.07,884.12 646.19,883.29 647.39,883.14" fill="#f02222"/><polyline points="511.9,879.71 545.9,881.09 579.9,887 613.9,883.85 647.9,884.64" fill="none" stroke="#1e1ef0" stroke-width="1.15" stroke-dasharray="2.6,1.3,0.9,1.3"/><polygon points="511.9,877.91 512.41,879.01 513.61,879.16 512.73,879.98 512.96,881.17 511.9,880.58 510.84,881.17 511.07,879.98 510.19,879.16 511.39,879.01" fill="#1e1ef0"/><polygon points="545.9,879.29 546.41,880.39 547.61,880.53 546.73,881.36 546.96,882.54 545.9,881.96 544.84,882.54 545.07,881.36 544.19,880.53 545.39,880.39" fill="#1e1ef0"/><polygon points="579.9,885.2 580.41,886.3 581.61,886.44 580.73,887.27 580.96,888.45 579.9,887.87 578.84,888.45 579.07,887.27 578.19,886.44 579.39,886.3" fill="#1e1ef0"/><polygon points="613.9,882.05 614.41,883.14 615.61,883.29 614.73,884.12 614.96,885.3 613.9,884.72 612.84,885.3 613.07,884.12 612.19,883.29 613.39,883.14" fill="#1e1ef0"/><polygon points="647.9,882.84 648.41,883.93 649.61,884.08 648.73,884.9 648.96,886.09 647.9,885.51 646.84,886.09 647.07,884.9 646.19,884.08 647.39,883.93" fill="#1e1ef0"/><polyline points="511.9,821.63 545.9,820.2 579.9,809.75 613.9,800.01 647.9,778.16" fill="none" stroke="#444" stroke-width="0.6" stroke-dasharray="0.8,0.9"/><polyline points="511.9,821.63 545.9,820.2 579.9,813.31 613.9,804.53 647.9,793.84" fill="none" stroke="#f44" stroke-width="0.6" stroke-dasharray="0.8,0.9"/><polyline points="511.9,821.63 545.9,820.2 579.9,816.4 613.9,810.7 647.9,805" fill="none" stroke="#44f" stroke-width="0.6" stroke-dasharray="0.8,0.9"/><polyline points="511.9,813.56 513.7,813.55 515.5,813.53 517.31,813.51 519.11,813.49 520.91,813.47 522.71,813.45 524.51,813.42 526.32,813.4 528.12,813.37 529.92,813.34 531.72,813.31 533.52,813.28 535.33,813.24 537.13,813.2 538.93,813.16 540.73,813.11 542.53,813.06 544.34,813.01 546.14,812.96 547.94,812.9 549.74,812.83 551.54,812.76 553.35,812.69 555.15,812.61 556.95,812.53 558.75,812.44 560.55,812.34 562.36,812.24 564.16,812.13 565.96,812.01 567.76,811.88 569.56,811.74 571.37,811.6 573.17,811.44 574.97,811.27 576.77,811.09 578.57,810.9 580.38,810.69 582.18,810.47 583.98,810.23 585.78,809.98 587.58,809.71 589.39,809.41 591.19,809.1 592.99,808.77 594.79,808.41 596.59,808.02 598.4,807.61 600.2,807.16 602,806.69 603.8,806.18 605.6,805.64 607.41,805.05 609.21,804.43 611.01,803.76 612.81,803.04 614.61,802.27 616.42,801.44 618.22,800.56 620.02,799.61 621.82,798.6 623.62,797.51 625.43,796.35 627.23,795.1 629.03,793.76 630.83,792.32 632.63,790.79 634.44,789.14 636.24,787.37 638.04,785.48 639.84,783.46 641.64,781.28 643.45,778.96 645.25,776.46 647.05,773.79 648.85,770.92 650.65,767.85 652.46,764.56 654.26,761.04 656.06,757.26" fill="none" stroke="#111111" stroke-width="1.1"/><polyline points="511.9,813.47 513.7,813.45 515.5,813.43 517.31,813.41 519.11,813.39 520.91,813.37 522.71,813.35 524.51,813.32 526.32,813.3 528.12,813.27 529.92,813.24 531.72,813.21 533.52,813.18 535.33,813.14 537.13,813.11 538.93,813.07 540.73,813.03 542.53,812.99 544.34,812.94 546.14,812.89 547.94,812.84 549.74,812.79 551.54,812.74 553.35,812.68 555.15,812.61 556.95,812.55 558.75,812.48 560.55,812.41 562.36,812.33 564.16,812.25 565.96,812.16 567.76,812.07 569.56,811.97 571.37,811.87 573.17,811.76 574.97,811.65 576.77,811.53 578.57,811.4 580.38,811.27 582.18,811.13 583.98,810.98 585.78,810.82 587.58,810.65 589.39,810.48 591.19,810.29 592.99,810.1 594.79,809.89 596.59,809.67 598.4,809.44 600.2,809.2 602,808.94 603.8,808.67 605.6,808.38 607.41,808.08 609.21,807.76 611.01,807.42 612.81,807.06 614.61,806.68 616.42,806.28 618.22,805.86 620.02,805.42 621.82,804.95 623.62,804.45 625.43,803.93 627.23,803.38 629.03,802.79 630.83,802.17 632.63,801.52 634.44,800.83 636.24,800.11 638.04,799.34 639.84,798.53 641.64,797.67 643.45,796.77 645.25,795.82 647.05,794.81 648.85,793.74 650.65,792.62 652.46,791.43 654.26,790.17 656.06,788.85" fill="none" stroke="#f02222" stroke-width="1.1"/><polyline points="511.9,813.77 513.7,813.77 515.5,813.77 517.31,813.77 519.11,813.76 520.91,813.76 522.71,813.76 524.51,813.76 526.32,813.76 528.12,813.75 529.92,813.75 531.72,813.75 533.52,813.74 535.33,813.74 537.13,813.74 538.93,813.73 540.73,813.73 542.53,813.72 544.34,813.72 546.14,813.71 547.94,813.7 549.74,813.7 551.54,813.69 553.35,813.68 555.15,813.67 556.95,813.66 558.75,813.65 560.55,813.64 562.36,813.63 564.16,813.62 565.96,813.6 567.76,813.59 569.56,813.57 571.37,813.56 573.17,813.54 574.97,813.52 576.77,813.49 578.57,813.47 580.38,813.44 582.18,813.41 583.98,813.38 585.78,813.35 587.58,813.31 589.39,813.28 591.19,813.23 592.99,813.19 594.79,813.14 596.59,813.09 598.4,813.03 600.2,812.97 602,812.9 603.8,812.83 605.6,812.75 607.41,812.66 609.21,812.57 611.01,812.47 612.81,812.36 614.61,812.24 616.42,812.12 618.22,811.98 620.02,811.83 621.82,811.67 623.62,811.49 625.43,811.31 627.23,811.1 629.03,810.88 630.83,810.64 632.63,810.38 634.44,810.1 636.24,809.8 638.04,809.47 639.84,809.12 641.64,808.74 643.45,808.32 645.25,807.87 647.05,807.39 648.85,806.86 650.65,806.29 652.46,805.68 654.26,805.01 656.06,804.29" fill="none" stroke="#1e1ef0" stroke-width="1.1"/><circle cx="511.9" cy="821.63" r="1.4" fill="#111111"/><circle cx="545.9" cy="820.2" r="1.4" fill="#111111"/><circle cx="579.9" cy="809.75" r="1.4" fill="#111111"/><circle cx="613.9" cy="800.01" r="1.4" fill="#111111"/><circle cx="647.9" cy="778.16" r="1.4" fill="#111111"/><circle cx="511.9" cy="821.63" r="1.4" fill="#f02222"/><circle cx="545.9" cy="820.2" r="1.4" fill="#f02222"/><circle cx="579.9" cy="813.31" r="1.4" fill="#f02222"/><circle cx="613.9" cy="804.53" r="1.4" fill="#f02222"/><circle cx="647.9" cy="793.84" r="1.4" fill="#f02222"/><polygon points="511.9,819.95 510.22,822.89 513.58,822.89" fill="#1e1ef0"/><polygon points="545.9,818.52 544.22,821.46 547.58,821.46" fill="#1e1ef0"/><polygon points="579.9,814.72 578.22,817.66 581.58,817.66" fill="#1e1ef0"/><polygon points="613.9,809.02 612.22,811.96 615.58,811.96" fill="#1e1ef0"/><polygon points="647.9,803.32 646.22,806.26 649.58,806.26" fill="#1e1ef0"/><rect x="507.6" y="851.4" width="153.1" height="44.3" fill="#e776fc" fill-opacity="0.38"/><line x1="507.6" y1="734.1" x2="660.7" y2="734.1" stroke="#ff38ff" stroke-width="1"/><line x1="660.7" y1="734.1" x2="660.7" y2="895.6" stroke="#ff38ff" stroke-width="1"/><line x1="507.6" y1="848.7" x2="509.6" y2="848.7" stroke="#262626" stroke-width="0.8"/><text x="503.8" y="851.6" font-size="8" text-anchor="end" fill="#222" stroke="#222" stroke-width="0.1">1.6</text><line x1="507.6" y1="801.2" x2="509.6" y2="801.2" stroke="#262626" stroke-width="0.8"/><text x="503.8" y="804.1" font-size="8" text-anchor="end" fill="#222" stroke="#222" stroke-width="0.1">1.8</text><line x1="507.6" y1="753.7" x2="509.6" y2="753.7" stroke="#262626" stroke-width="0.8"/><text x="503.8" y="756.6" font-size="8" text-anchor="end" fill="#222" stroke="#222" stroke-width="0.1">2.0</text><line x1="522.1" y1="895.1" x2="522.1" y2="893.1" stroke="#262626" stroke-width="0.8"/><text x="522.1" y="904.8" font-size="7.6" text-anchor="middle" fill="#222" stroke="#222" stroke-width="0.1">4.5</text><line x1="556.1" y1="895.1" x2="556.1" y2="893.1" stroke="#262626" stroke-width="0.8"/><text x="556.1" y="904.8" font-size="7.6" text-anchor="middle" fill="#222" stroke="#222" stroke-width="0.1">5.0</text><line x1="590.1" y1="895.1" x2="590.1" y2="893.1" stroke="#262626" stroke-width="0.8"/><text x="590.1" y="904.8" font-size="7.6" text-anchor="middle" fill="#222" stroke="#222" stroke-width="0.1">5.5</text><line x1="624.1" y1="895.1" x2="624.1" y2="893.1" stroke="#262626" stroke-width="0.8"/><text x="624.1" y="904.8" font-size="7.6" text-anchor="middle" fill="#222" stroke="#222" stroke-width="0.1">6.0</text><line x1="658.1" y1="895.1" x2="658.1" y2="893.1" stroke="#262626" stroke-width="0.8"/><text x="658.1" y="904.8" font-size="7.6" text-anchor="middle" fill="#222" stroke="#222" stroke-width="0.1">6.5</text><line x1="660.7" y1="887" x2="658.1" y2="887" stroke="#ff38ff" stroke-width="0.9"/><text x="663.5" y="889.9" font-size="8.1" text-anchor="start" fill="#f040f0" stroke="#f040f0" stroke-width="0.1">0</text><line x1="660.7" y1="847.6" x2="658.1" y2="847.6" stroke="#ff38ff" stroke-width="0.9"/><text x="663.5" y="850.5" font-size="8.1" text-anchor="start" fill="#f040f0" stroke="#f040f0" stroke-width="0.1">10</text><line x1="660.7" y1="808.2" x2="658.1" y2="808.2" stroke="#ff38ff" stroke-width="0.9"/><text x="663.5" y="811.1" font-size="8.1" text-anchor="start" fill="#f040f0" stroke="#f040f0" stroke-width="0.1">20</text><line x1="660.7" y1="768.8" x2="658.1" y2="768.8" stroke="#ff38ff" stroke-width="0.9"/><text x="663.5" y="771.7" font-size="8.1" text-anchor="start" fill="#f040f0" stroke="#f040f0" stroke-width="0.1">30</text><text x="491.3" y="744.5" font-size="7.2" text-anchor="start" fill="#222" stroke="#222" stroke-width="0.1">x10<tspan font-size="4.5" dy="-3">3</tspan></text><text x="584" y="917" font-size="9" text-anchor="middle" fill="#222" stroke="#222" stroke-width="0.1">Coil distribution radius (mm)</text><text x="491.8" y="818.3" font-size="9" text-anchor="middle" fill="#222" stroke="#222" stroke-width="0.1" transform="rotate(-90 491.8 818.3)">Sensitivity (ppm/mmHg)</text><text x="681.5" y="815" font-size="9" text-anchor="middle" fill="#f040f0" stroke="#f040f0" stroke-width="0.1" transform="rotate(-90 681.5 815)">Relative error (100%)</text><text x="518.4" y="744.7" font-size="6.6" text-anchor="start" fill="#222" stroke="#222" stroke-width="0.1" font-style="italic" textLength="34.6" lengthAdjust="spacingAndGlyphs">D<tspan font-size="4.5" dy="1.5">1</tspan><tspan dy="-1.5"> = 13.5 mm</tspan></text><line x1="564.4" y1="742.3" x2="578" y2="742.3" stroke="#111111" stroke-width="1.1"/><line x1="591.2" y1="742.3" x2="609.5" y2="742.3" stroke="#444" stroke-width="0.6" stroke-dasharray="0.8,0.9"/><circle cx="599.8" cy="742.3" r="1.3" fill="#111111"/><line x1="619.3" y1="742.3" x2="635.8" y2="742.3" stroke="#111111" stroke-width="1.15" stroke-dasharray="2.6,1.6"/><polygon points="628,740.32 628.56,741.52 629.89,741.69 628.91,742.6 629.17,743.91 628,743.26 626.83,743.91 627.09,742.6 626.11,741.69 627.44,741.52" fill="#111111"/><text x="518.4" y="755.5" font-size="6.6" text-anchor="start" fill="#222" stroke="#222" stroke-width="0.1" font-style="italic" textLength="34.6" lengthAdjust="spacingAndGlyphs">D<tspan font-size="4.5" dy="1.5">1</tspan><tspan dy="-1.5"> = 14.0 mm</tspan></text><line x1="564.4" y1="753.1" x2="578" y2="753.1" stroke="#f02222" stroke-width="1.1"/><line x1="591.2" y1="753.1" x2="609.5" y2="753.1" stroke="#f55" stroke-width="0.6" stroke-dasharray="0.8,0.9"/><circle cx="599.8" cy="753.1" r="1.3" fill="#f02222"/><line x1="619.3" y1="753.1" x2="635.8" y2="753.1" stroke="#f02222" stroke-width="1.15" stroke-dasharray="2.6,1.6"/><polygon points="628,751.12 628.56,752.32 629.89,752.49 628.91,753.4 629.17,754.71 628,754.06 626.83,754.71 627.09,753.4 626.11,752.49 627.44,752.32" fill="#f02222"/><text x="518.4" y="766" font-size="6.6" text-anchor="start" fill="#222" stroke="#222" stroke-width="0.1" font-style="italic" textLength="34.6" lengthAdjust="spacingAndGlyphs">D<tspan font-size="4.5" dy="1.5">1</tspan><tspan dy="-1.5"> = 14.5 mm</tspan></text><line x1="564.4" y1="763.6" x2="578" y2="763.6" stroke="#1e1ef0" stroke-width="1.1"/><line x1="591.2" y1="763.6" x2="609.5" y2="763.6" stroke="#55f" stroke-width="0.6" stroke-dasharray="0.8,0.9"/><polygon points="599.8,762.04 598.24,764.77 601.36,764.77" fill="#1e1ef0"/><line x1="619.3" y1="763.6" x2="635.8" y2="763.6" stroke="#1e1ef0" stroke-width="1.15" stroke-dasharray="2.6,1.6"/><polygon points="628,761.62 628.56,762.82 629.89,762.99 628.91,763.9 629.17,765.21 628,764.56 626.83,765.21 627.09,763.9 626.11,762.99 627.44,762.82" fill="#1e1ef0"/><text x="571.5" y="775" font-size="6.8" text-anchor="middle" fill="#222" stroke="#222" stroke-width="0.1">Analytical</text><text x="601.4" y="775" font-size="6.8" text-anchor="middle" fill="#222" stroke="#222" stroke-width="0.1">FEM</text><text x="629.9" y="775" font-size="6.8" text-anchor="middle" fill="#222" stroke="#222" stroke-width="0.1">Error</text><text transform="translate(3.0 15.0) scale(0.9 1)" x="0" y="0" font-size="20.5" font-weight="bold" font-family='"Liberation Serif", serif' fill="#111">a</text><text transform="translate(232.8 15.0) scale(0.9 1)" x="0" y="0" font-size="20.5" font-weight="bold" font-family='"Liberation Serif", serif' fill="#111">e</text><text transform="translate(472.0 15.0) scale(0.9 1)" x="0" y="0" font-size="20.5" font-weight="bold" font-family='"Liberation Serif", serif' fill="#111">f</text><text transform="translate(2.6 229.0) scale(0.9 1)" x="0" y="0" font-size="20.5" font-weight="bold" font-family='"Liberation Serif", serif' fill="#111">b</text><text transform="translate(232.6 242.5) scale(0.9 1)" x="0" y="0" font-size="20.5" font-weight="bold" font-family='"Liberation Serif", serif' fill="#111">g</text><text transform="translate(470.3 241.9) scale(0.9 1)" x="0" y="0" font-size="20.5" font-weight="bold" font-family='"Liberation Serif", serif' fill="#111">h</text><text transform="translate(3.3 481.5) scale(0.9 1)" x="0" y="0" font-size="20.5" font-weight="bold" font-family='"Liberation Serif", serif' fill="#111">c</text><text transform="translate(232.8 481.5) scale(0.9 1)" x="0" y="0" font-size="20.5" font-weight="bold" font-family='"Liberation Serif", serif' fill="#111">i</text><text transform="translate(470.6 480.8) scale(0.9 1)" x="0" y="0" font-size="20.5" font-weight="bold" font-family='"Liberation Serif", serif' fill="#111">j</text><text transform="translate(4.0 711.0) scale(0.9 1)" x="0" y="0" font-size="20.5" font-weight="bold" font-family='"Liberation Serif", serif' fill="#111">d</text><text transform="translate(234.0 711.0) scale(0.9 1)" x="0" y="0" font-size="20.5" font-weight="bold" font-family='"Liberation Serif", serif' fill="#111">k</text><text transform="translate(472.3 710.3) scale(0.9 1)" x="0" y="0" font-size="20.5" font-weight="bold" font-family='"Liberation Serif", serif' fill="#111">l</text></svg></body></html>
